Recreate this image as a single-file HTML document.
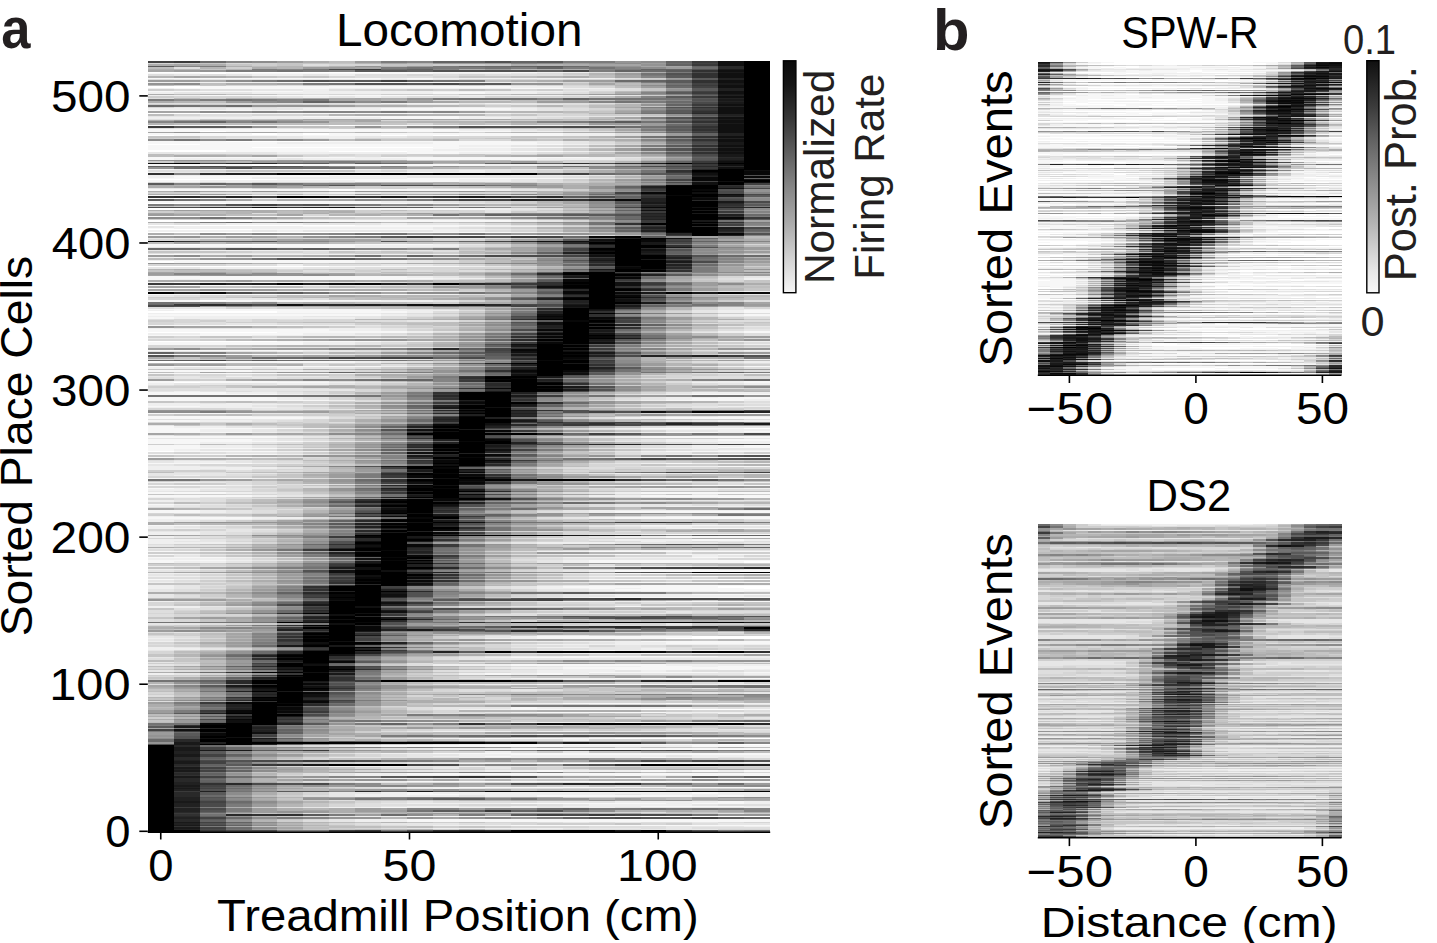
<!DOCTYPE html>
<html><head><meta charset="utf-8"><style>
html,body{margin:0;padding:0;background:#fff;width:1437px;height:943px;overflow:hidden;position:relative}
</style></head><body>
<svg width="1437" height="943" viewBox="0 0 1437 943" style="position:absolute;left:0;top:0">
<defs><linearGradient id="cb" x1="0" y1="0" x2="0" y2="1"><stop offset="0" stop-color="#0a0a0a"/><stop offset="0.1" stop-color="#151515"/><stop offset="0.25" stop-color="#373737"/><stop offset="0.4" stop-color="#5f5f5f"/><stop offset="0.55" stop-color="#878787"/><stop offset="0.7" stop-color="#aaaaaa"/><stop offset="0.85" stop-color="#d2d2d2"/><stop offset="1" stop-color="#f5f5f5"/></linearGradient><linearGradient id="cb2" x1="0" y1="0" x2="0" y2="1"><stop offset="0" stop-color="#101010"/><stop offset="0.2" stop-color="#3c3c3c"/><stop offset="0.35" stop-color="#646464"/><stop offset="0.5" stop-color="#878787"/><stop offset="0.7" stop-color="#b4b4b4"/><stop offset="0.9" stop-color="#e6e6e6"/><stop offset="1" stop-color="#f8f8f8"/></linearGradient></defs>
<g shape-rendering="crispEdges">
<rect x="148" y="61.3" width="622" height="770.7" fill="#fff"/>
<g stroke-width="1.72">
<path stroke="#f7f7f7" d="M381 72.3H537M148 73.8H200M226 73.8H433M148 78.2H381M407 78.2H433M277 82.6H459M200 87.0H511M174 88.5H329M511 88.5H563M148 91.5H303M433 92.9H485M200 95.9H433M381 109.1H511M148 110.6H252M277 110.6H303M329 110.6H355M226 113.5H433M303 116.5H459M381 117.9H459M148 125.3H329M355 125.3H511M148 129.7H459M148 131.2H200M226 131.2H511M148 134.1H252M277 134.1H303M329 134.1H563M174 135.6H381M407 135.6H433M459 135.6H563M148 141.5H226M329 141.5H511M148 142.9H277M433 142.9H537M200 144.4H563M148 145.9H459M148 147.3H252M433 147.3H563M148 148.8H459M226 150.3H433M226 151.8H329M407 151.8H563M407 153.2H459M148 157.6H355M381 157.6H589M148 159.1H174M407 159.1H537M148 165.0H252M303 165.0H485M148 169.4H174M303 169.4H329M407 172.3H433M226 175.3H381M174 176.8H329M148 178.2H252M407 178.2H563M277 179.7H459M148 181.2H200M355 181.2H459M148 190.0H329M355 190.0H485M148 195.9H200M226 195.9H277M148 198.8H174M200 198.8H459M148 201.8H381M226 203.2H407M329 209.1H485M148 216.5H303M329 216.5H433M252 220.9H511M355 225.3H485M303 226.8H459M148 228.2H174M252 229.7H433M381 232.6H511M148 235.6H537M148 244.4H174M200 244.4H226M277 244.4H433M148 245.9H355M303 247.4H355M148 254.7H200M174 257.7H226M252 257.7H407M174 260.6H355M174 262.1H355M329 266.5H459M148 276.8H407M148 278.2H433M148 279.7H174M200 279.7H407M174 282.7H200M252 282.7H277M174 285.6H303M148 288.5H303M303 291.5H407M148 294.4H407M148 300.3H200M226 300.3H381M148 301.8H252M277 301.8H329M148 309.1H381M174 310.6H381M744 310.6H770M277 312.1H407M744 312.1H770M148 315.0H381M744 315.0H770M148 318.0H174M148 325.3H303M148 329.7H329M148 331.2H407M744 331.2H770M277 332.7H407M744 332.7H770M200 334.1H303M148 335.6H252M277 341.5H381M148 343.0H303M148 344.4H303M148 350.3H303M148 354.7H303M226 362.1H355M148 366.5H381M744 366.5H770M148 370.9H252M148 373.8H329M148 381.2H277M744 381.2H770M148 382.7H174M200 382.7H329M744 382.7H770M148 393.0H226M148 394.4H277M692 394.4H770M148 397.4H277M718 397.4H770M148 398.8H277M692 398.8H770M148 400.3H329M666 400.3H744M148 406.2H200M148 413.6H226M744 413.6H770M148 416.5H252M148 418.0H303M666 418.0H770M148 420.9H200M148 426.8H174M148 428.3H303M641 428.3H744M148 429.7H200M148 431.2H200M744 431.2H770M148 432.7H252M666 432.7H718M148 437.1H277M641 437.1H770M148 440.0H252M718 440.0H770M148 441.5H303M148 443.0H200M148 445.9H200M744 445.9H770M148 447.4H200M718 447.4H770M148 448.9H277M148 450.3H174M174 451.8H277M666 451.8H770M148 454.7H277M692 454.7H770M148 457.7H252M666 457.7H770M148 463.6H252M666 463.6H692M718 466.5H770M148 478.3H252M692 478.3H770M148 485.6H226M641 485.6H770M148 488.6H174M148 493.0H226M641 493.0H770M148 495.9H252M641 495.9H770M718 497.4H770M148 504.7H174M148 510.6H200M148 512.1H200M615 512.1H770M148 518.0H252M615 518.0H770M148 525.3H200M641 525.3H770M692 528.3H770M666 534.2H770M666 537.1H770M692 540.0H744M148 551.8H200M589 551.8H770M148 554.8H174M615 554.8H641M666 554.8H692M718 554.8H770M148 557.7H226M692 557.7H744M148 560.6H226M589 560.6H770M148 562.1H174M589 562.1H744M615 570.9H770M615 573.9H770M615 576.8H666M692 576.8H718M148 579.8H174M589 579.8H718M615 582.7H770M641 585.6H770M563 587.1H718M589 588.6H615M641 588.6H744M615 590.1H770M718 591.5H744M692 594.5H770M589 597.4H770M666 601.8H770M615 606.2H641M537 637.1H692M537 638.6H666M641 641.5H770M666 643.0H770M589 650.4H615M641 653.3H666M692 653.3H770M563 656.2H718M511 657.7H589M511 665.1H666M641 666.5H692M718 666.5H770M563 668.0H770M615 669.5H692M718 669.5H744M589 672.4H718M744 672.4H770M485 673.9H511M537 673.9H563M615 678.3H770M537 684.2H666M563 703.3H641M666 703.3H692M718 703.3H744M511 707.7H537M511 709.2H641M744 709.2H770M537 712.1H666M615 722.4H666M718 722.4H744M459 738.6H615M511 744.5H718M381 746.0H563M692 746.0H770M511 748.9H770M433 753.3H770M511 754.8H770M485 756.3H511M641 757.7H666M537 763.6H666M537 771.0H563M641 771.0H666M692 771.0H718M744 771.0H770M407 773.9H770M615 775.4H641M692 775.4H718M744 775.4H770M615 778.3H770M407 781.3H770M459 787.1H770M407 793.0H433M692 793.0H718M407 794.5H459M537 796.0H692M718 796.0H744M718 801.8H744M511 803.3H666M692 803.3H744M641 806.3H744M381 807.7H407M407 816.6H641M407 819.5H770M407 821.0H770M511 825.4H770"/>
<path stroke="#efefef" d="M537 72.3H589M433 73.8H511M252 75.3H303M329 75.3H355M381 78.2H407M433 78.2H615M355 79.7H381M407 79.7H433M148 82.6H277M459 82.6H511M511 87.0H563M148 88.5H174M329 88.5H511M563 88.5H615M303 90.0H329M303 91.5H563M148 92.9H174M252 92.9H433M485 92.9H537M148 95.9H200M433 95.9H563M589 95.9H615M303 97.3H329M355 97.3H381M381 103.2H459M485 103.2H511M433 107.6H485M148 109.1H200M226 109.1H252M303 109.1H381M511 109.1H537M252 110.6H277M303 110.6H329M355 110.6H537M433 113.5H511M252 116.5H303M459 116.5H485M148 117.9H381M459 117.9H511M511 125.3H563M252 128.2H277M459 129.7H511M511 131.2H563M563 134.1H615M563 135.6H615M303 137.0H355M329 138.5H355M511 141.5H563M277 142.9H433M537 142.9H563M563 144.4H589M459 145.9H511M563 147.3H589M459 148.8H511M433 150.3H511M563 151.8H589M277 153.2H407M459 153.2H511M355 157.6H381M589 157.6H615M174 159.1H277M303 159.1H407M537 159.1H615M485 165.0H537M174 169.4H303M329 169.4H381M459 170.9H485M148 172.3H174M355 172.3H407M433 172.3H485M148 175.3H226M381 175.3H485M511 175.3H589M148 176.8H174M329 176.8H407M252 178.2H407M563 178.2H589M459 179.7H511M200 181.2H355M459 181.2H511M485 190.0H511M329 192.9H355M200 195.9H226M277 195.9H459M459 198.8H485M381 201.8H433M407 203.2H459M485 209.1H511M303 216.5H329M433 216.5H485M511 220.9H537M226 223.8H303M381 223.8H407M485 225.3H511M174 226.8H303M459 226.8H537M174 228.2H433M433 229.7H485M148 231.2H252M277 231.2H303M433 231.2H459M511 232.6H537M537 235.6H563M433 244.4H459M355 245.9H459M252 247.4H303M355 247.4H407M200 250.3H381M200 254.7H459M148 257.7H174M226 257.7H252M407 257.7H433M148 260.6H174M355 260.6H407M355 262.1H407M277 265.0H303M459 266.5H485M200 267.9H303M407 276.8H433M433 278.2H485M744 278.2H770M174 279.7H200M407 279.7H433M744 279.7H770M148 282.7H174M200 282.7H252M277 282.7H329M148 285.6H174M303 285.6H329M303 288.5H355M148 291.5H174M200 291.5H303M407 291.5H433M744 291.5H770M407 294.4H459M381 300.3H433M252 301.8H277M329 301.8H433M381 309.1H407M744 309.1H770M148 310.6H174M381 310.6H459M718 310.6H744M407 312.1H433M718 312.1H744M148 313.5H381M381 315.0H407M718 315.0H744M148 316.5H303M174 318.0H355M303 325.3H355M148 328.3H174M303 328.3H381M329 329.7H381M407 331.2H433M718 331.2H744M407 332.7H433M718 332.7H744M148 334.1H200M303 334.1H355M252 335.6H381M252 338.5H381M381 341.5H433M718 341.5H770M303 343.0H355M303 344.4H355M744 344.4H770M381 347.4H407M303 350.3H329M744 350.3H770M277 351.8H303M303 354.7H329M277 359.1H303M744 359.1H770M355 362.1H381M744 362.1H770M381 366.5H407M718 366.5H744M148 368.0H174M226 368.0H252M277 368.0H303M252 370.9H303M329 373.8H355M744 373.8H770M226 376.8H252M277 381.2H329M718 381.2H744M329 382.7H355M692 382.7H744M148 384.1H174M277 384.1H329M744 384.1H770M174 391.5H200M226 393.0H277M692 393.0H770M277 394.4H303M666 394.4H692M277 397.4H303M666 397.4H718M277 398.8H303M666 398.8H692M329 400.3H355M641 400.3H666M744 400.3H770M148 403.3H200M226 403.3H252M148 404.7H329M200 406.2H252M718 406.2H770M148 407.7H277M226 413.6H252M718 413.6H744M252 416.5H303M718 416.5H770M303 418.0H329M615 418.0H666M200 420.9H252M718 420.9H770M174 426.8H226M303 428.3H329M615 428.3H641M200 429.7H252M641 429.7H770M200 431.2H252M718 431.2H744M252 432.7H277M641 432.7H666M718 432.7H770M277 437.1H303M615 437.1H641M252 440.0H277M666 440.0H718M303 441.5H329M666 441.5H770M200 443.0H252M718 443.0H770M200 445.9H252M692 445.9H744M200 447.4H252M692 447.4H718M277 448.9H303M641 448.9H718M174 450.3H200M718 450.3H770M277 451.8H329M641 451.8H666M277 454.7H303M666 454.7H692M252 457.7H277M615 457.7H666M174 462.1H226M252 463.6H277M641 463.6H666M692 463.6H770M148 466.5H200M666 466.5H718M148 468.0H277M148 469.4H200M226 469.4H252M615 473.9H666M692 473.9H718M174 475.3H200M252 478.3H277M641 478.3H692M148 482.7H200M744 482.7H770M226 485.6H252M589 485.6H641M174 488.6H226M641 488.6H770M148 490.0H200M226 493.0H252M615 493.0H641M252 495.9H277M589 495.9H641M148 497.4H200M666 497.4H718M148 500.3H174M148 501.8H174M174 504.7H200M148 506.2H174M666 506.2H770M200 510.6H226M589 510.6H770M200 512.1H226M589 512.1H615M148 516.5H174M666 516.5H770M252 518.0H303M589 518.0H615M148 519.5H252M148 520.9H174M200 525.3H226M615 525.3H641M148 526.8H174M641 526.8H692M148 528.3H200M666 528.3H692M148 532.7H200M148 534.2H200M641 534.2H666M148 537.1H174M615 537.1H666M148 540.0H200M615 540.0H692M744 540.0H770M148 541.5H174M641 541.5H666M148 543.0H226M537 543.0H615M615 550.3H692M200 551.8H252M537 551.8H589M174 554.8H200M563 554.8H615M641 554.8H666M692 554.8H718M692 556.2H718M226 557.7H252M563 557.7H692M744 557.7H770M148 559.2H226M226 560.6H252M563 560.6H589M174 562.1H226M563 562.1H589M148 566.5H174M589 566.5H692M148 569.5H200M692 569.5H718M744 569.5H770M589 570.9H615M148 573.9H200M589 573.9H615M148 576.8H200M589 576.8H615M666 576.8H692M718 576.8H744M174 579.8H200M563 579.8H589M148 582.7H174M589 582.7H615M148 585.6H174M589 585.6H641M148 587.1H174M537 587.1H563M148 588.6H174M537 588.6H589M615 588.6H641M589 590.1H615M641 591.5H718M744 591.5H770M589 594.5H692M615 595.9H744M563 597.4H589M148 601.8H174M563 601.8H666M148 606.2H200M641 606.2H744M148 607.7H200M511 637.1H537M148 638.6H174M485 638.6H537M148 641.5H174M485 641.5H641M615 643.0H666M537 644.5H770M148 647.4H174M537 647.4H589M148 648.9H200M641 648.9H666M563 650.4H589M615 650.4H770M563 653.3H641M666 653.3H692M511 656.2H563M718 656.2H770M485 657.7H511M589 657.7H770M433 665.1H511M666 665.1H770M563 666.5H641M692 666.5H718M511 668.0H563M563 669.5H615M692 669.5H718M744 669.5H770M537 670.9H615M641 670.9H666M537 672.4H589M718 672.4H744M148 673.9H174M459 673.9H485M511 673.9H537M563 673.9H589M744 673.9H770M511 678.3H615M563 679.8H615M666 679.8H692M459 684.2H537M666 684.2H770M511 703.3H563M641 703.3H666M692 703.3H718M744 703.3H770M537 707.7H692M459 709.2H511M511 712.1H537M666 712.1H744M718 713.6H744M511 722.4H589M666 722.4H718M744 722.4H770M433 731.3H511M537 731.3H589M537 734.2H563M433 738.6H459M563 740.1H589M459 744.5H511M355 746.0H381M563 746.0H692M433 748.9H511M485 751.8H511M381 753.3H433M459 754.8H511M433 756.3H485M511 756.3H666M692 756.3H770M459 757.7H641M666 757.7H718M744 757.7H770M744 762.1H770M459 763.6H537M666 763.6H718M329 766.5H407M459 766.5H485M485 771.0H537M563 771.0H641M666 771.0H692M718 771.0H744M355 773.9H407M355 775.4H459M511 775.4H615M641 775.4H692M718 775.4H744M355 778.3H433M459 778.3H615M355 781.3H407M589 782.7H615M641 782.7H666M692 782.7H770M407 787.1H459M433 788.6H459M381 793.0H407M433 793.0H692M718 793.0H770M355 794.5H407M459 794.5H615M641 794.5H770M355 796.0H459M485 796.0H537M692 796.0H718M744 796.0H770M615 801.8H718M744 801.8H770M407 803.3H511M666 803.3H692M744 803.3H770M589 804.8H692M407 806.3H459M511 806.3H537M563 806.3H641M744 806.3H770M329 807.7H381M407 807.7H537M589 807.7H615M744 807.7H770M355 816.6H407M355 819.5H407M355 821.0H407M433 825.4H511M744 826.9H770M433 828.3H563"/>
<path stroke="#e6e6e6" d="M511 73.8H537M174 75.3H200M226 75.3H252M303 75.3H329M174 79.7H355M381 79.7H407M433 79.7H459M511 82.6H537M252 90.0H303M589 90.0H615M563 91.5H589M174 92.9H252M537 92.9H563M563 95.9H589M615 95.9H641M277 97.3H303M329 97.3H355M381 97.3H407M459 97.3H485M459 103.2H485M511 103.2H537M407 104.7H459M511 104.7H563M174 107.6H200M277 107.6H433M485 107.6H537M200 109.1H226M252 109.1H303M537 109.1H563M537 110.6H563M511 113.5H537M148 116.5H252M485 116.5H641M511 117.9H537M563 125.3H589M174 128.2H252M277 128.2H303M511 129.7H537M563 131.2H589M277 137.0H303M355 137.0H407M226 138.5H329M563 141.5H589M563 142.9H589M589 144.4H615M511 145.9H537M589 147.3H615M511 148.8H537M511 150.3H537M589 151.8H615M148 153.2H277M511 153.2H537M615 157.6H641M277 159.1H303M537 165.0H563M381 169.4H563M407 170.9H459M485 170.9H511M174 172.3H355M485 172.3H511M485 175.3H511M589 175.3H615M407 176.8H563M511 179.7H537M511 181.2H537M174 182.6H200M226 182.6H252M148 188.5H252M511 190.0H537M303 192.9H329M355 192.9H381M459 195.9H511M485 198.8H511M433 201.8H459M459 203.2H485M355 206.2H381M407 206.2H485M511 209.1H537M485 210.6H511M485 212.1H511M485 216.5H511M407 219.4H485M537 220.9H563M148 223.8H174M200 223.8H226M303 223.8H381M407 223.8H459M511 225.3H537M148 226.8H174M537 226.8H563M433 228.2H459M485 229.7H511M252 231.2H277M303 231.2H433M459 231.2H485M537 232.6H563M563 235.6H589M148 238.5H226M459 238.5H485M459 244.4H485M148 247.4H252M407 247.4H433M148 250.3H200M381 250.3H433M174 253.2H303M433 257.7H459M407 260.6H433M407 262.1H433M381 265.0H433M485 266.5H511M148 267.9H200M303 267.9H355M433 276.8H459M744 276.8H770M433 279.7H459M329 282.7H381M329 285.6H381M355 288.5H381M174 291.5H200M433 291.5H459M718 291.5H744M744 294.4H770M148 295.9H174M226 298.8H277M433 300.3H459M433 301.8H459M174 307.7H226M718 307.7H744M407 309.1H433M718 309.1H744M692 310.6H718M692 312.1H718M381 313.5H407M407 315.0H433M303 316.5H381M718 316.5H770M355 318.0H381M407 320.9H459M226 323.8H277M355 325.3H381M718 326.8H770M174 328.3H303M381 328.3H407M381 329.7H407M744 329.7H770M433 331.2H459M692 332.7H718M355 334.1H381M381 335.6H407M148 338.5H252M381 338.5H407M355 343.0H381M355 344.4H381M718 344.4H744M200 347.4H226M252 347.4H381M407 347.4H433M329 350.3H355M718 350.3H744M148 351.8H277M303 351.8H355M744 351.8H770M329 354.7H355M744 354.7H770M303 359.1H407M692 359.1H744M381 362.1H407M718 362.1H744M407 366.5H433M692 366.5H718M174 368.0H226M252 368.0H277M303 368.0H355M303 370.9H329M355 373.8H381M718 373.8H744M148 376.8H200M252 376.8H329M174 378.3H226M252 378.3H277M692 381.2H718M355 382.7H381M174 384.1H277M329 384.1H355M718 384.1H744M226 388.6H303M226 390.0H355M148 391.5H174M200 391.5H226M252 391.5H277M277 393.0H303M666 393.0H692M303 394.4H329M641 394.4H666M303 397.4H329M641 397.4H666M303 398.8H329M641 398.8H666M615 400.3H641M200 403.3H226M252 403.3H277M718 403.3H770M329 404.7H355M252 406.2H277M692 406.2H718M277 407.7H303M641 407.7H718M252 409.1H381M252 413.6H303M692 413.6H718M303 416.5H329M666 416.5H718M200 419.4H303M252 420.9H277M692 420.9H718M148 425.3H174M226 426.8H252M666 426.8H770M589 428.3H615M252 429.7H277M615 429.7H641M252 431.2H277M666 431.2H718M277 432.7H303M615 432.7H641M148 435.6H174M303 437.1H329M589 437.1H615M148 438.6H277M744 438.6H770M277 440.0H303M641 440.0H666M329 441.5H355M615 441.5H666M252 443.0H277M692 443.0H718M252 445.9H277M666 445.9H692M252 447.4H277M666 447.4H692M303 448.9H329M615 448.9H641M718 448.9H770M200 450.3H252M692 450.3H718M615 451.8H641M226 453.3H277M641 453.3H692M303 454.7H329M641 454.7H666M277 457.7H303M174 460.6H200M226 460.6H252M148 462.1H174M226 462.1H252M277 463.6H303M615 463.6H641M148 465.0H174M200 466.5H226M641 466.5H666M277 468.0H303M200 469.4H226M148 473.9H277M589 473.9H615M666 473.9H692M718 473.9H770M148 475.3H174M200 475.3H226M277 478.3H303M666 481.2H692M200 482.7H226M718 482.7H744M303 484.2H329M252 485.6H277M226 488.6H252M615 488.6H641M200 490.0H252M641 490.0H718M148 491.5H174M252 493.0H277M589 493.0H615M692 494.5H718M277 495.9H303M200 497.4H226M641 497.4H666M174 500.3H200M641 500.3H770M174 501.8H200M200 504.7H226M615 504.7H692M718 504.7H744M174 506.2H200M615 506.2H666M226 510.6H252M563 510.6H589M226 512.1H252M563 512.1H589M174 516.5H200M641 516.5H666M563 518.0H589M252 519.5H277M174 520.9H200M226 525.3H252M589 525.3H615M174 526.8H200M589 526.8H641M692 526.8H770M200 528.3H226M641 528.3H666M226 529.8H277M148 531.2H252M200 532.7H226M200 534.2H226M615 534.2H641M174 537.1H200M589 537.1H615M537 538.6H563M200 540.0H226M589 540.0H615M174 541.5H226M666 541.5H692M718 541.5H744M226 543.0H252M511 543.0H537M615 543.0H718M744 543.0H770M148 545.9H174M148 548.9H200M589 550.3H615M692 550.3H770M200 554.8H226M537 554.8H563M174 556.2H200M718 556.2H744M252 557.7H277M537 557.7H563M226 559.2H252M563 559.2H718M252 560.6H277M537 560.6H563M226 562.1H252M537 562.1H563M174 566.5H200M563 566.5H589M692 566.5H718M200 569.5H226M641 569.5H692M718 569.5H744M148 570.9H174M563 570.9H589M200 573.9H226M563 573.9H589M148 575.3H174M200 576.8H226M563 576.8H589M744 576.8H770M200 579.8H226M537 579.8H563M148 581.2H174M174 582.7H200M563 582.7H589M174 585.6H200M563 585.6H589M174 587.1H200M511 587.1H537M174 588.6H200M511 588.6H537M148 590.1H174M537 590.1H589M148 591.5H174M589 591.5H641M148 594.5H174M563 594.5H589M148 595.9H174M563 595.9H615M744 595.9H770M148 597.4H174M537 597.4H563M174 601.8H200M537 601.8H563M200 606.2H226M511 606.2H615M744 606.2H770M666 612.1H692M537 613.6H666M148 623.9H200M666 623.9H692M174 632.7H200M537 635.6H589M148 637.1H174M485 637.1H511M174 638.6H200M148 640.1H174M174 641.5H200M459 641.5H485M589 643.0H615M511 644.5H537M563 645.9H589M615 645.9H641M174 647.4H200M511 647.4H537M589 647.4H666M200 648.9H226M589 648.9H641M148 650.4H174M537 650.4H563M537 653.3H563M485 656.2H511M148 657.7H174M459 657.7H485M459 659.2H770M148 662.1H174M744 662.1H770M148 665.1H174M537 666.5H563M485 668.0H511M537 669.5H563M148 670.9H174M459 670.9H537M615 670.9H641M666 670.9H692M744 670.9H770M511 672.4H537M174 673.9H200M589 673.9H744M485 678.3H511M615 679.8H666M692 679.8H718M718 682.7H744M692 688.6H718M511 690.1H537M692 693.0H718M744 693.0H770M485 703.3H511M744 704.8H770M433 707.7H511M692 707.7H718M744 707.7H770M433 709.2H459M485 712.1H511M744 712.1H770M666 713.6H692M744 718.0H770M407 722.4H511M589 722.4H615M718 729.8H770M407 731.3H433M511 731.3H537M589 731.3H666M692 731.3H718M666 737.1H692M407 738.6H433M433 744.5H459M329 746.0H355M407 748.9H433M563 751.8H589M355 753.3H381M407 754.8H459M407 756.3H433M666 756.3H692M329 757.7H459M718 757.7H744M615 762.1H744M407 763.6H459M718 763.6H770M303 766.5H329M407 766.5H459M485 766.5H537M433 768.0H459M485 768.0H511M407 771.0H485M329 773.9H355M329 775.4H355M459 775.4H511M329 778.3H355M433 778.3H459M329 781.3H355M355 782.7H407M511 782.7H537M563 782.7H589M615 782.7H641M666 782.7H692M381 787.1H407M407 788.6H433M459 788.6H485M329 793.0H381M329 794.5H355M615 794.5H641M329 796.0H355M459 796.0H485M407 801.8H433M537 801.8H615M381 803.3H407M563 804.8H589M692 804.8H718M381 806.3H407M459 806.3H511M537 806.3H563M303 807.7H329M537 807.7H589M615 807.7H744M329 816.6H355M329 819.5H355M329 821.0H355M563 822.4H589M615 822.4H641M692 822.4H718M381 823.9H459M718 823.9H770M407 825.4H433M666 826.9H744M407 828.3H433M563 828.3H641M666 828.3H692M641 829.8H718"/>
<path stroke="#dedede" d="M303 65.0H329M174 67.9H200M589 72.3H615M537 73.8H563M148 75.3H174M200 75.3H226M355 75.3H407M433 75.3H459M485 75.3H563M355 76.7H433M615 78.2H641M148 79.7H174M537 79.7H563M537 82.6H563M277 85.6H303M329 85.6H459M485 85.6H537M563 87.0H589M615 88.5H641M200 90.0H252M329 90.0H355M563 90.0H589M615 90.0H641M563 92.9H589M303 94.4H329M355 94.4H381M252 97.3H277M407 97.3H459M148 98.8H174M148 103.2H200M277 103.2H381M537 103.2H615M355 104.7H381M485 104.7H511M563 104.7H589M200 107.6H277M537 107.6H563M563 109.1H589M563 110.6H589M537 113.5H563M200 115.0H252M537 117.9H563M148 119.4H200M148 128.2H174M303 128.2H329M537 129.7H563M589 131.2H615M615 134.1H641M615 135.6H641M226 137.0H277M407 137.0H433M200 138.5H226M615 138.5H641M589 142.9H615M537 145.9H563M615 147.3H641M537 148.8H563M537 150.3H563M537 153.2H563M277 154.7H329M355 154.7H381M329 156.2H381M615 159.1H641M537 160.6H563M563 165.0H589M563 169.4H589M148 170.9H200M355 170.9H381M511 170.9H537M511 172.3H537M563 176.8H589M589 178.2H615M537 179.7H563M537 181.2H563M537 182.6H563M303 188.5H329M407 188.5H511M537 190.0H563M200 192.9H303M381 192.9H459M511 195.9H537M511 198.8H537M459 201.8H485M485 203.2H511M381 206.2H407M485 206.2H537M537 209.1H563M511 210.6H537M252 213.5H277M511 216.5H537M303 219.4H407M485 219.4H511M174 223.8H200M459 223.8H485M537 225.3H563M459 228.2H485M511 229.7H537M485 231.2H511M589 235.6H615M226 238.5H252M433 238.5H459M485 238.5H511M459 245.9H485M433 247.4H459M433 250.3H459M303 251.8H329M433 251.8H459M148 253.2H174M303 253.2H329M459 254.7H485M459 257.7H485M433 260.6H459M433 262.1H459M226 265.0H277M303 265.0H381M433 265.0H459M355 267.9H407M303 270.9H329M407 270.9H433M459 270.9H485M329 272.4H355M485 278.2H511M718 278.2H744M718 279.7H744M381 282.7H407M381 285.6H407M381 288.5H407M459 294.4H485M718 294.4H744M174 295.9H200M200 298.8H226M303 298.8H329M744 300.3H770M744 301.8H770M148 307.7H174M252 307.7H277M433 309.1H459M459 310.6H485M433 312.1H459M407 313.5H433M744 313.5H770M433 315.0H459M692 315.0H718M381 316.5H433M381 318.0H407M744 318.0H770M148 319.4H174M200 319.4H252M277 319.4H303M226 320.9H252M355 320.9H407M718 320.9H770M200 322.4H226M174 323.8H226M277 323.8H355M692 323.8H718M381 325.3H407M355 326.8H381M407 328.3H433M744 328.3H770M718 329.7H744M692 331.2H718M433 332.7H459M381 334.1H407M744 334.1H770M407 335.6H433M744 335.6H770M433 341.5H459M692 341.5H718M381 343.0H407M744 343.0H770M692 344.4H718M174 347.4H200M226 347.4H252M666 347.4H692M744 347.4H770M355 350.3H381M692 350.3H718M355 351.8H381M718 351.8H744M355 354.7H381M718 354.7H744M407 359.1H433M407 362.1H433M692 362.1H718M744 363.6H770M381 365.0H407M355 368.0H381M744 368.0H770M329 370.9H355M744 370.9H770M381 373.8H407M692 373.8H718M226 375.3H252M200 376.8H226M692 376.8H770M148 378.3H174M226 378.3H252M277 378.3H381M641 378.3H770M329 381.2H355M666 381.2H692M381 382.7H407M666 382.7H692M355 384.1H381M692 384.1H718M148 385.6H174M148 388.6H226M303 388.6H329M718 388.6H744M148 390.0H226M226 391.5H252M277 391.5H303M303 393.0H329M329 394.4H355M615 394.4H641M615 398.8H641M355 400.3H381M355 401.8H381M744 401.8H770M277 403.3H303M692 403.3H718M641 404.7H718M744 404.7H770M277 406.2H303M666 406.2H692M303 407.7H329M615 407.7H641M718 407.7H744M226 409.1H252M744 409.1H770M666 413.6H692M641 416.5H666M329 418.0H355M589 418.0H615M148 419.4H200M744 419.4H770M277 420.9H303M666 420.9H692M329 422.4H355M252 426.8H277M641 426.8H666M329 428.3H355M589 429.7H615M277 431.2H303M303 432.7H329M589 432.7H615M200 435.6H226M277 438.6H303M303 440.0H329M615 440.0H641M355 441.5H381M589 441.5H615M277 443.0H303M666 443.0H692M174 444.4H200M277 445.9H303M641 445.9H666M641 447.4H666M589 448.9H615M252 450.3H277M666 450.3H692M329 451.8H355M589 451.8H615M148 453.3H174M200 453.3H226M277 453.3H303M615 453.3H641M718 453.3H744M615 454.7H641M303 457.7H329M589 457.7H615M148 460.6H174M200 460.6H226M252 460.6H277M252 462.1H303M589 463.6H615M174 465.0H200M226 466.5H252M615 466.5H641M563 468.0H615M252 469.4H277M226 470.9H252M277 470.9H303M174 472.4H226M563 473.9H589M226 475.3H252M303 478.3H329M615 478.3H641M200 481.2H252M641 481.2H666M226 482.7H252M666 482.7H718M226 484.2H252M277 484.2H303M329 484.2H355M718 484.2H744M563 485.6H589M200 487.1H252M303 487.1H329M252 488.6H277M589 488.6H615M615 490.0H641M718 490.0H770M174 491.5H200M277 493.0H303M563 493.0H589M277 494.5H303M615 494.5H641M303 495.9H329M563 495.9H589M226 497.4H252M615 497.4H641M174 498.9H303M200 500.3H226M615 500.3H641M200 501.8H226M226 504.7H252M589 504.7H615M692 504.7H718M744 504.7H770M200 506.2H226M589 506.2H615M148 507.7H252M277 509.2H303M252 510.6H277M252 512.1H277M537 512.1H563M174 513.6H252M200 516.5H226M615 516.5H641M303 518.0H329M537 518.0H563M744 519.5H770M200 520.9H226M252 525.3H277M563 525.3H589M200 526.8H226M226 528.3H252M615 528.3H641M252 531.2H277M537 531.2H563M615 531.2H641M226 532.7H252M226 534.2H252M589 534.2H615M200 537.1H226M563 537.1H589M563 538.6H589M226 540.0H252M563 540.0H589M563 541.5H589M615 541.5H641M692 541.5H718M744 541.5H770M718 543.0H744M148 544.5H174M174 545.9H226M200 548.9H226M148 550.3H174M563 550.3H589M252 551.8H277M511 551.8H537M666 553.3H692M226 554.8H252M511 554.8H537M277 557.7H303M511 559.2H563M277 560.6H303M511 560.6H537M589 565.0H615M200 566.5H226M718 566.5H770M226 569.5H252M537 569.5H641M174 570.9H200M537 570.9H563M537 573.9H563M174 575.3H200M589 575.3H615M226 576.8H252M537 576.8H563M148 578.3H200M589 578.3H615M226 579.8H252M511 579.8H537M174 581.2H200M200 582.7H226M537 582.7H563M200 585.6H226M537 585.6H563M485 587.1H511M200 588.6H226M485 588.6H511M174 590.1H200M174 591.5H200M563 591.5H589M537 594.5H563M174 595.9H200M537 595.9H563M174 597.4H200M511 597.4H537M511 601.8H537M589 603.3H615M641 603.3H666M615 604.8H641M226 606.2H252M459 606.2H511M200 607.7H226M174 609.2H226M148 610.6H174M537 610.6H666M148 612.1H174M692 612.1H770M511 613.6H537M666 613.6H692M148 615.1H174M485 615.1H537M148 616.5H174M148 619.5H174M148 620.9H174M200 623.9H226M615 625.4H641M666 625.4H692M148 632.7H174M718 632.7H744M485 635.6H511M641 635.6H692M174 637.1H200M459 637.1H485M459 638.6H485M433 641.5H459M563 643.0H589M148 644.5H174M511 645.9H563M641 645.9H666M718 645.9H744M666 647.4H770M537 648.9H589M666 648.9H692M511 650.4H537M511 653.3H537M459 656.2H485M433 657.7H459M148 659.2H174M433 659.2H459M459 662.1H485M718 662.1H744M407 663.6H433M174 665.1H200M407 665.1H433M511 666.5H537M511 669.5H537M174 670.9H200M433 670.9H459M692 670.9H744M485 672.4H511M433 673.9H459M744 675.4H770M459 678.3H485M537 679.8H563M718 679.8H744M692 682.7H718M148 684.2H174M433 684.2H459M459 690.1H511M537 690.1H563M459 691.5H485M511 691.5H537M666 693.0H692M718 693.0H744M148 696.0H174M148 701.8H174M459 703.3H485M692 704.8H718M407 707.7H433M718 707.7H744M407 709.2H433M744 710.7H770M459 712.1H485M433 713.6H485M692 713.6H718M744 713.6H770M615 718.0H641M692 718.0H718M407 719.5H459M381 722.4H407M718 725.4H770M744 726.8H770M692 728.3H718M433 729.8H485M666 729.8H718M381 731.3H407M666 731.3H692M718 731.3H770M511 734.2H537M589 734.2H615M589 737.1H666M381 738.6H407M485 740.1H563M407 744.5H433M303 746.0H329M381 748.9H407M511 751.8H537M329 753.3H355M381 754.8H407M381 756.3H407M407 762.1H459M485 762.1H511M537 762.1H615M381 763.6H407M537 766.5H615M692 766.5H718M381 768.0H433M485 769.5H511M563 769.5H589M381 771.0H407M303 773.9H329M303 775.4H329M303 778.3H329M303 781.3H329M329 782.7H355M407 782.7H511M537 782.7H563M355 787.1H381M381 788.6H407M485 788.6H563M666 788.6H692M744 788.6H770M303 796.0H329M329 800.4H355M381 801.8H407M433 801.8H537M355 803.3H381M355 804.8H459M537 804.8H563M718 804.8H770M355 806.3H381M277 807.7H303M641 812.1H666M303 813.6H329M718 813.6H744M303 816.6H329M303 821.0H329M537 822.4H563M589 822.4H615M641 822.4H692M718 822.4H744M355 823.9H381M459 823.9H511M692 823.9H718M381 825.4H407M589 826.9H666M381 828.3H407M641 828.3H666M692 828.3H770M537 829.8H563M589 829.8H641"/>
<path stroke="#d6d6d6" d="M148 63.5H174M226 63.5H252M329 65.0H381M407 75.3H433M459 75.3H485M563 75.3H589M329 76.7H355M433 76.7H459M459 79.7H537M563 79.7H615M563 82.6H589M226 85.6H277M537 85.6H589M589 87.0H615M174 90.0H200M355 90.0H381M511 90.0H537M589 91.5H615M277 94.4H303M329 94.4H355M433 94.4H459M174 97.3H252M485 97.3H589M433 100.3H459M200 103.2H277M226 104.7H277M303 104.7H355M381 104.7H407M459 104.7H485M148 107.6H174M563 107.6H589M589 109.1H615M174 115.0H200M252 115.0H303M537 115.0H589M641 116.5H666M563 117.9H589M381 120.9H407M459 120.9H511M407 123.8H433M589 125.3H615M355 128.2H381M407 128.2H433M563 129.7H589M407 132.6H433M459 132.6H485M200 137.0H226M433 137.0H511M174 138.5H200M355 138.5H433M537 138.5H589M459 140.0H511M589 141.5H615M615 144.4H641M563 145.9H589M615 151.8H641M563 153.2H589M252 154.7H277M329 154.7H355M381 154.7H407M511 154.7H537M303 156.2H329M407 156.2H433M641 157.6H666M511 160.6H537M563 160.6H641M563 162.1H589M200 170.9H226M381 170.9H407M537 170.9H563M537 172.3H563M563 181.2H589M148 182.6H174M200 182.6H226M252 182.6H329M511 182.6H537M563 182.6H589M252 188.5H277M355 188.5H381M511 188.5H537M459 192.9H511M485 201.8H511M303 206.2H355M459 210.6H485M381 212.1H485M537 212.1H563M303 215.0H329M277 219.4H303M563 220.9H589M485 223.8H511M563 226.8H589M485 228.2H511M511 231.2H537M563 232.6H589M303 238.5H329M355 238.5H381M407 238.5H433M148 240.0H174M433 240.0H485M485 244.4H511M744 244.4H770M485 245.9H511M252 251.8H303M407 251.8H433M329 253.2H355M485 254.7H511M744 254.7H770M148 265.0H226M459 265.0H485M511 266.5H537M407 267.9H511M277 269.4H303M355 269.4H381M407 269.4H459M329 270.9H355M381 270.9H407M433 270.9H459M485 270.9H511M277 272.4H329M355 272.4H381M459 276.8H485M718 276.8H744M459 279.7H485M718 281.2H744M303 287.1H329M407 288.5H433M459 291.5H485M692 291.5H718M200 295.9H226M148 298.8H200M277 298.8H303M459 300.3H485M459 301.8H485M226 307.7H252M277 307.7H303M692 307.7H718M744 307.7H770M692 309.1H718M666 312.1H692M692 316.5H718M174 319.4H200M252 319.4H277M303 319.4H355M174 320.9H200M252 320.9H355M459 320.9H485M148 322.4H200M148 323.8H174M718 323.8H744M381 326.8H407M433 326.8H459M407 329.7H433M459 331.2H485M174 337.1H200M252 337.1H277M407 338.5H433M744 338.5H770M148 340.0H200M381 344.4H407M148 345.9H226M148 347.4H174M433 347.4H459M692 347.4H744M381 350.3H407M381 354.7H407M148 359.1H174M252 359.1H277M666 359.1H692M303 363.6H355M718 363.6H744M303 365.0H329M433 366.5H459M666 366.5H692M355 370.9H381M718 370.9H744M174 372.4H200M174 375.3H226M252 375.3H277M641 375.3H692M718 375.3H744M329 376.8H355M666 376.8H692M355 381.2H381M174 385.6H200M200 387.1H226M744 388.6H770M355 390.0H381M303 391.5H329M355 391.5H381M641 393.0H666M329 397.4H355M615 397.4H641M329 398.8H355M589 400.3H615M303 401.8H355M303 403.3H329M355 404.7H381M615 404.7H641M718 404.7H744M744 407.7H770M148 409.1H226M303 413.6H329M641 413.6H666M355 415.0H381M329 416.5H355M303 419.4H329M303 420.9H329M148 422.4H277M303 422.4H329M200 425.3H226M277 426.8H303M563 428.3H589M277 429.7H303M641 431.2H666M174 435.6H200M226 435.6H303M329 437.1H355M563 437.1H589M718 438.6H744M615 445.9H641M277 447.4H303M615 447.4H641M329 448.9H355M641 450.3H666M174 453.3H200M692 453.3H718M329 454.7H355M303 459.2H329M277 460.6H303M718 460.6H744M615 462.1H666M303 463.6H329M200 465.0H277M589 465.0H641M589 466.5H615M303 468.0H329M537 468.0H563M615 468.0H718M744 468.0H770M277 469.4H329M589 469.4H615M252 470.9H277M303 470.9H329M563 470.9H589M277 473.9H303M252 475.3H277M615 475.3H641M148 476.8H252M589 478.3H615M174 481.2H200M252 481.2H277M615 481.2H641M252 482.7H277M615 482.7H666M148 484.2H174M252 484.2H277M277 485.6H303M148 487.1H200M277 487.1H303M563 488.6H589M252 490.0H277M589 490.0H615M200 491.5H277M226 494.5H277M303 494.5H329M641 494.5H666M148 498.9H174M563 501.8H666M718 501.8H744M148 503.3H174M252 504.7H277M563 504.7H589M226 506.2H252M252 507.7H277M303 507.7H329M252 509.2H277M537 510.6H563M148 513.6H174M252 513.6H277M226 516.5H252M589 516.5H615M277 519.5H303M744 520.9H770M692 523.9H718M226 526.8H252M563 526.8H589M589 528.3H615M148 529.8H174M200 529.8H226M277 529.8H303M511 531.2H537M563 531.2H589M252 532.7H277M563 532.7H770M563 534.2H589M148 538.6H174M200 538.6H277M511 538.6H537M589 538.6H615M226 541.5H252M537 541.5H563M589 541.5H615M252 543.0H277M485 543.0H511M744 545.9H770M174 550.3H200M537 550.3H563M148 556.2H174M200 556.2H226M615 556.2H692M744 556.2H770M511 557.7H537M252 559.2H277M718 559.2H770M252 562.1H277M511 562.1H537M200 565.0H226M537 566.5H563M200 570.9H226M511 570.9H537M226 573.9H252M511 573.9H537M200 575.3H226M563 575.3H589M615 575.3H641M200 578.3H226M563 578.3H589M615 578.3H666M692 578.3H718M666 581.2H692M226 584.2H252M200 587.1H226M511 590.1H537M200 591.5H226M537 591.5H563M174 594.5H200M511 595.9H537M200 597.4H226M226 598.9H252M200 601.8H226M485 601.8H511M148 603.3H174M537 603.3H589M666 603.3H692M148 604.8H174M589 604.8H615M459 607.7H485M174 610.6H200M666 610.6H770M563 612.1H589M641 612.1H666M148 613.6H174M692 613.6H744M174 615.1H252M174 616.5H200M174 619.5H200M174 620.9H200M511 620.9H537M226 623.9H252M589 623.9H666M148 625.4H174M563 625.4H615M641 625.4H666M200 632.7H226M615 632.7H718M718 634.2H770M148 635.6H174M589 635.6H615M200 638.6H226M174 640.1H200M148 643.0H174M537 643.0H563M174 644.5H200M485 644.5H511M148 645.9H174M459 645.9H511M589 645.9H615M692 645.9H718M744 645.9H770M200 647.4H226M485 647.4H511M226 648.9H252M511 648.9H537M718 648.9H744M174 650.4H200M148 651.8H174M148 653.3H174M485 653.3H511M589 654.8H641M174 657.7H200M174 662.1H200M485 662.1H563M589 662.1H615M692 662.1H718M485 666.5H511M148 668.0H174M459 668.0H485M459 672.4H485M200 673.9H226M718 675.4H744M148 676.8H200M459 676.8H511M485 679.8H537M744 679.8H770M615 682.7H692M744 682.7H770M511 687.1H537M666 688.6H692M718 688.6H770M433 690.1H459M407 691.5H459M485 691.5H511M148 693.0H174M407 696.0H433M459 696.0H485M433 697.4H459M485 697.4H511M485 698.9H511M666 700.4H692M563 701.8H641M433 703.3H459M433 704.8H459M589 704.8H692M718 704.8H744M381 706.2H407M433 710.7H459M692 710.7H744M433 712.1H459M407 713.6H433M641 715.1H666M641 718.0H692M718 718.0H744M381 719.5H407M459 719.5H485M718 719.5H770M537 725.4H563M381 726.8H407M666 728.3H692M407 729.8H433M485 729.8H537M563 729.8H589M641 729.8H666M744 732.7H770M485 734.2H511M563 734.2H589M666 734.2H692M692 737.1H744M459 740.1H485M589 740.1H641M666 740.1H692M355 748.9H381M433 751.8H485M303 753.3H329M355 754.8H381M355 756.3H381M303 757.7H329M303 759.2H329M744 759.2H770M355 762.1H407M459 762.1H485M511 762.1H537M355 763.6H381M277 766.5H303M615 766.5H692M718 766.5H770M355 768.0H381M459 768.0H485M537 768.0H563M537 769.5H563M355 771.0H381M744 772.4H770M277 775.4H303M303 782.7H329M563 785.7H589M329 787.1H355M355 788.6H381M563 788.6H615M692 788.6H744M615 790.1H666M303 793.0H329M303 794.5H329M355 801.8H381M329 804.8H355M459 804.8H537M329 806.3H355M615 812.1H641M303 819.5H329M485 822.4H537M744 822.4H770M329 823.9H355M511 823.9H537M641 823.9H666M355 825.4H381M511 826.9H589M355 828.3H381M511 829.8H537M563 829.8H589M718 829.8H770"/>
<path stroke="#cecece" d="M174 63.5H200M252 63.5H277M252 65.0H277M433 65.0H485M226 67.9H252M615 72.3H641M563 73.8H589M277 76.7H303M641 78.2H666M615 79.7H641M174 85.6H200M303 85.6H329M459 85.6H485M148 90.0H174M381 90.0H407M433 90.0H459M537 90.0H563M589 92.9H615M381 94.4H433M641 95.9H666M148 97.3H174M200 98.8H226M459 100.3H511M615 103.2H641M148 104.7H226M277 104.7H303M589 104.7H615M485 106.2H511M563 106.2H589M589 110.6H615M563 113.5H589M303 115.0H329M485 115.0H511M589 115.0H641M226 119.4H252M615 119.4H641M407 120.9H459M511 120.9H537M329 128.2H355M381 128.2H407M537 128.2H563M641 134.1H666M641 135.6H666M148 138.5H174M433 138.5H485M511 138.5H537M589 138.5H615M615 142.9H641M563 148.8H589M563 150.3H589M174 154.7H200M226 154.7H252M407 154.7H459M485 154.7H511M381 156.2H407M407 160.6H459M148 162.1H174M589 162.1H615M589 165.0H615M589 169.4H615M615 175.3H641M589 176.8H615M615 178.2H641M563 179.7H589M329 182.6H355M485 182.6H511M200 185.6H226M355 187.1H433M277 188.5H303M329 188.5H355M381 188.5H407M563 190.0H589M148 192.9H200M511 192.9H537M252 194.4H277M303 194.4H355M537 195.9H563M537 198.8H563M511 201.8H537M511 203.2H537M174 206.2H303M537 206.2H563M355 210.6H381M407 210.6H459M537 210.6H563M148 212.1H174M355 212.1H381M511 212.1H537M355 217.9H407M148 219.4H277M511 219.4H537M563 225.3H589M511 228.2H537M537 229.7H563M252 238.5H303M329 238.5H355M381 238.5H407M511 238.5H537M174 240.0H200M381 242.9H407M433 242.9H459M459 247.4H485M459 250.3H485M226 251.8H252M355 251.8H381M355 253.2H407M433 253.2H459M485 257.7H511M459 260.6H485M459 262.1H485M303 263.5H329M744 266.5H770M511 267.9H537M303 269.4H329M277 270.9H303M355 270.9H381M407 273.8H433M692 279.7H718M407 282.7H433M407 285.6H433M459 290.0H485M485 294.4H511M226 295.9H277M148 297.4H226M718 300.3H744M718 301.8H744M433 303.2H459M303 307.7H329M666 310.6H692M459 312.1H485M433 313.5H459M718 313.5H744M666 315.0H692M433 316.5H459M407 318.0H433M718 318.0H744M148 320.9H174M200 320.9H226M692 320.9H718M226 322.4H277M718 322.4H744M355 323.8H381M744 323.8H770M407 325.3H433M744 325.3H770M329 326.8H355M407 326.8H433M433 328.3H459M718 328.3H744M692 329.7H718M666 331.2H692M459 332.7H485M666 332.7H692M407 334.1H433M718 334.1H744M433 335.6H459M718 335.6H744M148 337.1H174M200 340.0H226M459 341.5H485M666 341.5H692M407 343.0H433M718 343.0H744M666 344.4H692M744 345.9H770M641 347.4H666M381 351.8H407M692 351.8H718M303 353.3H329M692 354.7H718M174 359.1H200M226 359.1H252M433 362.1H459M666 362.1H692M355 363.6H381M355 365.0H381M407 365.0H433M744 365.0H770M381 368.0H407M718 368.0H744M277 369.4H303M407 373.8H433M666 373.8H692M329 375.3H355M692 375.3H718M355 376.8H381M381 378.3H407M615 378.3H641M174 379.7H226M641 381.2H666M407 382.7H433M641 382.7H666M381 384.1H407M666 384.1H692M200 385.6H226M252 385.6H277M615 385.6H641M148 387.1H200M329 388.6H355M692 388.6H718M329 391.5H355M692 391.5H718M329 393.0H355M381 400.3H407M174 401.8H200M277 401.8H303M718 401.8H744M666 403.3H692M303 406.2H329M641 406.2H666M329 407.7H355M589 407.7H615M381 409.1H407M692 409.1H744M252 410.6H277M148 415.0H174M252 415.0H355M381 415.0H407M615 416.5H641M355 418.0H381M563 418.0H589M692 419.4H744M641 420.9H666M277 422.4H303M277 423.9H303M329 423.9H355M252 425.3H277M615 426.8H641M355 428.3H381M563 429.7H589M303 431.2H329M563 432.7H589M303 435.6H355M303 438.6H329M615 438.6H718M329 440.0H355M303 443.0H329M641 443.0H666M148 444.4H174M226 444.4H252M303 445.9H329M277 450.3H303M355 451.8H381M303 453.3H329M744 453.3H770M589 454.7H615M174 456.2H226M563 457.7H589M744 460.6H770M303 462.1H329M666 462.1H692M277 465.0H355M666 465.0H718M252 466.5H277M718 468.0H744M563 469.4H589M641 469.4H666M148 470.9H226M589 470.9H666M537 473.9H563M641 475.3H666M329 478.3H355M148 481.2H174M692 481.2H718M174 484.2H226M692 484.2H718M537 485.6H563M252 487.1H277M277 488.6H303M277 491.5H303M615 491.5H641M537 493.0H563M174 494.5H226M744 494.5H770M537 495.9H563M252 497.4H277M589 497.4H615M303 498.9H329M226 500.3H252M589 500.3H615M226 501.8H252M666 501.8H718M744 501.8H770M200 503.3H226M563 506.2H589M277 507.7H303M641 509.2H666M277 510.6H303M277 512.1H303M148 515.0H174M537 519.5H589M641 519.5H744M226 520.9H252M589 520.9H615M641 520.9H692M718 520.9H744M277 525.3H303M537 525.3H563M252 528.3H277M174 529.8H200M277 531.2H303M485 531.2H511M641 531.2H666M252 534.2H277M226 537.1H252M537 537.1H563M174 538.6H200M615 538.6H641M252 540.0H277M537 540.0H563M511 541.5H537M174 544.5H200M226 545.9H252M563 545.9H589M615 545.9H641M226 548.9H252M718 548.9H770M277 551.8H303M485 551.8H511M148 553.3H200M692 553.3H770M252 554.8H277M485 554.8H511M485 559.2H511M200 563.6H226M744 563.6H770M148 565.0H200M226 565.0H252M511 565.0H563M641 565.0H666M226 566.5H252M252 569.5H277M511 569.5H537M641 575.3H666M252 576.8H277M511 576.8H537M666 578.3H692M252 579.8H277M485 579.8H511M200 581.2H226M641 581.2H666M226 582.7H252M511 582.7H537M200 584.2H226M226 585.6H252M200 590.1H226M200 594.5H226M511 594.5H537M200 595.9H226M485 597.4H511M174 603.3H200M615 603.3H641M692 603.3H718M537 604.8H589M433 606.2H459M226 607.7H252M485 607.7H563M511 610.6H537M174 612.1H200M537 612.1H563M589 612.1H641M485 613.6H511M744 613.6H770M459 615.1H485M200 616.5H252M537 619.5H563M252 623.9H277M563 623.9H589M692 623.9H744M174 625.4H200M537 625.4H563M174 634.2H200M692 634.2H718M174 635.6H200M511 635.6H537M615 635.6H641M692 635.6H718M744 635.6H770M433 637.1H459M433 638.6H459M744 640.1H770M200 641.5H226M511 643.0H537M174 645.9H200M433 645.9H459M666 645.9H692M485 648.9H511M692 648.9H718M744 648.9H770M485 650.4H511M511 654.8H537M433 656.2H459M433 662.1H459M563 662.1H589M615 662.1H692M148 663.6H200M433 663.6H459M666 663.6H718M381 665.1H407M485 669.5H511M200 670.9H226M407 673.9H433M148 675.4H200M692 675.4H718M407 676.8H459M511 676.8H537M433 678.3H459M148 679.8H174M433 679.8H459M407 684.2H433M615 688.6H666M563 690.1H589M537 691.5H563M589 691.5H615M615 693.0H666M148 694.5H174M537 697.4H563M459 698.9H485M537 700.4H641M511 701.8H563M641 701.8H692M459 704.8H589M381 707.7H407M407 710.7H433M666 710.7H692M485 713.6H589M615 713.6H641M692 715.1H718M381 716.5H407M692 716.5H718M148 718.0H174M511 718.0H615M485 719.5H511M666 719.5H718M511 721.0H537M355 722.4H381M641 725.4H666M692 726.8H744M381 729.8H407M537 729.8H563M589 729.8H641M355 731.3H381M355 732.7H381M459 734.2H485M615 734.2H641M303 737.1H381M563 737.1H589M744 737.1H770M355 738.6H381M641 740.1H666M718 741.5H744M381 744.5H407M277 746.0H303M615 747.4H641M692 747.4H718M537 751.8H563M329 756.3H355M277 759.2H303M718 759.2H744M329 762.1H355M329 763.6H355M511 768.0H537M718 768.0H770M433 769.5H485M511 769.5H537M277 773.9H303M641 776.8H666M277 778.3H303M511 779.8H537M537 785.7H563M615 785.7H641M615 788.6H666M589 790.1H615M666 790.1H692M277 796.0H303M563 797.4H615M303 800.4H329M407 800.4H433M329 803.3H355M252 807.7H277M433 812.1H459M511 812.1H563M589 812.1H615M329 813.6H355M692 813.6H718M744 813.6H770M277 816.6H303M277 821.0H303M433 822.4H459M537 823.9H615M666 823.9H692M433 826.9H459M485 826.9H511M329 828.3H355M433 829.8H459M485 829.8H511"/>
<path stroke="#c5c5c5" d="M200 63.5H226M277 63.5H355M226 65.0H252M277 65.0H303M381 65.0H433M485 65.0H511M303 66.4H329M200 69.4H226M252 76.7H277M303 76.7H329M459 76.7H511M641 79.7H666M563 84.1H589M200 85.6H226M589 85.6H615M641 88.5H666M407 90.0H433M485 90.0H511M641 90.0H666M226 94.4H277M459 94.4H511M589 97.3H615M511 106.2H537M641 106.2H666M589 112.0H615M511 115.0H537M641 115.0H666M200 119.4H226M252 119.4H277M537 120.9H615M381 123.8H407M433 123.8H459M485 123.8H511M615 125.3H641M329 126.8H355M433 128.2H459M485 128.2H537M563 128.2H589M589 129.7H615M615 131.2H641M329 132.6H355M381 132.6H407M433 132.6H459M485 132.6H511M148 137.0H200M511 137.0H589M485 138.5H511M381 140.0H433M537 140.0H563M641 147.3H666M589 153.2H615M200 154.7H226M459 154.7H485M277 156.2H303M433 156.2H485M641 159.1H666M511 167.9H537M226 170.9H355M563 170.9H589M563 172.3H589M589 181.2H615M459 182.6H485M329 187.1H355M433 187.1H459M537 188.5H563M252 200.3H277M148 206.2H174M563 209.1H589M174 212.1H200M563 212.1H589M329 213.5H355M537 216.5H563M329 217.9H355M433 222.4H459M511 223.8H537M537 231.2H563M407 240.0H433M355 242.9H381M407 242.9H433M148 251.8H226M329 251.8H355M381 251.8H407M485 251.8H511M407 253.2H433M511 259.1H537M329 263.5H381M485 265.0H511M226 269.4H277M329 269.4H355M459 269.4H485M148 270.9H174M252 270.9H277M433 272.4H459M381 273.8H407M511 278.2H537M692 278.2H718M692 281.2H718M744 281.2H770M744 282.7H770M744 285.6H770M200 287.1H252M355 287.1H381M433 288.5H459M744 288.5H770M744 290.0H770M692 294.4H718M485 295.9H511M226 297.4H252M329 298.8H355M407 303.2H433M329 307.7H381M459 309.1H485M485 310.6H511M459 315.0H485M666 316.5H692M744 319.4H770M277 322.4H303M381 322.4H433M744 322.4H770M381 323.8H407M666 323.8H692M303 326.8H329M459 326.8H485M692 326.8H718M433 329.7H459M200 337.1H252M277 337.1H303M433 338.5H459M407 344.4H433M226 345.9H252M381 345.9H433M718 345.9H744M666 350.3H692M407 354.7H433M174 357.7H200M200 359.1H226M433 359.1H459M277 363.6H303M692 363.6H718M329 365.0H355M718 365.0H744M148 369.4H226M252 369.4H277M381 370.9H407M692 370.9H718M148 375.3H174M277 375.3H329M641 376.8H666M226 385.6H252M277 385.6H329M355 385.6H381M692 385.6H718M226 387.1H252M381 390.0H407M381 391.5H407M666 391.5H692M615 393.0H641M355 394.4H381M589 394.4H615M355 397.4H381M589 397.4H615M355 398.8H381M589 398.8H615M148 401.8H174M200 401.8H226M252 401.8H277M381 401.8H407M329 403.3H355M381 404.7H407M641 409.1H666M277 410.6H303M329 413.6H355M615 413.6H641M174 415.0H226M355 416.5H381M329 419.4H355M666 419.4H692M329 420.9H355M200 423.9H226M303 423.9H329M174 425.3H200M226 425.3H252M277 425.3H303M303 429.7H329M615 431.2H641M329 432.7H355M589 438.6H615M589 440.0H615M381 441.5H407M252 444.4H277M303 444.4H329M303 447.4H329M589 447.4H615M563 448.9H589M615 450.3H641M563 451.8H589M563 453.3H615M355 454.7H381M148 456.2H174M329 457.7H355M329 459.2H381M589 462.1H615M692 462.1H718M329 463.6H355M563 463.6H589M563 465.0H589M641 465.0H666M615 469.4H641M666 470.9H718M226 472.4H252M563 472.4H589M303 473.9H329M277 475.3H303M589 475.3H615M666 475.3H692M252 476.8H303M718 476.8H744M277 481.2H303M589 481.2H615M744 481.2H770M277 482.7H303M589 482.7H615M744 484.2H770M303 485.6H329M329 487.1H355M277 490.0H303M589 491.5H615M641 491.5H718M303 493.0H329M148 494.5H174M666 494.5H692M718 494.5H744M329 495.9H355M252 506.2H277M226 509.2H252M303 509.2H329M615 509.2H641M511 512.1H537M277 513.6H303M200 515.0H252M252 516.5H277M563 516.5H589M329 518.0H355M511 519.5H537M615 519.5H641M563 520.9H589M615 520.9H641M692 520.9H718M615 523.9H666M718 523.9H770M537 526.8H563M563 528.3H589M615 529.8H641M589 531.2H615M277 532.7H303M537 534.2H563M277 538.6H303M641 538.6H692M252 541.5H277M200 544.5H226M537 544.5H563M537 545.9H563M589 545.9H615M692 545.9H718M200 550.3H226M200 553.3H226M226 556.2H252M303 557.7H329M303 560.6H329M174 563.6H200M718 563.6H744M615 565.0H641M666 565.0H692M511 566.5H537M148 568.0H174M226 575.3H252M226 578.3H252M537 578.3H563M718 578.3H744M589 581.2H641M692 581.2H744M148 584.2H200M252 584.2H303M511 584.2H589M511 585.6H537M226 587.1H252M459 587.1H485M226 588.6H252M459 588.6H485M485 590.1H511M226 591.5H252M511 591.5H537M200 598.9H226M252 598.9H277M692 600.3H718M511 603.3H537M718 603.3H770M174 604.8H200M511 604.8H537M641 604.8H692M433 607.7H459M589 607.7H615M641 607.7H666M692 607.7H770M148 609.2H174M226 609.2H252M200 610.6H226M511 612.1H537M174 613.6H200M537 615.1H615M148 618.0H174M200 619.5H226M563 619.5H589M200 620.9H226M485 620.9H511M537 623.9H563M744 623.9H770M692 625.4H718M174 626.8H200M226 626.8H252M174 629.8H200M226 632.7H252M148 634.2H174M666 634.2H692M200 635.6H226M459 635.6H485M718 635.6H744M200 637.1H226M200 640.1H226M692 640.1H718M407 641.5H433M174 643.0H200M459 644.5H485M433 648.9H459M200 650.4H226M174 653.3H200M459 653.3H485M148 654.8H174M537 654.8H589M148 656.2H174M407 657.7H433M174 659.2H200M407 659.2H433M174 660.7H200M433 660.7H459M459 663.6H485M718 663.6H744M459 666.5H485M174 668.0H200M433 668.0H459M148 669.5H174M407 670.9H433M433 672.4H459M407 675.4H433M666 675.4H692M200 676.8H226M537 676.8H589M148 678.3H174M459 679.8H485M433 682.7H459M174 684.2H200M485 685.7H511M589 687.1H615M563 688.6H615M148 690.1H174M589 690.1H641M744 690.1H770M381 691.5H407M563 691.5H589M407 693.0H485M563 693.0H615M174 696.0H200M433 696.0H459M485 696.0H511M407 697.4H433M511 697.4H537M148 698.9H174M407 698.9H433M485 700.4H511M174 701.8H200M485 701.8H511M692 701.8H744M407 703.3H433M407 704.8H433M381 709.2H407M641 710.7H666M407 712.1H433M589 713.6H615M641 713.6H666M666 715.1H692M666 716.5H692M744 716.5H770M485 718.0H511M355 719.5H381M511 719.5H563M589 719.5H615M641 719.5H666M148 721.0H174M537 721.0H589M329 725.4H381M407 725.4H433M459 725.4H485M666 725.4H718M355 726.8H381M407 726.8H485M615 728.3H666M718 728.3H770M381 732.7H433M433 734.2H459M641 734.2H666M537 737.1H563M433 740.1H459M744 741.5H770M666 747.4H692M329 748.9H355M407 751.8H433M589 751.8H641M277 753.3H303M329 754.8H355M277 757.7H303M329 759.2H381M692 759.2H718M329 768.0H355M563 768.0H589M641 768.0H718M589 769.5H615M329 771.0H355M252 772.4H277M718 772.4H744M459 779.8H485M537 779.8H589M277 781.3H303M277 782.7H303M485 785.7H511M589 785.7H615M303 787.1H329M329 788.6H355M511 790.1H537M563 790.1H589M277 793.0H303M277 794.5H303M615 797.4H641M277 798.9H303M355 800.4H407M433 800.4H459M329 801.8H355M303 803.3H329M303 804.8H329M303 806.3H329M485 812.1H511M563 812.1H589M666 812.1H718M252 813.6H277M355 813.6H381M641 813.6H692M277 819.5H303M355 822.4H381M407 822.4H433M459 822.4H485M303 823.9H329M615 823.9H641M329 825.4H355M252 826.9H277M303 826.9H329M381 826.9H407M459 826.9H485M303 829.8H355"/>
<path stroke="#bdbdbd" d="M329 62.0H355M252 66.4H277M148 67.9H174M589 75.3H615M511 76.7H537M589 76.7H615M485 81.2H511M589 82.6H615M200 84.1H226M615 84.1H641M148 85.6H174M615 87.0H641M459 90.0H485M615 91.5H641M174 94.4H200M174 98.8H200M511 100.3H537M589 100.3H615M200 101.7H226M511 101.7H537M459 106.2H485M589 106.2H615M589 107.6H615M615 109.1H641M563 112.0H589M148 115.0H174M589 117.9H615M563 119.4H589M329 122.3H407M174 123.8H381M459 123.8H485M537 123.8H589M277 126.8H329M459 128.2H485M589 128.2H615M303 132.6H329M537 132.6H563M641 138.5H666M329 140.0H355M511 140.0H537M615 141.5H641M641 144.4H666M589 145.9H615M589 148.8H615M641 151.8H666M148 154.7H174M537 154.7H589M615 154.7H641M148 156.2H174M615 156.2H641M459 160.6H511M537 162.1H563M407 166.5H433M459 167.9H511M563 167.9H589M355 182.6H433M589 182.6H615M459 187.1H485M537 203.2H563M563 204.7H589M381 210.6H407M200 212.1H226M277 212.1H303M200 213.5H226M277 213.5H303M355 213.5H381M226 215.0H277M303 217.9H329M537 219.4H563M381 222.4H407M459 222.4H485M589 232.6H615M174 234.1H200M615 235.6H641M744 237.1H770M200 240.0H252M381 240.0H407M485 240.0H511M148 242.9H174M200 242.9H226M329 242.9H355M459 242.9H485M511 244.4H537M718 244.4H744M511 245.9H537M744 245.9H770M485 247.4H511M459 248.8H485M485 250.3H511M744 250.3H770M459 251.8H485M459 253.2H485M744 253.2H770M511 254.7H537M718 254.7H744M511 257.7H537M148 259.1H174M485 260.6H511M485 262.1H511M277 263.5H303M381 263.5H407M537 266.5H563M744 267.9H770M381 269.4H407M174 270.9H252M511 270.9H537M744 270.9H770M381 272.4H433M459 272.4H485M355 273.8H381M433 273.8H459M433 275.3H485M485 276.8H511M692 276.8H718M485 279.7H511M433 281.2H511M433 282.7H459M433 285.6H459M252 287.1H303M329 287.1H355M381 287.1H433M718 287.1H770M407 290.0H433M485 291.5H511M277 295.9H329M459 295.9H485M277 297.4H303M329 297.4H381M407 297.4H459M744 297.4H770M355 298.8H407M744 298.8H770M485 300.3H511M485 301.8H511M355 303.2H407M381 307.7H433M459 307.7H511M692 313.5H718M433 318.0H459M485 320.9H511M303 322.4H381M433 322.4H459M692 322.4H718M407 323.8H485M433 325.3H459M718 325.3H744M277 326.8H303M666 326.8H692M692 328.3H718M692 334.1H718M355 337.1H381M407 337.1H433M718 338.5H744M226 340.0H252M692 340.0H718M692 343.0H718M252 345.9H277M329 345.9H355M407 350.3H433M407 351.8H433M666 351.8H692M277 353.3H303M355 353.3H381M692 353.3H718M744 360.6H770M226 363.6H277M459 366.5H485M641 366.5H666M407 368.0H433M692 368.0H718M226 369.4H252M329 369.4H355M148 372.4H174M615 375.3H641M744 375.3H770M381 381.2H407M615 381.2H641M381 385.6H407M641 385.6H692M666 387.1H692M355 388.6H381M666 388.6H692M666 390.0H692M744 390.0H770M641 391.5H666M718 391.5H744M226 401.8H252M641 403.3H666M589 404.7H615M329 406.2H355M615 406.2H641M615 409.1H641M666 409.1H692M329 410.6H355M355 412.1H381M226 415.0H252M589 415.0H615M615 419.4H641M615 420.9H641M355 422.4H381M252 423.9H277M355 423.9H381M303 425.3H329M303 426.8H329M589 426.8H615M537 428.3H563M200 434.1H226M355 437.1H381M537 437.1H563M563 441.5H589M329 443.0H355M615 443.0H641M200 444.4H226M277 444.4H303M589 445.9H615M355 448.9H381M303 450.3H329M537 453.3H563M615 456.2H641M252 459.2H277M303 460.6H329M666 460.6H718M329 462.1H355M718 462.1H744M355 465.0H381M718 465.0H744M277 466.5H303M563 466.5H589M511 468.0H537M329 469.4H355M666 469.4H692M718 469.4H744M329 470.9H355M537 470.9H563M148 472.4H174M252 472.4H277M537 472.4H563M692 475.3H744M563 478.3H589M718 481.2H744M355 484.2H381M666 484.2H692M511 487.1H537M563 487.1H589M537 488.6H563M563 490.0H589M303 491.5H329M718 491.5H770M329 494.5H355M277 497.4H303M563 497.4H589M252 500.3H277M563 500.3H589M252 501.8H277M537 501.8H563M174 503.3H200M226 503.3H252M277 504.7H303M537 504.7H563M615 507.7H641M200 509.2H226M511 510.6H537M174 515.0H200M277 515.0H303M563 515.0H589M641 515.0H692M511 518.0H537M589 519.5H615M252 520.9H277M174 523.9H200M666 523.9H692M252 526.8H277M277 528.3H303M303 529.8H329M589 529.8H615M641 529.8H692M744 529.8H770M537 532.7H563M226 535.6H252M511 537.1H537M485 538.6H511M511 540.0H537M277 543.0H303M459 543.0H485M226 544.5H252M641 545.9H692M718 545.9H744M511 548.9H537M615 548.9H641M692 548.9H718M511 550.3H537M226 553.3H252M511 553.3H537M641 553.3H666M537 556.2H615M485 557.7H511M277 559.2H303M485 560.6H511M277 562.1H303M485 562.1H511M148 563.6H174M226 563.6H252M692 563.6H718M252 565.0H277M563 565.0H589M692 565.0H718M174 568.0H200M537 568.0H563M226 570.9H252M485 570.9H511M252 573.9H277M485 573.9H511M537 575.3H563M666 575.3H692M744 578.3H770M226 581.2H252M744 581.2H770M252 582.7H277M485 584.2H511M744 593.0H770M485 594.5H511M485 595.9H511M226 597.4H252M148 598.9H200M252 600.3H277M226 601.8H252M459 601.8H485M200 603.3H226M692 604.8H718M744 604.8H770M252 606.2H277M563 607.7H589M615 607.7H641M666 607.7H692M692 609.2H718M200 612.1H226M252 615.1H277M615 615.1H666M692 615.1H718M744 615.1H770M511 619.5H537M589 620.9H641M511 623.9H537M200 625.4H226M511 625.4H537M200 626.8H226M148 629.8H174M537 632.7H563M200 634.2H226M433 634.2H459M615 640.1H641M666 640.1H692M200 644.5H226M200 645.9H226M226 647.4H252M459 647.4H485M252 648.9H277M459 648.9H485M459 650.4H485M174 651.8H200M641 654.8H692M200 657.7H226M148 660.7H174M200 660.7H226M407 660.7H433M485 660.7H511M200 662.1H226M381 663.6H407M744 663.6H770M200 665.1H226M148 666.5H174M459 669.5H485M433 675.4H485M641 675.4H666M381 676.8H407M407 679.8H433M407 682.7H433M459 682.7H511M537 682.7H615M459 685.7H485M537 685.7H563M537 687.1H563M433 688.6H459M407 690.1H433M692 690.1H718M148 691.5H174M355 691.5H381M641 691.5H666M174 693.0H200M485 693.0H563M174 694.5H200M381 696.0H407M563 696.0H589M615 696.0H641M459 697.4H485M381 698.9H407M537 698.9H563M459 700.4H485M511 700.4H537M641 700.4H666M692 700.4H718M355 706.2H381M407 706.2H433M744 706.2H770M148 707.7H174M381 713.6H407M148 715.1H174M589 715.1H641M718 715.1H744M641 716.5H666M718 716.5H744M381 718.0H433M563 719.5H589M615 719.5H641M589 721.0H615M148 722.4H174M381 725.4H407M433 725.4H459M485 725.4H537M563 725.4H641M589 726.8H615M666 726.8H692M563 728.3H589M433 732.7H485M718 732.7H744M381 734.2H407M692 734.2H744M407 737.1H433M511 737.1H537M329 740.1H355M381 740.1H407M692 740.1H718M744 740.1H770M666 741.5H692M355 744.5H381M641 747.4H666M744 747.4H770M355 751.8H381M744 751.8H770M303 756.3H329M303 762.1H329M303 763.6H329M252 766.5H277M589 768.0H641M381 769.5H433M615 769.5H641M641 772.4H666M692 772.4H718M252 775.4H277M381 784.2H407M511 785.7H537M641 785.7H666M537 790.1H563M692 790.1H718M252 796.0H277M641 797.4H692M666 798.9H692M277 800.4H303M407 812.1H433M459 812.1H485M277 813.6H303M329 822.4H355M277 826.9H303M329 826.9H381M407 826.9H433M303 828.3H329M355 829.8H407"/>
<path stroke="#b5b5b5" d="M355 63.5H381M407 63.5H433M537 65.0H563M277 66.4H303M329 66.4H355M381 66.4H407M200 67.9H226M277 67.9H303M174 69.4H200M226 69.4H252M511 69.4H537M589 73.8H615M148 76.7H174M226 76.7H252M537 76.7H563M511 81.2H537M615 85.6H641M200 94.4H226M511 94.4H563M226 98.8H303M381 100.3H407M537 100.3H563M174 101.7H200M459 101.7H511M641 103.2H666M615 104.7H641M407 106.2H459M537 106.2H563M615 106.2H641M485 112.0H563M589 113.5H615M329 115.0H355M407 115.0H485M277 119.4H303M511 119.4H563M303 120.9H355M407 122.3H485M148 123.8H174M511 123.8H537M381 126.8H407M615 128.2H641M277 132.6H303M355 132.6H381M511 132.6H537M589 137.0H615M433 140.0H459M589 140.0H615M589 150.3H615M589 154.7H615M226 156.2H252M485 156.2H511M563 156.2H615M641 156.2H666M641 160.6H666M226 162.1H252M615 162.1H641M433 163.5H459M485 166.5H537M433 167.9H459M615 169.4H641M615 176.8H641M589 179.7H615M433 182.6H459M563 184.1H589M174 185.6H200M303 187.1H329M485 187.1H511M329 191.5H355M537 191.5H589M537 192.9H563M226 194.4H252M277 194.4H303M381 194.4H407M563 195.9H589M563 198.8H589M537 201.8H563M485 204.7H511M537 204.7H563M563 206.2H589M511 207.6H537M277 210.6H303M329 210.6H355M563 210.6H589M226 212.1H252M303 212.1H329M174 213.5H200M226 213.5H252M329 215.0H355M381 215.0H407M563 216.5H589M589 220.9H615M407 222.4H433M537 223.8H563M589 226.8H615M744 226.8H770M537 228.2H563M563 229.7H589M277 237.1H303M537 238.5H563M744 238.5H770M252 240.0H277M252 242.9H277M252 256.2H303M744 257.7H770M485 259.1H511M252 263.5H277M718 263.5H770M511 265.0H537M537 267.9H563M148 269.4H174M200 269.4H226M485 269.4H511M174 272.4H200M226 272.4H277M718 273.8H770M355 275.3H381M407 275.3H433M666 281.2H692M718 282.7H744M718 285.6H744M718 288.5H744M433 290.0H459M485 290.0H511M718 290.0H744M666 291.5H692M381 295.9H459M692 295.9H770M252 297.4H277M303 297.4H329M381 297.4H407M407 298.8H433M718 298.8H744M692 300.3H718M692 301.8H718M277 303.2H303M329 303.2H355M433 307.7H459M666 307.7H692M666 309.1H692M641 312.1H666M459 313.5H485M641 315.0H666M692 318.0H718M355 319.4H433M692 319.4H718M666 320.9H692M252 326.8H277M459 328.3H485M666 329.7H692M485 331.2H511M433 334.1H459M459 335.6H485M692 335.6H718M303 337.1H355M381 337.1H407M459 338.5H485M252 340.0H277M433 343.0H459M641 344.4H666M277 345.9H329M355 345.9H381M692 345.9H718M459 347.4H485M692 348.8H718M641 350.3H666M329 353.3H355M666 354.7H692M252 356.2H277M641 357.7H666M641 359.1H666M641 360.6H666M692 360.6H718M148 363.6H226M381 363.6H407M666 363.6H692M226 365.0H277M433 365.0H459M666 365.0H692M226 372.4H252M433 373.8H459M641 373.8H666M381 376.8H407M589 378.3H615M641 379.7H666M615 382.7H641M407 384.1H433M641 384.1H666M329 385.6H355M407 385.6H459M589 385.6H615M718 385.6H770M355 387.1H381M407 390.0H433M692 390.0H744M744 391.5H770M355 393.0H381M589 393.0H615M563 400.3H589M692 401.8H718M355 407.7H381M563 407.7H589M563 409.1H615M303 410.6H329M329 412.1H355M381 412.1H407M589 416.5H615M589 419.4H615M641 419.4H666M381 423.9H407M329 425.3H355M537 429.7H563M329 431.2H355M589 431.2H615M329 438.6H355M355 440.0H381M329 445.9H355M329 447.4H355M589 450.3H615M329 453.3H355M563 454.7H589M226 456.2H252M277 456.2H303M537 457.7H563M226 459.2H252M277 459.2H303M615 460.6H666M744 462.1H770M744 465.0H770M329 468.0H355M537 469.4H563M692 469.4H718M744 469.4H770M718 470.9H744M277 472.4H303M744 475.3H770M303 476.8H329M641 476.8H666M744 476.8H770M355 478.3H381M252 479.7H277M563 481.2H589M303 482.7H329M641 484.2H666M511 485.6H537M303 488.6H329M303 490.0H329M589 494.5H615M329 498.9H355M744 498.9H770M252 503.3H303M718 503.3H770M537 506.2H563M329 507.7H355M718 507.7H744M174 509.2H200M303 510.6H329M303 512.1H329M511 513.6H537M252 515.0H277M303 519.5H329M485 519.5H511M537 520.9H563M200 523.9H277M563 523.9H615M511 525.3H537M511 526.8H537M692 531.2H718M277 534.2H303M200 535.6H226M252 537.1H277M277 540.0H303M485 541.5H511M252 545.9H277M511 545.9H537M174 547.4H226M563 547.4H589M252 548.9H277M537 548.9H563M666 548.9H692M589 553.3H641M459 554.8H485M252 556.2H277M511 556.2H537M252 563.6H277M641 563.6H692M485 565.0H511M718 565.0H770M252 566.5H277M277 569.5H303M485 569.5H511M148 572.4H174M252 575.3H277M692 575.3H744M485 576.8H511M252 578.3H277M511 578.3H537M277 579.8H303M485 582.7H511M589 584.2H615M252 585.6H277M485 585.6H511M226 590.1H252M200 593.0H226M692 593.0H744M226 594.5H252M226 595.9H252M459 597.4H485M200 604.8H226M485 604.8H511M252 607.7H277M615 609.2H641M666 609.2H692M485 610.6H511M485 612.1H511M200 613.6H226M459 613.6H485M433 615.1H459M718 615.1H744M589 619.5H615M459 620.9H485M537 620.9H589M641 620.9H692M718 620.9H770M459 623.9H485M459 625.4H511M718 625.4H744M148 626.8H174M718 631.2H744M563 632.7H615M744 632.7H770M511 634.2H537M641 634.2H666M226 638.6H252M407 638.6H433M641 640.1H666M718 640.1H744M226 641.5H252M485 643.0H511M407 645.9H433M407 648.9H433M200 651.8H226M174 654.8H200M485 654.8H511M692 654.8H744M174 656.2H200M407 656.2H433M459 660.7H485M511 660.7H537M407 662.1H433M200 663.6H226M511 663.6H537M615 663.6H641M433 666.5H459M407 672.4H433M226 673.9H252M381 675.4H407M589 676.8H615M407 678.3H433M174 679.8H200M148 682.7H174M511 682.7H537M381 684.2H407M407 685.7H459M511 685.7H537M148 688.6H174M459 688.6H511M641 690.1H692M718 690.1H744M615 691.5H641M666 691.5H692M511 696.0H563M589 696.0H615M148 697.4H174M615 697.4H641M433 698.9H459M511 698.9H537M433 700.4H459M744 700.4H770M381 701.8H407M744 701.8H770M433 706.2H485M355 707.7H381M148 709.2H174M381 710.7H407M459 710.7H537M381 712.1H407M355 716.5H381M407 716.5H433M174 718.0H200M329 718.0H381M433 718.0H485M459 721.0H511M615 721.0H641M615 726.8H666M355 728.3H381M511 728.3H563M589 728.3H615M355 729.8H381M329 731.3H355M329 732.7H355M407 734.2H433M744 734.2H770M329 735.7H355M381 737.1H407M433 737.1H459M329 738.6H355M407 740.1H433M718 740.1H744M563 741.5H641M692 741.5H718M252 746.0H277M511 747.4H537M563 747.4H615M303 748.9H329M329 751.8H355M381 751.8H407M641 751.8H692M303 754.8H329M252 759.2H277M381 759.2H407M511 760.7H537M303 768.0H329M641 769.5H666M744 769.5H770M303 771.0H329M277 772.4H329M666 772.4H692M252 773.9H277M252 778.3H277M252 779.8H277M407 779.8H433M485 779.8H511M589 779.8H641M252 781.3H277M277 787.1H303M303 788.6H329M277 790.1H329M718 790.1H744M277 797.4H303M641 798.9H666M459 800.4H511M692 800.4H718M303 801.8H329M277 804.8H303M277 806.3H303M303 809.2H329M641 810.7H666M692 810.7H718M718 812.1H744M381 813.6H407M589 813.6H615M252 816.6H277M381 818.0H407M252 821.0H277M303 822.4H329M381 822.4H407M277 823.9H303M303 825.4H329M277 829.8H303M407 829.8H433M459 829.8H485"/>
<path stroke="#adadad" d="M303 62.0H329M148 65.0H174M200 65.0H226M511 65.0H537M563 65.0H589M226 66.4H252M252 67.9H277M148 69.4H174M459 69.4H485M537 69.4H589M641 72.3H666M200 76.7H226M563 76.7H589M200 81.2H226M537 81.2H563M226 84.1H277M615 92.9H641M148 94.4H174M563 94.4H589M615 97.3H641M303 98.8H355M381 98.8H407M148 101.7H174M355 106.2H407M615 110.6H641M355 115.0H407M666 116.5H692M589 119.4H615M148 120.9H174M615 120.9H641M485 122.3H511M200 132.6H252M563 132.6H615M355 140.0H381M563 140.0H589M615 140.0H641M641 142.9H666M174 156.2H226M511 156.2H537M252 160.6H277M329 160.6H407M174 162.1H226M485 162.1H511M615 165.0H641M589 170.9H615M589 172.3H615M641 175.3H666M615 181.2H641M433 184.1H459M537 184.1H563M589 184.1H641M148 185.6H174M563 185.6H615M148 187.1H174M563 187.1H589M563 188.5H589M589 190.0H615M148 191.5H174M226 191.5H252M589 191.5H615M148 194.4H200M407 194.4H433M277 200.3H329M459 204.7H485M511 204.7H537M589 209.1H615M148 210.6H174M252 210.6H277M303 210.6H329M252 212.1H277M329 212.1H355M589 212.1H615M303 213.5H329M381 213.5H407M433 213.5H459M200 215.0H226M355 215.0H381M407 215.0H433M277 217.9H303M433 217.9H459M148 222.4H174M355 222.4H381M485 222.4H511M589 225.3H615M563 231.2H589M148 234.1H174M200 237.1H226M744 240.0H770M226 242.9H252M277 242.9H329M485 242.9H511M744 242.9H770M511 251.8H537M485 253.2H511M200 256.2H226M303 256.2H329M174 259.1H200M744 260.6H770M511 262.1H537M407 263.5H459M744 265.0H770M718 266.5H744M174 269.4H200M511 269.4H537M485 272.4H511M303 273.8H329M459 273.8H485M381 275.3H407M666 279.7H692M148 281.2H200M252 281.2H277M303 281.2H329M355 281.2H381M407 281.2H433M459 282.7H485M744 284.1H770M692 287.1H718M459 288.5H485M277 290.0H303M329 290.0H407M511 294.4H537M355 295.9H381M459 297.4H485M433 298.8H459M303 303.2H329M459 303.2H511M303 306.2H329M355 306.2H407M718 306.2H744M511 307.7H537M641 310.6H666M485 312.1H511M459 316.5H485M433 319.4H459M718 319.4H744M641 323.8H666M692 325.3H718M641 326.8H666M459 329.7H485M641 331.2H666M485 332.7H511M641 332.7H666M433 337.1H459M692 338.5H718M277 340.0H303M485 341.5H511M641 341.5H666M433 344.4H459M433 345.9H459M666 345.9H692M226 348.8H252M252 353.3H277M433 354.7H459M277 356.2H303M329 356.2H355M148 357.7H174M200 357.7H226M692 357.7H718M666 360.6H692M459 362.1H485M641 362.1H666M277 365.0H303M692 365.0H718M303 369.4H329M355 369.4H407M407 370.9H433M666 370.9H692M252 372.4H277M355 375.3H433M615 376.8H641M407 378.3H433M226 379.7H252M615 379.7H641M666 379.7H692M433 382.7H459M252 387.1H303M329 387.1H355M381 388.6H407M641 388.6H666M407 391.5H433M381 394.4H407M563 394.4H589M381 397.4H407M563 398.8H589M407 400.3H433M641 401.8H692M355 403.3H381M355 406.2H381M407 409.1H433M355 413.6H381M589 413.6H615M407 415.0H433M563 415.0H589M381 418.0H407M537 418.0H563M355 419.4H381M355 420.9H381M381 422.4H407M148 423.9H200M226 423.9H252M329 426.8H355M381 428.3H407M329 429.7H355M355 432.7H381M537 432.7H563M174 434.1H200M252 434.1H277M303 434.1H329M355 435.6H381M744 435.6H770M563 438.6H589M563 440.0H589M329 444.4H355M563 447.4H589M381 451.8H407M252 456.2H277M174 459.2H226M329 460.6H355M563 462.1H589M537 463.6H563M537 466.5H563M744 470.9H770M355 472.4H381M511 473.9H537M303 475.3H329M563 475.3H589M692 476.8H718M303 479.7H329M303 481.2H329M563 482.7H589M511 484.2H537M589 484.2H641M537 487.1H563M589 487.1H615M537 490.0H563M563 491.5H589M329 493.0H355M511 493.0H537M511 495.9H537M277 500.3H303M537 500.3H563M511 501.8H537M277 506.2H303M563 507.7H615M744 507.7H770M589 509.2H615M666 509.2H718M485 512.1H511M615 515.0H641M277 516.5H303M537 516.5H563M148 522.4H174M303 522.4H329M148 523.9H174M303 525.3H329M277 526.8H303M537 528.3H563M563 529.8H589M692 529.8H718M303 531.2H329M459 531.2H485M666 531.2H692M744 531.2H770M303 532.7H329M511 534.2H537M692 538.6H770M277 541.5H303M252 544.5H277M511 544.5H537M148 547.4H174M226 547.4H252M511 547.4H537M589 548.9H615M641 548.9H666M226 550.3H252M485 550.3H511M303 551.8H329M459 551.8H485M252 553.3H277M485 553.3H511M277 554.8H303M459 559.2H485M511 563.6H537M485 566.5H511M511 575.3H537M744 575.3H770M277 576.8H303M459 579.8H485M252 581.2H277M537 581.2H589M666 584.2H718M744 584.2H770M433 587.1H459M252 588.6H277M433 588.6H459M459 590.1H485M252 591.5H277M485 591.5H511M148 593.0H200M226 600.3H252M277 600.3H303M666 600.3H692M485 603.3H511M718 604.8H744M252 609.2H277M226 610.6H252M226 612.1H252M252 616.5H277M226 619.5H252M226 620.9H252M692 620.9H718M277 623.9H303M485 623.9H511M433 625.4H459M744 625.4H770M252 626.8H277M148 628.3H174M200 629.8H252M615 629.8H641M459 634.2H511M563 634.2H641M226 635.6H252M433 635.6H459M407 637.1H433M407 640.1H433M511 640.1H537M563 640.1H615M200 643.0H226M433 644.5H459M226 650.4H252M200 653.3H226M433 653.3H459M459 654.8H485M381 657.7H407M381 659.2H407M485 663.6H511M641 663.6H666M200 668.0H226M407 668.0H433M174 669.5H200M433 669.5H459M226 670.9H252M148 672.4H174M381 673.9H407M200 675.4H226M615 675.4H641M174 678.3H200M381 682.7H407M200 684.2H226M148 687.1H174M459 687.1H511M563 687.1H589M615 687.1H641M407 688.6H433M537 688.6H563M174 690.1H200M718 691.5H770M381 693.0H407M407 694.5H433M641 696.0H744M381 697.4H407M563 697.4H615M174 698.9H200M563 698.9H615M407 700.4H433M718 700.4H744M200 701.8H226M407 701.8H485M381 703.3H407M148 704.8H174M381 704.8H407M148 706.2H174M718 706.2H744M355 709.2H381M537 710.7H641M355 713.6H381M174 715.1H200M355 715.1H381M744 715.1H770M148 716.5H174M433 716.5H459M148 719.5H174M329 722.4H355M329 726.8H355M485 726.8H537M563 726.8H589M329 728.3H355M381 728.3H407M433 728.3H459M692 732.7H718M303 734.2H329M355 734.2H381M485 737.1H511M355 740.1H381M537 741.5H563M641 741.5H666M718 747.4H744M407 750.4H459M277 751.8H303M718 751.8H744M252 757.7H277M407 759.2H459M666 759.2H692M277 762.1H303M303 769.5H381M666 769.5H718M563 772.4H589M615 772.4H641M589 776.8H615M666 779.8H692M407 784.2H433M459 785.7H485M485 790.1H511M252 793.0H277M252 794.5H277M485 797.4H511M537 797.4H563M692 797.4H718M252 798.9H277M589 798.9H615M718 798.9H744M511 800.4H589M744 800.4H770M277 803.3H303M226 807.7H252M277 809.2H303M329 809.2H355M277 810.7H303M329 810.7H355M615 810.7H641M666 810.7H692M329 812.1H407M744 812.1H770M226 813.6H252M433 815.1H459M252 819.5H277"/>
<path stroke="#a5a5a5" d="M381 63.5H407M174 65.0H200M589 65.0H641M641 66.4H692M355 67.9H381M148 70.9H174M615 75.3H641M174 76.7H200M615 76.7H641M615 82.6H641M277 84.1H303M589 84.1H615M641 84.1H666M666 95.9H692M355 98.8H381M329 100.3H381M407 100.3H433M563 100.3H589M433 101.7H459M615 107.6H641M148 112.0H200M615 112.0H641M615 117.9H641M303 119.4H381M433 119.4H511M641 119.4H666M355 120.9H381M641 120.9H666M511 122.3H537M615 129.7H641M641 131.2H666M148 132.6H174M252 132.6H277M615 145.9H641M615 153.2H641M641 154.7H666M252 156.2H277M537 156.2H563M666 157.6H692M303 160.6H329M433 162.1H485M355 166.5H381M459 166.5H485M407 167.9H433M537 167.9H563M641 178.2H666M615 182.6H641M459 184.1H485M226 185.6H252M174 187.1H200M277 187.1H303M200 191.5H226M277 191.5H329M485 191.5H537M433 194.4H459M226 200.3H252M329 200.3H355M563 201.8H589M563 203.2H589M563 207.6H589M200 210.6H252M148 213.5H174M174 215.0H200M277 215.0H303M407 217.9H433M459 217.9H485M563 219.4H589M744 220.9H770M511 222.4H537M563 228.2H589M252 237.1H277M692 237.1H718M277 240.0H303M329 240.0H381M511 240.0H537M718 240.0H744M355 241.5H381M174 242.9H200M537 245.9H563M718 245.9H744M511 247.4H537M485 248.8H537M511 250.3H537M718 250.3H744M718 253.2H744M537 257.7H563M459 259.1H485M511 260.6H537M226 263.5H252M459 263.5H485M718 267.9H744M718 269.4H744M537 270.9H563M718 270.9H744M148 272.4H174M200 272.4H226M226 273.8H252M329 273.8H355M692 273.8H718M148 275.3H200M485 275.3H511M718 275.3H744M666 276.8H692M666 278.2H692M200 281.2H226M277 281.2H303M329 281.2H355M381 281.2H407M459 285.6H485M148 287.1H200M148 290.0H200M303 290.0H329M381 293.0H407M666 294.4H692M329 295.9H355M511 295.9H537M718 297.4H744M459 298.8H485M744 303.2H770M277 306.2H303M329 306.2H355M744 306.2H770M485 309.1H511M485 315.0H511M641 316.5H666M459 318.0H485M459 322.4H485M666 322.4H692M459 325.3H485M174 326.8H252M485 326.8H511M666 334.1H692M718 337.1H744M303 340.0H329M407 340.0H459M666 340.0H692M718 340.0H744M666 343.0H692M615 347.4H641M200 348.8H226M252 348.8H277M666 348.8H692M433 350.3H459M433 351.8H459M641 351.8H666M226 353.3H252M666 353.3H692M303 356.2H329M718 357.7H744M459 359.1H485M407 363.6H433M174 365.0H200M433 368.0H459M666 368.0H692M433 369.4H459M200 372.4H226M459 375.3H485M407 381.2H433M303 387.1H329M381 387.1H433M641 387.1H666M692 387.1H744M641 390.0H666M615 391.5H641M563 397.4H589M381 398.8H407M407 401.8H433M615 401.8H641M615 403.3H641M407 404.7H433M589 406.2H615M226 410.6H252M355 410.6H381M615 410.6H666M615 415.0H641M666 415.0H692M381 416.5H407M589 420.9H615M563 426.8H589M148 434.1H174M277 434.1H303M692 435.6H744M355 443.0H381M589 443.0H615M563 445.9H589M537 448.9H563M329 450.3H355M537 451.8H563M381 454.7H407M563 456.2H589M355 457.7H381M381 459.2H407M589 460.6H615M355 463.6H381M537 465.0H563M303 466.5H329M511 470.9H537M303 472.4H355M589 472.4H615M329 473.9H355M615 476.8H641M666 476.8H692M277 479.7H303M329 485.6H355M615 487.1H641M511 488.6H537M329 491.5H355M537 494.5H589M355 495.9H381M303 497.4H329M537 497.4H563M277 501.8H303M692 503.3H718M303 504.7H329M511 504.7H537M511 506.2H537M641 507.7H718M148 509.2H174M329 509.2H355M537 509.2H589M303 513.6H329M563 513.6H589M329 515.0H355M692 515.0H718M355 518.0H381M277 520.9H303M329 522.4H355M537 523.9H563M303 528.3H329M329 529.8H355M718 529.8H744M718 531.2H744M511 532.7H537M174 535.6H200M485 537.1H511M303 538.6H329M563 544.5H589M277 545.9H303M252 547.4H303M537 547.4H563M485 548.9H511M615 563.6H641M277 565.0H303M200 568.0H226M252 570.9H277M459 570.9H485M174 572.4H200M277 573.9H303M303 584.2H329M615 584.2H666M718 584.2H744M252 587.1H277M226 593.0H252M666 593.0H692M459 594.5H485M459 595.9H485M252 597.4H277M641 600.3H666M252 601.8H277M433 601.8H459M226 603.3H252M459 604.8H485M407 606.2H433M641 609.2H666M744 609.2H770M459 610.6H485M433 613.6H459M666 615.1H692M174 618.0H200M226 618.0H252M485 619.5H511M174 628.3H200M511 628.3H537M563 629.8H615M252 631.2H277M692 631.2H718M252 632.7H277M407 632.7H433M511 632.7H537M226 634.2H252M407 634.2H433M537 634.2H563M226 637.1H252M226 640.1H252M433 640.1H459M485 640.1H511M537 640.1H563M381 641.5H407M459 643.0H485M226 644.5H252M252 647.4H277M433 647.4H459M433 650.4H459M407 654.8H433M744 654.8H770M200 659.2H226M537 660.7H563M589 663.6H615M355 665.1H381M174 666.5H200M381 670.9H407M485 675.4H511M226 676.8H252M641 676.8H666M692 676.8H770M148 685.7H174M433 687.1H459M511 688.6H537M381 690.1H407M174 691.5H200M692 691.5H718M381 694.5H407M433 694.5H459M200 696.0H226M641 697.4H666M148 700.4H174M174 706.2H200M329 706.2H355M485 706.2H511M692 706.2H718M174 707.7H200M355 710.7H381M381 715.1H407M563 715.1H589M459 716.5H485M563 716.5H641M329 719.5H355M666 721.0H692M303 725.4H329M537 726.8H563M148 728.3H174M303 728.3H329M485 728.3H511M329 729.8H355M485 732.7H511M666 732.7H692M329 734.2H355M303 735.7H329M355 735.7H381M277 737.1H303M459 737.1H485M329 744.5H355M537 747.4H563M277 748.9H303M381 750.4H407M252 751.8H277M303 751.8H329M692 751.8H718M252 753.3H277M277 756.3H303M615 759.2H666M459 760.7H485M563 760.7H589M277 763.6H303M277 768.0H303M252 769.5H277M718 769.5H744M277 771.0H303M226 772.4H252M329 772.4H355M277 776.8H303M563 776.8H589M615 776.8H641M666 776.8H692M277 779.8H303M329 779.8H355M433 779.8H459M641 779.8H666M252 782.7H277M459 784.2H485M277 785.7H303M666 785.7H692M277 788.6H303M329 790.1H355M407 790.1H433M459 790.1H485M329 797.4H355M511 797.4H537M692 798.9H718M744 798.9H770M252 800.4H277M615 800.4H641M718 800.4H744M277 801.8H303M381 809.2H407M303 810.7H329M718 810.7H744M615 813.6H641M485 815.1H511M433 818.0H459M277 822.4H303M277 825.4H303M226 826.9H252M277 828.3H303"/>
<path stroke="#9c9c9c" d="M277 62.0H303M355 62.0H381M433 63.5H511M563 63.5H589M641 63.5H666M407 66.4H433M303 67.9H355M666 67.9H692M485 69.4H511M174 70.9H200M615 73.8H641M666 78.2H692M148 81.2H200M563 81.2H615M641 87.0H666M666 88.5H692M641 91.5H666M589 94.4H615M226 101.7H252M407 101.7H433M537 101.7H589M329 106.2H355M459 112.0H485M381 119.4H433M174 120.9H200M252 120.9H303M589 123.8H666M641 125.3H666M615 132.6H641M666 134.1H692M666 135.6H692M615 137.0H641M252 140.0H277M303 140.0H329M641 141.5H666M615 148.8H641M615 150.3H641M226 160.6H252M277 160.6H303M252 162.1H277M511 162.1H537M459 163.5H485M641 169.4H666M641 176.8H666M615 179.7H641M641 181.2H666M485 184.1H511M641 184.1H666M537 185.6H563M226 187.1H252M511 187.1H563M407 191.5H459M563 192.9H589M200 194.4H226M355 194.4H381M485 194.4H511M537 194.4H563M589 195.9H615M433 204.7H459M537 207.6H563M174 210.6H200M744 210.6H770M407 213.5H433M744 213.5H770M148 215.0H174M252 217.9H277M485 217.9H511M174 222.4H200M329 222.4H355M563 223.8H589M589 229.7H615M226 234.1H252M511 234.1H537M589 234.1H641M148 237.1H174M226 237.1H252M563 238.5H589M303 240.0H329M718 242.9H744M537 244.4H563M692 244.4H718M744 247.4H770M744 248.8H770M744 251.8H770M537 254.7H563M692 254.7H718M148 256.2H174M226 256.2H252M329 256.2H355M381 256.2H407M744 262.1H770M174 263.5H226M563 266.5H589M511 272.4H537M148 273.8H174M329 275.3H355M744 275.3H770M511 276.8H537M537 278.2H563M511 279.7H537M226 281.2H252M511 281.2H537M692 282.7H718M692 284.1H718M692 285.6H718M459 287.1H485M692 288.5H718M226 290.0H277M511 290.0H537M692 290.0H718M511 291.5H537M692 298.8H718M511 300.3H537M511 301.8H537M666 301.8H692M744 304.7H770M200 306.2H226M252 306.2H277M407 306.2H433M511 310.6H537M666 313.5H692M666 318.0H692M666 319.4H692M485 323.8H511M485 328.3H511M666 328.3H692M459 334.1H485M666 335.6H692M744 337.1H770M485 338.5H511M329 340.0H355M459 343.0H485M641 345.9H666M148 348.8H174M277 348.8H329M381 353.3H407M744 353.3H770M641 354.7H666M226 356.2H252M355 356.2H381M666 357.7H692M433 360.6H459M485 360.6H511M718 360.6H744M641 363.6H666M200 365.0H226M641 365.0H666M718 369.4H770M459 373.8H485M433 375.3H459M589 375.3H615M407 376.8H433M148 379.7H174M252 379.7H303M589 381.2H615M615 384.1H641M433 390.0H459M381 393.0H407M615 395.9H666M563 404.7H589M200 410.6H226M666 410.6H692M252 412.1H329M692 415.0H770M355 425.3H381M355 431.2H381M563 431.2H589M226 434.1H252M641 435.6H692M355 438.6H381M381 440.0H407M407 441.5H433M537 441.5H563M355 445.9H381M381 448.9H407M563 450.3H589M355 453.3H381M511 453.3H537M148 459.2H174M355 462.1H381M381 465.0H407M485 468.0H511M355 469.4H381M355 470.9H381M511 472.4H537M329 475.3H355M329 476.8H355M563 476.8H589M537 478.3H563M226 479.7H252M537 481.2H563M329 482.7H355M381 484.2H407M355 487.1H381M641 487.1H666M692 487.1H718M744 487.1H770M355 494.5H381M355 498.9H381M563 498.9H589M615 498.9H641M692 498.9H744M303 503.3H329M666 503.3H692M485 507.7H511M485 510.6H511M485 513.6H511M666 513.6H692M303 515.0H329M589 515.0H615M485 518.0H511M511 520.9H537M174 522.4H200M277 523.9H303M511 523.9H537M485 525.3H511M303 534.2H329M148 535.6H174M277 537.1H303M459 538.6H485M303 540.0H329M485 540.0H511M433 543.0H459M485 545.9H511M485 547.4H511M589 547.4H641M277 548.9H303M459 548.9H485M563 548.9H589M537 553.3H589M277 556.2H303M485 556.2H511M329 557.7H355M303 559.2H329M329 560.6H355M459 560.6H485M303 562.1H329M459 562.1H485M277 563.6H303M537 563.6H615M277 566.5H303M226 568.0H252M511 568.0H537M459 569.5H485M200 572.4H226M589 572.4H615M459 573.9H485M277 575.3H303M277 578.3H303M485 578.3H511M277 582.7H303M459 582.7H485M459 584.2H485M277 585.6H303M252 590.1H277M252 594.5H277M252 595.9H277M433 597.4H459M277 598.9H303M174 600.3H226M718 600.3H744M226 604.8H252M407 607.7H433M718 609.2H744M459 612.1H485M277 615.1H303M200 618.0H226M485 618.0H511M407 623.9H459M226 625.4H252M407 625.4H433M252 629.8H277M148 631.2H174M226 631.2H252M226 643.0H252M226 645.9H252M200 654.8H226M433 654.8H459M381 656.2H407M226 660.7H252M381 660.7H407M226 662.1H252M355 663.6H381M537 663.6H589M226 665.1H252M407 666.5H433M200 669.5H226M381 672.4H407M511 675.4H537M589 675.4H615M615 676.8H641M381 678.3H407M200 679.8H226M381 679.8H407M563 685.7H589M407 687.1H433M641 687.1H666M174 688.6H200M329 691.5H355M200 693.0H226M200 694.5H226M355 696.0H381M174 697.4H200M355 698.9H381M615 698.9H641M744 698.9H770M148 703.3H174M174 709.2H200M148 710.7H174M148 712.1H174M355 712.1H381M485 716.5H537M174 721.0H200M641 721.0H666M174 722.4H200M407 728.3H433M459 728.3H485M148 732.7H174M511 732.7H589M615 732.7H666M148 734.2H174M148 737.1H174M303 740.1H329M277 754.8H303M485 760.7H511M537 760.7H563M537 765.1H563M226 766.5H252M277 769.5H303M355 772.4H381M433 772.4H459M589 772.4H615M226 775.4H252M718 779.8H770M744 784.2H770M329 785.7H355M433 785.7H459M252 787.1H277M252 790.1H277M355 790.1H381M744 790.1H770M226 796.0H252M252 797.4H277M303 797.4H329M615 798.9H641M641 800.4H666M252 804.8H277M252 806.3H277M252 809.2H277M355 809.2H381M459 809.2H485M252 810.7H277M355 810.7H407M252 812.1H277M303 812.1H329M407 813.6H511M563 813.6H589M355 815.1H381M252 823.9H277M252 829.8H277"/>
<path stroke="#949494" d="M615 62.0H641M589 63.5H615M641 65.0H666M355 66.4H381M615 66.4H641M200 70.9H226M666 79.7H692M148 84.1H174M511 84.1H563M666 90.0H692M615 94.4H666M407 98.8H433M615 100.3H666M641 104.7H666M252 106.2H329M666 106.2H692M641 109.1H666M226 112.0H252M615 113.5H641M666 115.0H692M200 120.9H252M303 122.3H329M252 126.8H277M355 126.8H381M174 132.6H200M666 147.3H692M666 159.1H692M148 160.6H226M277 162.1H303M381 162.1H433M433 166.5H459M148 167.9H174M355 167.9H407M615 170.9H641M615 172.3H641M381 184.1H433M511 184.1H537M252 185.6H303M615 185.6H641M200 187.1H226M252 187.1H277M589 187.1H615M589 188.5H615M744 190.0H770M174 191.5H200M252 191.5H277M355 191.5H407M459 191.5H485M615 191.5H641M744 191.5H770M563 194.4H589M744 197.3H770M589 198.8H615M381 200.3H407M589 204.7H615M589 206.2H615M589 210.6H615M459 213.5H485M589 216.5H615M537 222.4H563M589 231.2H615M615 232.6H641M407 234.1H433M537 234.1H589M641 235.6H666M174 237.1H200M303 237.1H329M718 237.1H744M718 238.5H744M329 241.5H355M511 242.9H537M407 248.8H433M692 248.8H744M692 251.8H744M718 257.7H744M200 259.1H252M744 259.1H770M718 260.6H744M537 262.1H563M148 263.5H174M537 265.0H563M718 265.0H744M563 267.9H589M537 269.4H563M744 269.4H770M277 273.8H303M485 273.8H511M200 275.3H226M252 275.3H303M641 281.2H666M485 282.7H511M433 287.1H459M666 287.1H692M485 288.5H511M200 290.0H226M641 291.5H666M329 293.0H355M666 295.9H692M485 297.4H511M692 297.4H718M666 300.3H692M226 303.2H252M511 303.2H537M692 306.2H718M641 309.1H666M485 313.5H511M459 319.4H485M511 320.9H537M148 326.8H174M641 329.7H666M485 335.6H511M459 337.1H485M666 337.1H692M355 340.0H407M744 340.0H770M615 344.4H641M459 345.9H485M718 348.8H770M615 350.3H641M718 353.3H744M226 357.7H252M615 357.7H641M615 359.1H641M148 365.0H174M459 365.0H485M485 366.5H511M615 366.5H641M407 369.4H433M666 369.4H718M433 370.9H459M641 370.9H666M277 372.4H329M433 372.4H459M615 372.4H641M615 373.8H641M563 378.3H589M589 379.7H615M589 382.7H615M433 384.1H459M433 387.1H459M407 388.6H433M615 388.6H641M433 391.5H459M563 393.0H589M381 395.9H407M666 395.9H692M744 395.9H770M537 401.8H615M381 403.3H407M589 403.3H615M381 407.7H407M537 407.7H563M537 409.1H563M148 410.6H200M381 410.6H407M226 412.1H252M407 412.1H433M381 413.6H407M563 413.6H589M641 415.0H666M563 416.5H589M381 419.4H407M563 419.4H589M381 420.9H407M718 425.3H770M511 428.3H537M511 429.7H537M666 434.1H692M537 435.6H563M615 435.6H641M381 437.1H407M511 437.1H537M537 438.6H563M355 444.4H381M355 447.4H381M537 447.4H563M537 454.7H563M303 456.2H355M589 456.2H615M511 457.7H537M355 460.6H381M563 460.6H589M537 462.1H563M511 466.5H537M355 468.0H381M511 469.4H537M537 475.3H563M589 476.8H615M381 478.3H407M200 479.7H226M329 479.7H355M329 481.2H355M537 482.7H563M537 484.2H589M485 485.6H511M485 487.1H511M666 487.1H692M718 487.1H744M329 488.6H355M329 490.0H355M537 491.5H563M589 498.9H615M641 498.9H666M303 500.3H329M511 500.3H537M485 501.8H511M615 503.3H641M303 506.2H329M459 507.7H485M511 507.7H563M329 510.6H355M329 512.1H355M459 513.6H485M537 513.6H563M744 513.6H770M537 515.0H563M303 516.5H329M511 516.5H537M329 519.5H355M200 522.4H303M329 525.3H355M485 526.8H511M511 528.3H537M511 529.8H563M485 534.2H511M459 541.5H485M303 543.0H329M277 544.5H303M485 544.5H511M589 544.5H615M459 547.4H485M252 550.3H277M459 550.3H485M459 553.3H485M459 557.7H485M485 563.6H511M459 565.0H485M459 566.5H485M303 569.5H329M226 572.4H252M537 572.4H563M485 575.3H511M303 576.8H329M459 576.8H485M277 581.2H303M485 581.2H537M459 585.6H485M433 590.1H459M459 591.5H485M485 593.0H511M148 600.3H174M407 600.3H433M459 603.3H485M277 606.2H303M589 609.2H615M252 610.6H277M252 612.1H277M226 613.6H252M407 616.5H433M459 618.0H485M511 618.0H537M744 618.0H770M252 619.5H277M615 619.5H692M252 620.9H277M433 620.9H459M200 631.2H226M666 631.2H692M744 631.2H770M381 632.7H407M433 632.7H511M407 635.6H433M252 638.6H277M459 640.1H485M381 645.9H407M277 648.9H303M252 650.4H277M226 651.8H252M226 653.3H252M407 653.3H433M200 656.2H226M226 657.7H252M589 660.7H615M641 660.7H666M692 660.7H770M381 662.1H407M226 663.6H252M407 669.5H433M174 672.4H200M252 673.9H277M563 675.4H589M355 676.8H381M200 678.3H226M174 682.7H200M355 684.2H381M381 685.7H407M589 685.7H641M174 687.1H200M381 687.1H407M381 688.6H407M355 694.5H381M485 694.5H511M589 694.5H615M692 694.5H718M355 697.4H381M718 697.4H770M692 698.9H744M381 700.4H407M355 701.8H381M355 703.3H381M355 704.8H381M329 707.7H355M329 713.6H355M537 715.1H563M174 716.5H200M329 716.5H355M537 716.5H563M303 718.0H329M433 721.0H459M329 723.9H355M407 723.9H433M303 726.8H329M303 731.3H329M303 732.7H329M589 732.7H615M277 734.2H303M148 735.7H174M303 738.6H329M485 741.5H537M148 743.0H174M226 746.0H252M303 747.4H329M485 747.4H511M329 750.4H381M459 750.4H485M252 756.3H277M226 759.2H252M459 759.2H485M511 759.2H537M589 759.2H615M252 762.1H277M459 765.1H485M381 772.4H433M511 772.4H537M226 773.9H252M303 776.8H329M537 776.8H563M226 778.3H252M226 779.8H252M303 779.8H329M355 779.8H407M226 781.3H252M433 784.2H459M692 784.2H718M303 785.7H329M407 785.7H433M692 785.7H744M381 790.1H407M433 790.1H459M355 797.4H381M718 797.4H744M303 798.9H329M537 798.9H589M589 800.4H615M666 800.4H692M252 803.3H277M226 812.1H252M277 812.1H303M511 813.6H563M718 815.1H770M226 816.6H252M329 818.0H381M407 818.0H433M459 818.0H485M511 818.0H537M226 821.0H252"/>
<path stroke="#8c8c8c" d="M252 62.0H277M641 62.0H666M537 63.5H563M615 63.5H641M589 66.4H615M641 67.9H666M226 81.2H252M174 84.1H200M641 85.6H666M174 100.3H200M252 101.7H277M355 101.7H381M200 112.0H226M277 112.0H303M355 112.0H381M407 112.0H433M277 122.3H303M666 123.8H692M641 128.2H666M666 138.5H692M148 140.0H174M200 140.0H226M277 140.0H303M666 144.4H692M666 151.8H692M303 162.1H329M641 162.1H666M329 163.5H355M641 165.0H666M329 166.5H355M589 167.9H615M615 190.0H641M459 194.4H485M744 198.8H770M355 200.3H381M744 200.3H770M589 201.8H615M589 203.2H615M174 204.7H200M381 204.7H407M433 207.6H459M485 207.6H511M744 209.1H770M485 213.5H511M589 213.5H615M459 215.0H485M148 217.9H200M511 217.9H537M589 219.4H615M615 220.9H641M252 222.4H277M303 222.4H329M563 222.4H589M615 225.3H641M744 225.3H770M615 226.8H641M718 226.8H744M200 234.1H226M277 234.1H329M433 234.1H459M485 234.1H511M666 237.1H692M537 240.0H563M537 247.4H563M692 250.3H718M537 251.8H563M511 253.2H537M692 253.2H718M174 256.2H200M407 259.1H459M537 259.1H563M485 263.5H511M537 263.5H589M692 263.5H718M692 266.5H718M666 272.4H692M718 272.4H744M252 273.8H277M226 275.3H252M303 275.3H329M511 275.3H537M692 275.3H718M641 279.7H666M718 284.1H744M485 285.6H511M355 293.0H381M407 293.0H459M485 298.8H511M252 303.2H277M692 303.2H718M666 304.7H692M226 306.2H252M641 307.7H666M615 312.1H641M615 315.0H641M485 316.5H511M641 320.9H666M485 322.4H511M485 325.3H511M666 325.3H692M485 329.7H511M511 331.2H537M692 337.1H718M666 338.5H692M459 340.0H485M459 344.4H485M485 347.4H511M174 348.8H200M355 348.8H381M174 353.3H200M459 354.7H485M381 356.2H433M615 360.6H641M485 362.1H511M615 362.1H641M433 363.6H459M459 368.0H485M641 368.0H666M459 369.4H485M459 372.4H485M589 376.8H615M329 379.7H355M459 382.7H485M615 387.1H641M744 387.1H770M615 390.0H641M537 394.4H563M537 398.8H563M537 400.3H563M381 406.2H407M563 406.2H589M148 412.1H200M407 416.5H433M563 420.9H589M407 422.4H433M407 423.9H433M355 426.8H381M537 426.8H563M355 429.7H381M511 432.7H537M329 434.1H355M381 435.6H407M511 435.6H537M563 435.6H615M537 440.0H563M381 443.0H407M563 443.0H589M537 445.9H563M355 450.3H381M641 456.2H666M692 456.2H718M537 459.2H563M485 473.9H511M537 476.8H563M744 479.7H770M511 490.0H537M355 491.5H381M485 493.0H511M329 497.4H355M511 497.4H537M666 498.9H692M303 501.8H329M641 503.3H666M485 504.7H511M589 513.6H666M692 513.6H744M459 519.5H485M303 520.9H329M303 526.8H329M329 532.7H355M252 535.6H329M666 535.6H692M459 537.1H485M303 541.5H329M277 553.3H303M433 554.8H459M252 568.0H277M485 568.0H511M563 568.0H615M277 570.9H303M252 572.4H277M511 572.4H537M303 579.8H329M277 588.6H303M277 591.5H303M252 593.0H277M433 595.9H459M615 600.3H641M252 603.3H277M277 607.7H303M277 609.2H303M407 615.1H433M459 616.5H485M252 618.0H277M459 619.5H485M744 619.5H770M200 628.3H226M252 628.3H277M485 628.3H511M537 628.3H563M589 628.3H615M174 631.2H200M252 635.6H277M381 637.1H407M381 638.6H407M252 641.5H277M433 643.0H459M407 644.5H433M355 659.2H381M563 660.7H589M200 666.5H226M226 668.0H252M381 668.0H407M226 675.4H252M355 675.4H381M537 675.4H563M666 676.8H692M355 682.7H381M666 685.7H718M200 690.1H226M355 693.0H381M563 694.5H589M744 696.0H770M692 697.4H718M200 698.9H226M641 698.9H692M174 700.4H200M174 704.8H200M329 709.2H355M148 713.6H174M329 715.1H355M485 715.1H537M174 719.5H200M303 721.0H329M407 721.0H433M303 729.8H329M277 735.7H303M744 735.7H770M148 738.6H174M381 741.5H407M666 743.0H692M303 744.5H329M252 747.4H303M381 747.4H407M252 748.9H277M226 753.3H252M252 754.8H277M226 757.7H252M485 759.2H511M537 759.2H589M252 763.6H277M252 768.0H277M226 769.5H252M252 771.0H277M252 776.8H277M692 779.8H718M226 782.7H252M355 784.2H381M485 784.2H511M252 785.7H277M355 785.7H381M744 785.7H770M252 788.6H277M226 793.0H252M226 794.5H252M381 797.4H407M459 797.4H485M744 797.4H770M226 798.9H252M329 798.9H355M252 801.8H277M589 810.7H615M407 815.1H433M252 818.0H277M226 819.5H252M252 822.4H277M252 825.4H277M252 828.3H277"/>
<path stroke="#848484" d="M226 62.0H252M407 62.0H433M511 63.5H537M174 66.4H200M615 67.9H641M277 69.4H303M433 69.4H459M589 69.4H615M329 70.9H355M641 76.7H666M641 92.9H666M666 94.4H692M641 97.3H666M537 98.8H563M277 100.3H303M666 100.3H692M277 101.7H303M589 101.7H615M641 110.6H666M252 112.0H277M303 112.0H355M433 112.0H459M148 122.3H174M226 122.3H252M537 122.3H563M407 126.8H433M641 132.6H666M641 140.0H666M641 153.2H666M666 156.2H692M666 160.6H692M355 162.1H381M407 163.5H433M381 166.5H407M537 166.5H563M589 166.5H615M615 167.9H666M174 173.8H200M641 182.6H666M174 184.1H200M303 184.1H381M511 185.6H537M744 185.6H770M589 192.9H615M744 192.9H770M511 194.4H537M200 200.3H226M407 204.7H433M589 207.6H615M615 209.1H641M615 212.1H641M744 212.1H770M511 213.5H563M226 217.9H252M589 217.9H615M744 223.8H770M589 228.2H615M744 232.6H770M252 234.1H277M329 234.1H355M744 235.6H770M329 237.1H355M692 240.0H718M277 241.5H329M407 241.5H433M744 241.5H770M692 242.9H718M718 247.4H744M355 248.8H407M537 248.8H563M537 250.3H563M433 256.2H459M563 257.7H589M718 259.1H744M537 260.6H563M718 262.1H744M511 263.5H537M641 272.4H666M692 272.4H718M744 272.4H770M174 273.8H226M666 273.8H692M666 285.6H692M485 287.1H511M485 293.0H537M537 295.9H563M666 298.8H692M200 303.2H226M718 303.2H744M718 304.7H744M459 306.2H485M485 318.0H511M641 319.4H666M641 322.4H666M615 323.8H641M615 326.8H641M615 332.7H641M641 334.1H666M641 340.0H666M511 341.5H537M641 343.0H666M329 348.8H355M381 348.8H407M615 348.8H666M459 350.3H485M459 351.8H485M615 351.8H641M407 353.3H433M641 353.3H666M200 356.2H226M433 356.2H459M407 360.6H433M459 360.6H485M615 363.6H641M641 369.4H666M355 372.4H381M666 372.4H692M433 378.3H459M303 379.7H329M433 379.7H459M692 379.7H718M433 381.2H459M459 385.6H485M563 385.6H589M589 391.5H615M407 394.4H433M563 395.9H589M407 397.4H433M537 397.4H563M407 398.8H433M589 410.6H615M692 410.6H718M433 415.0H459M537 415.0H563M407 418.0H433M744 422.4H770M381 425.3H407M381 431.2H407M381 432.7H407M355 434.1H381M641 434.1H666M718 434.1H744M407 451.8H433M355 456.2H407M537 456.2H563M381 457.7H407M511 459.2H537M381 462.1H407M381 463.6H407M511 463.6H537M329 466.5H355M355 473.9H381M511 476.8H537M485 488.6H511M355 493.0H381M511 494.5H537M485 495.9H511M537 498.9H563M329 503.3H355M537 503.3H563M329 504.7H355M485 506.2H511M355 507.7H381M718 509.2H744M459 512.1H485M511 515.0H537M485 520.9H511M355 522.4H381M303 523.9H329M485 523.9H511M329 528.3H355M329 531.2H355M485 532.7H511M329 535.6H355M303 545.9H329M303 547.4H329M666 547.4H692M329 551.8H355M303 554.8H329M433 559.2H459M303 565.0H329M433 570.9H459M563 572.4H589M303 573.9H329M303 575.3H329M433 579.8H459M277 587.1H303M407 587.1H433M407 588.6H433M433 593.0H485M433 594.5H459M277 595.9H303M277 597.4H303M407 598.9H433M744 600.3H770M277 601.8H303M252 604.8H277M433 604.8H459M563 609.2H589M433 610.6H459M407 613.6H433M277 616.5H303M381 616.5H407M433 616.5H459M433 618.0H459M537 618.0H563M692 619.5H718M277 626.8H303M433 626.8H459M226 628.3H252M459 628.3H485M485 629.8H537M666 629.8H692M407 631.2H459M641 631.2H666M252 634.2H277M252 637.1H277M252 640.1H277M381 640.1H407M252 644.5H277M277 647.4H303M407 647.4H433M381 648.9H407M381 654.8H407M355 657.7H381M226 659.2H252M615 660.7H641M666 660.7H692M252 670.9H277M226 684.2H252M174 685.7H200M355 685.7H381M666 687.1H692M200 688.6H226M355 690.1H381M459 694.5H485M537 694.5H563M641 694.5H692M744 694.5H770M666 697.4H692M226 701.8H252M666 706.2H692M329 710.7H355M200 715.1H226M433 715.1H459M200 718.0H226M381 721.0H407M692 721.0H718M303 722.4H329M277 725.4H303M692 743.0H718M744 743.0H770M329 747.4H355M433 747.4H485M226 751.8H252M433 760.7H459M485 765.1H511M329 776.8H381M381 785.7H407M252 791.6H277M329 791.6H355M407 797.4H459M485 798.9H511M226 800.4H252M407 809.2H459M485 809.2H537M744 809.2H770M744 810.7H770M200 813.6H226M303 818.0H329M485 818.0H511"/>
<path stroke="#7b7b7b" d="M381 62.0H407M563 62.0H615M200 66.4H226M433 66.4H459M381 67.9H407M433 67.9H485M511 67.9H537M563 67.9H589M252 69.4H277M615 69.4H641M226 70.9H277M303 70.9H329M589 70.9H615M666 72.3H692M641 75.3H666M252 81.2H277M459 81.2H485M641 82.6H666M303 84.1H329M433 98.8H459M148 100.3H174M200 100.3H226M252 100.3H277M303 100.3H329M381 101.7H407M641 101.7H666M666 103.2H692M200 106.2H226M641 107.6H666M381 112.0H407M641 112.0H666M641 117.9H666M563 122.3H589M433 126.8H459M641 129.7H666M226 140.0H252M641 145.9H666M329 162.1H355M666 175.3H692M641 179.7H666M666 181.2H692M615 195.9H641M407 200.3H433M148 204.7H174M355 204.7H381M615 204.7H641M744 206.2H770M563 213.5H589M744 216.5H770M200 222.4H226M277 222.4H303M615 222.4H641M744 222.4H770M355 237.1H381M433 241.5H459M563 245.9H589M692 245.9H718M200 248.8H226M433 248.8H459M692 267.9H718M692 269.4H718M563 270.9H589M692 270.9H718M666 282.7H692M666 288.5H692M666 290.0H692M537 294.4H563M641 294.4H666M174 303.2H200M641 304.7H666M666 306.2H692M537 307.7H563M511 309.1H537M615 310.6H641M511 312.1H537M641 313.5H666M615 316.5H641M641 318.0H666M511 326.8H537M641 328.3H666M615 331.2H641M511 332.7H537M485 334.1H511M615 341.5H641M485 343.0H511M615 345.9H641M589 347.4H615M200 353.3H226M615 354.7H641M485 359.1H511M329 360.6H381M615 365.0H641M381 372.4H433M744 372.4H770M433 376.8H459M718 379.7H744M407 393.0H433M433 400.3H459M433 409.1H459M718 410.6H744M200 412.1H226M537 412.1H563M511 418.0H537M537 431.2H563M381 445.9H407M511 448.9H537M537 450.3H563M511 451.8H537M407 454.7H433M407 459.2H433M511 465.0H537M615 472.4H641M355 475.3H381M355 476.8H381M511 481.2H537M355 482.7H381M485 484.2H511M355 485.6H381M381 498.9H407M589 503.3H615M485 509.2H511M329 513.6H355M744 515.0H770M744 522.4H770M355 529.8H381M433 531.2H459M329 534.2H355M303 537.1H329M329 538.6H355M459 540.0H485M744 544.5H770M433 551.8H459M303 556.2H329M459 556.2H485M303 563.6H329M303 566.5H329M277 568.0H303M277 572.4H303M459 572.4H485M433 573.9H459M459 578.3H485M303 582.7H329M329 584.2H355M303 585.6H329M277 590.1H303M615 593.0H666M277 594.5H303M433 598.9H459M485 598.9H511M407 601.8H433M433 612.1H459M277 619.5H303M407 622.4H433M303 623.9H329M252 625.4H277M407 626.8H433M563 628.3H589M537 629.8H563M692 629.8H718M277 631.2H303M381 631.2H407M615 631.2H641M381 634.2H407M252 643.0H277M407 650.4H433M355 656.2H381M381 666.5H407M226 669.5H252M355 672.4H381M355 673.9H381M355 679.8H381M641 685.7H666M355 687.1H381M692 687.1H744M511 694.5H537M615 694.5H641M718 694.5H744M226 696.0H252M200 697.4H226M355 700.4H381M174 703.3H200M511 706.2H563M200 707.7H226M174 710.7H200M174 712.1H200M329 712.1H355M407 715.1H433M459 715.1H485M303 719.5H329M329 721.0H355M355 723.9H381M433 723.9H459M148 725.4H174M174 728.3H200M277 728.3H303M148 731.3H174M381 735.7H407M433 735.7H459M718 735.7H744M277 740.1H303M303 741.5H329M459 741.5H485M355 747.4H381M407 747.4H433M485 750.4H537M718 750.4H744M407 760.7H433M511 765.1H537M459 772.4H511M537 772.4H563M718 776.8H744M329 784.2H355M226 787.1H252M226 790.1H252M226 797.4H252M381 798.9H407M226 804.8H252M226 806.3H252M200 807.7H226M226 809.2H252M589 809.2H641M666 809.2H692M718 809.2H744M226 810.7H252M563 810.7H589M329 815.1H355M459 815.1H485M277 818.0H303M537 818.0H563M226 823.9H252M200 826.9H226M277 831.3H329M381 831.3H407M718 831.3H744"/>
<path stroke="#737373" d="M407 67.9H433M485 67.9H511M589 67.9H615M303 69.4H329M277 70.9H303M641 73.8H666M433 81.2H459M329 84.1H355M666 84.1H692M459 98.8H537M589 98.8H692M226 100.3H252M329 101.7H355M615 101.7H641M174 106.2H200M641 113.5H666M666 119.4H692M174 122.3H200M252 122.3H277M641 122.3H666M641 126.8H666M666 131.2H692M641 137.0H666M174 140.0H200M666 142.9H692M641 148.8H666M641 150.3H666M666 154.7H692M303 166.5H329M666 169.4H692M641 170.9H666M641 172.3H666M615 173.8H641M226 184.1H252M277 184.1H303M355 185.6H381M485 185.6H511M744 187.1H770M615 188.5H641M174 200.3H200M200 204.7H226M329 204.7H355M615 213.5H641M433 215.0H459M200 217.9H226M537 217.9H589M718 220.9H744M589 222.4H615M589 223.8H615M615 229.7H641M355 234.1H407M459 234.1H485M641 234.1H666M563 244.4H589M329 248.8H355M666 248.8H692M355 256.2H381M252 259.1H277M381 259.1H407M563 259.1H589M692 259.1H718M641 276.8H666M511 288.5H537M537 290.0H563M303 293.0H329M459 293.0H485M511 297.4H537M537 300.3H563M537 301.8H563M148 303.2H174M692 304.7H718M433 306.2H459M485 319.4H511M511 328.3H537M641 335.6H666M485 337.1H511M641 337.1H666M511 338.5H537M174 356.2H200M744 357.7H770M226 360.6H252M303 360.6H329M381 360.6H407M615 369.4H641M459 370.9H485M615 370.9H641M641 372.4H666M692 372.4H718M485 375.3H511M355 379.7H381M563 381.2H589M589 384.1H615M459 387.1H485M589 388.6H615M459 390.0H485M148 395.9H381M407 395.9H433M589 395.9H615M692 395.9H744M433 401.8H459M407 403.3H433M433 404.7H459M407 410.6H433M666 425.3H692M407 428.3H433M692 434.1H718M381 438.6H407M485 453.3H511M666 456.2H692M563 459.2H615M381 460.6H407M537 460.6H563M381 469.4H407M381 470.9H407M485 470.9H511M511 475.3H537M511 478.3H537M148 479.7H200M718 479.7H744M355 481.2H381M511 482.7H537M355 490.0H381M381 494.5H407M381 495.9H407M329 500.3H355M459 510.6H485M718 515.0H744M329 516.5H355M485 516.5H511M511 522.4H563M459 526.8H485M485 528.3H511M485 529.8H511M329 540.0H355M459 544.5H485M615 544.5H641M459 545.9H485M641 547.4H666M718 547.4H744M303 548.9H329M433 548.9H459M277 550.3H303M433 550.3H459M433 562.1H459M303 568.0H329M485 572.4H511M303 578.3H329M303 581.2H329M433 582.7H459M433 591.5H459M511 593.0H563M589 593.0H615M407 597.4H433M303 600.3H329M563 600.3H615M433 603.3H459M381 606.2H407M407 609.2H433M252 613.6H277M485 616.5H563M718 618.0H744M407 620.9H433M148 622.4H277M433 622.4H459M381 625.4H407M641 629.8H666M226 654.8H252M355 660.7H381M252 662.1H277M355 670.9H381M355 678.3H381M226 679.8H252M148 681.2H200M615 681.2H641M200 682.7H226M718 685.7H770M200 687.1H226M355 688.6H381M200 691.5H226M226 693.0H252M329 698.9H355M329 703.3H355M303 706.2H329M563 706.2H615M641 706.2H666M200 709.2H226M355 721.0H381M718 721.0H744M148 723.9H200M277 726.8H303M407 735.7H433M692 735.7H718M252 737.1H277M407 741.5H433M744 750.4H770M381 760.7H407M589 760.7H615M200 772.4H226M226 791.6H252M355 798.9H381M511 798.9H537M226 803.3H252M641 809.2H666M692 809.2H718M407 810.7H433M200 815.1H226M692 815.1H718M226 829.8H252M744 831.3H770"/>
<path stroke="#6b6b6b" d="M200 62.0H226M666 63.5H692M459 66.4H511M563 66.4H589M692 67.9H718M381 69.4H407M641 70.9H666M277 81.2H303M615 81.2H641M666 87.0H692M666 91.5H692M666 101.7H692M148 106.2H174M226 106.2H252M666 109.1H692M692 116.5H718M666 120.9H692M589 122.3H615M666 125.3H692M226 126.8H252M615 126.8H641M666 141.5H692M381 163.5H407M563 166.5H589M615 166.5H641M174 167.9H226M252 167.9H355M589 173.8H615M666 176.8H692M666 178.2H692M666 184.1H692M303 185.6H329M589 194.4H615M615 198.8H641M744 203.2H770M615 206.2H641M459 207.6H485M718 210.6H744M718 213.5H744M511 215.0H563M744 215.0H770M615 216.5H641M615 217.9H641M226 222.4H252M744 231.2H770M563 237.1H589M589 238.5H615M718 241.5H744M537 242.9H563M666 244.4H692M148 248.8H200M277 248.8H303M563 254.7H589M666 254.7H692M459 256.2H485M718 256.2H770M692 257.7H718M355 259.1H381M692 260.6H718M563 262.1H589M563 265.0H589M692 265.0H718M511 273.8H537M537 276.8H563M641 278.2H666M511 282.7H537M666 284.1H692M641 287.1H666M666 297.4H692M537 303.2H563M148 304.7H174M511 313.5H537M511 315.0H537M615 329.7H641M511 335.6H537M407 348.8H433M433 353.3H459M459 356.2H485M252 357.7H303M148 360.6H174M277 360.6H303M485 365.0H511M485 373.8H511M563 379.7H589M744 379.7H770M459 384.1H485M433 388.6H459M537 393.0H563M563 403.3H589M537 404.7H563M407 407.7H433M407 413.6H433M537 413.6H563M537 416.5H563M407 419.4H433M537 419.4H563M407 420.9H433M511 423.9H537M692 425.3H718M381 434.1H407M563 434.1H589M511 438.6H537M407 440.0H433M381 444.4H407M381 447.4H407M511 447.4H537M407 448.9H433M407 465.0H433M485 466.5H511M641 472.4H666M355 479.7H381M355 488.6H381M511 491.5H537M485 500.3H511M459 501.8H485M511 503.3H537M563 503.3H589M329 506.2H355M355 509.2H381M511 509.2H537M744 509.2H770M459 515.0H485M381 518.0H407M589 522.4H615M459 525.3H485M641 535.6H666M303 544.5H329M641 544.5H666M433 547.4H459M692 547.4H718M433 553.3H459M329 559.2H355M329 562.1H355M459 563.6H485M433 565.0H459M459 568.0H485M433 569.5H459M459 575.3H485M459 581.2H485M433 585.6H459M277 603.3H303M381 607.7H407M537 609.2H563M277 610.6H303M277 612.1H303M615 616.5H641M563 618.0H589M433 619.5H459M718 619.5H744M459 626.8H485M459 631.2H485M277 632.7H303M355 641.5H381M252 645.9H277M252 651.8H277M252 653.3H277M226 656.2H252M252 660.7H277M329 665.1H355M381 669.5H407M200 672.4H226M252 676.8H277M744 687.1H770M303 691.5H329M226 694.5H252M329 697.4H355M329 704.8H355M615 706.2H641M303 713.6H329M200 721.0H226M744 721.0H770M277 731.3H303M174 732.7H200M459 735.7H485M148 740.1H174M148 741.5H174M433 741.5H459M200 746.0H226M226 747.4H252M226 748.9H252M226 756.3H252M200 759.2H226M615 760.7H641M226 762.1H252M226 763.6H252M200 766.5H226M226 768.0H252M200 775.4H226M226 776.8H252M200 779.8H226M666 784.2H692M718 784.2H744M226 785.7H252M226 788.6H252M200 796.0H226M407 798.9H433M226 801.8H252M537 809.2H563M381 815.1H407M226 818.0H252M226 828.3H252"/>
<path stroke="#636363" d="M433 62.0H485M511 62.0H537M666 62.0H692M666 65.0H692M511 66.4H537M692 66.4H718M537 67.9H563M407 69.4H433M641 69.4H692M407 70.9H433M537 70.9H563M615 70.9H641M407 81.2H433M641 81.2H666M666 85.6H692M692 95.9H718M563 98.8H589M303 101.7H329M666 104.7H692M200 122.3H226M666 128.2H692M666 132.6H692M692 134.1H718M692 135.6H718M692 157.6H718M666 162.1H692M485 163.5H511M666 165.0H692M148 166.5H200M226 166.5H252M744 178.2H770M200 184.1H226M615 187.1H641M615 194.4H641M615 197.3H641M615 210.6H641M485 215.0H511M615 219.4H641M744 229.7H770M615 231.2H641M692 238.5H718M459 241.5H485M692 241.5H718M563 247.4H589M666 251.8H692M537 253.2H563M666 253.2H692M407 256.2H433M589 266.5H615M563 269.4H589M537 272.4H563M563 278.2H589M537 279.7H563M511 285.6H537M537 291.5H563M252 293.0H277M641 301.8H666M485 306.2H511M641 306.2H666M615 309.1H641M511 323.8H537M511 325.3H537M641 325.3H666M485 340.0H511M589 344.4H615M485 345.9H511M459 348.8H485M589 350.3H615M148 353.3H174M485 356.2H511M303 357.7H329M433 357.7H459M485 357.7H511M589 359.1H615M511 360.6H537M329 372.4H355M589 372.4H615M718 372.4H744M381 379.7H433M459 391.5H485M407 406.2H433M537 406.2H563M511 407.7H537M433 412.1H459M718 422.4H744M641 425.3H666M381 426.8H407M511 426.8H537M485 429.7H511M433 441.5H459M692 444.4H718M381 450.3H407M381 453.3H407M511 456.2H537M511 462.1H537M459 468.0H485M485 472.4H511M718 472.4H744M666 479.7H692M459 485.6H485M381 487.1H407M485 490.0H511M355 497.4H381M485 497.4H511M485 503.3H511M459 509.2H485M433 513.6H459M485 515.0H511M329 520.9H355M718 522.4H744M329 526.8H355M459 534.2H485M718 535.6H770M433 538.6H459M433 541.5H459M744 547.4H770M303 553.3H329M355 557.7H381M355 560.6H381M433 566.5H459M615 568.0H641M303 572.4H329M433 576.8H459M433 584.2H459M407 590.1H433M303 591.5H329M277 593.0H303M303 598.9H329M511 609.2H537M303 615.1H329M692 616.5H718M277 618.0H303M692 618.0H718M277 620.9H303M407 628.3H433M641 628.3H666M407 643.0H433M355 645.9H381M277 650.4H303M407 651.8H433M381 653.3H407M252 657.7H277M329 663.6H355M226 666.5H252M226 678.3H252M200 681.2H226M329 682.7H355M329 696.0H355M200 700.4H226M200 704.8H226M200 706.2H226M303 716.5H329M200 722.4H226M381 723.9H407M485 723.9H511M277 729.8H303M277 732.7H303M485 735.7H511M666 735.7H692M277 738.6H303M355 741.5H381M277 744.5H303M692 750.4H718M226 754.8H252M200 757.7H226M666 760.7H692M200 765.1H226M563 765.1H589M226 771.0H252M200 773.9H226M692 776.8H718M744 776.8H770M200 778.3H226M200 781.3H226M641 784.2H666M381 791.6H407M563 809.2H589M459 810.7H485M511 810.7H537M200 812.1H226M200 816.6H226M563 818.0H589M744 818.0H770M200 821.0H226M226 822.4H252M226 825.4H252"/>
<path stroke="#5a5a5a" d="M537 62.0H563M148 66.4H174M537 66.4H563M355 70.9H407M666 70.9H692M666 75.3H692M666 76.7H692M692 78.2H718M692 79.7H718M329 81.2H381M666 81.2H692M666 82.6H692M407 84.1H433M459 84.1H511M692 88.5H718M692 90.0H718M666 92.9H692M666 97.3H692M692 98.8H718M692 101.7H718M692 106.2H718M666 110.6H692M666 112.0H692M692 115.0H718M615 122.3H641M174 126.8H226M666 126.8H692M666 129.7H692M692 138.5H718M666 140.0H692M666 145.9H692M692 147.3H718M666 153.2H692M692 159.1H718M277 163.5H329M355 163.5H381M537 163.5H563M277 166.5H303M666 167.9H692M641 173.8H666M148 184.1H174M252 184.1H277M641 185.6H666M744 195.9H770M563 197.3H589M718 197.3H744M148 200.3H174M433 200.3H459M615 201.8H641M615 203.2H641M277 204.7H303M744 204.7H770M407 207.6H433M563 215.0H615M744 219.4H770M615 228.2H641M641 232.6H666M381 237.1H407M485 237.1H511M641 237.1H666M563 240.0H589M200 241.5H252M303 248.8H329M563 251.8H589M589 267.9H615M537 275.3H563M666 275.3H692M537 281.2H563M277 293.0H303M537 293.0H563M511 298.8H537M641 300.3H666M666 303.2H692M537 320.9H563M641 338.5H666M615 340.0H641M459 353.3H511M485 354.7H511M174 360.6H200M252 360.6H277M459 363.6H485M485 368.0H511M615 368.0H641M485 369.4H511M485 372.4H511M589 373.8H615M563 376.8H589M537 378.3H563M537 420.9H563M641 422.4H666M692 422.4H718M615 434.1H641M407 443.0H433M537 443.0H563M511 445.9H537M511 454.7H537M718 456.2H744M485 457.7H511M615 459.2H641M666 459.2H718M485 469.4H511M407 478.3H433M381 491.5H407M329 501.8H355M355 510.6H381M459 518.0H485M563 522.4H589M692 522.4H718M329 523.9H355M355 525.3H381M355 532.7H381M692 535.6H718M407 543.0H433M692 544.5H744M433 560.6H459M329 569.5H355M615 572.4H641M329 576.8H355M563 593.0H589M459 598.9H485M511 598.9H537M744 598.9H770M381 600.3H407M433 600.3H459M407 604.8H433M589 616.5H615M718 616.5H744M407 618.0H433M666 618.0H692M381 626.8H407M485 626.8H511M744 626.8H770M433 628.3H459M589 631.2H615M381 635.6H407M277 638.6H303M381 644.5H407M459 651.8H485M355 662.1H381M252 668.0H277M563 681.2H615M200 685.7H226M329 685.7H355M226 690.1H252M329 694.5H355M174 713.6H200M200 716.5H226M303 723.9H329M148 726.8H174M174 734.2H200M174 735.7H200M277 741.5H303M329 741.5H355M641 743.0H666M718 743.0H744M252 750.4H277M200 751.8H226M200 753.3H226M226 765.1H252M200 769.5H226M381 776.8H407M200 782.7H226M277 791.6H329M200 793.0H226M200 794.5H226M200 798.9H226M433 798.9H485M433 810.7H459M303 815.1H329M511 815.1H537M718 818.0H744M200 819.5H226"/>
<path stroke="#525252" d="M485 62.0H511M692 69.4H718M433 70.9H537M666 73.8H692M303 81.2H329M355 84.1H407M692 94.4H718M692 100.3H718M666 107.6H692M666 113.5H692M666 117.9H692M666 122.3H692M692 123.8H718M459 126.8H563M589 126.8H615M666 137.0H692M692 144.4H718M666 148.8H692M666 150.3H692M692 151.8H718M692 156.2H718M692 160.6H718M252 166.5H277M537 173.8H563M666 173.8H692M744 175.3H770M329 185.6H355M433 185.6H485M718 190.0H744M718 198.8H744M226 204.7H252M303 204.7H329M381 207.6H407M615 215.0H641M718 223.8H744M744 234.1H770M252 241.5H277M381 241.5H407M692 247.4H718M226 248.8H277M666 250.3H692M692 256.2H718M277 259.1H355M563 260.6H589M666 269.4H692M641 273.8H666M641 295.9H666M641 298.8H666M174 306.2H200M537 306.2H563M511 318.0H537M511 322.4H537M485 344.4H511M615 353.3H641M148 356.2H174M744 356.2H770M589 357.7H615M511 366.5H537M589 366.5H615M563 375.3H589M563 382.7H589M589 387.1H615M589 390.0H615M563 410.6H589M744 410.6H770M563 412.1H589M615 412.1H641M615 423.9H641M381 429.7H407M407 437.1H433M485 437.1H511M511 440.0H537M511 441.5H537M641 444.4H666M744 444.4H770M744 456.2H770M718 459.2H770M355 466.5H381M381 472.4H407M692 472.4H718M692 479.7H718M459 487.1H485M511 498.9H537M355 503.3H381M459 504.7H485M459 506.2H485M355 512.1H381M355 515.0H381M355 519.5H381M459 520.9H485M381 522.4H407M485 522.4H511M459 523.9H485M355 528.3H381M433 537.1H459M329 541.5H355M329 543.0H355M666 544.5H692M433 557.7H459M303 570.9H329M666 572.4H692M407 593.0H433M407 594.5H433M407 595.9H433M381 598.9H407M718 598.9H744M485 609.2H511M407 610.6H433M563 616.5H589M744 616.5H770M589 618.0H615M381 622.4H407M485 622.4H511M381 623.9H407M485 631.2H511M277 635.6H303M252 665.1H277M355 668.0H381M329 684.2H355M329 693.0H355M329 701.8H355M303 707.7H329M537 735.7H563M589 735.7H666M174 737.1H200M174 738.6H200M148 744.5H174M277 750.4H303M537 750.4H589M226 760.7H252M355 760.7H381M744 760.7H770M589 765.1H615M511 776.8H537M277 784.2H303M511 784.2H537M200 790.1H226M433 791.6H459M200 797.4H226M200 800.4H226M200 810.7H226M537 810.7H563M666 815.1H692M589 818.0H615M641 818.0H692M200 823.9H226M407 831.3H433M692 831.3H718"/>
<path stroke="#4a4a4a" d="M329 69.4H355M563 70.9H589M692 72.3H718M433 84.1H459M692 103.2H718M692 119.4H718M563 126.8H589M692 142.9H718M692 154.7H718M511 163.5H537M589 163.5H615M200 166.5H226M641 166.5H692M226 167.9H252M666 182.6H692M381 185.6H433M744 188.5H770M641 191.5H666M718 191.5H744M718 192.9H744M744 194.4H770M589 197.3H615M718 200.3H744M744 201.8H770M148 207.6H200M355 207.6H381M718 209.1H744M744 228.2H770M433 237.1H459M666 242.9H692M485 256.2H563M666 259.1H692M692 262.1H718M666 263.5H692M615 281.2H641M641 285.6H666M511 287.1H537M226 293.0H252M252 304.7H277M511 304.7H563M148 306.2H174M537 310.6H563M511 316.5H537M615 319.4H641M511 329.7H537M615 334.1H641M615 343.0H641M485 351.8H511M615 356.2H641M355 357.7H381M459 357.7H485M589 363.6H615M563 391.5H589M511 401.8H537M511 409.1H537M433 416.5H459M433 422.4H459M666 422.4H692M537 423.9H563M537 425.3H563M589 425.3H641M485 432.7H511M744 434.1H770M485 435.6H511M666 444.4H692M459 473.9H485M485 476.8H511M641 479.7H666M407 484.2H433M485 494.5H511M355 504.7H381M459 529.8H485M329 545.9H355M329 547.4H355M407 554.8H433M641 568.0H666M407 570.9H433M641 572.4H666M329 575.3H355M329 579.8H355M537 598.9H615M641 598.9H718M459 600.3H537M277 604.8H303M303 606.2H329M433 609.2H485M381 613.6H407M641 616.5H692M615 618.0H666M718 626.8H744M615 628.3H641M692 628.3H718M459 629.8H485M718 629.8H744M355 632.7H381M355 637.1H381M277 643.0H303M277 644.5H303M381 651.8H407M355 654.8H381M355 666.5H381M329 675.4H355M329 681.2H355M692 681.2H718M226 688.6H252M329 690.1H355M226 698.9H252M303 709.2H329M303 710.7H329M303 715.1H329M200 719.5H226M252 734.2H277M511 735.7H537M563 735.7H589M537 743.0H563M641 750.4H666M200 760.7H226M252 760.7H303M329 760.7H355M641 760.7H666M692 760.7H718M433 765.1H459M407 776.8H433M252 784.2H277M303 784.2H329M537 784.2H563M200 787.1H226M200 803.3H226M200 804.8H226M200 806.3H226M200 809.2H226M563 815.1H589M615 815.1H666M615 818.0H641M200 829.8H226M226 831.3H277"/>
<path stroke="#424242" d="M148 62.0H174M692 63.5H718M381 81.2H407M692 84.1H718M692 87.0H718M692 91.5H718M692 109.1H718M692 120.9H718M692 125.3H718M692 131.2H718M692 141.5H718M200 163.5H226M563 173.8H589M666 179.7H692M692 181.2H718M744 184.1H770M615 192.9H641M200 197.3H226M252 197.3H277M407 197.3H433M511 197.3H537M459 200.3H511M252 204.7H277M615 207.6H641M641 225.3H666M718 225.3H744M459 237.1H485M537 237.1H563M666 240.0H692M485 241.5H511M563 248.8H589M563 250.3H589M563 256.2H589M589 263.5H615M615 272.4H641M641 282.7H666M641 288.5H666M615 291.5H641M511 306.2H537M615 320.9H641M615 322.4H641M511 334.1H537M485 348.8H511M485 350.3H511M589 351.8H615M329 357.7H355M381 357.7H433M511 357.7H537M200 360.6H226M511 362.1H537M589 362.1H615M459 379.7H485M511 394.4H537M511 398.8H537M589 412.1H615M563 422.4H641M563 423.9H589M641 423.9H666M407 425.3H433M485 428.3H511M407 431.2H433M589 434.1H615M537 444.4H589M718 444.4H744M511 450.3H537M641 459.2H666M485 463.6H511M381 468.0H407M407 472.4H433M666 472.4H692M744 472.4H770M485 481.2H511M381 482.7H407M459 488.6H485M459 493.0H485M433 519.5H459M615 522.4H641M459 532.7H485M329 556.2H355M329 563.6H355M666 568.0H692M718 568.0H744M381 587.1H407M303 588.6H329M303 595.9H329M537 600.3H563M303 609.2H329M381 609.2H407M407 612.1H433M303 619.5H329M666 626.8H692M718 628.3H744M303 631.2H329M355 638.6H381M355 640.1H381M329 659.2H355M252 663.6H277M252 669.5H277M329 672.4H355M252 675.4H277M329 676.8H355M329 687.1H355M329 700.4H355M200 712.1H226M277 721.0H303M511 723.9H537M148 729.8H174M252 735.7H277M200 747.4H226M200 748.9H226M666 750.4H692M200 754.8H226M200 756.3H226M718 760.7H744M200 762.1H226M200 763.6H226M407 765.1H433M200 768.0H226M200 771.0H226M200 776.8H226M433 776.8H459M485 776.8H511M200 785.7H226M200 788.6H226M200 801.8H226M537 815.1H563M200 818.0H226M692 818.0H718M200 822.4H226M200 825.4H226M200 828.3H226M329 831.3H355"/>
<path stroke="#3a3a3a" d="M174 62.0H200M692 62.0H718M692 65.0H718M355 69.4H381M692 85.6H718M692 92.9H718M692 97.3H718M692 104.7H718M692 110.6H718M148 126.8H174M692 128.2H718M692 132.6H718M692 162.1H718M692 165.0H718M692 167.9H718M666 172.3H692M641 190.0H666M641 195.9H666M718 206.2H744M226 207.6H252M641 212.1H666M718 212.1H744M744 217.9H770M641 220.9H666M641 222.4H666M718 232.6H744M666 235.6H692M407 237.1H433M511 237.1H537M666 241.5H692M589 257.7H615M666 266.5H692M615 279.7H641M148 284.1H200M407 284.1H433M511 284.1H537M641 284.1H666M537 297.4H563M174 304.7H200M226 304.7H252M615 313.5H641M615 318.0H641M537 331.2H563M615 337.1H641M511 343.0H537M589 345.9H615M511 347.4H537M589 348.8H615M589 354.7H615M511 356.2H537M718 356.2H744M589 360.6H615M589 370.9H615M459 376.8H485M459 381.2H485M485 382.7H511M563 388.6H589M433 394.4H459M537 395.9H563M433 397.4H459M433 403.3H459M666 412.1H692M511 422.4H537M433 423.9H459M563 425.3H589M511 431.2H537M407 435.6H433M511 444.4H537M511 460.6H537M407 462.1H433M407 463.6H433M381 475.3H407M381 476.8H407M381 493.0H407M407 498.9H433M433 509.2H459M459 516.5H485M666 522.4H692M329 537.1H355M433 544.5H459M433 545.9H459M303 550.3H329M329 554.8H355M433 556.2H459M329 565.0H355M692 568.0H718M329 573.9H355M329 578.3H355M433 578.3H459M407 579.8H433M329 581.2H355M381 588.6H407M303 594.5H329M303 597.4H329M303 601.8H329M407 603.3H433M303 607.7H329M381 615.1H407M563 626.8H589M641 626.8H666M277 628.3H303M381 628.3H407M666 628.3H692M433 629.8H459M537 631.2H563M277 634.2H303M277 641.5H303M303 648.9H329M381 650.4H407M252 654.8H277M277 673.9H303M355 681.2H381M200 703.3H226M200 710.7H226M303 712.1H329M226 715.1H252M277 718.0H303M252 725.4H277M174 731.3H200M303 750.4H329M303 760.7H329M252 765.1H277M174 791.6H200M459 791.6H485M174 807.7H200M485 810.7H511M174 813.6H200M589 815.1H615M200 831.3H226M355 831.3H381M666 831.3H692"/>
<path stroke="#313131" d="M692 70.9H718M692 73.8H718M692 75.3H718M692 76.7H718M692 81.2H718M692 82.6H718M692 107.6H718M692 112.0H718M692 117.9H718M692 122.3H718M692 126.8H718M692 129.7H718M692 137.0H718M692 140.0H718M692 145.9H718M692 148.8H718M692 150.3H718M692 153.2H718M563 163.5H589M615 163.5H641M666 170.9H692M148 173.8H174M200 173.8H226M718 185.6H744M641 188.5H666M148 197.3H174M355 197.3H381M433 197.3H459M641 197.3H666M563 200.3H589M641 204.7H666M718 204.7H744M200 207.6H226M277 207.6H303M641 209.1H666M718 216.5H744M718 222.4H744M615 223.8H641M641 226.8H666M641 229.7H666M174 241.5H200M589 245.9H615M666 245.9H692M666 256.2H692M589 270.9H615M666 270.9H692M537 282.7H563M485 284.1H511M537 284.1H563M615 287.1H641M537 288.5H563M641 290.0H666M563 295.9H589M641 297.4H666M615 304.7H641M615 307.7H641M589 312.1H615M589 315.0H615M589 316.5H615M511 319.4H537M615 328.3H641M511 337.1H537M537 338.5H563M511 348.8H537M511 353.3H537M666 356.2H692M589 365.0H615M589 369.4H615M485 370.9H511M459 378.3H485M563 384.1H589M485 387.1H511M459 388.6H485M485 390.0H511M433 393.0H459M511 397.4H537M433 398.8H459M511 400.3H537M537 403.3H563M537 410.6H563M537 422.4H563M589 423.9H615M692 423.9H744M407 432.7H433M407 438.6H433M407 445.9H433M407 457.7H433M407 460.6H433M381 473.9H407M485 475.3H511M381 479.7H407M615 479.7H641M381 481.2H407M485 482.7H511M381 490.0H407M355 500.3H381M459 500.3H485M433 507.7H459M433 512.1H459M381 515.0H407M355 516.5H381M641 522.4H666M459 528.3H485M355 534.2H381M433 540.0H459M329 544.5H355M407 550.3H433M407 559.2H433M433 563.6H459M329 566.5H355M433 575.3H459M433 581.2H459M329 582.7H355M329 585.6H355M303 587.1H329M303 590.1H329M381 601.8H407M303 612.1H329M277 613.6H303M459 622.4H485M277 625.4H303M303 626.8H329M511 626.8H537M589 626.8H615M692 626.8H718M563 631.2H589M355 634.2H381M277 637.1H303M277 640.1H303M303 647.4H329M381 647.4H407M511 651.8H537M666 651.8H692M744 651.8H770M329 656.2H355M329 657.7H355M252 659.2H277M355 669.5H381M226 672.4H252M329 678.3H355M329 679.8H355M252 684.2H277M226 687.1H252M329 688.6H355M226 697.4H252M252 701.8H277M303 703.3H329M277 719.5H303M277 722.4H303M459 723.9H485M174 725.4H200M252 740.1H277M589 750.4H641M277 765.1H303M615 765.1H641M174 766.5H200M174 772.4H200M174 775.4H200M459 776.8H485M200 784.2H226M589 784.2H615M174 815.1H200M252 815.1H303M174 826.9H200M433 831.3H459M485 831.3H511"/>
<path stroke="#292929" d="M718 66.4H744M718 67.9H744M692 113.5H718M718 116.5H744M718 157.6H744M226 163.5H277M692 166.5H744M692 169.4H718M718 187.1H744M641 194.4H666M174 197.3H200M485 197.3H511M537 197.3H563M537 200.3H563M692 200.3H718M718 203.2H744M744 207.6H770M641 215.0H666M641 217.9H666M692 226.8H718M718 231.2H744M666 234.1H692M511 241.5H537M563 242.9H589M589 247.4H615M641 248.8H666M666 260.6H692M589 262.1H615M589 265.0H615M666 267.9H692M537 273.8H563M226 284.1H252M459 284.1H485M537 285.6H563M563 290.0H589M174 293.0H200M563 303.2H589M200 304.7H226M303 304.7H355M381 304.7H407M485 304.7H511M537 309.1H563M589 323.8H615M589 326.8H615M537 328.3H563M589 332.7H615M537 335.6H563M615 335.6H641M511 340.0H537M433 348.8H459M511 359.1H537M537 381.2H563M485 384.1H511M485 385.6H511M537 385.6H563M433 395.9H459M433 410.6H459M511 412.1H537M433 413.6H459M511 415.0H537M433 418.0H459M511 419.4H537M433 420.9H459M511 425.3H537M407 444.4H433M589 444.4H615M407 447.4H433M485 448.9H511M407 450.3H433M433 451.8H459M433 454.7H459M485 459.2H511M485 465.0H511M459 466.5H485M381 485.6H407M485 491.5H511M459 495.9H485M433 501.8H459M355 506.2H381M433 510.6H459M355 513.6H381M355 520.9H381M433 526.8H459M381 529.8H407M355 531.2H381M615 535.6H641M355 538.6H381M355 540.0H381M329 548.9H355M407 548.9H433M355 551.8H381M407 553.3H433M433 568.0H459M744 568.0H770M407 573.9H433M407 582.7H433M355 584.2H381M407 591.5H433M303 593.0H329M381 597.4H407M615 598.9H641M303 603.3H329M303 610.6H329M303 616.5H329M355 616.5H381M407 619.5H433M381 620.9H407M355 625.4H381M615 626.8H641M303 629.8H329M744 629.8H770M511 631.2H537M277 651.8H303M355 651.8H381M277 653.3H303M277 662.1H303M252 666.5H277M277 670.9H303M252 679.8H277M226 681.2H252M641 681.2H666M226 682.7H252M252 693.0H277M252 696.0H277M303 698.9H329M226 700.4H252M303 704.8H329M226 707.7H252M277 713.6H303M744 723.9H770M252 726.8H277M252 729.8H277M174 740.1H200M174 741.5H200M252 741.5H277M589 743.0H641M174 746.0H200M174 757.7H200M174 759.2H200M174 765.1H200M174 773.9H200M174 778.3H200M174 779.8H200M174 781.3H200M226 784.2H252M563 784.2H589M615 784.2H641M355 791.6H381M174 793.0H200M174 794.5H200M174 796.0H200M174 812.1H200M226 815.1H252M174 816.6H200M174 819.5H200M174 821.0H200M459 831.3H485"/>
<path stroke="#212121" d="M718 78.2H744M718 79.7H744M718 88.5H744M718 90.0H744M718 95.9H744M718 98.8H744M718 101.7H744M718 106.2H744M718 115.0H744M718 134.1H744M718 135.6H744M718 138.5H744M718 147.3H744M718 159.1H744M692 163.5H718M226 173.8H277M692 176.8H718M641 187.1H666M226 197.3H252M329 197.3H355M641 198.8H666M511 200.3H537M589 200.3H615M641 200.3H666M641 201.8H666M641 206.2H666M303 207.6H329M718 207.6H744M641 213.5H666M718 215.0H744M641 216.5H666M641 219.4H666M718 219.4H744M641 228.2H666M718 229.7H744M641 231.2H666M718 235.6H744M563 253.2H589M641 253.2H666M666 257.7H692M589 259.1H615M666 265.0H692M563 275.3H589M641 275.3H666M615 276.8H641M252 284.1H277M303 284.1H329M381 284.1H407M563 294.4H589M615 294.4H641M537 298.8H563M563 300.3H589M563 301.8H589M355 304.7H381M537 312.1H563M537 313.5H563M537 325.3H563M615 325.3H641M537 326.8H563M589 329.7H615M537 332.7H563M537 341.5H563M589 341.5H615M589 356.2H615M641 356.2H666M692 356.2H718M485 363.6H511M511 365.0H537M511 368.0H537M589 368.0H615M511 373.8H537M537 379.7H563M511 393.0H537M459 400.3H485M459 404.7H485M433 406.2H459M511 406.2H537M744 412.1H770M511 413.6H537M459 415.0H485M511 416.5H537M485 418.0H511M433 419.4H459M666 423.9H692M407 426.8H433M485 426.8H511M537 434.1H563M485 438.6H511M433 440.0H459M433 443.0H459M511 443.0H537M485 444.4H511M615 444.4H641M485 447.4H511M485 451.8H511M459 453.3H485M433 456.2H459M485 456.2H511M407 469.4H433M459 470.9H485M485 478.3H511M381 488.6H407M407 494.5H433M381 497.4H407M459 497.4H485M355 501.8H381M459 503.3H485M381 507.7H407M355 523.9H381M433 525.3H459M355 526.8H381M407 531.2H433M433 534.2H459M589 535.6H615M407 547.4H433M407 551.8H433M329 553.3H355M407 565.0H433M407 566.5H433M407 569.5H433M407 572.4H459M407 585.6H433M381 590.1H407M329 591.5H355M381 604.8H407M303 618.0H329M303 620.9H329M537 626.8H563M277 629.8H303M381 629.8H407M381 643.0H407M355 648.9H381M303 650.4H329M433 651.8H459M355 653.3H381M252 656.2H277M329 660.7H355M252 678.3H277M537 681.2H563M666 681.2H692M303 682.7H329M303 685.7H329M226 691.5H252M252 694.5H277M303 697.4H329M226 704.8H252M226 706.2H252M226 709.2H252M200 713.6H226M226 718.0H252M277 723.9H303M200 728.3H226M252 728.3H277M252 731.3H277M200 732.7H226M200 743.0H226M252 744.5H277M174 751.8H200M174 753.3H200M174 760.7H200M744 765.1H770M174 769.5H200M174 782.7H200M174 784.2H200M174 787.1H200M174 790.1H200M200 791.6H226M174 797.4H200M174 798.9H200M174 800.4H200M174 803.3H200M174 804.8H200M174 806.3H200M174 809.2H200M174 810.7H200M174 818.0H200M174 823.9H200M174 829.8H200"/>
<path stroke="#191919" d="M718 69.4H744M718 72.3H744M718 84.1H744M718 94.4H744M718 100.3H744M718 103.2H744M718 119.4H744M718 123.8H744M718 142.9H744M718 144.4H744M718 151.8H744M718 154.7H744M718 156.2H744M718 160.6H744M641 163.5H666M692 175.3H718M718 195.9H744M381 197.3H407M459 197.3H485M718 201.8H744M641 203.2H666M692 210.6H718M692 213.5H718M692 220.9H718M692 223.8H718M718 228.2H744M615 238.5H641M589 241.5H615M641 242.9H666M589 244.4H615M641 244.4H666M666 247.4H692M641 251.8H666M589 254.7H615M641 254.7H666M641 259.1H666M589 260.6H615M666 262.1H692M589 269.4H615M615 273.8H641M563 276.8H589M200 284.1H226M641 293.0H666M692 293.0H718M615 298.8H641M641 303.2H666M433 304.7H485M563 304.7H589M615 306.2H641M563 307.7H589M589 310.6H615M589 331.2H615M615 338.5H641M589 340.0H615M563 344.4H589M511 345.9H537M563 347.4H589M563 350.3H589M589 353.3H615M511 354.7H537M563 363.6H589M511 369.4H537M563 372.4H589M537 376.8H563M563 387.1H589M563 390.0H589M485 391.5H511M511 395.9H537M511 404.7H537M433 407.7H459M459 409.1H485M511 410.6H537M511 420.9H537M744 423.9H770M485 425.3H511M433 428.3H459M459 429.7H485M485 445.9H511M407 456.2H433M433 459.2H459M485 462.1H511M381 466.5H407M407 470.9H433M511 479.7H537M459 484.2H485M459 490.0H485M407 491.5H433M407 495.9H433M381 503.3H407M433 506.2H459M433 515.0H459M433 520.9H459M433 523.9H459M381 528.3H407M381 532.7H407M563 535.6H589M407 537.1H433M407 541.5H433M355 562.1H381M407 562.1H433M329 568.0H355M407 576.8H433M381 593.0H407M303 604.8H329M381 610.6H407M381 618.0H407M744 622.4H770M407 629.8H433M355 631.2H381M355 635.6H381M277 645.9H303M329 645.9H355M277 660.7H303M277 668.0H303M329 670.9H355M329 673.9H355M303 681.2H329M226 685.7H252M252 690.1H277M277 691.5H303M277 706.2H303M277 716.5H303M174 726.8H200M252 738.6H277M174 743.0H200M563 743.0H589M174 744.5H200M174 747.4H200M174 748.9H200M174 750.4H252M174 754.8H200M174 756.3H200M174 762.1H200M174 763.6H200M303 765.1H329M174 768.0H200M174 771.0H200M174 776.8H200M174 785.7H200M174 788.6H200M407 791.6H433M174 801.8H200M174 822.4H200M174 825.4H200M174 828.3H200M615 831.3H641"/>
<path stroke="#101010" d="M718 62.0H744M718 63.5H744M718 65.0H744M718 70.9H744M718 73.8H744M718 75.3H744M718 76.7H744M718 81.2H744M718 82.6H744M718 85.6H744M718 87.0H744M718 91.5H744M718 92.9H744M718 97.3H744M718 104.7H744M718 107.6H744M718 109.1H744M718 110.6H744M718 112.0H744M718 113.5H744M718 117.9H744M718 120.9H744M718 122.3H744M718 125.3H744M718 126.8H744M718 128.2H744M718 129.7H744M718 131.2H744M718 132.6H744M718 137.0H744M718 140.0H744M718 141.5H744M718 145.9H744M718 148.8H744M718 150.3H744M718 153.2H744M718 162.1H744M148 163.5H174M718 165.0H744M718 167.9H744M744 170.9H770M407 173.8H433M692 173.8H718M744 179.7H770M718 181.2H744M692 182.6H718M744 182.6H770M692 184.1H718M718 188.5H744M692 192.9H718M718 194.4H744M692 197.3H718M252 207.6H277M329 207.6H355M692 207.6H718M641 210.6H666M666 238.5H692M589 240.0H615M537 241.5H589M641 250.3H666M589 251.8H615M589 256.2H615M615 266.5H641M641 269.4H666M615 282.7H641M329 284.1H355M615 284.1H641M615 285.6H641M537 287.1H563M615 300.3H641M615 301.8H641M277 304.7H303M407 304.7H433M563 306.2H589M589 309.1H615M537 315.0H563M537 318.0H563M589 319.4H615M537 322.4H563M537 323.8H563M589 334.1H615M589 343.0H615M511 344.4H537M511 351.8H537M563 351.8H589M563 359.1H589M511 372.4H537M563 373.8H589M511 375.3H537M459 401.8H485M485 407.7H511M459 412.1H485M641 412.1H666M485 423.9H511M407 429.7H433M433 431.2H459M433 448.9H459M485 450.3H511M407 453.3H433M433 465.0H459M459 469.4H485M459 476.8H485M433 478.3H459M459 481.2H485M407 482.7H433M433 485.6H459M485 498.9H511M381 504.7H407M433 504.7H459M381 509.2H407M407 513.6H433M407 522.4H433M459 522.4H485M381 525.3H407M407 538.6H433M355 541.5H381M355 545.9H381M355 559.2H381M355 563.6H381M355 568.0H381M355 569.5H381M329 570.9H355M381 570.9H407M329 572.4H355M355 575.3H381M355 576.8H381M407 584.2H433M381 594.5H407M381 595.9H407M329 600.3H355M381 603.3H407M355 606.2H381M355 607.7H381M381 612.1H407M355 613.6H381M329 615.1H355M329 619.5H355M303 622.4H329M329 623.9H355M303 632.7H329M303 635.6H329M329 641.5H355M303 643.0H329M355 644.5H381M329 654.8H355M277 657.7H303M303 665.1H329M329 666.5H355M329 668.0H355M277 669.5H303M303 672.4H329M277 676.8H303M511 681.2H537M303 687.1H329M252 688.6H277M303 694.5H329M303 696.0H329M303 700.4H329M277 710.7H303M226 716.5H252M226 721.0H252M226 722.4H252M537 723.9H563M174 729.8H200M252 732.7H277M226 737.1H252M200 738.6H226M485 743.0H511M718 765.1H744"/>
<path stroke="#080808" d="M692 172.3H718M744 172.3H770M744 173.8H770M744 176.8H770M692 178.2H718M692 179.7H718M666 185.6H692M692 190.0H718M641 192.9H666M666 195.9H692M303 197.3H329M692 198.8H718M615 200.3H641M641 207.6H666M718 217.9H744M666 232.6H692M718 234.1H744M589 237.1H615M641 240.0H666M641 241.5H666M589 250.3H615M615 267.9H641M563 272.4H589M615 278.2H641M563 279.7H589M563 281.2H589M355 284.1H381M563 284.1H589M563 288.5H589M615 288.5H641M563 291.5H589M200 293.0H226M563 293.0H589M615 293.0H641M744 293.0H770M615 295.9H641M563 297.4H589M537 316.5H563M589 318.0H615M563 320.9H589M589 322.4H615M537 329.7H563M537 334.1H563M537 337.1H563M589 337.1H615M537 343.0H563M511 350.3H537M563 354.7H589M563 357.7H589M537 360.6H563M511 370.9H537M563 370.9H589M485 376.8H511M511 378.3H537M485 379.7H511M537 382.7H563M485 388.6H511M537 388.6H563M537 391.5H563M459 403.3H485M718 412.1H744M459 416.5H485M433 425.3H459M485 431.2H511M485 440.0H511M459 441.5H485M485 454.7H511M459 457.7H485M433 460.6H459M485 460.6H511M433 462.1H459M433 468.0H459M459 472.4H485M433 473.9H459M407 475.3H433M459 475.3H485M407 476.8H433M459 479.7H485M407 481.2H433M459 482.7H485M407 487.1H433M433 488.6H459M459 494.5H485M433 498.9H459M381 500.3H407M433 500.3H459M381 510.6H407M381 512.1H407M381 516.5H407M433 516.5H459M407 518.0H433M381 519.5H407M433 529.8H459M433 532.7H459M355 537.1H381M355 544.5H381M407 544.5H433M407 545.9H433M355 547.4H381M329 550.3H355M381 550.3H407M355 556.2H381M407 556.2H433M381 557.7H407M381 560.6H407M355 578.3H381M407 578.3H433M355 581.2H381M407 581.2H433M329 594.5H355M329 595.9H355M329 598.9H355M355 622.4H381M511 622.4H563M355 626.8H381M355 628.3H381M355 629.8H381M303 638.6H329M303 644.5H329M589 651.8H615M641 651.8H666M692 651.8H718M277 654.8H303M329 662.1H355M303 663.6H329M303 684.2H329M252 687.1H277M303 690.1H329M303 693.0H329M252 698.9H277M303 701.8H329M226 703.3H252M277 703.3H303M277 707.7H303M277 709.2H303M226 710.7H252M226 712.1H252M277 712.1H303M226 719.5H252M200 723.9H226M563 723.9H589M200 734.2H226M200 735.7H226M511 791.6H537"/>
<path stroke="#000000" d="M744 62.0H770M744 63.5H770M744 65.0H770M744 66.4H770M744 67.9H770M744 69.4H770M744 70.9H770M744 72.3H770M744 73.8H770M744 75.3H770M744 76.7H770M744 78.2H770M744 79.7H770M744 81.2H770M744 82.6H770M744 84.1H770M744 85.6H770M744 87.0H770M744 88.5H770M744 90.0H770M744 91.5H770M744 92.9H770M744 94.4H770M744 95.9H770M744 97.3H770M744 98.8H770M744 100.3H770M744 101.7H770M744 103.2H770M744 104.7H770M744 106.2H770M744 107.6H770M744 109.1H770M744 110.6H770M744 112.0H770M744 113.5H770M744 115.0H770M744 116.5H770M744 117.9H770M744 119.4H770M744 120.9H770M744 122.3H770M744 123.8H770M744 125.3H770M744 126.8H770M744 128.2H770M744 129.7H770M744 131.2H770M744 132.6H770M744 134.1H770M744 135.6H770M744 137.0H770M744 138.5H770M744 140.0H770M744 141.5H770M744 142.9H770M744 144.4H770M744 145.9H770M744 147.3H770M744 148.8H770M744 150.3H770M744 151.8H770M744 153.2H770M744 154.7H770M744 156.2H770M744 157.6H770M744 159.1H770M744 160.6H770M744 162.1H770M174 163.5H200M666 163.5H692M718 163.5H770M744 165.0H770M744 166.5H770M744 167.9H770M718 169.4H770M692 170.9H744M718 172.3H744M277 173.8H407M433 173.8H537M718 173.8H744M718 175.3H744M718 176.8H744M718 178.2H744M718 179.7H744M744 181.2H770M718 182.6H744M718 184.1H744M692 185.6H718M666 187.1H718M666 188.5H718M666 190.0H692M666 191.5H718M666 192.9H692M666 194.4H718M692 195.9H718M277 197.3H303M666 197.3H692M666 198.8H692M666 200.3H692M666 201.8H718M666 203.2H718M666 204.7H718M666 206.2H718M666 207.6H692M666 209.1H718M666 210.6H692M666 212.1H718M666 213.5H692M666 215.0H718M666 216.5H718M666 217.9H718M666 219.4H718M666 220.9H692M666 222.4H718M641 223.8H692M666 225.3H718M666 226.8H692M666 228.2H718M666 229.7H718M666 231.2H718M692 232.6H718M692 234.1H718M692 235.6H718M615 237.1H641M641 238.5H666M615 240.0H641M148 241.5H174M615 241.5H641M589 242.9H641M615 244.4H641M615 245.9H666M615 247.4H666M589 248.8H641M615 250.3H641M615 251.8H641M589 253.2H641M615 254.7H641M615 256.2H666M615 257.7H666M615 259.1H641M615 260.6H666M615 262.1H666M615 263.5H666M615 265.0H666M641 266.5H666M641 267.9H666M615 269.4H641M615 270.9H666M589 272.4H615M563 273.8H615M589 275.3H641M589 276.8H615M589 278.2H615M589 279.7H615M589 281.2H615M563 282.7H615M277 284.1H303M433 284.1H459M589 284.1H615M563 285.6H615M563 287.1H615M589 288.5H615M589 290.0H641M589 291.5H615M148 293.0H174M589 293.0H615M666 293.0H692M718 293.0H744M589 294.4H615M589 295.9H615M589 297.4H641M563 298.8H615M589 300.3H615M589 301.8H615M589 303.2H641M589 304.7H615M589 306.2H615M589 307.7H615M563 309.1H589M563 310.6H589M563 312.1H589M563 313.5H615M563 315.0H589M563 316.5H589M563 318.0H589M537 319.4H589M589 320.9H615M563 322.4H589M563 323.8H589M563 325.3H615M563 326.8H589M563 328.3H615M563 329.7H589M563 331.2H589M563 332.7H589M563 334.1H589M563 335.6H615M563 337.1H589M563 338.5H615M537 340.0H589M563 341.5H589M563 343.0H589M537 344.4H563M537 345.9H589M537 347.4H563M537 348.8H589M537 350.3H563M537 351.8H563M537 353.3H589M537 354.7H563M537 356.2H589M537 357.7H563M537 359.1H563M563 360.6H589M537 362.1H589M511 363.6H563M537 365.0H589M537 366.5H589M537 368.0H589M537 369.4H589M537 370.9H563M537 372.4H563M537 373.8H563M537 375.3H563M511 376.8H537M485 378.3H511M511 379.7H537M485 381.2H537M511 382.7H537M511 384.1H563M511 385.6H537M511 387.1H563M511 388.6H537M511 390.0H563M511 391.5H537M459 393.0H511M459 394.4H511M459 395.9H511M459 397.4H511M459 398.8H511M485 400.3H511M485 401.8H511M485 403.3H537M485 404.7H511M459 406.2H511M459 407.7H485M485 409.1H511M459 410.6H511M485 412.1H511M692 412.1H718M459 413.6H511M485 415.0H511M485 416.5H511M459 418.0H485M459 419.4H511M459 420.9H511M459 422.4H511M459 423.9H485M459 425.3H485M433 426.8H485M459 428.3H485M433 429.7H459M459 431.2H485M433 432.7H485M407 434.1H537M433 435.6H485M433 437.1H485M433 438.6H485M459 440.0H485M485 441.5H511M459 443.0H511M433 444.4H485M433 445.9H485M433 447.4H485M459 448.9H485M433 450.3H485M459 451.8H485M433 453.3H459M459 454.7H485M459 456.2H485M433 457.7H459M459 459.2H485M459 460.6H485M459 462.1H485M433 463.6H485M459 465.0H485M407 466.5H459M407 468.0H433M433 469.4H459M433 470.9H459M433 472.4H459M407 473.9H433M433 475.3H459M433 476.8H459M459 478.3H485M407 479.7H459M485 479.7H511M537 479.7H615M433 481.2H459M433 482.7H459M433 484.2H459M407 485.6H433M433 487.1H459M407 488.6H433M407 490.0H459M433 491.5H485M407 493.0H459M433 494.5H459M433 495.9H459M407 497.4H459M459 498.9H485M407 500.3H433M381 501.8H433M407 503.3H459M407 504.7H433M381 506.2H433M407 507.7H433M407 509.2H433M407 510.6H433M407 512.1H433M381 513.6H407M407 515.0H433M407 516.5H433M433 518.0H459M407 519.5H433M381 520.9H433M433 522.4H459M381 523.9H433M407 525.3H433M381 526.8H433M407 528.3H459M407 529.8H433M381 531.2H407M407 532.7H433M381 534.2H433M355 535.6H563M381 537.1H407M381 538.6H407M381 540.0H433M381 541.5H407M355 543.0H407M381 544.5H407M381 545.9H407M381 547.4H407M355 548.9H407M355 550.3H381M381 551.8H407M355 553.3H407M355 554.8H407M381 556.2H407M407 557.7H433M381 559.2H407M407 560.6H433M381 562.1H407M381 563.6H433M355 565.0H407M355 566.5H407M381 568.0H433M381 569.5H407M355 570.9H381M355 572.4H407M692 572.4H770M355 573.9H407M381 575.3H433M381 576.8H407M381 578.3H407M355 579.8H407M381 581.2H407M355 582.7H407M381 584.2H407M355 585.6H407M329 587.1H381M329 588.6H381M329 590.1H381M355 591.5H407M329 593.0H381M355 594.5H381M355 595.9H381M329 597.4H381M355 598.9H381M355 600.3H381M329 601.8H381M329 603.3H381M329 604.8H381M329 606.2H355M329 607.7H355M329 609.2H381M329 610.6H381M329 612.1H381M303 613.6H355M355 615.1H381M329 616.5H355M329 618.0H381M355 619.5H407M329 620.9H381M277 622.4H303M329 622.4H355M563 622.4H744M355 623.9H381M303 625.4H355M329 626.8H355M303 628.3H355M744 628.3H770M329 629.8H355M329 631.2H355M329 632.7H355M303 634.2H355M329 635.6H355M303 637.1H355M329 638.6H355M303 640.1H355M303 641.5H329M329 643.0H381M329 644.5H355M303 645.9H329M329 647.4H381M329 648.9H355M329 650.4H381M303 651.8H355M485 651.8H511M537 651.8H589M615 651.8H641M718 651.8H744M303 653.3H355M303 654.8H329M277 656.2H329M303 657.7H329M277 659.2H329M303 660.7H329M303 662.1H329M277 663.6H303M277 665.1H303M277 666.5H329M303 668.0H329M303 669.5H355M303 670.9H329M252 672.4H303M303 673.9H329M277 675.4H329M303 676.8H329M277 678.3H329M277 679.8H329M252 681.2H303M381 681.2H511M718 681.2H770M252 682.7H303M277 684.2H303M252 685.7H303M277 687.1H303M277 688.6H329M277 690.1H303M252 691.5H277M277 693.0H303M277 694.5H303M277 696.0H303M252 697.4H303M277 698.9H303M252 700.4H303M277 701.8H303M252 703.3H277M252 704.8H303M252 706.2H277M252 707.7H277M252 709.2H277M252 710.7H277M252 712.1H277M226 713.6H277M252 715.1H303M252 716.5H277M252 718.0H277M252 719.5H277M252 721.0H277M252 722.4H277M226 723.9H277M589 723.9H744M200 725.4H252M200 726.8H252M226 728.3H252M200 729.8H252M200 731.3H252M226 732.7H252M226 734.2H252M226 735.7H252M200 737.1H226M226 738.6H252M200 740.1H252M200 741.5H252M226 743.0H485M511 743.0H537M200 744.5H252M148 746.0H174M148 747.4H174M148 748.9H174M148 750.4H174M148 751.8H174M148 753.3H174M148 754.8H174M148 756.3H174M148 757.7H174M148 759.2H174M148 760.7H174M148 762.1H174M148 763.6H174M148 765.1H174M329 765.1H407M641 765.1H718M148 766.5H174M148 768.0H174M148 769.5H174M148 771.0H174M148 772.4H174M148 773.9H174M148 775.4H174M148 776.8H174M148 778.3H174M148 779.8H174M148 781.3H174M148 782.7H174M148 784.2H174M148 785.7H174M148 787.1H174M148 788.6H174M148 790.1H174M148 791.6H174M485 791.6H511M537 791.6H770M148 793.0H174M148 794.5H174M148 796.0H174M148 797.4H174M148 798.9H174M148 800.4H174M148 801.8H174M148 803.3H174M148 804.8H174M148 806.3H174M148 807.7H174M148 809.2H174M148 810.7H174M148 812.1H174M148 813.6H174M148 815.1H174M148 816.6H174M148 818.0H174M148 819.5H174M148 821.0H174M148 822.4H174M148 823.9H174M148 825.4H174M148 826.9H174M148 828.3H174M148 829.8H174M148 831.3H200M511 831.3H615M641 831.3H666"/>
</g>
<rect x="1038" y="62.3" width="304" height="312.9" fill="#fff"/>
<g stroke-width="1.25">
<path stroke="#f7f7f7" d="M1101 62.8H1114M1253 62.8H1278M1076 63.8H1101M1266 63.8H1278M1076 64.8H1088M1266 64.8H1278M1088 66.8H1114M1139 66.8H1228M1240 66.8H1253M1076 67.8H1101M1114 67.8H1126M1139 67.8H1190M1240 67.8H1266M1088 68.8H1101M1114 68.8H1126M1190 68.8H1253M1190 69.8H1202M1126 70.8H1139M1152 70.8H1190M1202 70.8H1291M1126 71.8H1190M1202 71.8H1228M1063 72.8H1076M1114 72.8H1177M1190 72.8H1202M1253 72.8H1266M1076 73.8H1126M1139 73.8H1152M1101 74.8H1126M1164 74.8H1215M1228 74.8H1253M1088 76.8H1139M1152 76.8H1164M1202 76.8H1215M1088 77.8H1101M1240 77.8H1253M1063 79.8H1139M1152 79.8H1202M1228 79.8H1240M1063 80.8H1215M1228 80.8H1266M1063 81.8H1076M1240 81.8H1253M1063 83.8H1076M1202 83.8H1215M1088 84.8H1139M1240 84.8H1266M1050 86.8H1063M1088 86.8H1240M1063 87.8H1088M1215 87.8H1228M1088 88.8H1126M1076 89.8H1088M1152 89.8H1177M1190 89.8H1202M1253 89.8H1266M1050 91.8H1063M1114 91.8H1253M1076 93.8H1088M1076 94.8H1126M1139 94.8H1152M1164 94.8H1240M1088 95.8H1101M1114 95.8H1202M1050 96.8H1063M1076 96.8H1253M1050 97.8H1139M1152 97.8H1228M1076 98.8H1101M1126 98.8H1190M1202 98.8H1215M1063 99.8H1088M1190 99.8H1215M1063 100.8H1139M1177 100.8H1190M1202 100.8H1215M1038 101.8H1063M1076 101.8H1114M1164 101.8H1228M1063 102.8H1088M1202 102.8H1228M1038 103.8H1063M1088 103.8H1240M1063 104.8H1076M1126 104.8H1152M1240 104.8H1253M1063 105.8H1114M1126 105.8H1202M1050 106.8H1063M1088 106.8H1139M1177 106.8H1228M1038 107.8H1215M1063 109.8H1076M1038 110.8H1152M1202 110.8H1215M1050 111.8H1063M1190 111.8H1215M1126 112.8H1177M1329 112.8H1342M1038 113.8H1063M1076 113.8H1088M1126 113.8H1139M1152 113.8H1177M1190 113.8H1215M1063 114.8H1228M1101 115.8H1152M1101 117.8H1114M1202 117.8H1215M1316 117.8H1329M1126 118.8H1164M1177 118.8H1202M1038 119.8H1152M1177 119.8H1202M1063 120.8H1088M1139 120.8H1215M1215 121.8H1228M1329 121.8H1342M1038 122.8H1177M1190 122.8H1215M1063 124.8H1139M1164 124.8H1215M1063 125.8H1101M1114 125.8H1126M1139 125.8H1202M1038 126.8H1114M1139 128.8H1164M1177 128.8H1215M1038 129.8H1126M1139 129.8H1190M1329 129.8H1342M1038 130.8H1050M1190 130.8H1215M1152 134.8H1177M1316 134.8H1342M1038 135.8H1101M1177 135.8H1228M1050 136.8H1152M1164 137.8H1202M1316 137.8H1329M1038 138.8H1063M1164 138.8H1177M1316 138.8H1342M1038 139.8H1177M1329 139.8H1342M1190 140.8H1202M1329 140.8H1342M1050 141.8H1076M1088 141.8H1190M1038 142.8H1050M1202 142.8H1215M1050 144.8H1063M1088 144.8H1101M1038 145.8H1114M1139 145.8H1152M1291 145.8H1329M1038 146.8H1139M1177 146.8H1202M1304 146.8H1342M1038 147.8H1063M1139 147.8H1202M1038 152.8H1190M1316 152.8H1342M1038 153.8H1190M1304 153.8H1342M1050 154.8H1063M1190 154.8H1202M1316 154.8H1329M1050 155.8H1139M1152 155.8H1190M1316 155.8H1329M1038 160.8H1076M1291 160.8H1304M1038 161.8H1063M1101 161.8H1177M1291 161.8H1316M1038 162.8H1050M1126 162.8H1190M1329 162.8H1342M1114 163.8H1177M1038 165.8H1063M1088 165.8H1164M1050 166.8H1101M1114 166.8H1177M1316 166.8H1342M1038 167.8H1050M1114 167.8H1164M1316 167.8H1342M1038 169.8H1050M1063 169.8H1088M1101 169.8H1164M1291 169.8H1304M1316 169.8H1342M1038 171.8H1114M1126 171.8H1152M1291 171.8H1342M1063 172.8H1076M1291 172.8H1304M1038 173.8H1050M1152 173.8H1164M1304 173.8H1329M1329 174.8H1342M1038 175.8H1050M1063 175.8H1164M1316 175.8H1329M1114 176.8H1126M1088 177.8H1126M1139 177.8H1152M1278 177.8H1304M1329 177.8H1342M1076 178.8H1126M1304 178.8H1342M1114 179.8H1139M1291 179.8H1316M1266 180.8H1304M1101 181.8H1114M1139 181.8H1152M1291 181.8H1342M1050 182.8H1164M1266 182.8H1278M1329 182.8H1342M1038 184.8H1152M1291 184.8H1304M1316 184.8H1342M1063 186.8H1101M1114 186.8H1126M1266 186.8H1316M1329 186.8H1342M1101 187.8H1126M1038 189.8H1139M1304 189.8H1329M1050 191.8H1139M1266 191.8H1342M1038 192.8H1101M1266 192.8H1329M1038 194.8H1152M1266 194.8H1304M1329 194.8H1342M1038 195.8H1152M1304 195.8H1342M1038 198.8H1139M1266 198.8H1291M1329 198.8H1342M1038 199.8H1076M1101 199.8H1126M1266 199.8H1329M1038 200.8H1076M1088 200.8H1139M1266 200.8H1291M1304 200.8H1342M1050 202.8H1063M1088 203.8H1126M1266 203.8H1316M1329 203.8H1342M1050 204.8H1063M1076 204.8H1114M1266 204.8H1329M1038 205.8H1076M1126 209.8H1139M1253 209.8H1266M1304 210.8H1316M1126 211.8H1139M1038 212.8H1050M1114 212.8H1126M1253 212.8H1304M1139 214.8H1152M1266 214.8H1278M1038 215.8H1050M1139 215.8H1152M1278 215.8H1304M1316 215.8H1329M1038 216.8H1139M1266 216.8H1278M1304 216.8H1342M1038 217.8H1076M1114 217.8H1126M1253 217.8H1278M1063 218.8H1076M1253 218.8H1342M1038 219.7H1114M1228 219.7H1240M1266 219.7H1342M1038 222.7H1076M1266 222.7H1304M1101 223.7H1114M1278 223.7H1291M1038 225.7H1114M1050 226.7H1076M1253 226.7H1278M1038 227.7H1114M1266 227.7H1316M1050 228.7H1088M1240 228.7H1304M1278 230.7H1342M1114 231.7H1139M1266 231.7H1278M1038 232.7H1139M1266 232.7H1304M1063 233.7H1088M1240 233.7H1253M1038 234.7H1050M1063 235.7H1088M1215 235.7H1240M1253 235.7H1291M1076 238.7H1101M1253 238.7H1266M1076 239.7H1114M1291 239.7H1342M1038 240.7H1101M1240 240.7H1316M1088 241.7H1114M1266 241.7H1278M1038 242.7H1050M1114 242.7H1139M1253 242.7H1291M1088 243.7H1101M1240 243.7H1253M1076 244.7H1088M1253 244.7H1278M1076 246.7H1088M1215 246.7H1228M1038 247.7H1114M1240 247.7H1342M1101 250.7H1114M1228 250.7H1240M1038 254.7H1076M1215 254.7H1228M1316 254.7H1329M1038 255.7H1050M1063 255.7H1114M1266 255.7H1278M1304 255.7H1342M1076 256.7H1101M1215 256.7H1228M1063 258.7H1088M1240 258.7H1253M1050 259.7H1063M1202 259.7H1228M1076 261.7H1088M1215 261.7H1240M1038 263.7H1088M1240 263.7H1342M1088 264.7H1101M1202 264.7H1278M1088 266.7H1101M1253 266.7H1266M1038 267.7H1088M1215 267.7H1278M1291 267.7H1329M1063 268.7H1101M1215 268.7H1342M1076 270.7H1088M1228 270.7H1240M1050 271.7H1063M1215 271.7H1228M1038 273.7H1050M1240 273.7H1253M1266 273.7H1316M1329 273.7H1342M1076 274.7H1101M1228 274.7H1240M1253 274.7H1266M1050 275.7H1063M1215 275.7H1228M1050 276.7H1063M1076 276.7H1101M1202 276.7H1215M1228 276.7H1253M1266 276.7H1342M1266 277.7H1291M1190 278.7H1228M1240 278.7H1253M1038 279.7H1076M1215 279.7H1278M1050 280.7H1088M1190 280.7H1202M1278 280.7H1291M1304 280.7H1342M1038 281.7H1076M1038 282.7H1076M1228 282.7H1240M1291 282.7H1342M1038 283.7H1076M1190 283.7H1253M1266 283.7H1342M1038 284.7H1088M1190 284.7H1202M1038 285.7H1076M1190 285.7H1228M1240 285.7H1304M1050 286.7H1063M1215 286.7H1253M1050 287.7H1063M1202 287.7H1215M1063 288.7H1076M1190 288.7H1202M1050 290.7H1063M1202 290.7H1215M1253 290.7H1342M1228 291.7H1240M1050 292.7H1076M1228 292.7H1304M1063 293.7H1076M1190 293.7H1202M1038 295.7H1076M1202 295.7H1240M1038 296.7H1088M1190 296.7H1316M1038 297.7H1076M1228 297.7H1291M1304 297.7H1316M1329 297.7H1342M1038 298.7H1050M1076 299.7H1088M1190 299.7H1202M1291 301.7H1304M1316 301.7H1329M1038 302.7H1063M1329 302.7H1342M1038 303.7H1050M1202 303.7H1228M1240 303.7H1266M1291 303.7H1304M1190 305.7H1228M1240 305.7H1253M1038 306.7H1063M1202 306.7H1291M1038 308.7H1050M1164 308.7H1228M1304 308.7H1342M1038 309.7H1063M1164 309.7H1190M1215 309.7H1228M1240 309.7H1253M1304 309.7H1342M1050 311.7H1063M1177 311.7H1190M1177 313.7H1202M1304 313.7H1329M1164 314.7H1190M1253 314.7H1342M1164 318.7H1190M1202 318.7H1215M1316 318.7H1329M1164 319.7H1228M1240 319.7H1253M1278 319.7H1291M1190 321.7H1316M1329 321.7H1342M1177 324.7H1190M1202 324.7H1215M1228 324.7H1278M1291 324.7H1304M1329 324.7H1342M1038 325.7H1076M1177 325.7H1342M1139 326.7H1164M1240 326.7H1316M1253 327.7H1266M1038 328.7H1050M1139 328.7H1152M1329 328.7H1342M1164 329.7H1240M1291 329.7H1316M1190 330.7H1240M1152 331.7H1202M1228 331.7H1329M1278 332.7H1291M1316 332.7H1329M1038 333.7H1063M1164 333.7H1202M1228 333.7H1304M1316 333.7H1342M1202 334.7H1240M1139 335.7H1202M1278 335.7H1316M1139 336.7H1152M1240 336.7H1253M1266 336.7H1316M1152 339.7H1202M1215 339.7H1228M1278 339.7H1316M1164 341.7H1202M1228 341.7H1278M1316 341.7H1329M1126 343.7H1152M1177 343.7H1202M1215 343.7H1291M1139 344.7H1152M1177 344.7H1266M1329 344.7H1342M1126 345.7H1152M1304 345.7H1316M1164 346.7H1253M1304 346.7H1329M1126 347.7H1190M1291 347.7H1304M1152 348.7H1202M1240 348.7H1278M1291 348.7H1316M1164 349.7H1177M1126 351.7H1164M1291 351.7H1316M1139 352.7H1316M1177 353.7H1190M1139 354.7H1278M1291 354.7H1304M1139 355.7H1228M1266 355.7H1278M1126 357.7H1215M1101 360.7H1114M1278 360.7H1291M1266 361.7H1278M1139 363.7H1152M1291 363.7H1304M1139 364.7H1316M1139 366.7H1278M1101 367.7H1215M1228 367.7H1291M1101 368.7H1152M1215 368.7H1278M1126 369.7H1152M1278 369.7H1304M1101 370.7H1139M1114 373.7H1126M1304 373.7H1316M1114 374.7H1266M1291 374.7H1316"/>
<path stroke="#efefef" d="M1088 62.8H1101M1278 63.8H1291M1164 65.8H1177M1253 66.8H1266M1190 67.8H1240M1076 68.8H1088M1101 68.8H1114M1126 68.8H1190M1253 68.8H1266M1177 69.8H1190M1202 69.8H1215M1228 69.8H1240M1101 70.8H1126M1139 70.8H1152M1291 70.8H1304M1088 71.8H1126M1228 71.8H1266M1050 72.8H1063M1152 73.8H1253M1126 74.8H1164M1253 74.8H1266M1177 75.8H1190M1139 76.8H1152M1164 76.8H1202M1215 76.8H1240M1076 77.8H1088M1253 77.8H1266M1050 79.8H1063M1202 79.8H1228M1266 80.8H1278M1050 81.8H1063M1050 83.8H1063M1215 83.8H1228M1076 84.8H1088M1139 84.8H1240M1152 85.8H1164M1228 87.8H1240M1076 88.8H1088M1126 88.8H1177M1240 88.8H1266M1088 93.8H1139M1038 95.8H1088M1101 95.8H1114M1139 97.8H1152M1228 97.8H1240M1063 98.8H1076M1101 98.8H1126M1215 98.8H1228M1215 99.8H1228M1050 100.8H1063M1215 100.8H1228M1114 101.8H1164M1329 103.8H1342M1050 104.8H1063M1050 105.8H1063M1202 105.8H1240M1038 106.8H1050M1063 106.8H1088M1215 107.8H1228M1329 107.8H1342M1215 108.8H1228M1050 109.8H1063M1076 109.8H1101M1126 109.8H1139M1038 111.8H1050M1088 112.8H1126M1177 112.8H1190M1215 113.8H1228M1050 114.8H1063M1076 115.8H1088M1038 118.8H1126M1202 118.8H1215M1215 120.8H1228M1228 121.8H1240M1050 124.8H1063M1050 125.8H1063M1202 125.8H1215M1114 126.8H1152M1164 126.8H1177M1202 126.8H1240M1101 128.8H1139M1164 128.8H1177M1215 128.8H1228M1190 129.8H1202M1114 132.8H1139M1038 133.8H1050M1329 133.8H1342M1101 135.8H1177M1228 135.8H1240M1038 136.8H1050M1152 136.8H1215M1177 138.8H1190M1177 139.8H1190M1316 139.8H1329M1202 140.8H1215M1038 141.8H1050M1076 141.8H1088M1329 141.8H1342M1329 142.8H1342M1126 143.8H1152M1164 143.8H1202M1038 144.8H1050M1063 144.8H1088M1152 145.8H1164M1266 148.8H1291M1190 153.8H1202M1291 153.8H1304M1304 154.8H1316M1038 155.8H1050M1190 155.8H1202M1304 155.8H1316M1329 155.8H1342M1278 156.8H1304M1101 157.8H1114M1139 157.8H1152M1038 158.8H1050M1063 159.8H1076M1304 159.8H1342M1076 160.8H1164M1304 160.8H1342M1316 162.8H1329M1038 163.8H1114M1291 163.8H1342M1304 165.8H1342M1038 166.8H1050M1177 166.8H1202M1050 168.8H1063M1050 169.8H1063M1088 169.8H1101M1164 169.8H1177M1304 169.8H1316M1152 171.8H1164M1076 172.8H1101M1278 172.8H1291M1304 172.8H1316M1101 174.8H1114M1304 174.8H1329M1164 175.8H1177M1291 175.8H1316M1329 175.8H1342M1088 176.8H1114M1126 176.8H1139M1266 176.8H1316M1152 177.8H1164M1038 178.8H1050M1063 178.8H1076M1126 178.8H1139M1278 178.8H1304M1038 180.8H1164M1304 180.8H1342M1278 181.8H1291M1152 184.8H1164M1278 184.8H1291M1177 185.8H1190M1038 186.8H1063M1126 186.8H1139M1050 187.8H1101M1329 187.8H1342M1139 189.8H1152M1266 189.8H1304M1329 189.8H1342M1139 191.8H1152M1253 191.8H1266M1101 192.8H1126M1253 192.8H1266M1329 192.8H1342M1139 193.8H1152M1316 193.8H1329M1152 194.8H1164M1253 194.8H1266M1304 194.8H1329M1152 195.8H1164M1291 195.8H1304M1291 198.8H1329M1076 200.8H1088M1253 200.8H1266M1038 203.8H1088M1114 204.8H1152M1329 204.8H1342M1076 205.8H1114M1240 209.8H1253M1278 210.8H1291M1114 211.8H1126M1152 211.8H1164M1253 214.8H1266M1152 215.8H1164M1266 215.8H1278M1139 216.8H1152M1253 216.8H1266M1126 217.8H1139M1240 217.8H1253M1038 218.8H1063M1076 218.8H1139M1240 218.8H1253M1114 219.7H1126M1215 219.7H1228M1240 219.7H1266M1076 222.7H1126M1304 222.7H1342M1050 223.7H1101M1266 223.7H1278M1291 223.7H1316M1253 225.7H1316M1329 225.7H1342M1038 226.7H1050M1076 226.7H1088M1228 226.7H1253M1278 226.7H1316M1253 227.7H1266M1088 228.7H1101M1316 229.7H1329M1038 230.7H1114M1266 230.7H1278M1253 232.7H1266M1228 233.7H1240M1240 234.7H1253M1240 238.7H1253M1038 239.7H1076M1266 239.7H1291M1101 240.7H1114M1253 241.7H1266M1228 243.7H1240M1088 244.7H1101M1202 246.7H1215M1228 247.7H1240M1316 248.7H1342M1114 250.7H1126M1253 252.7H1291M1063 253.7H1088M1240 253.7H1253M1266 253.7H1278M1076 254.7H1088M1202 254.7H1215M1228 255.7H1266M1278 255.7H1304M1228 258.7H1240M1063 259.7H1076M1088 261.7H1101M1202 261.7H1215M1038 262.7H1050M1063 262.7H1076M1228 265.7H1253M1101 266.7H1114M1240 266.7H1253M1202 267.7H1215M1038 268.7H1063M1202 268.7H1215M1278 269.7H1291M1088 270.7H1101M1215 270.7H1228M1063 271.7H1076M1202 271.7H1215M1215 272.7H1228M1240 272.7H1253M1050 273.7H1101M1228 273.7H1240M1253 273.7H1266M1101 274.7H1114M1215 274.7H1228M1038 275.7H1050M1063 275.7H1076M1202 275.7H1215M1228 275.7H1266M1316 275.7H1342M1190 276.7H1202M1240 277.7H1266M1291 277.7H1316M1038 278.7H1076M1228 278.7H1240M1253 278.7H1291M1304 278.7H1342M1190 281.7H1215M1228 281.7H1240M1253 281.7H1266M1278 281.7H1291M1329 281.7H1342M1076 282.7H1088M1240 282.7H1291M1253 283.7H1266M1228 285.7H1240M1038 286.7H1050M1063 286.7H1076M1253 286.7H1266M1190 287.7H1202M1240 291.7H1266M1215 292.7H1228M1177 293.7H1190M1278 294.7H1291M1076 295.7H1088M1190 295.7H1202M1240 295.7H1278M1177 297.7H1228M1329 298.7H1342M1076 301.7H1088M1266 301.7H1291M1304 301.7H1316M1329 301.7H1342M1063 302.7H1076M1215 302.7H1329M1050 303.7H1101M1228 303.7H1240M1266 303.7H1291M1304 303.7H1342M1038 305.7H1050M1228 305.7H1240M1253 305.7H1342M1050 308.7H1063M1228 308.7H1253M1266 308.7H1304M1190 309.7H1215M1228 309.7H1240M1253 309.7H1304M1266 310.7H1278M1063 311.7H1076M1164 313.7H1177M1038 314.7H1050M1152 314.7H1164M1164 315.7H1177M1202 316.7H1215M1152 318.7H1164M1329 318.7H1342M1152 319.7H1164M1228 319.7H1240M1253 319.7H1278M1291 319.7H1342M1038 321.7H1063M1215 323.7H1228M1164 324.7H1177M1278 324.7H1291M1304 324.7H1329M1164 325.7H1177M1164 326.7H1240M1316 326.7H1342M1177 327.7H1190M1202 327.7H1215M1228 327.7H1240M1152 329.7H1164M1240 330.7H1342M1266 332.7H1278M1291 332.7H1316M1304 333.7H1316M1190 334.7H1202M1126 335.7H1139M1316 335.7H1329M1126 336.7H1139M1240 337.7H1253M1278 338.7H1291M1316 339.7H1329M1164 340.7H1177M1139 341.7H1164M1278 341.7H1316M1329 341.7H1342M1152 346.7H1164M1253 346.7H1304M1304 347.7H1316M1126 349.7H1164M1177 349.7H1278M1291 349.7H1329M1164 351.7H1291M1316 351.7H1329M1316 352.7H1329M1278 354.7H1291M1304 354.7H1316M1126 355.7H1139M1278 355.7H1291M1114 357.7H1126M1215 357.7H1253M1278 357.7H1291M1126 358.7H1152M1278 358.7H1291M1215 359.7H1228M1291 360.7H1304M1215 361.7H1266M1278 361.7H1304M1126 363.7H1139M1304 363.7H1316M1126 364.7H1139M1126 366.7H1139M1278 366.7H1291M1139 370.7H1215M1228 370.7H1240M1266 370.7H1291"/>
<path stroke="#e6e6e6" d="M1152 65.8H1164M1063 67.8H1076M1266 67.8H1278M1101 69.8H1126M1152 69.8H1177M1215 69.8H1228M1240 69.8H1253M1266 69.8H1291M1088 70.8H1101M1076 71.8H1088M1266 71.8H1278M1253 73.8H1266M1088 74.8H1101M1139 75.8H1152M1164 75.8H1177M1190 75.8H1215M1076 76.8H1088M1240 76.8H1253M1240 79.8H1253M1050 80.8H1063M1253 81.8H1266M1101 85.8H1114M1126 85.8H1152M1164 85.8H1177M1038 86.8H1050M1177 88.8H1190M1202 88.8H1240M1063 89.8H1076M1266 89.8H1278M1038 91.8H1050M1253 91.8H1266M1152 93.8H1164M1215 93.8H1228M1240 93.8H1253M1063 94.8H1076M1240 94.8H1253M1329 95.8H1342M1253 96.8H1266M1038 97.8H1050M1050 99.8H1063M1228 101.8H1240M1050 102.8H1063M1253 104.8H1266M1038 105.8H1050M1228 106.8H1240M1329 106.8H1342M1101 109.8H1126M1215 110.8H1228M1329 110.8H1342M1215 111.8H1228M1038 112.8H1088M1190 112.8H1228M1329 113.8H1342M1050 115.8H1076M1088 115.8H1101M1152 115.8H1202M1228 115.8H1253M1228 116.8H1240M1304 117.8H1316M1215 118.8H1228M1329 118.8H1342M1202 119.8H1215M1329 119.8H1342M1050 120.8H1063M1215 122.8H1228M1329 122.8H1342M1215 124.8H1228M1038 125.8H1050M1152 126.8H1164M1177 126.8H1202M1139 127.8H1164M1316 127.8H1342M1038 128.8H1101M1329 128.8H1342M1316 129.8H1329M1329 130.8H1342M1101 132.8H1114M1139 132.8H1152M1164 132.8H1177M1063 133.8H1076M1164 133.8H1177M1190 133.8H1215M1177 134.8H1190M1304 137.8H1316M1304 138.8H1316M1316 140.8H1329M1190 141.8H1202M1316 141.8H1329M1215 142.8H1228M1076 143.8H1126M1152 143.8H1164M1101 144.8H1152M1278 145.8H1291M1291 146.8H1304M1329 147.8H1342M1038 148.8H1063M1253 148.8H1266M1304 148.8H1316M1164 150.8H1177M1139 151.8H1164M1329 151.8H1342M1190 152.8H1202M1291 155.8H1304M1266 156.8H1278M1304 156.8H1342M1050 157.8H1063M1076 157.8H1088M1114 157.8H1139M1152 157.8H1164M1050 158.8H1076M1139 158.8H1152M1278 158.8H1304M1038 159.8H1063M1076 159.8H1114M1126 159.8H1139M1190 159.8H1202M1278 160.8H1291M1278 161.8H1291M1190 162.8H1202M1164 165.8H1177M1304 166.8H1316M1164 167.8H1177M1304 167.8H1316M1038 168.8H1050M1266 168.8H1278M1076 170.8H1114M1304 170.8H1316M1278 171.8H1291M1038 172.8H1063M1101 172.8H1114M1266 172.8H1278M1316 172.8H1329M1164 173.8H1177M1291 173.8H1304M1088 174.8H1101M1126 174.8H1152M1291 174.8H1304M1139 176.8H1164M1253 176.8H1266M1316 176.8H1342M1266 177.8H1278M1050 178.8H1063M1253 178.8H1278M1139 179.8H1152M1278 179.8H1291M1152 181.8H1164M1253 182.8H1266M1038 183.8H1050M1038 185.8H1050M1253 186.8H1266M1038 187.8H1050M1126 187.8H1139M1240 187.8H1329M1316 188.8H1329M1152 189.8H1164M1266 190.8H1278M1126 192.8H1152M1101 193.8H1114M1126 193.8H1139M1291 193.8H1316M1164 195.8H1177M1253 198.8H1266M1126 199.8H1139M1253 199.8H1266M1038 202.8H1050M1063 202.8H1076M1304 202.8H1316M1329 202.8H1342M1114 205.8H1126M1228 205.8H1240M1329 205.8H1342M1038 206.8H1050M1139 209.8H1152M1266 210.8H1278M1291 210.8H1304M1316 210.8H1342M1101 211.8H1114M1316 211.8H1342M1126 212.8H1139M1240 212.8H1253M1152 214.8H1164M1139 218.8H1152M1126 222.7H1139M1253 222.7H1266M1038 223.7H1050M1114 223.7H1126M1253 223.7H1266M1316 223.7H1329M1253 224.7H1266M1240 225.7H1253M1316 225.7H1329M1088 226.7H1114M1215 226.7H1228M1316 226.7H1329M1114 227.7H1126M1088 229.7H1101M1139 229.7H1152M1266 229.7H1278M1304 229.7H1316M1114 230.7H1126M1253 231.7H1266M1139 232.7H1152M1088 233.7H1101M1050 234.7H1076M1202 235.7H1215M1076 236.7H1101M1101 238.7H1114M1114 239.7H1126M1253 239.7H1266M1228 240.7H1240M1114 241.7H1126M1240 242.7H1253M1101 243.7H1114M1240 244.7H1253M1114 245.7H1126M1329 245.7H1342M1088 246.7H1101M1114 247.7H1126M1038 248.7H1050M1291 248.7H1316M1215 250.7H1228M1240 252.7H1253M1291 252.7H1304M1088 253.7H1101M1228 253.7H1240M1253 253.7H1266M1278 253.7H1304M1215 255.7H1228M1202 256.7H1215M1088 258.7H1101M1076 262.7H1088M1088 263.7H1101M1101 264.7H1114M1038 265.7H1050M1253 265.7H1266M1101 268.7H1114M1215 269.7H1228M1240 269.7H1253M1266 269.7H1278M1291 269.7H1304M1316 269.7H1329M1038 272.7H1050M1076 275.7H1101M1266 275.7H1316M1228 277.7H1240M1177 278.7H1190M1291 278.7H1304M1076 279.7H1088M1202 279.7H1215M1088 280.7H1101M1076 281.7H1088M1215 281.7H1228M1240 281.7H1253M1266 281.7H1278M1291 281.7H1329M1076 283.7H1088M1177 283.7H1190M1088 284.7H1101M1177 284.7H1190M1076 286.7H1088M1266 286.7H1291M1304 286.7H1316M1063 287.7H1076M1177 288.7H1190M1177 289.7H1190M1278 289.7H1291M1316 289.7H1342M1063 290.7H1076M1190 290.7H1202M1202 291.7H1228M1266 291.7H1304M1076 292.7H1088M1076 293.7H1088M1291 294.7H1304M1278 295.7H1342M1177 296.7H1190M1164 298.7H1177M1215 298.7H1240M1266 298.7H1329M1088 299.7H1101M1050 300.7H1076M1063 301.7H1076M1088 301.7H1114M1190 303.7H1202M1278 304.7H1291M1304 304.7H1316M1050 305.7H1063M1177 305.7H1190M1190 306.7H1202M1050 307.7H1063M1164 307.7H1177M1152 308.7H1164M1253 308.7H1266M1063 309.7H1076M1240 310.7H1266M1291 310.7H1304M1164 311.7H1177M1329 313.7H1342M1038 315.7H1063M1177 315.7H1202M1316 315.7H1342M1190 316.7H1202M1228 316.7H1266M1038 317.7H1050M1038 319.7H1050M1038 320.7H1050M1177 320.7H1190M1177 321.7H1190M1038 324.7H1050M1038 326.7H1050M1190 327.7H1202M1215 327.7H1228M1240 327.7H1253M1316 329.7H1329M1038 330.7H1050M1177 330.7H1190M1139 331.7H1152M1329 331.7H1342M1253 332.7H1266M1329 332.7H1342M1152 333.7H1164M1038 334.7H1050M1177 334.7H1190M1240 334.7H1278M1316 336.7H1329M1253 337.7H1291M1240 338.7H1278M1139 339.7H1152M1177 340.7H1190M1202 340.7H1215M1253 340.7H1266M1114 343.7H1126M1291 343.7H1304M1126 344.7H1139M1316 345.7H1329M1329 346.7H1342M1114 347.7H1126M1139 348.7H1152M1316 348.7H1329M1114 349.7H1126M1278 349.7H1291M1126 354.7H1139M1253 357.7H1278M1291 357.7H1329M1101 358.7H1126M1152 358.7H1164M1291 358.7H1316M1228 359.7H1266M1152 361.7H1164M1190 361.7H1215M1316 364.7H1329M1088 367.7H1101M1291 367.7H1304M1278 368.7H1291M1114 369.7H1126M1088 370.7H1101M1215 370.7H1228M1240 370.7H1266M1291 370.7H1304M1101 371.7H1139"/>
<path stroke="#dedede" d="M1278 62.8H1291M1063 64.8H1076M1278 64.8H1291M1126 65.8H1139M1177 65.8H1202M1076 66.8H1088M1266 66.8H1278M1126 69.8H1152M1253 69.8H1266M1063 73.8H1076M1126 75.8H1139M1152 75.8H1164M1038 83.8H1050M1228 83.8H1240M1063 84.8H1076M1266 84.8H1278M1114 85.8H1126M1177 85.8H1202M1240 86.8H1253M1050 87.8H1063M1240 87.8H1253M1190 88.8H1202M1063 93.8H1076M1139 93.8H1152M1164 93.8H1215M1228 93.8H1240M1202 95.8H1215M1038 96.8H1050M1228 98.8H1240M1038 100.8H1050M1329 101.8H1342M1228 102.8H1240M1240 105.8H1253M1139 109.8H1164M1190 109.8H1202M1228 112.8H1240M1228 114.8H1240M1038 115.8H1050M1215 115.8H1228M1038 116.8H1050M1202 116.8H1228M1215 117.8H1228M1316 121.8H1329M1050 123.8H1063M1329 123.8H1342M1329 126.8H1342M1114 127.8H1139M1164 127.8H1190M1215 130.8H1228M1088 132.8H1101M1152 132.8H1164M1329 132.8H1342M1050 133.8H1063M1076 133.8H1164M1177 133.8H1190M1304 134.8H1316M1215 136.8H1228M1202 137.8H1215M1038 143.8H1076M1152 144.8H1164M1177 144.8H1190M1304 144.8H1342M1202 147.8H1215M1063 148.8H1076M1101 148.8H1177M1291 148.8H1304M1329 148.8H1342M1114 150.8H1126M1152 150.8H1164M1177 150.8H1202M1164 151.8H1190M1304 151.8H1316M1304 152.8H1316M1202 154.8H1215M1038 156.8H1063M1063 157.8H1076M1088 157.8H1101M1164 157.8H1177M1076 158.8H1139M1152 158.8H1164M1266 158.8H1278M1304 158.8H1329M1114 159.8H1126M1139 159.8H1190M1291 159.8H1304M1164 160.8H1177M1177 161.8H1190M1177 163.8H1190M1278 163.8H1291M1063 168.8H1076M1278 169.8H1291M1114 170.8H1139M1316 170.8H1342M1164 171.8H1177M1139 172.8H1152M1038 174.8H1063M1076 174.8H1088M1152 174.8H1164M1038 176.8H1050M1076 176.8H1088M1240 178.8H1253M1164 180.8H1177M1253 180.8H1266M1266 181.8H1278M1050 183.8H1063M1050 185.8H1076M1164 185.8H1177M1329 185.8H1342M1329 188.8H1342M1038 190.8H1063M1152 192.8H1164M1114 193.8H1126M1152 193.8H1164M1278 193.8H1291M1329 193.8H1342M1278 195.8H1291M1139 198.8H1152M1139 200.8H1152M1114 201.8H1126M1076 202.8H1088M1316 202.8H1329M1126 203.8H1139M1253 203.8H1266M1152 204.8H1164M1253 204.8H1266M1215 205.8H1228M1240 205.8H1329M1063 211.8H1101M1139 211.8H1152M1304 211.8H1316M1329 223.7H1342M1038 224.7H1063M1266 224.7H1291M1114 225.7H1126M1114 226.7H1126M1329 226.7H1342M1101 228.7H1114M1228 228.7H1240M1101 229.7H1139M1152 229.7H1164M1278 229.7H1304M1329 229.7H1342M1253 230.7H1266M1139 231.7H1152M1228 234.7H1240M1253 234.7H1278M1088 235.7H1101M1063 236.7H1076M1101 236.7H1126M1329 236.7H1342M1038 237.7H1050M1139 242.7H1152M1101 244.7H1114M1063 245.7H1076M1101 245.7H1114M1050 248.7H1063M1126 248.7H1139M1240 249.7H1266M1076 251.7H1088M1114 251.7H1126M1050 252.7H1063M1304 252.7H1316M1329 252.7H1342M1038 253.7H1063M1304 253.7H1316M1114 255.7H1126M1101 256.7H1114M1076 259.7H1088M1190 259.7H1202M1050 262.7H1063M1291 262.7H1316M1329 262.7H1342M1228 263.7H1240M1190 264.7H1202M1050 265.7H1063M1215 265.7H1228M1266 265.7H1291M1088 267.7H1101M1202 269.7H1215M1228 269.7H1240M1253 269.7H1266M1304 269.7H1316M1329 269.7H1342M1202 272.7H1215M1228 272.7H1240M1253 272.7H1278M1101 273.7H1114M1215 273.7H1228M1101 276.7H1114M1038 277.7H1050M1202 277.7H1228M1316 277.7H1342M1177 280.7H1190M1088 282.7H1101M1215 282.7H1228M1076 285.7H1088M1177 285.7H1190M1088 286.7H1101M1190 286.7H1215M1291 286.7H1304M1316 286.7H1342M1177 287.7H1190M1076 288.7H1088M1164 289.7H1177M1291 289.7H1316M1304 291.7H1316M1202 292.7H1215M1316 294.7H1329M1088 296.7H1101M1050 298.7H1063M1152 298.7H1164M1177 298.7H1190M1202 298.7H1215M1240 298.7H1266M1038 300.7H1050M1177 300.7H1190M1038 301.7H1050M1240 301.7H1266M1076 302.7H1088M1202 302.7H1215M1240 304.7H1266M1291 304.7H1304M1316 304.7H1342M1063 306.7H1076M1038 307.7H1050M1177 307.7H1190M1152 309.7H1164M1278 310.7H1291M1304 310.7H1316M1304 312.7H1316M1202 315.7H1215M1240 315.7H1266M1304 315.7H1316M1177 316.7H1190M1215 316.7H1228M1266 316.7H1278M1316 317.7H1329M1164 320.7H1177M1190 320.7H1240M1126 326.7H1139M1164 327.7H1177M1266 327.7H1291M1126 334.7H1139M1152 334.7H1177M1291 334.7H1304M1316 334.7H1329M1228 337.7H1240M1202 338.7H1215M1228 338.7H1240M1291 338.7H1316M1126 340.7H1164M1190 340.7H1202M1215 340.7H1253M1266 340.7H1278M1038 341.7H1050M1038 344.7H1050M1114 345.7H1126M1114 351.7H1126M1126 352.7H1139M1152 353.7H1164M1190 353.7H1215M1316 354.7H1329M1291 355.7H1304M1114 356.7H1139M1152 356.7H1177M1253 358.7H1278M1202 359.7H1215M1266 359.7H1291M1088 360.7H1101M1088 361.7H1139M1164 361.7H1190M1304 362.7H1316M1114 366.7H1126M1088 368.7H1101M1304 369.7H1316M1101 373.7H1114M1316 373.7H1329M1101 374.7H1114"/>
<path stroke="#d6d6d6" d="M1063 63.8H1076M1114 65.8H1126M1139 65.8H1152M1215 65.8H1228M1063 68.8H1076M1088 69.8H1101M1291 69.8H1304M1278 71.8H1291M1266 72.8H1278M1266 73.8H1278M1114 75.8H1126M1215 75.8H1240M1063 77.8H1076M1266 77.8H1278M1240 82.8H1266M1088 85.8H1101M1063 88.8H1076M1266 88.8H1278M1126 92.8H1139M1050 98.8H1063M1228 99.8H1240M1228 100.8H1240M1240 103.8H1253M1228 107.8H1240M1316 107.8H1329M1038 109.8H1050M1164 109.8H1190M1215 109.8H1228M1316 112.8H1329M1228 113.8H1240M1038 114.8H1050M1202 115.8H1215M1050 116.8H1076M1177 116.8H1190M1228 120.8H1240M1038 123.8H1050M1038 124.8H1050M1215 125.8H1228M1202 129.8H1215M1063 132.8H1088M1202 132.8H1215M1316 133.8H1329M1329 135.8H1342M1329 136.8H1342M1190 138.8H1202M1190 139.8H1202M1304 139.8H1316M1202 143.8H1215M1164 144.8H1177M1190 144.8H1202M1164 145.8H1177M1202 146.8H1215M1076 148.8H1101M1316 148.8H1329M1139 150.8H1152M1114 151.8H1139M1190 151.8H1202M1291 151.8H1304M1316 151.8H1329M1063 156.8H1076M1088 156.8H1114M1152 156.8H1177M1038 157.8H1050M1177 157.8H1190M1329 158.8H1342M1304 162.8H1316M1291 165.8H1304M1202 166.8H1215M1076 168.8H1101M1253 168.8H1266M1050 170.8H1076M1114 172.8H1139M1152 172.8H1164M1329 172.8H1342M1063 174.8H1076M1177 175.8H1190M1050 176.8H1076M1164 176.8H1177M1164 177.8H1177M1164 182.8H1177M1063 183.8H1076M1164 184.8H1177M1152 185.8H1164M1316 185.8H1329M1139 186.8H1152M1164 188.8H1177M1304 188.8H1316M1253 189.8H1266M1063 190.8H1076M1152 191.8H1164M1240 192.8H1253M1329 197.8H1342M1240 200.8H1253M1088 202.8H1126M1253 202.8H1304M1253 207.8H1266M1126 208.8H1139M1228 209.8H1240M1038 210.8H1050M1063 210.8H1088M1101 210.8H1114M1253 210.8H1266M1050 211.8H1063M1152 216.8H1164M1228 217.8H1240M1076 224.7H1088M1291 224.7H1329M1202 226.7H1215M1240 227.7H1253M1253 229.7H1266M1240 232.7H1253M1215 233.7H1228M1076 234.7H1088M1278 234.7H1291M1038 236.7H1063M1228 238.7H1240M1114 240.7H1126M1240 241.7H1253M1088 245.7H1101M1304 245.7H1329M1215 247.7H1228M1063 248.7H1076M1228 248.7H1240M1266 248.7H1291M1266 249.7H1278M1038 252.7H1050M1316 252.7H1329M1329 253.7H1342M1038 257.7H1050M1215 258.7H1228M1101 261.7H1114M1190 261.7H1202M1088 262.7H1101M1278 262.7H1291M1316 262.7H1329M1063 265.7H1088M1228 266.7H1240M1190 267.7H1202M1101 270.7H1114M1202 270.7H1215M1076 271.7H1088M1050 272.7H1088M1291 272.7H1304M1050 277.7H1063M1177 277.7H1202M1190 289.7H1228M1316 291.7H1342M1063 294.7H1076M1266 294.7H1278M1304 294.7H1316M1088 295.7H1101M1076 297.7H1088M1164 297.7H1177M1190 298.7H1202M1177 299.7H1190M1190 300.7H1202M1050 301.7H1063M1215 301.7H1240M1215 304.7H1240M1266 304.7H1278M1152 307.7H1164M1190 307.7H1202M1215 307.7H1240M1316 307.7H1329M1063 308.7H1076M1228 310.7H1240M1278 312.7H1291M1316 312.7H1329M1152 313.7H1164M1215 315.7H1228M1266 315.7H1304M1278 316.7H1291M1050 317.7H1063M1329 317.7H1342M1038 318.7H1050M1139 318.7H1152M1240 320.7H1253M1304 320.7H1342M1063 321.7H1076M1050 323.7H1063M1202 323.7H1215M1152 324.7H1164M1076 325.7H1088M1126 327.7H1139M1152 327.7H1164M1126 328.7H1139M1139 329.7H1152M1202 332.7H1253M1139 334.7H1152M1278 334.7H1291M1304 334.7H1316M1329 334.7H1342M1329 335.7H1342M1114 336.7H1126M1190 338.7H1202M1215 338.7H1228M1329 339.7H1342M1139 346.7H1152M1291 350.7H1316M1329 352.7H1342M1164 353.7H1177M1114 355.7H1126M1139 356.7H1152M1190 356.7H1202M1164 358.7H1177M1190 359.7H1202M1304 359.7H1329M1139 361.7H1152M1304 361.7H1316M1316 362.7H1329M1114 363.7H1126M1190 365.7H1202M1291 366.7H1304M1139 371.7H1164M1291 371.7H1304M1316 374.7H1329"/>
<path stroke="#cecece" d="M1076 62.8H1088M1202 65.8H1215M1228 65.8H1253M1266 68.8H1278M1076 74.8H1088M1266 74.8H1278M1240 75.8H1253M1063 76.8H1076M1038 79.8H1050M1215 82.8H1240M1050 85.8H1063M1202 85.8H1253M1050 94.8H1063M1240 97.8H1253M1038 102.8H1050M1202 109.8H1215M1228 109.8H1240M1329 111.8H1342M1253 115.8H1266M1329 115.8H1342M1076 116.8H1088M1164 116.8H1177M1190 116.8H1202M1038 120.8H1050M1063 123.8H1076M1101 123.8H1114M1215 123.8H1240M1228 124.8H1240M1240 126.8H1253M1190 127.8H1202M1038 132.8H1063M1177 132.8H1190M1316 132.8H1329M1240 135.8H1253M1304 141.8H1316M1316 142.8H1329M1291 143.8H1304M1088 150.8H1101M1101 151.8H1114M1278 151.8H1291M1278 153.8H1291M1202 155.8H1215M1076 156.8H1088M1202 159.8H1215M1101 168.8H1114M1177 169.8H1190M1139 170.8H1152M1177 170.8H1190M1164 172.8H1177M1164 174.8H1177M1278 175.8H1291M1139 178.8H1152M1152 179.8H1164M1266 179.8H1278M1076 183.8H1088M1152 183.8H1164M1266 183.8H1278M1316 183.8H1342M1266 184.8H1278M1076 185.8H1088M1139 185.8H1152M1228 187.8H1240M1278 190.8H1304M1240 191.8H1253M1076 193.8H1101M1266 193.8H1278M1164 194.8H1177M1240 194.8H1253M1139 201.8H1152M1266 201.8H1278M1240 202.8H1253M1101 208.8H1114M1139 208.8H1152M1329 208.8H1342M1050 210.8H1063M1088 210.8H1101M1114 210.8H1152M1240 210.8H1253M1038 211.8H1050M1266 211.8H1304M1101 213.8H1114M1240 214.8H1253M1253 215.8H1266M1139 217.8H1152M1240 221.7H1253M1126 223.7H1139M1063 224.7H1076M1228 225.7H1240M1126 227.7H1139M1038 229.7H1050M1076 229.7H1088M1126 230.7H1139M1101 233.7H1114M1088 234.7H1114M1291 234.7H1316M1329 234.7H1342M1202 236.7H1215M1240 236.7H1253M1304 236.7H1329M1050 237.7H1063M1240 239.7H1253M1126 241.7H1139M1114 243.7H1126M1215 243.7H1228M1228 244.7H1240M1050 245.7H1063M1076 245.7H1088M1228 245.7H1266M1278 245.7H1304M1190 246.7H1202M1076 248.7H1126M1228 249.7H1240M1278 249.7H1291M1304 249.7H1316M1126 250.7H1139M1050 251.7H1063M1088 251.7H1101M1063 252.7H1114M1101 253.7H1114M1215 253.7H1228M1316 253.7H1329M1088 254.7H1101M1190 254.7H1202M1228 262.7H1240M1253 262.7H1266M1101 263.7H1114M1088 265.7H1114M1291 265.7H1304M1316 265.7H1329M1114 266.7H1126M1190 271.7H1202M1088 272.7H1101M1190 272.7H1202M1278 272.7H1291M1114 274.7H1126M1202 274.7H1215M1101 275.7H1114M1190 275.7H1202M1177 281.7H1190M1038 289.7H1050M1076 289.7H1088M1253 289.7H1278M1177 290.7H1190M1038 291.7H1050M1076 291.7H1088M1253 294.7H1266M1329 294.7H1342M1076 300.7H1088M1228 300.7H1240M1266 300.7H1278M1316 300.7H1342M1101 303.7H1114M1038 304.7H1063M1202 304.7H1215M1063 305.7H1076M1063 307.7H1076M1202 307.7H1215M1253 307.7H1266M1291 307.7H1304M1050 310.7H1063M1202 310.7H1228M1316 310.7H1329M1076 311.7H1088M1228 315.7H1240M1038 316.7H1063M1291 316.7H1342M1304 317.7H1316M1139 319.7H1152M1253 320.7H1304M1228 323.7H1253M1139 327.7H1152M1291 327.7H1342M1050 328.7H1063M1050 330.7H1063M1038 332.7H1050M1152 332.7H1177M1190 332.7H1202M1063 333.7H1076M1126 337.7H1139M1215 337.7H1228M1291 337.7H1304M1177 338.7H1190M1316 338.7H1329M1114 340.7H1126M1291 340.7H1304M1316 347.7H1329M1278 350.7H1291M1316 350.7H1329M1126 353.7H1139M1202 356.7H1228M1266 356.7H1291M1088 358.7H1101M1240 358.7H1253M1177 359.7H1190M1291 359.7H1304M1304 360.7H1316M1291 362.7H1304M1316 363.7H1329M1114 364.7H1126M1202 365.7H1215M1253 371.7H1291"/>
<path stroke="#c5c5c5" d="M1101 65.8H1114M1304 70.8H1316M1038 72.8H1050M1101 75.8H1114M1038 81.8H1050M1076 82.8H1088M1266 82.8H1278M1063 85.8H1088M1253 85.8H1278M1076 90.8H1114M1088 92.8H1101M1114 92.8H1126M1253 93.8H1266M1253 94.8H1266M1316 95.8H1329M1038 99.8H1050M1316 103.8H1329M1038 104.8H1050M1329 105.8H1342M1088 116.8H1164M1240 116.8H1253M1228 118.8H1240M1316 118.8H1329M1240 121.8H1253M1228 122.8H1240M1316 122.8H1329M1076 123.8H1088M1088 127.8H1114M1202 127.8H1215M1228 128.8H1240M1316 128.8H1329M1190 131.8H1202M1215 132.8H1228M1190 134.8H1202M1215 140.8H1228M1304 140.8H1316M1316 143.8H1342M1202 144.8H1215M1316 149.8H1329M1101 150.8H1114M1126 150.8H1139M1304 150.8H1316M1050 151.8H1063M1088 151.8H1101M1202 153.8H1215M1291 154.8H1304M1114 156.8H1152M1316 157.8H1342M1266 160.8H1278M1202 162.8H1215M1278 164.8H1291M1177 165.8H1190M1291 167.8H1304M1278 168.8H1304M1038 170.8H1050M1152 170.8H1177M1190 170.8H1202M1177 172.8H1190M1177 173.8H1190M1278 174.8H1291M1164 181.8H1177M1088 183.8H1101M1139 183.8H1152M1164 183.8H1177M1278 183.8H1291M1304 183.8H1316M1088 185.8H1114M1126 185.8H1139M1190 185.8H1202M1266 185.8H1316M1240 186.8H1253M1304 190.8H1316M1050 193.8H1076M1253 193.8H1266M1139 199.8H1152M1240 199.8H1253M1278 201.8H1291M1126 202.8H1139M1126 207.8H1139M1266 207.8H1278M1114 208.8H1126M1316 208.8H1329M1164 211.8H1177M1253 211.8H1266M1139 212.8H1152M1164 215.8H1177M1240 216.8H1253M1228 218.8H1240M1126 219.7H1139M1202 219.7H1215M1152 220.7H1164M1253 221.7H1266M1240 222.7H1253M1240 223.7H1253M1088 224.7H1114M1126 224.7H1139M1329 224.7H1342M1063 229.7H1076M1240 229.7H1253M1240 231.7H1253M1114 234.7H1126M1316 234.7H1329M1215 236.7H1240M1253 236.7H1304M1114 238.7H1126M1126 239.7H1139M1215 240.7H1228M1038 245.7H1050M1240 248.7H1266M1038 249.7H1063M1202 249.7H1228M1291 249.7H1304M1316 249.7H1329M1038 251.7H1050M1101 251.7H1114M1114 252.7H1139M1228 252.7H1240M1050 257.7H1063M1101 258.7H1114M1202 262.7H1215M1240 262.7H1253M1266 262.7H1278M1304 265.7H1316M1190 268.7H1202M1316 272.7H1329M1177 276.7H1190M1076 278.7H1088M1076 287.7H1088M1050 289.7H1063M1228 289.7H1253M1076 290.7H1088M1190 291.7H1202M1088 292.7H1101M1164 293.7H1177M1050 294.7H1063M1215 294.7H1253M1177 295.7H1190M1215 300.7H1228M1240 300.7H1266M1291 300.7H1316M1063 304.7H1076M1190 304.7H1202M1240 307.7H1253M1266 307.7H1278M1304 307.7H1316M1329 307.7H1342M1038 310.7H1050M1329 310.7H1342M1291 312.7H1304M1329 312.7H1342M1050 314.7H1063M1139 314.7H1152M1063 315.7H1076M1152 315.7H1164M1063 317.7H1076M1164 317.7H1177M1190 317.7H1202M1228 317.7H1253M1266 317.7H1291M1164 321.7H1177M1164 322.7H1177M1038 323.7H1050M1063 323.7H1076M1190 323.7H1202M1152 325.7H1164M1329 329.7H1342M1164 330.7H1177M1177 332.7H1190M1114 335.7H1126M1114 337.7H1126M1202 337.7H1215M1152 338.7H1164M1038 340.7H1050M1278 340.7H1291M1304 340.7H1316M1126 341.7H1139M1278 342.7H1291M1101 343.7H1114M1038 346.7H1050M1126 348.7H1139M1329 348.7H1342M1329 349.7H1342M1266 350.7H1278M1329 351.7H1342M1139 353.7H1152M1114 354.7H1126M1177 356.7H1190M1228 356.7H1266M1291 356.7H1304M1101 357.7H1114M1177 358.7H1190M1202 358.7H1215M1228 358.7H1240M1164 359.7H1177M1164 365.7H1190M1291 368.7H1304M1164 371.7H1177M1126 372.7H1139"/>
<path stroke="#bdbdbd" d="M1291 63.8H1304M1088 65.8H1101M1050 67.8H1063M1278 67.8H1291M1076 70.8H1088M1050 75.8H1063M1253 75.8H1278M1253 76.8H1266M1278 80.8H1291M1266 81.8H1278M1329 86.8H1342M1050 89.8H1063M1114 90.8H1126M1050 93.8H1063M1329 97.8H1342M1050 108.8H1076M1228 108.8H1240M1240 109.8H1253M1228 110.8H1240M1316 110.8H1329M1228 111.8H1240M1215 119.8H1228M1316 119.8H1329M1126 123.8H1139M1152 123.8H1164M1190 123.8H1215M1316 123.8H1329M1329 125.8H1342M1076 127.8H1088M1304 127.8H1316M1304 129.8H1316M1316 130.8H1329M1190 132.8H1202M1215 133.8H1228M1291 137.8H1304M1291 138.8H1304M1202 141.8H1215M1228 142.8H1240M1215 143.8H1228M1304 143.8H1316M1291 144.8H1304M1266 145.8H1278M1316 147.8H1329M1063 150.8H1088M1291 150.8H1304M1316 150.8H1329M1063 151.8H1088M1266 157.8H1304M1266 161.8H1278M1291 166.8H1304M1177 167.8H1190M1139 168.8H1152M1291 170.8H1304M1266 171.8H1278M1278 173.8H1291M1253 177.8H1266M1101 183.8H1114M1114 185.8H1126M1139 188.8H1164M1076 190.8H1114M1253 190.8H1266M1038 193.8H1050M1177 195.8H1190M1240 198.8H1253M1126 201.8H1139M1152 201.8H1164M1291 201.8H1316M1139 203.8H1152M1240 203.8H1253M1126 205.8H1139M1139 207.8H1152M1278 207.8H1304M1038 208.8H1063M1088 208.8H1101M1304 208.8H1316M1152 210.8H1164M1240 211.8H1253M1076 213.8H1088M1152 218.8H1164M1228 220.7H1240M1139 221.7H1152M1266 221.7H1291M1139 222.7H1152M1114 224.7H1126M1139 224.7H1164M1240 224.7H1253M1126 226.7H1139M1215 228.7H1228M1050 229.7H1063M1240 230.7H1253M1152 232.7H1164M1126 245.7H1139M1266 245.7H1278M1101 246.7H1114M1215 248.7H1228M1063 249.7H1088M1063 251.7H1076M1139 252.7H1152M1202 255.7H1215M1063 257.7H1076M1215 257.7H1228M1329 257.7H1342M1190 262.7H1202M1215 263.7H1228M1329 265.7H1342M1063 269.7H1076M1088 269.7H1114M1101 272.7H1114M1304 272.7H1316M1164 277.7H1177M1164 278.7H1177M1088 279.7H1101M1190 279.7H1202M1202 282.7H1215M1101 286.7H1114M1164 288.7H1177M1063 289.7H1076M1050 291.7H1076M1088 293.7H1101M1038 294.7H1050M1076 294.7H1088M1164 296.7H1177M1101 299.7H1114M1202 300.7H1215M1278 300.7H1291M1202 301.7H1215M1177 303.7H1190M1164 305.7H1177M1076 306.7H1088M1177 306.7H1190M1278 307.7H1291M1076 309.7H1088M1164 310.7H1177M1190 310.7H1202M1152 311.7H1164M1063 312.7H1076M1253 312.7H1266M1038 313.7H1050M1063 316.7H1088M1177 317.7H1190M1202 317.7H1228M1253 317.7H1266M1291 317.7H1304M1050 319.7H1063M1050 320.7H1063M1152 320.7H1164M1152 322.7H1164M1304 322.7H1316M1253 323.7H1266M1050 324.7H1063M1038 327.7H1050M1114 327.7H1126M1038 331.7H1050M1139 332.7H1152M1329 336.7H1342M1139 337.7H1152M1177 337.7H1202M1304 337.7H1316M1329 337.7H1342M1126 338.7H1152M1164 338.7H1177M1126 339.7H1139M1316 340.7H1342M1291 342.7H1304M1304 343.7H1316M1329 345.7H1342M1164 350.7H1177M1215 350.7H1228M1240 350.7H1253M1304 355.7H1316M1101 356.7H1114M1304 356.7H1316M1329 357.7H1342M1190 358.7H1202M1215 358.7H1228M1316 358.7H1329M1114 359.7H1126M1139 359.7H1164M1329 359.7H1342M1240 362.7H1253M1278 362.7H1291M1329 364.7H1342M1139 365.7H1152M1076 367.7H1088M1101 369.7H1114M1076 370.7H1088M1304 370.7H1316M1088 371.7H1101M1177 371.7H1202M1215 371.7H1253"/>
<path stroke="#b5b5b5" d="M1063 65.8H1088M1253 65.8H1266M1063 66.8H1076M1278 66.8H1291M1304 69.8H1316M1063 71.8H1076M1076 75.8H1101M1164 78.8H1190M1253 79.8H1266M1202 82.8H1215M1038 85.8H1050M1038 87.8H1050M1253 87.8H1266M1278 89.8H1291M1126 90.8H1139M1266 90.8H1278M1266 91.8H1278M1139 92.8H1164M1215 95.8H1228M1240 98.8H1253M1329 100.8H1342M1240 101.8H1253M1240 102.8H1253M1266 104.8H1278M1240 106.8H1253M1316 106.8H1329M1038 108.8H1050M1202 108.8H1215M1240 108.8H1253M1316 108.8H1329M1316 113.8H1329M1240 114.8H1253M1291 117.8H1304M1088 123.8H1101M1139 123.8H1152M1164 123.8H1190M1329 124.8H1342M1050 127.8H1063M1215 131.8H1228M1291 134.8H1304M1228 136.8H1240M1215 147.8H1228M1240 148.8H1253M1038 149.8H1063M1050 150.8H1063M1202 150.8H1215M1038 151.8H1050M1202 152.8H1215M1291 152.8H1304M1278 155.8H1291M1253 156.8H1266M1253 157.8H1266M1304 157.8H1316M1164 158.8H1177M1253 158.8H1266M1177 160.8H1190M1126 168.8H1139M1164 168.8H1177M1240 168.8H1253M1304 168.8H1342M1266 169.8H1278M1228 178.8H1240M1114 183.8H1139M1291 183.8H1304M1139 187.8H1152M1164 189.8H1177M1240 193.8H1253M1266 195.8H1278M1101 196.8H1126M1304 197.8H1316M1152 198.8H1164M1088 201.8H1114M1240 204.8H1253M1050 206.8H1063M1050 207.8H1076M1101 207.8H1126M1240 207.8H1253M1076 208.8H1088M1240 208.8H1253M1266 208.8H1291M1228 212.8H1240M1063 213.8H1076M1126 213.8H1139M1164 214.8H1177M1114 220.7H1126M1126 225.7H1139M1114 228.7H1126M1228 229.7H1240M1152 231.7H1164M1215 234.7H1228M1101 235.7H1114M1190 235.7H1202M1329 237.7H1342M1228 242.7H1240M1114 244.7H1126M1126 247.7H1139M1329 249.7H1342M1126 251.7H1139M1190 256.7H1202M1076 257.7H1088M1228 257.7H1240M1088 259.7H1101M1177 259.7H1190M1190 260.7H1202M1316 260.7H1342M1215 262.7H1228M1114 264.7H1126M1202 265.7H1215M1038 269.7H1063M1076 269.7H1088M1101 280.7H1114M1088 281.7H1101M1101 282.7H1114M1088 283.7H1101M1164 283.7H1177M1101 284.7H1114M1190 292.7H1202M1177 294.7H1190M1202 294.7H1215M1063 298.7H1076M1114 301.7H1126M1088 302.7H1101M1190 302.7H1202M1076 304.7H1088M1177 304.7H1190M1139 308.7H1152M1177 310.7H1190M1038 312.7H1050M1152 317.7H1164M1177 323.7H1190M1050 326.7H1063M1126 331.7H1139M1139 333.7H1152M1164 337.7H1177M1316 337.7H1329M1329 338.7H1342M1139 342.7H1152M1266 342.7H1278M1114 344.7H1126M1101 347.7H1114M1101 349.7H1114M1126 350.7H1164M1202 350.7H1215M1228 350.7H1240M1253 350.7H1266M1329 350.7H1342M1228 353.7H1240M1126 359.7H1139M1266 362.7H1278M1126 365.7H1139M1152 365.7H1164M1215 365.7H1228M1101 366.7H1114M1304 367.7H1316M1316 369.7H1329"/>
<path stroke="#adadad" d="M1291 62.8H1304M1050 73.8H1063M1063 75.8H1076M1063 82.8H1076M1190 82.8H1202M1278 82.8H1291M1240 83.8H1253M1329 83.8H1342M1278 84.8H1291M1253 86.8H1266M1101 92.8H1114M1316 92.8H1342M1266 96.8H1278M1038 98.8H1050M1240 99.8H1253M1316 101.8H1329M1253 105.8H1266M1177 108.8H1190M1329 114.8H1342M1329 116.8H1342M1114 123.8H1126M1240 123.8H1253M1228 125.8H1240M1038 127.8H1050M1063 127.8H1076M1215 129.8H1228M1228 130.8H1240M1202 131.8H1215M1316 136.8H1329M1215 137.8H1228M1202 139.8H1215M1291 139.8H1304M1177 145.8H1190M1278 146.8H1291M1063 149.8H1076M1304 149.8H1316M1329 149.8H1342M1038 150.8H1050M1329 150.8H1342M1215 154.8H1228M1177 156.8H1190M1190 161.8H1202M1190 163.8H1202M1266 163.8H1278M1278 165.8H1291M1114 168.8H1126M1152 168.8H1164M1177 171.8H1190M1253 172.8H1266M1240 176.8H1253M1253 181.8H1266M1240 182.8H1253M1038 188.8H1050M1177 188.8H1190M1278 188.8H1304M1177 190.8H1190M1316 190.8H1329M1088 196.8H1101M1126 196.8H1139M1278 197.8H1291M1152 200.8H1164M1253 201.8H1266M1139 202.8H1152M1228 202.8H1240M1202 205.8H1215M1063 206.8H1076M1038 207.8H1050M1304 207.8H1342M1063 208.8H1076M1253 208.8H1266M1291 208.8H1304M1152 209.8H1164M1126 221.7H1139M1228 221.7H1240M1291 221.7H1304M1228 227.7H1240M1202 233.7H1215M1126 236.7H1139M1316 237.7H1329M1215 238.7H1228M1228 241.7H1240M1152 242.7H1164M1215 244.7H1228M1215 245.7H1228M1139 248.7H1152M1202 250.7H1215M1126 255.7H1139M1114 256.7H1126M1088 257.7H1101M1316 257.7H1329M1202 258.7H1215M1038 260.7H1050M1202 260.7H1228M1304 260.7H1316M1215 266.7H1228M1101 267.7H1114M1114 268.7H1126M1114 269.7H1126M1190 269.7H1202M1329 272.7H1342M1114 273.7H1126M1202 273.7H1215M1063 277.7H1076M1164 284.7H1177M1088 285.7H1101M1164 285.7H1177M1177 286.7H1190M1164 287.7H1177M1088 288.7H1101M1164 294.7H1177M1190 294.7H1202M1139 298.7H1152M1164 300.7H1177M1050 312.7H1063M1266 312.7H1278M1139 313.7H1152M1164 316.7H1177M1076 321.7H1088M1076 323.7H1088M1126 329.7H1139M1050 334.7H1063M1152 337.7H1164M1050 341.7H1063M1114 342.7H1126M1240 342.7H1253M1126 346.7H1139M1177 350.7H1202M1101 351.7H1114M1114 352.7H1126M1215 353.7H1228M1329 353.7H1342M1329 354.7H1342M1101 355.7H1114M1076 360.7H1088M1329 362.7H1342M1240 365.7H1253M1304 366.7H1316M1076 368.7H1088M1202 371.7H1215"/>
<path stroke="#a5a5a5" d="M1291 64.8H1304M1266 65.8H1291M1050 68.8H1063M1076 69.8H1088M1278 74.8H1291M1050 76.8H1063M1050 77.8H1063M1278 77.8H1291M1190 78.8H1215M1038 80.8H1050M1088 82.8H1101M1050 84.8H1063M1329 91.8H1342M1164 92.8H1177M1329 96.8H1342M1240 100.8H1253M1329 109.8H1342M1240 120.8H1253M1316 126.8H1329M1228 131.8H1240M1228 132.8H1240M1304 133.8H1316M1202 138.8H1215M1278 143.8H1291M1215 149.8H1228M1278 159.8H1291M1266 164.8H1278M1177 174.8H1190M1190 175.8H1202M1177 180.8H1190M1240 180.8H1253M1253 183.8H1266M1177 184.8H1190M1152 186.8H1164M1050 188.8H1063M1114 188.8H1139M1240 189.8H1253M1329 190.8H1342M1164 192.8H1177M1164 193.8H1177M1291 197.8H1304M1316 197.8H1329M1164 204.8H1177M1076 207.8H1101M1088 213.8H1101M1114 213.8H1126M1126 220.7H1139M1139 223.7H1152M1164 229.7H1177M1304 237.7H1316M1126 240.7H1139M1139 241.7H1152M1114 249.7H1126M1190 249.7H1202M1114 253.7H1126M1101 257.7H1139M1240 257.7H1266M1291 257.7H1316M1063 260.7H1076M1101 262.7H1114M1126 266.7H1139M1190 270.7H1202M1088 271.7H1101M1177 271.7H1190M1088 289.7H1101M1152 289.7H1164M1063 310.7H1076M1139 317.7H1152M1050 318.7H1063M1139 322.7H1152M1266 323.7H1278M1139 324.7H1152M1101 336.7H1114M1038 339.7H1050M1101 342.7H1114M1253 342.7H1266M1304 342.7H1316M1101 345.7H1114M1114 350.7H1126M1038 352.7H1050M1266 353.7H1278M1316 353.7H1329M1076 361.7H1088M1253 362.7H1266M1101 363.7H1114M1304 371.7H1316M1139 372.7H1152M1088 374.7H1101"/>
<path stroke="#9c9c9c" d="M1050 64.8H1063M1278 68.8H1291M1291 71.8H1304M1278 73.8H1291M1063 74.8H1076M1050 88.8H1063M1278 88.8H1291M1050 90.8H1063M1139 90.8H1152M1076 92.8H1088M1152 108.8H1164M1190 108.8H1202M1316 111.8H1329M1240 112.8H1253M1304 112.8H1316M1240 113.8H1253M1228 117.8H1240M1329 120.8H1342M1304 121.8H1316M1240 124.8H1253M1316 135.8H1329M1291 141.8H1304M1177 148.8H1190M1076 149.8H1088M1190 149.8H1215M1202 151.8H1215M1266 151.8H1278M1291 162.8H1304M1304 164.8H1316M1215 166.8H1228M1202 170.8H1215M1190 172.8H1202M1266 175.8H1278M1177 177.8H1190M1152 178.8H1164M1164 179.8H1177M1253 179.8H1266M1253 184.8H1266M1101 188.8H1114M1152 190.8H1177M1164 191.8H1177M1228 192.8H1240M1253 197.8H1278M1228 200.8H1240M1164 201.8H1177M1316 201.8H1342M1076 206.8H1088M1152 208.8H1164M1228 210.8H1240M1038 213.8H1050M1164 216.8H1177M1215 217.8H1228M1304 221.7H1316M1228 223.7H1240M1215 225.7H1228M1139 227.7H1152M1139 230.7H1152M1228 232.7H1240M1114 233.7H1126M1076 237.7H1101M1126 237.7H1139M1266 237.7H1304M1139 239.7H1152M1228 239.7H1240M1202 243.7H1215M1177 246.7H1190M1202 247.7H1215M1088 249.7H1114M1202 251.7H1215M1202 253.7H1215M1266 257.7H1291M1050 260.7H1063M1114 260.7H1126M1114 263.7H1126M1177 264.7H1190M1114 265.7H1126M1177 267.7H1190M1114 270.7H1126M1177 272.7H1190M1088 291.7H1101M1101 295.7H1114M1101 296.7H1114M1088 297.7H1101M1152 297.7H1164M1076 305.7H1088M1139 307.7H1152M1139 309.7H1152M1126 318.7H1139M1126 322.7H1139M1316 322.7H1329M1164 323.7H1177M1114 326.7H1126M1063 330.7H1076M1050 332.7H1063M1114 334.7H1126M1126 342.7H1139M1050 344.7H1063M1114 353.7H1126M1240 353.7H1266M1304 353.7H1316M1228 362.7H1240M1329 363.7H1342M1253 365.7H1266M1101 372.7H1114M1088 373.7H1101M1329 373.7H1342M1329 374.7H1342"/>
<path stroke="#949494" d="M1063 62.8H1076M1278 72.8H1291M1228 78.8H1240M1329 79.8H1342M1101 82.8H1114M1177 82.8H1190M1164 90.8H1177M1240 90.8H1266M1177 92.8H1190M1202 92.8H1215M1266 93.8H1278M1038 94.8H1050M1266 94.8H1278M1253 97.8H1266M1329 99.8H1342M1329 102.8H1342M1240 107.8H1253M1076 108.8H1088M1164 108.8H1177M1253 126.8H1266M1215 127.8H1228M1038 131.8H1063M1177 131.8H1190M1304 132.8H1316M1304 142.8H1316M1215 146.8H1228M1190 157.8H1202M1190 165.8H1202M1278 167.8H1291M1190 169.8H1202M1190 173.8H1202M1266 174.8H1278M1177 182.8H1190M1063 188.8H1076M1114 190.8H1126M1139 190.8H1152M1139 196.8H1152M1152 199.8H1164M1228 199.8H1240M1076 201.8H1088M1253 206.8H1266M1215 209.8H1228M1050 213.8H1063M1240 215.8H1253M1139 220.7H1152M1038 221.7H1063M1114 221.7H1126M1152 221.7H1164M1228 222.7H1240M1126 234.7H1139M1190 236.7H1202M1063 237.7H1076M1101 237.7H1126M1152 237.7H1164M1126 243.7H1139M1215 251.7H1228M1101 254.7H1114M1177 254.7H1190M1114 258.7H1126M1114 261.7H1126M1177 261.7H1190M1177 275.7H1190M1114 276.7H1126M1164 280.7H1177M1164 281.7H1177M1164 290.7H1177M1177 291.7H1190M1164 299.7H1177M1088 300.7H1101M1076 308.7H1088M1076 312.7H1088M1126 319.7H1139M1291 322.7H1304M1316 323.7H1329M1152 330.7H1164M1038 335.7H1050M1088 343.7H1101M1329 347.7H1342M1038 348.7H1050M1114 348.7H1126M1316 361.7H1329M1101 364.7H1114M1101 365.7H1114M1088 372.7H1101"/>
<path stroke="#8c8c8c" d="M1050 63.8H1063M1038 75.8H1050M1266 76.8H1278M1139 78.8H1152M1126 82.8H1139M1063 90.8H1076M1228 90.8H1240M1278 90.8H1291M1329 90.8H1342M1050 92.8H1076M1304 95.8H1316M1253 103.8H1266M1304 107.8H1316M1088 108.8H1101M1329 108.8H1342M1253 116.8H1266M1304 119.8H1316M1316 125.8H1329M1240 128.8H1253M1076 131.8H1088M1202 134.8H1215M1253 135.8H1266M1215 141.8H1228M1215 144.8H1228M1304 147.8H1316M1101 149.8H1114M1266 153.8H1278M1215 155.8H1228M1253 160.8H1266M1215 162.8H1228M1038 164.8H1050M1291 164.8H1304M1190 167.8H1202M1177 176.8H1190M1177 181.8H1190M1177 183.8H1190M1228 186.8H1240M1215 187.8H1228M1076 188.8H1088M1126 190.8H1139M1228 191.8H1240M1063 196.8H1088M1063 201.8H1076M1152 206.8H1164M1240 206.8H1253M1228 214.8H1240M1152 217.8H1164M1088 220.7H1114M1240 220.7H1253M1063 221.7H1101M1190 226.7H1202M1139 237.7H1152M1253 237.7H1266M1126 238.7H1139M1202 240.7H1215M1215 252.7H1228M1101 260.7H1114M1291 260.7H1304M1202 263.7H1215M1126 274.7H1139M1190 274.7H1202M1114 275.7H1126M1152 277.7H1164M1088 287.7H1101M1088 290.7H1101M1101 292.7H1114M1164 306.7H1177M1152 310.7H1164M1088 311.7H1101M1152 312.7H1164M1228 312.7H1240M1050 313.7H1063M1126 314.7H1139M1139 315.7H1152M1152 321.7H1164M1329 322.7H1342M1278 323.7H1291M1304 323.7H1316M1088 325.7H1101M1038 329.7H1050M1076 333.7H1088M1101 337.7H1114M1050 346.7H1063M1038 353.7H1050M1278 353.7H1304M1101 354.7H1114M1316 356.7H1329M1316 360.7H1329M1215 362.7H1228M1114 365.7H1126M1228 365.7H1240M1304 368.7H1316M1114 372.7H1126"/>
<path stroke="#848484" d="M1152 78.8H1164M1329 81.8H1342M1152 82.8H1177M1278 85.8H1291M1152 90.8H1164M1215 90.8H1228M1190 92.8H1202M1329 104.8H1342M1253 109.8H1266M1240 111.8H1253M1316 115.8H1329M1240 118.8H1253M1304 118.8H1316M1228 119.8H1240M1240 122.8H1253M1304 122.8H1316M1291 127.8H1304M1304 128.8H1316M1304 130.8H1316M1139 131.8H1152M1164 131.8H1177M1304 131.8H1316M1228 133.8H1240M1278 138.8H1291M1228 140.8H1240M1291 140.8H1304M1126 149.8H1139M1177 149.8H1190M1215 159.8H1228M1278 170.8H1291M1266 173.8H1278M1266 188.8H1278M1240 201.8H1253M1152 203.8H1164M1228 203.8H1240M1266 206.8H1291M1304 206.8H1316M1152 207.8H1164M1152 212.8H1164M1228 216.8H1240M1076 220.7H1088M1164 220.7H1177M1101 221.7H1114M1316 221.7H1342M1202 228.7H1215M1228 230.7H1240M1228 231.7H1240M1126 244.7H1139M1126 249.7H1139M1139 250.7H1152M1266 251.7H1278M1329 251.7H1342M1139 257.7H1152M1278 260.7H1291M1177 262.7H1190M1088 278.7H1101M1101 279.7H1114M1177 279.7H1190M1190 282.7H1202M1088 294.7H1101M1190 301.7H1202M1114 303.7H1126M1088 306.7H1101M1076 307.7H1088M1240 312.7H1253M1063 314.7H1076M1076 315.7H1088M1076 317.7H1088M1063 320.7H1076M1177 322.7H1190M1152 323.7H1164M1114 328.7H1126M1126 332.7H1139M1101 335.7H1114M1038 337.7H1050M1114 338.7H1126M1114 339.7H1126M1101 340.7H1114M1114 341.7H1126M1228 342.7H1240M1316 343.7H1329M1316 355.7H1329M1088 356.7H1101M1076 358.7H1088M1101 359.7H1114M1190 362.7H1202M1088 365.7H1101M1291 365.7H1304M1316 365.7H1329M1152 372.7H1177"/>
<path stroke="#7b7b7b" d="M1050 65.8H1063M1316 70.8H1329M1215 78.8H1228M1139 82.8H1152M1038 90.8H1050M1190 90.8H1202M1215 92.8H1228M1038 93.8H1050M1228 95.8H1240M1253 98.8H1266M1253 102.8H1266M1316 105.8H1329M1126 108.8H1139M1240 110.8H1253M1253 114.8H1266M1266 115.8H1278M1291 129.8H1304M1063 131.8H1076M1316 131.8H1329M1278 134.8H1291M1253 145.8H1266M1228 147.8H1240M1088 149.8H1101M1114 149.8H1126M1152 149.8H1177M1278 150.8H1291M1278 154.8H1291M1278 166.8H1291M1253 171.8H1266M1240 177.8H1253M1088 188.8H1101M1177 194.8H1190M1228 194.8H1240M1190 195.8H1202M1152 196.8H1164M1228 198.8H1240M1050 201.8H1063M1316 206.8H1342M1228 207.8H1240M1228 208.8H1240M1164 210.8H1177M1177 211.8H1190M1139 213.8H1152M1177 215.8H1190M1215 218.8H1228M1139 219.7H1152M1253 220.7H1266M1152 222.7H1164M1164 224.7H1177M1228 224.7H1240M1240 237.7H1253M1139 245.7H1152M1114 246.7H1126M1240 251.7H1253M1202 257.7H1215M1114 282.7H1126M1152 293.7H1164M1164 295.7H1177M1101 302.7H1114M1088 304.7H1101M1152 305.7H1164M1164 312.7H1177M1215 312.7H1228M1088 316.7H1101M1063 319.7H1076M1139 320.7H1152M1190 322.7H1202M1139 323.7H1152M1291 323.7H1304M1329 323.7H1342M1063 324.7H1076M1139 325.7H1152M1063 328.7H1076M1050 331.7H1063M1038 338.7H1050M1050 340.7H1063M1152 342.7H1164M1038 349.7H1050M1038 350.7H1050M1038 351.7H1050M1088 357.7H1101M1038 359.7H1050M1114 362.7H1126M1088 366.7H1101M1088 369.7H1101M1076 371.7H1088M1304 372.7H1316"/>
<path stroke="#737373" d="M1050 66.8H1063M1278 75.8H1291M1050 82.8H1063M1114 82.8H1126M1316 86.8H1329M1329 87.8H1342M1304 92.8H1316M1316 97.8H1329M1114 108.8H1126M1139 108.8H1152M1304 110.8H1316M1253 121.8H1266M1316 124.8H1329M1240 125.8H1253M1240 142.8H1253M1278 144.8H1291M1215 152.8H1228M1215 153.8H1228M1240 158.8H1253M1329 164.8H1342M1202 185.8H1215M1152 187.8H1164M1240 190.8H1253M1038 196.8H1050M1164 198.8H1177M1139 205.8H1152M1101 206.8H1114M1139 206.8H1152M1164 206.8H1177M1228 206.8H1240M1291 206.8H1304M1215 212.8H1228M1190 219.7H1202M1050 220.7H1063M1139 225.7H1152M1126 228.7H1139M1164 232.7H1177M1202 234.7H1215M1114 235.7H1126M1177 235.7H1190M1164 237.7H1177M1202 248.7H1215M1190 251.7H1202M1228 251.7H1240M1278 251.7H1304M1316 251.7H1329M1152 252.7H1164M1190 255.7H1202M1164 259.7H1177M1076 260.7H1101M1126 260.7H1139M1228 260.7H1240M1190 265.7H1202M1177 268.7H1190M1114 272.7H1126M1076 277.7H1088M1152 278.7H1164M1114 286.7H1126M1152 288.7H1164M1177 292.7H1190M1126 301.7H1139M1177 302.7H1190M1164 304.7H1177M1278 322.7H1291M1114 331.7H1126M1038 336.7H1050M1316 342.7H1329M1101 353.7H1114M1038 357.7H1050M1101 362.7H1114M1139 362.7H1152M1164 362.7H1177M1202 362.7H1215M1038 364.7H1050M1076 365.7H1088M1266 365.7H1291M1063 367.7H1076M1329 369.7H1342M1063 370.7H1076"/>
<path stroke="#6b6b6b" d="M1291 66.8H1304M1316 69.8H1329M1063 70.8H1076M1050 71.8H1063M1329 72.8H1342M1266 79.8H1278M1316 83.8H1329M1266 87.8H1278M1038 89.8H1050M1177 90.8H1190M1240 92.8H1253M1329 98.8H1342M1253 99.8H1266M1316 100.8H1329M1304 103.8H1316M1101 108.8H1114M1304 108.8H1316M1304 113.8H1316M1316 114.8H1329M1304 123.8H1316M1240 136.8H1253M1278 137.8H1291M1215 139.8H1228M1278 139.8H1291M1139 149.8H1152M1291 149.8H1304M1215 150.8H1228M1278 152.8H1291M1240 156.8H1253M1177 158.8H1190M1253 161.8H1266M1316 164.8H1329M1266 165.8H1278M1177 168.8H1190M1253 169.8H1266M1253 185.8H1266M1190 188.8H1202M1177 189.8H1190M1228 193.8H1240M1253 195.8H1266M1228 196.8H1240M1177 201.8H1190M1088 206.8H1101M1126 206.8H1139M1215 227.7H1228M1164 231.7H1177M1202 238.7H1215M1202 244.7H1215M1139 247.7H1152M1304 251.7H1316M1190 258.7H1202M1101 259.7H1114M1190 273.7H1202M1164 276.7H1177M1101 281.7H1114M1101 293.7H1114M1164 303.7H1177M1139 311.7H1152M1177 312.7H1190M1202 312.7H1215M1126 313.7H1139M1114 329.7H1126M1088 342.7H1101M1177 342.7H1190M1038 345.7H1050M1038 362.7H1050M1126 362.7H1139M1304 365.7H1316M1316 366.7H1329M1316 370.7H1329M1063 372.7H1088M1190 372.7H1202"/>
<path stroke="#636363" d="M1304 63.8H1316M1038 67.8H1050M1291 67.8H1304M1291 74.8H1304M1126 78.8H1139M1291 80.8H1304M1278 81.8H1291M1291 82.8H1304M1253 83.8H1266M1202 90.8H1215M1038 92.8H1050M1253 108.8H1266M1240 130.8H1253M1101 131.8H1114M1304 136.8H1316M1228 143.8H1240M1190 145.8H1202M1228 149.8H1240M1266 155.8H1278M1190 160.8H1202M1253 163.8H1266M1164 164.8H1190M1228 168.8H1240M1190 171.8H1202M1190 174.8H1202M1215 178.8H1228M1164 186.8H1177M1050 196.8H1063M1152 202.8H1164M1215 202.8H1228M1228 204.8H1240M1228 211.8H1240M1164 218.8H1177M1063 220.7H1076M1215 220.7H1228M1266 220.7H1278M1152 223.7H1164M1139 226.7H1152M1190 233.7H1202M1215 241.7H1228M1215 242.7H1228M1202 245.7H1215M1177 256.7H1190M1177 260.7H1190M1240 260.7H1278M1139 266.7H1152M1202 266.7H1215M1101 271.7H1114M1126 273.7H1139M1101 283.7H1114M1152 287.7H1164M1152 294.7H1164M1076 298.7H1088M1114 299.7H1126M1139 312.7H1152M1190 312.7H1202M1152 316.7H1164M1126 323.7H1139M1050 327.7H1063M1101 327.7H1114M1164 342.7H1177M1215 342.7H1228M1114 346.7H1126M1088 347.7H1101M1088 349.7H1101M1050 353.7H1063M1088 355.7H1101M1329 358.7H1342M1177 362.7H1190M1316 367.7H1329M1063 368.7H1076M1291 372.7H1304"/>
<path stroke="#5a5a5a" d="M1304 62.8H1316M1291 65.8H1304M1038 68.8H1050M1038 73.8H1050M1050 74.8H1063M1038 76.8H1050M1291 77.8H1304M1253 78.8H1266M1291 84.8H1304M1329 85.8H1342M1291 89.8H1304M1228 92.8H1240M1253 101.8H1266M1278 104.8H1291M1253 106.8H1266M1304 106.8H1316M1316 116.8H1329M1253 120.8H1266M1253 124.8H1266M1228 129.8H1240M1088 131.8H1101M1114 131.8H1139M1240 157.8H1253M1202 163.8H1215M1063 164.8H1076M1190 164.8H1202M1253 164.8H1266M1240 179.8H1253M1240 181.8H1253M1240 183.8H1253M1190 184.8H1202M1177 197.8H1190M1164 200.8H1177M1038 201.8H1050M1329 213.8H1342M1278 220.7H1291M1304 220.7H1316M1215 221.7H1228M1215 223.7H1228M1152 227.7H1164M1152 241.7H1164M1139 251.7H1152M1253 251.7H1266M1126 253.7H1139M1126 263.7H1139M1114 267.7H1126M1177 269.7H1190M1164 271.7H1177M1114 280.7H1126M1152 283.7H1164M1101 285.7H1114M1152 296.7H1164M1126 298.7H1139M1152 300.7H1164M1126 308.7H1139M1088 309.7H1101M1076 310.7H1088M1088 321.7H1101M1266 322.7H1278M1126 324.7H1139M1063 326.7H1076M1126 333.7H1139M1329 342.7H1342M1101 344.7H1114M1101 350.7H1114M1101 352.7H1114M1038 354.7H1050M1152 362.7H1164"/>
<path stroke="#525252" d="M1063 69.8H1076M1038 77.8H1050M1101 78.8H1114M1038 84.8H1050M1266 86.8H1278M1278 91.8H1291M1278 96.8H1291M1316 99.8H1329M1253 100.8H1266M1304 101.8H1316M1266 105.8H1278M1316 109.8H1329M1304 111.8H1316M1278 117.8H1291M1304 126.8H1316M1240 131.8H1253M1240 132.8H1253M1291 133.8H1304M1228 137.8H1240M1215 138.8H1228M1278 141.8H1291M1190 156.8H1202M1202 175.8H1215M1228 176.8H1240M1177 179.8H1190M1190 190.8H1202M1253 196.8H1266M1139 197.8H1152M1240 197.8H1253M1190 205.8H1202M1114 206.8H1126M1164 209.8H1177M1177 214.8H1190M1329 220.7H1342M1215 229.7H1228M1152 230.7H1164M1126 233.7H1139M1152 239.7H1164M1215 239.7H1228M1139 240.7H1152M1164 242.7H1177M1190 250.7H1202M1190 253.7H1202M1139 255.7H1152M1126 256.7H1139M1114 262.7H1126M1126 265.7H1139M1126 268.7H1139M1126 269.7H1139M1177 270.7H1190M1114 284.7H1126M1152 285.7H1164M1164 286.7H1177M1101 288.7H1114M1101 291.7H1114M1063 318.7H1076M1114 318.7H1126M1114 322.7H1126M1076 330.7H1088M1063 332.7H1076M1088 336.7H1101M1050 339.7H1063M1063 341.7H1076M1050 352.7H1063M1088 363.7H1101M1316 371.7H1329M1177 372.7H1190"/>
<path stroke="#4a4a4a" d="M1291 68.8H1304M1291 73.8H1304M1114 78.8H1126M1038 88.8H1050M1291 88.8H1304M1253 92.8H1266M1278 93.8H1291M1316 102.8H1329M1253 113.8H1266M1316 120.8H1329M1253 123.8H1266M1304 125.8H1316M1228 127.8H1240M1152 131.8H1164M1291 131.8H1304M1291 132.8H1304M1266 146.8H1278M1228 148.8H1240M1228 154.8H1240M1202 161.8H1215M1278 162.8H1291M1076 164.8H1088M1114 164.8H1126M1202 165.8H1215M1228 166.8H1240M1266 167.8H1278M1215 170.8H1228M1240 172.8H1253M1253 174.8H1266M1253 175.8H1266M1164 178.8H1177M1228 182.8H1240M1240 184.8H1253M1228 189.8H1240M1038 197.8H1050M1164 199.8H1177M1215 199.8H1228M1177 204.8H1190M1164 208.8H1177M1215 210.8H1228M1038 220.7H1050M1215 222.7H1228M1202 225.7H1215M1139 234.7H1152M1139 243.7H1152M1190 243.7H1202M1190 247.7H1202M1152 248.7H1164M1177 249.7H1190M1126 258.7H1139M1126 264.7H1139M1126 270.7H1139M1139 277.7H1152M1152 284.7H1164M1101 289.7H1114M1164 291.7H1177M1088 305.7H1101M1063 313.7H1076M1126 317.7H1139M1038 322.7H1050M1139 330.7H1152M1063 334.7H1076M1202 342.7H1215M1050 348.7H1063M1101 348.7H1114M1088 351.7H1101M1329 356.7H1342M1063 360.7H1076M1063 361.7H1076M1038 363.7H1050M1050 372.7H1063M1278 372.7H1291"/>
<path stroke="#424242" d="M1050 62.8H1063M1304 64.8H1316M1304 71.8H1316M1278 76.8H1291M1278 78.8H1291M1329 80.8H1342M1316 91.8H1329M1316 96.8H1329M1253 112.8H1266M1291 119.8H1304M1329 131.8H1342M1228 141.8H1240M1266 143.8H1278M1215 151.8H1228M1253 151.8H1266M1266 159.8H1278M1202 167.8H1215M1202 169.8H1215M1190 177.8H1202M1215 186.8H1228M1253 188.8H1266M1177 191.8H1190M1177 192.8H1190M1177 193.8H1190M1240 196.8H1253M1152 197.8H1164M1190 197.8H1202M1215 200.8H1228M1202 213.8H1215M1253 213.8H1266M1304 213.8H1316M1177 216.8H1190M1202 217.8H1215M1291 220.7H1304M1316 220.7H1329M1215 232.7H1228M1139 236.7H1152M1139 238.7H1152M1164 246.7H1177M1202 252.7H1215M1114 254.7H1126M1164 254.7H1177M1190 263.7H1202M1164 267.7H1177M1152 281.7H1164M1177 282.7H1190M1101 287.7H1114M1139 289.7H1152M1152 290.7H1164M1114 292.7H1126M1101 297.7H1114M1139 297.7H1152M1152 306.7H1164M1139 310.7H1152M1114 319.7H1126M1088 323.7H1101M1050 329.7H1063M1076 343.7H1088M1088 345.7H1101M1202 372.7H1215M1228 372.7H1240M1038 374.7H1050M1076 374.7H1088"/>
<path stroke="#3a3a3a" d="M1038 64.8H1050M1038 78.8H1050M1240 78.8H1253M1316 79.8H1329M1278 94.8H1291M1329 94.8H1342M1291 95.8H1304M1266 97.8H1278M1291 112.8H1304M1266 116.8H1278M1240 119.8H1253M1253 125.8H1266M1266 126.8H1278M1215 134.8H1228M1291 142.8H1304M1291 147.8H1304M1228 162.8H1240M1266 170.8H1278M1202 173.8H1215M1190 180.8H1202M1228 180.8H1240M1190 181.8H1202M1190 183.8H1202M1202 187.8H1215M1215 192.8H1228M1050 197.8H1063M1215 198.8H1228M1164 203.8H1177M1215 203.8H1228M1164 207.8H1177M1228 213.8H1253M1316 213.8H1329M1164 221.7H1177M1177 229.7H1190M1215 230.7H1228M1177 237.7H1190M1139 244.7H1152M1164 272.7H1177M1164 275.7H1177M1101 290.7H1114M1114 295.7H1126M1101 300.7H1114M1101 304.7H1114M1101 306.7H1114M1126 307.7H1139M1088 312.7H1101M1139 321.7H1152M1101 326.7H1114M1050 338.7H1063M1101 338.7H1114M1038 342.7H1050M1190 342.7H1202M1329 343.7H1342M1063 344.7H1076M1063 346.7H1076M1038 347.7H1050M1050 350.7H1063M1329 355.7H1342M1076 356.7H1088M1316 368.7H1329"/>
<path stroke="#313131" d="M1291 72.8H1304M1329 75.8H1342M1050 78.8H1063M1266 78.8H1278M1278 87.8H1291M1316 87.8H1329M1329 93.8H1342M1266 98.8H1278M1266 99.8H1278M1316 104.8H1329M1266 109.8H1278M1253 111.8H1266M1266 114.8H1278M1291 121.8H1304M1253 122.8H1266M1291 122.8H1304M1304 124.8H1316M1278 127.8H1291M1253 128.8H1266M1240 133.8H1253M1304 135.8H1316M1228 139.8H1240M1266 139.8H1278M1228 144.8H1240M1240 145.8H1253M1240 147.8H1253M1266 150.8H1278M1253 153.8H1266M1190 158.8H1202M1228 158.8H1240M1240 160.8H1253M1139 164.8H1164M1266 166.8H1278M1253 173.8H1266M1202 188.8H1215M1215 191.8H1228M1202 195.8H1215M1164 196.8H1177M1215 196.8H1228M1076 197.8H1101M1177 198.8H1190M1215 206.8H1228M1215 207.8H1228M1202 209.8H1215M1177 210.8H1190M1164 212.8H1177M1152 213.8H1164M1228 215.8H1240M1215 216.8H1228M1164 217.8H1177M1164 222.7H1177M1164 223.7H1177M1177 224.7H1190M1215 224.7H1228M1202 227.7H1215M1190 228.7H1202M1228 237.7H1240M1190 240.7H1202M1152 245.7H1164M1139 249.7H1152M1164 252.7H1177M1164 264.7H1177M1177 274.7H1190M1126 275.7H1139M1126 276.7H1139M1088 277.7H1101M1114 279.7H1126M1164 279.7H1177M1126 282.7H1139M1139 293.7H1152M1101 294.7H1114M1114 296.7H1126M1177 301.7H1190M1114 302.7H1126M1164 302.7H1177M1152 304.7H1164M1088 308.7H1101M1126 309.7H1139M1101 311.7H1114M1114 313.7H1126M1126 315.7H1139M1088 317.7H1101M1076 319.7H1088M1076 320.7H1088M1126 320.7H1139M1050 322.7H1076M1253 322.7H1266M1101 325.7H1114M1114 332.7H1126M1101 334.7H1114M1050 335.7H1063M1050 336.7H1063M1050 337.7H1063M1088 337.7H1101M1101 339.7H1114M1088 354.7H1101M1329 361.7H1342M1088 362.7H1101M1088 364.7H1101M1063 365.7H1076M1076 366.7H1088M1038 369.7H1050M1076 369.7H1088M1038 373.7H1050M1076 373.7H1088"/>
<path stroke="#292929" d="M1038 65.8H1050M1038 66.8H1050M1304 66.8H1316M1329 68.8H1342M1329 69.8H1342M1304 74.8H1316M1063 78.8H1076M1088 78.8H1101M1304 80.8H1316M1316 81.8H1329M1304 83.8H1316M1291 90.8H1304M1316 90.8H1329M1291 92.8H1304M1240 95.8H1253M1304 97.8H1316M1266 102.8H1278M1304 105.8H1316M1253 107.8H1266M1291 107.8H1304M1304 114.8H1316M1278 115.8H1291M1304 115.8H1316M1240 117.8H1253M1253 118.8H1266M1291 118.8H1304M1266 124.8H1278M1291 125.8H1304M1291 128.8H1304M1278 129.8H1291M1291 130.8H1304M1253 132.8H1266M1266 134.8H1278M1266 135.8H1278M1253 136.8H1266M1266 137.8H1278M1266 138.8H1278M1240 140.8H1253M1266 141.8H1278M1266 144.8H1278M1202 145.8H1215M1228 146.8H1240M1190 148.8H1202M1228 150.8H1240M1228 155.8H1240M1202 157.8H1215M1253 165.8H1266M1190 168.8H1202M1215 168.8H1228M1240 169.8H1253M1240 171.8H1253M1202 172.8H1215M1202 174.8H1215M1228 177.8H1240M1202 178.8H1215M1190 182.8H1202M1202 184.8H1215M1177 186.8H1190M1190 189.8H1202M1240 195.8H1253M1101 197.8H1126M1164 197.8H1177M1177 199.8H1190M1202 199.8H1215M1228 201.8H1240M1164 202.8H1177M1202 202.8H1215M1152 205.8H1164M1177 206.8H1190M1215 208.8H1228M1190 211.8H1202M1215 213.8H1228M1215 214.8H1228M1152 219.7H1164M1177 220.7H1190M1202 223.7H1215M1177 226.7H1190M1164 227.7H1177M1139 228.7H1152M1215 231.7H1228M1177 233.7H1190M1190 234.7H1202M1126 235.7H1139M1164 235.7H1177M1177 236.7H1190M1164 241.7H1177M1202 241.7H1215M1190 244.7H1202M1190 245.7H1202M1126 246.7H1139M1152 247.7H1164M1152 250.7H1164M1177 255.7H1190M1177 258.7H1190M1114 259.7H1126M1152 259.7H1164M1139 260.7H1152M1164 260.7H1177M1126 261.7H1139M1164 261.7H1177M1164 262.7H1177M1152 266.7H1164M1190 266.7H1202M1114 271.7H1126M1139 274.7H1152M1101 278.7H1114M1152 280.7H1164M1139 287.7H1152M1164 292.7H1177M1114 293.7H1126M1139 294.7H1152M1152 299.7H1164M1139 301.7H1152M1126 303.7H1139M1139 305.7H1152M1126 311.7H1139M1076 314.7H1088M1114 314.7H1126M1088 315.7H1101M1101 316.7H1114M1202 322.7H1253M1076 324.7H1088M1126 325.7H1139M1063 331.7H1076M1101 331.7H1114M1076 336.7H1088M1088 340.7H1101M1101 341.7H1114M1101 346.7H1114M1050 349.7H1063M1088 350.7H1101M1088 359.7H1101M1329 360.7H1342M1050 362.7H1063M1329 365.7H1342M1329 366.7H1342M1050 367.7H1063M1329 367.7H1342M1050 370.7H1063M1329 370.7H1342M1063 371.7H1076M1038 372.7H1050"/>
<path stroke="#212121" d="M1038 63.8H1050M1304 68.8H1329M1050 69.8H1063M1329 70.8H1342M1038 71.8H1050M1304 72.8H1329M1038 74.8H1050M1291 75.8H1304M1329 76.8H1342M1304 77.8H1316M1329 77.8H1342M1278 79.8H1291M1316 80.8H1329M1291 81.8H1304M1038 82.8H1050M1266 83.8H1278M1304 84.8H1316M1291 85.8H1304M1304 86.8H1316M1291 87.8H1316M1304 89.8H1316M1329 89.8H1342M1266 92.8H1278M1291 93.8H1304M1291 96.8H1316M1316 98.8H1329M1304 99.8H1316M1304 100.8H1316M1266 103.8H1278M1291 104.8H1304M1266 108.8H1278M1291 108.8H1304M1253 110.8H1266M1291 110.8H1304M1291 113.8H1304M1278 114.8H1291M1266 121.8H1278M1278 124.8H1304M1266 125.8H1291M1278 126.8H1304M1240 129.8H1253M1253 131.8H1266M1278 131.8H1291M1266 132.8H1291M1291 136.8H1304M1240 137.8H1253M1240 139.8H1266M1278 140.8H1291M1240 141.8H1266M1253 142.8H1266M1240 143.8H1266M1215 145.8H1240M1278 149.8H1291M1228 151.8H1253M1228 152.8H1240M1228 153.8H1240M1266 154.8H1278M1253 155.8H1266M1202 156.8H1215M1228 156.8H1240M1202 158.8H1228M1228 159.8H1240M1215 163.8H1228M1240 163.8H1253M1050 164.8H1063M1101 164.8H1114M1240 166.8H1266M1202 168.8H1215M1215 169.8H1228M1202 171.8H1215M1240 174.8H1253M1215 175.8H1228M1240 175.8H1253M1190 176.8H1202M1177 178.8H1190M1190 179.8H1202M1228 179.8H1240M1202 183.8H1215M1228 183.8H1240M1215 184.8H1240M1190 186.8H1215M1164 187.8H1177M1215 189.8H1228M1228 190.8H1240M1190 191.8H1215M1190 194.8H1202M1215 194.8H1228M1190 198.8H1215M1190 199.8H1202M1190 201.8H1202M1164 205.8H1190M1202 206.8H1215M1177 209.8H1190M1190 210.8H1215M1215 211.8H1228M1202 212.8H1215M1190 213.8H1202M1190 215.8H1202M1190 216.8H1202M1202 218.8H1215M1177 219.7H1190M1177 223.7H1202M1190 224.7H1215M1152 225.7H1164M1177 227.7H1202M1177 232.7H1190M1139 233.7H1152M1190 238.7H1202M1190 241.7H1202M1177 243.7H1190M1152 246.7H1164M1177 247.7H1190M1190 248.7H1202M1164 249.7H1177M1177 252.7H1202M1139 253.7H1152M1177 253.7H1190M1152 255.7H1164M1152 257.7H1164M1190 257.7H1202M1139 258.7H1152M1152 260.7H1164M1139 263.7H1152M1177 265.7H1190M1164 266.7H1190M1164 268.7H1177M1139 269.7H1152M1164 269.7H1177M1152 271.7H1164M1139 273.7H1152M1177 273.7H1190M1139 276.7H1164M1101 277.7H1114M1126 277.7H1139M1114 281.7H1126M1126 284.7H1152M1126 286.7H1139M1114 287.7H1126M1139 288.7H1152M1126 293.7H1139M1114 294.7H1139M1152 295.7H1164M1114 297.7H1139M1088 298.7H1101M1152 303.7H1164M1114 304.7H1126M1088 307.7H1101M1114 308.7H1126M1088 310.7H1101M1114 311.7H1126M1076 313.7H1088M1101 313.7H1114M1139 316.7H1152M1114 317.7H1126M1076 318.7H1088M1101 318.7H1114M1101 319.7H1114M1101 322.7H1114M1101 323.7H1126M1114 325.7H1126M1076 326.7H1101M1101 329.7H1114M1076 332.7H1088M1101 332.7H1114M1088 333.7H1101M1088 335.7H1101M1063 336.7H1076M1063 339.7H1076M1063 340.7H1076M1076 346.7H1101M1063 348.7H1076M1088 348.7H1101M1063 350.7H1088M1050 351.7H1063M1063 352.7H1076M1088 352.7H1101M1088 353.7H1101M1076 355.7H1088M1038 356.7H1050M1063 356.7H1076M1050 357.7H1063M1076 357.7H1088M1063 358.7H1076M1050 359.7H1063M1076 362.7H1088M1076 363.7H1088M1038 367.7H1050M1050 368.7H1063M1050 369.7H1076M1038 370.7H1050M1215 372.7H1228M1266 372.7H1278M1316 372.7H1329M1050 374.7H1076"/>
<path stroke="#191919" d="M1316 62.8H1329M1304 65.8H1316M1316 66.8H1342M1304 67.8H1316M1329 67.8H1342M1038 69.8H1050M1050 70.8H1063M1316 71.8H1329M1304 73.8H1316M1329 73.8H1342M1316 74.8H1342M1316 75.8H1329M1316 77.8H1329M1076 78.8H1088M1329 78.8H1342M1304 79.8H1316M1304 81.8H1316M1304 82.8H1316M1329 84.8H1342M1316 85.8H1329M1278 86.8H1291M1316 89.8H1329M1304 90.8H1316M1291 91.8H1316M1278 92.8H1291M1304 93.8H1329M1278 97.8H1291M1278 99.8H1304M1266 100.8H1278M1304 102.8H1316M1304 104.8H1316M1278 105.8H1291M1278 108.8H1291M1304 109.8H1316M1291 111.8H1304M1266 112.8H1291M1266 113.8H1278M1291 114.8H1304M1291 115.8H1304M1304 116.8H1316M1253 119.8H1266M1278 119.8H1291M1266 120.8H1278M1278 121.8H1291M1266 122.8H1291M1240 127.8H1253M1266 127.8H1278M1266 128.8H1291M1253 130.8H1266M1266 131.8H1278M1253 133.8H1266M1278 133.8H1291M1266 136.8H1291M1253 137.8H1266M1240 144.8H1266M1278 147.8H1291M1240 149.8H1253M1240 150.8H1266M1266 152.8H1278M1240 153.8H1253M1240 155.8H1253M1215 156.8H1228M1228 157.8H1240M1202 160.8H1215M1240 161.8H1253M1266 162.8H1278M1228 163.8H1240M1088 164.8H1101M1126 164.8H1139M1202 164.8H1215M1240 164.8H1253M1215 165.8H1253M1253 167.8H1266M1228 169.8H1240M1228 170.8H1240M1253 170.8H1266M1215 174.8H1240M1228 175.8H1240M1202 177.8H1228M1190 178.8H1202M1228 181.8H1240M1215 183.8H1228M1215 188.8H1253M1202 189.8H1215M1202 190.8H1215M1190 192.8H1202M1215 195.8H1240M1266 196.8H1278M1063 197.8H1076M1177 200.8H1190M1177 202.8H1202M1177 203.8H1190M1202 203.8H1215M1190 204.8H1202M1215 204.8H1228M1190 206.8H1202M1190 209.8H1202M1202 211.8H1215M1177 212.8H1190M1164 213.8H1190M1266 213.8H1278M1190 214.8H1202M1202 216.8H1215M1177 217.8H1202M1177 218.8H1190M1164 219.7H1177M1190 220.7H1215M1202 221.7H1215M1177 222.7H1190M1202 222.7H1215M1152 226.7H1164M1164 230.7H1177M1177 231.7H1190M1164 233.7H1177M1152 234.7H1164M1177 234.7H1190M1139 235.7H1164M1164 239.7H1177M1202 239.7H1215M1152 240.7H1164M1177 241.7H1190M1177 242.7H1190M1202 242.7H1215M1152 243.7H1164M1152 244.7H1164M1164 245.7H1190M1139 246.7H1152M1164 247.7H1177M1152 249.7H1164M1177 250.7H1190M1177 251.7H1190M1152 253.7H1177M1164 255.7H1177M1164 256.7H1177M1152 258.7H1177M1126 259.7H1152M1177 263.7H1190M1126 267.7H1139M1152 269.7H1164M1139 270.7H1152M1164 270.7H1177M1126 271.7H1152M1126 272.7H1139M1139 275.7H1164M1114 277.7H1126M1139 278.7H1152M1126 281.7H1152M1139 282.7H1152M1164 282.7H1177M1114 283.7H1126M1139 283.7H1152M1114 285.7H1126M1152 286.7H1164M1126 287.7H1139M1114 288.7H1126M1114 289.7H1139M1114 291.7H1126M1152 291.7H1164M1126 292.7H1139M1152 292.7H1164M1139 296.7H1152M1114 298.7H1126M1126 299.7H1152M1152 301.7H1177M1126 302.7H1139M1152 302.7H1164M1139 303.7H1152M1126 304.7H1152M1114 306.7H1152M1101 308.7H1114M1101 309.7H1114M1126 312.7H1139M1088 313.7H1101M1101 317.7H1114M1088 318.7H1101M1088 319.7H1101M1101 321.7H1114M1076 322.7H1101M1114 324.7H1126M1101 328.7H1114M1088 330.7H1101M1126 330.7H1139M1088 332.7H1101M1063 337.7H1088M1063 338.7H1076M1088 338.7H1101M1088 339.7H1101M1076 341.7H1101M1076 342.7H1088M1038 343.7H1050M1063 343.7H1076M1088 344.7H1101M1050 345.7H1063M1076 348.7H1088M1063 349.7H1088M1076 351.7H1088M1076 352.7H1088M1063 353.7H1076M1050 354.7H1063M1050 356.7H1063M1050 360.7H1063M1050 361.7H1063M1063 362.7H1076M1050 363.7H1076M1050 364.7H1063M1329 371.7H1342M1329 372.7H1342"/>
<path stroke="#101010" d="M1038 62.8H1050M1329 62.8H1342M1316 63.8H1329M1316 64.8H1342M1329 65.8H1342M1038 70.8H1050M1329 71.8H1342M1316 73.8H1329M1304 75.8H1316M1291 76.8H1304M1291 79.8H1304M1278 83.8H1304M1316 84.8H1329M1304 85.8H1316M1291 86.8H1304M1304 88.8H1316M1329 88.8H1342M1291 97.8H1304M1278 98.8H1291M1266 101.8H1278M1291 101.8H1304M1278 102.8H1291M1291 103.8H1304M1291 105.8H1304M1266 106.8H1278M1291 106.8H1304M1278 109.8H1291M1266 111.8H1291M1278 113.8H1291M1278 116.8H1304M1266 117.8H1278M1266 118.8H1291M1266 119.8H1278M1304 120.8H1316M1291 123.8H1304M1253 127.8H1266M1253 129.8H1278M1266 133.8H1278M1228 134.8H1240M1253 134.8H1266M1228 138.8H1240M1278 142.8H1291M1253 146.8H1266M1253 147.8H1278M1240 154.8H1253M1215 157.8H1228M1240 162.8H1253M1215 164.8H1240M1215 167.8H1228M1240 170.8H1253M1215 171.8H1240M1215 176.8H1228M1202 179.8H1228M1202 181.8H1228M1202 182.8H1228M1215 185.8H1228M1240 185.8H1253M1177 187.8H1202M1215 190.8H1228M1202 192.8H1215M1215 193.8H1228M1202 194.8H1215M1177 196.8H1190M1202 196.8H1215M1304 196.8H1316M1202 197.8H1215M1228 197.8H1240M1190 200.8H1215M1202 201.8H1228M1190 203.8H1202M1202 204.8H1215M1177 207.8H1190M1202 207.8H1215M1177 208.8H1190M1190 212.8H1202M1278 213.8H1304M1202 214.8H1215M1190 218.8H1202M1177 221.7H1190M1190 222.7H1202M1190 225.7H1202M1164 226.7H1177M1177 228.7H1190M1190 229.7H1215M1202 230.7H1215M1190 232.7H1215M1152 233.7H1164M1164 234.7H1177M1152 236.7H1164M1190 237.7H1202M1215 237.7H1228M1152 238.7H1164M1177 240.7H1190M1190 242.7H1202M1164 243.7H1177M1164 244.7H1190M1164 248.7H1190M1164 250.7H1177M1152 251.7H1164M1126 254.7H1139M1152 254.7H1164M1139 256.7H1152M1126 262.7H1139M1152 263.7H1177M1139 264.7H1164M1139 265.7H1152M1139 267.7H1164M1139 268.7H1152M1152 273.7H1177M1152 274.7H1177M1126 280.7H1139M1152 282.7H1164M1126 283.7H1139M1139 285.7H1152M1139 286.7H1152M1126 288.7H1139M1114 290.7H1126M1139 290.7H1152M1139 292.7H1152M1126 295.7H1139M1126 296.7H1139M1101 298.7H1114M1139 300.7H1152M1139 302.7H1152M1101 305.7H1114M1114 309.7H1126M1101 310.7H1114M1126 310.7H1139M1101 312.7H1126M1088 314.7H1114M1101 315.7H1126M1114 316.7H1139M1114 321.7H1139M1088 324.7H1114M1063 327.7H1076M1088 327.7H1101M1076 328.7H1088M1063 329.7H1076M1088 329.7H1101M1076 331.7H1101M1114 333.7H1126M1076 334.7H1101M1063 335.7H1076M1076 338.7H1088M1076 339.7H1088M1076 340.7H1088M1050 342.7H1063M1050 343.7H1063M1076 344.7H1088M1076 347.7H1088M1063 351.7H1076M1076 353.7H1088M1038 355.7H1050M1063 355.7H1076M1063 357.7H1076M1038 358.7H1050M1063 359.7H1088M1038 360.7H1050M1038 361.7H1050M1038 365.7H1063M1038 366.7H1050M1063 366.7H1076M1038 368.7H1050M1329 368.7H1342M1050 371.7H1063"/>
<path stroke="#080808" d="M1329 63.8H1342M1316 65.8H1329M1316 67.8H1329M1304 76.8H1329M1291 78.8H1304M1316 78.8H1329M1316 82.8H1342M1316 88.8H1329M1291 94.8H1304M1316 94.8H1329M1253 95.8H1266M1278 95.8H1291M1291 98.8H1316M1278 100.8H1304M1278 101.8H1291M1291 102.8H1304M1278 103.8H1291M1266 107.8H1291M1291 109.8H1304M1266 110.8H1291M1253 117.8H1266M1278 120.8H1291M1266 123.8H1278M1266 130.8H1291M1240 134.8H1253M1278 135.8H1304M1253 138.8H1266M1253 140.8H1278M1266 142.8H1278M1240 146.8H1253M1202 148.8H1228M1253 149.8H1278M1240 152.8H1266M1253 154.8H1266M1240 159.8H1266M1215 160.8H1240M1215 161.8H1228M1253 162.8H1266M1228 167.8H1253M1215 172.8H1240M1215 173.8H1228M1240 173.8H1253M1202 176.8H1215M1202 180.8H1228M1190 193.8H1202M1190 196.8H1202M1215 197.8H1228M1190 207.8H1202M1190 208.8H1215M1202 215.8H1228M1190 221.7H1202M1164 225.7H1190M1152 228.7H1177M1177 230.7H1202M1190 231.7H1215M1164 236.7H1177M1202 237.7H1215M1177 238.7H1190M1177 239.7H1202M1164 240.7H1177M1164 251.7H1177M1139 254.7H1152M1152 256.7H1164M1164 257.7H1190M1139 261.7H1164M1139 262.7H1164M1152 265.7H1177M1152 268.7H1164M1152 270.7H1164M1139 272.7H1164M1114 278.7H1139M1126 279.7H1139M1152 279.7H1164M1139 280.7H1152M1126 285.7H1139M1126 290.7H1139M1126 291.7H1152M1139 295.7H1152M1114 300.7H1126M1126 305.7H1139M1101 307.7H1126M1114 310.7H1126M1088 320.7H1101M1114 320.7H1126M1076 329.7H1088M1101 330.7H1126M1101 333.7H1114M1076 335.7H1088M1063 342.7H1076M1076 345.7H1088M1050 347.7H1063M1063 354.7H1088M1050 355.7H1063M1050 358.7H1063M1063 364.7H1088M1050 366.7H1063M1038 371.7H1050M1050 373.7H1076"/>
<path stroke="#000000" d="M1304 78.8H1316M1304 94.8H1316M1266 95.8H1278M1278 106.8H1291M1291 120.8H1304M1278 123.8H1291M1240 138.8H1253M1228 161.8H1240M1228 173.8H1240M1228 185.8H1240M1202 193.8H1215M1278 196.8H1304M1316 196.8H1342M1126 197.8H1139M1164 238.7H1177M1139 279.7H1152M1126 300.7H1139M1114 305.7H1126M1101 320.7H1114M1076 327.7H1088M1088 328.7H1101M1063 345.7H1076M1063 347.7H1076M1240 372.7H1266"/>
</g>
<rect x="1038" y="524.5" width="304" height="313.3" fill="#fff"/>
<g stroke-width="1.25">
<path stroke="#efefef" d="M1101 525.0H1253M1152 526.0H1177M1088 530.0H1266M1088 531.0H1164M1076 541.0H1228M1114 547.0H1126M1177 552.0H1228M1088 557.0H1190M1202 557.0H1215M1190 562.0H1202M1038 565.0H1228M1329 565.0H1342M1038 569.0H1215M1329 569.0H1342M1063 571.0H1139M1152 571.0H1164M1038 580.1H1177M1329 580.1H1342M1038 597.1H1190M1316 597.1H1342M1152 600.1H1177M1152 603.1H1164M1038 605.1H1139M1038 610.1H1152M1304 610.1H1342M1038 612.1H1177M1266 620.1H1342M1038 633.1H1126M1266 633.1H1342M1063 635.1H1088M1038 637.1H1152M1291 637.1H1342M1038 639.1H1101M1114 639.1H1139M1291 639.1H1342M1101 641.1H1114M1316 641.1H1329M1038 648.1H1063M1329 648.1H1342M1038 662.1H1050M1088 662.1H1139M1253 662.1H1342M1139 670.1H1152M1316 670.1H1342M1038 674.1H1063M1038 676.1H1050M1240 676.1H1342M1038 697.2H1050M1038 703.2H1126M1228 703.2H1342M1304 712.2H1329M1076 720.2H1101M1240 727.2H1266M1278 727.2H1342M1304 730.2H1316M1329 730.2H1342M1038 737.2H1088M1291 737.2H1342M1038 746.2H1101M1240 746.2H1342M1215 758.2H1228M1038 767.2H1050M1177 767.2H1342M1038 769.2H1050M1152 769.2H1342M1228 770.2H1291M1038 772.2H1050M1177 772.2H1342M1164 777.2H1342M1190 785.2H1202M1164 792.3H1177M1152 796.3H1316M1215 797.3H1228M1114 798.3H1329M1215 804.3H1228M1114 808.3H1316M1215 825.3H1240M1215 827.3H1304M1114 828.3H1304M1139 834.3H1253M1291 834.3H1304"/>
<path stroke="#e6e6e6" d="M1253 525.0H1266M1101 526.0H1152M1177 526.0H1215M1228 526.0H1240M1076 530.0H1088M1063 531.0H1088M1164 531.0H1278M1088 538.0H1240M1139 539.0H1253M1063 541.0H1076M1228 541.0H1240M1038 547.0H1114M1126 547.0H1177M1190 547.0H1215M1228 547.0H1240M1076 548.0H1101M1190 549.0H1202M1063 552.0H1177M1050 557.0H1088M1190 557.0H1202M1215 557.0H1240M1050 561.0H1215M1050 562.0H1076M1114 562.0H1126M1139 562.0H1190M1202 562.0H1215M1329 562.0H1342M1316 565.0H1329M1139 568.0H1228M1316 569.0H1329M1038 570.0H1126M1139 570.0H1152M1164 570.0H1215M1329 570.0H1342M1038 571.0H1063M1139 571.0H1152M1164 571.0H1215M1329 571.0H1342M1076 572.0H1139M1177 572.0H1190M1329 572.0H1342M1038 574.0H1063M1139 574.0H1190M1329 574.0H1342M1038 577.1H1126M1177 580.1H1190M1304 580.1H1329M1038 590.1H1050M1076 590.1H1088M1038 591.1H1114M1152 591.1H1190M1329 591.1H1342M1038 592.1H1177M1304 592.1H1342M1038 595.1H1177M1329 595.1H1342M1190 597.1H1202M1304 597.1H1316M1101 600.1H1152M1177 600.1H1190M1316 600.1H1342M1038 602.1H1152M1291 602.1H1342M1038 603.1H1063M1126 603.1H1152M1164 603.1H1177M1304 603.1H1342M1038 604.1H1164M1329 604.1H1342M1139 605.1H1190M1291 605.1H1342M1291 610.1H1304M1291 612.1H1342M1038 613.1H1152M1291 613.1H1342M1076 615.1H1088M1114 615.1H1139M1329 615.1H1342M1038 619.1H1164M1266 619.1H1342M1038 620.1H1164M1038 621.1H1152M1278 621.1H1342M1038 622.1H1126M1291 622.1H1342M1038 623.1H1152M1266 623.1H1342M1126 624.1H1177M1038 629.1H1063M1076 629.1H1088M1101 629.1H1114M1038 630.1H1152M1266 630.1H1342M1126 633.1H1152M1240 633.1H1266M1038 635.1H1063M1088 635.1H1126M1139 635.1H1152M1253 635.1H1329M1038 636.1H1126M1278 636.1H1342M1152 637.1H1164M1278 637.1H1291M1038 638.1H1126M1278 638.1H1329M1101 639.1H1114M1278 639.1H1291M1076 641.1H1101M1114 641.1H1152M1278 641.1H1316M1329 641.1H1342M1038 644.1H1063M1076 644.1H1139M1266 644.1H1342M1139 646.1H1152M1329 646.1H1342M1063 648.1H1152M1253 648.1H1329M1316 650.1H1342M1038 655.1H1126M1291 655.1H1342M1038 657.1H1126M1253 657.1H1342M1038 661.1H1126M1240 661.1H1253M1050 662.1H1088M1139 662.1H1152M1240 662.1H1253M1038 663.1H1114M1228 663.1H1253M1278 663.1H1291M1038 664.1H1126M1278 664.1H1342M1038 665.1H1126M1253 665.1H1342M1038 666.1H1063M1240 666.1H1278M1126 667.1H1139M1038 668.1H1152M1253 668.1H1342M1038 670.1H1063M1088 670.1H1139M1152 670.1H1164M1266 670.1H1316M1253 671.1H1329M1050 672.1H1126M1304 672.1H1342M1063 674.1H1126M1266 674.1H1342M1050 676.1H1139M1063 677.1H1076M1088 677.1H1126M1278 677.1H1342M1038 682.2H1126M1253 682.2H1304M1316 682.2H1342M1038 688.2H1139M1253 688.2H1342M1038 691.2H1126M1038 692.2H1114M1228 692.2H1342M1063 696.2H1076M1088 696.2H1114M1253 696.2H1342M1050 697.2H1126M1253 697.2H1342M1050 700.2H1063M1240 700.2H1278M1304 700.2H1316M1076 701.2H1088M1038 702.2H1050M1316 702.2H1342M1038 710.2H1114M1240 710.2H1342M1063 711.2H1114M1329 711.2H1342M1038 712.2H1101M1228 712.2H1304M1329 712.2H1342M1038 716.2H1114M1253 716.2H1342M1038 717.2H1101M1240 717.2H1342M1038 720.2H1076M1101 720.2H1114M1291 720.2H1342M1038 722.2H1114M1240 722.2H1342M1063 727.2H1076M1215 727.2H1240M1266 727.2H1278M1038 729.2H1114M1228 729.2H1342M1038 730.2H1076M1101 730.2H1114M1253 730.2H1304M1316 730.2H1329M1038 732.2H1114M1240 732.2H1342M1050 733.2H1076M1266 733.2H1278M1304 733.2H1316M1038 736.2H1101M1253 736.2H1342M1088 737.2H1126M1253 737.2H1291M1038 740.2H1101M1228 740.2H1316M1038 745.2H1076M1215 745.2H1342M1101 746.2H1126M1215 746.2H1240M1038 749.2H1088M1215 749.2H1342M1038 750.2H1114M1215 750.2H1342M1038 752.2H1088M1215 752.2H1329M1038 758.2H1088M1202 758.2H1215M1228 758.2H1304M1329 758.2H1342M1038 760.2H1050M1177 760.2H1329M1038 764.2H1050M1050 767.2H1063M1164 767.2H1177M1038 770.2H1050M1164 770.2H1228M1291 770.2H1342M1164 772.2H1177M1152 775.2H1202M1329 775.2H1342M1152 777.2H1164M1139 779.2H1342M1139 781.2H1164M1177 781.2H1190M1152 782.2H1240M1139 783.2H1342M1152 784.2H1215M1253 784.2H1266M1291 784.2H1342M1038 785.2H1050M1152 785.2H1190M1202 785.2H1266M1329 785.2H1342M1202 786.3H1291M1164 790.3H1202M1266 790.3H1329M1202 791.3H1291M1114 792.3H1164M1177 792.3H1228M1266 792.3H1329M1152 794.3H1177M1190 794.3H1215M1228 794.3H1240M1316 796.3H1329M1126 797.3H1215M1228 797.3H1316M1126 800.3H1215M1304 800.3H1342M1139 801.3H1316M1139 804.3H1215M1228 804.3H1304M1152 807.3H1316M1126 811.3H1202M1215 811.3H1316M1114 812.3H1316M1139 824.3H1164M1177 824.3H1202M1126 825.3H1215M1240 825.3H1329M1114 827.3H1215M1114 829.3H1190M1291 829.3H1316M1126 832.3H1278M1126 834.3H1139M1253 834.3H1291"/>
<path stroke="#dedede" d="M1088 525.0H1101M1266 525.0H1278M1076 526.0H1101M1215 526.0H1228M1240 526.0H1266M1152 527.0H1215M1063 530.0H1076M1266 530.0H1278M1228 533.0H1240M1076 538.0H1088M1240 538.0H1253M1050 539.0H1139M1240 541.0H1253M1177 547.0H1190M1215 547.0H1228M1050 548.0H1076M1101 548.0H1177M1152 549.0H1190M1202 549.0H1240M1050 552.0H1063M1228 552.0H1240M1038 557.0H1050M1050 559.0H1063M1177 559.0H1228M1038 562.0H1050M1076 562.0H1114M1126 562.0H1139M1215 562.0H1228M1228 565.0H1240M1050 568.0H1139M1215 569.0H1228M1126 570.0H1139M1152 570.0H1164M1316 570.0H1329M1038 572.0H1076M1139 572.0H1177M1190 572.0H1202M1063 574.0H1139M1316 574.0H1329M1088 576.0H1101M1126 577.1H1215M1316 577.1H1342M1190 580.1H1202M1177 583.1H1202M1038 587.1H1050M1152 587.1H1215M1038 588.1H1050M1063 588.1H1076M1177 588.1H1215M1050 590.1H1076M1088 590.1H1139M1152 590.1H1164M1304 590.1H1342M1114 591.1H1152M1190 591.1H1202M1316 591.1H1329M1316 595.1H1329M1291 598.1H1342M1038 600.1H1101M1190 600.1H1202M1304 600.1H1316M1063 603.1H1126M1291 603.1H1304M1164 604.1H1177M1316 604.1H1329M1190 605.1H1202M1278 605.1H1291M1063 609.1H1088M1152 610.1H1164M1278 610.1H1291M1088 611.1H1101M1177 612.1H1190M1278 612.1H1291M1152 613.1H1164M1038 615.1H1076M1088 615.1H1114M1291 615.1H1329M1253 620.1H1266M1126 622.1H1164M1253 622.1H1291M1253 623.1H1266M1050 624.1H1063M1076 624.1H1126M1304 624.1H1329M1063 629.1H1076M1088 629.1H1101M1114 629.1H1139M1266 629.1H1342M1152 630.1H1164M1126 635.1H1139M1152 635.1H1164M1329 635.1H1342M1126 636.1H1139M1240 636.1H1278M1164 637.1H1177M1266 637.1H1278M1126 638.1H1177M1266 638.1H1278M1329 638.1H1342M1139 639.1H1152M1266 639.1H1278M1038 641.1H1076M1253 641.1H1278M1076 642.1H1101M1139 642.1H1164M1038 643.1H1050M1266 643.1H1278M1291 643.1H1342M1063 644.1H1076M1139 644.1H1152M1088 646.1H1101M1114 646.1H1139M1291 646.1H1329M1038 647.1H1050M1152 647.1H1164M1329 647.1H1342M1240 648.1H1253M1038 650.1H1088M1101 650.1H1126M1139 650.1H1152M1253 650.1H1316M1126 655.1H1139M1278 655.1H1291M1101 659.1H1139M1266 659.1H1342M1076 660.1H1088M1253 661.1H1342M1114 663.1H1126M1215 663.1H1228M1253 663.1H1278M1291 663.1H1342M1266 664.1H1278M1126 665.1H1139M1240 665.1H1253M1063 666.1H1126M1278 666.1H1342M1038 667.1H1063M1076 667.1H1126M1253 667.1H1266M1240 668.1H1253M1063 670.1H1088M1253 670.1H1266M1038 671.1H1076M1088 671.1H1126M1329 671.1H1342M1038 672.1H1050M1253 672.1H1304M1038 673.1H1063M1126 674.1H1139M1076 675.1H1139M1329 675.1H1342M1139 676.1H1152M1228 676.1H1240M1038 677.1H1063M1076 677.1H1088M1228 677.1H1278M1038 679.1H1139M1101 681.1H1126M1228 681.1H1240M1126 682.2H1139M1240 682.2H1253M1304 682.2H1316M1063 684.2H1076M1088 684.2H1101M1240 684.2H1266M1278 684.2H1291M1126 691.2H1139M1240 691.2H1342M1114 692.2H1126M1038 696.2H1063M1076 696.2H1088M1114 696.2H1126M1240 696.2H1253M1038 700.2H1050M1063 700.2H1139M1278 700.2H1304M1316 700.2H1342M1038 701.2H1076M1088 701.2H1114M1329 701.2H1342M1050 702.2H1126M1253 702.2H1316M1126 703.2H1139M1215 703.2H1228M1101 707.2H1139M1228 707.2H1240M1038 711.2H1063M1114 711.2H1126M1266 711.2H1278M1291 711.2H1329M1101 712.2H1114M1063 715.2H1126M1278 715.2H1342M1240 716.2H1253M1101 717.2H1114M1228 720.2H1291M1329 726.2H1342M1038 727.2H1063M1076 727.2H1114M1202 727.2H1215M1114 729.2H1126M1215 729.2H1228M1076 730.2H1101M1240 730.2H1253M1114 732.2H1126M1228 732.2H1240M1038 733.2H1050M1076 733.2H1101M1240 733.2H1266M1278 733.2H1304M1316 733.2H1342M1101 736.2H1114M1240 736.2H1253M1126 737.2H1139M1240 737.2H1253M1101 740.2H1114M1215 740.2H1228M1316 740.2H1342M1076 741.2H1088M1114 741.2H1126M1228 741.2H1316M1291 742.2H1342M1076 745.2H1088M1228 747.2H1253M1088 749.2H1101M1114 750.2H1126M1038 751.2H1076M1228 751.2H1278M1088 752.2H1101M1202 752.2H1215M1329 752.2H1342M1088 753.2H1114M1316 754.2H1342M1088 758.2H1101M1304 758.2H1329M1050 760.2H1088M1164 760.2H1177M1329 760.2H1342M1050 762.2H1063M1152 764.2H1164M1177 764.2H1190M1202 764.2H1215M1278 764.2H1291M1304 764.2H1342M1038 768.2H1063M1316 768.2H1342M1050 769.2H1063M1139 769.2H1152M1050 770.2H1063M1152 770.2H1164M1228 771.2H1240M1050 772.2H1063M1266 773.2H1278M1215 774.2H1253M1139 775.2H1152M1202 775.2H1228M1278 775.2H1291M1304 775.2H1329M1038 777.2H1050M1038 779.2H1050M1126 781.2H1139M1164 781.2H1177M1190 781.2H1253M1266 781.2H1278M1291 781.2H1304M1316 781.2H1342M1038 782.2H1050M1240 782.2H1304M1316 782.2H1342M1126 783.2H1139M1038 784.2H1050M1215 784.2H1253M1266 784.2H1291M1139 785.2H1152M1266 785.2H1329M1114 786.3H1202M1291 786.3H1329M1152 790.3H1164M1202 790.3H1266M1126 791.3H1202M1291 791.3H1329M1101 792.3H1114M1228 792.3H1266M1126 794.3H1152M1177 794.3H1190M1215 794.3H1228M1240 794.3H1278M1139 796.3H1152M1316 797.3H1329M1101 798.3H1114M1215 800.3H1253M1266 800.3H1304M1126 801.3H1139M1316 801.3H1329M1126 804.3H1139M1304 804.3H1316M1126 805.3H1164M1316 807.3H1329M1101 808.3H1114M1316 808.3H1329M1240 810.3H1253M1291 810.3H1304M1114 811.3H1126M1202 811.3H1215M1266 817.3H1291M1139 820.3H1164M1177 820.3H1190M1253 821.3H1278M1126 824.3H1139M1164 824.3H1177M1202 824.3H1228M1114 825.3H1126M1304 827.3H1316M1101 828.3H1114M1304 828.3H1316M1190 829.3H1291M1316 829.3H1329M1114 834.3H1126M1304 834.3H1316M1177 835.3H1202M1215 835.3H1240"/>
<path stroke="#d6d6d6" d="M1266 526.0H1278M1139 527.0H1152M1215 527.0H1266M1278 528.0H1291M1050 531.0H1063M1278 531.0H1291M1177 533.0H1228M1240 533.0H1253M1050 534.0H1063M1164 534.0H1228M1038 539.0H1050M1063 540.0H1088M1050 541.0H1063M1228 545.0H1240M1240 547.0H1253M1177 548.0H1253M1050 549.0H1088M1101 549.0H1152M1240 549.0H1253M1202 550.0H1240M1152 553.0H1164M1190 553.0H1202M1228 553.0H1240M1038 554.0H1114M1240 557.0H1253M1139 559.0H1177M1228 559.0H1240M1038 561.0H1050M1215 561.0H1228M1152 567.0H1240M1038 568.0H1050M1228 568.0H1240M1304 569.0H1316M1215 570.0H1228M1304 570.0H1316M1316 571.0H1329M1202 572.0H1215M1316 572.0H1329M1190 574.0H1202M1063 576.0H1076M1101 576.0H1126M1329 576.0H1342M1304 577.1H1316M1291 580.1H1304M1038 583.1H1177M1316 583.1H1342M1038 585.1H1050M1177 585.1H1190M1050 587.1H1063M1101 587.1H1152M1291 587.1H1304M1050 588.1H1063M1076 588.1H1101M1215 588.1H1228M1152 589.1H1177M1139 590.1H1152M1164 590.1H1202M1291 590.1H1304M1304 591.1H1316M1177 592.1H1190M1291 592.1H1304M1126 593.1H1139M1152 593.1H1177M1316 593.1H1329M1177 595.1H1190M1038 596.1H1050M1076 596.1H1088M1101 596.1H1215M1038 598.1H1088M1101 598.1H1126M1152 598.1H1164M1177 598.1H1190M1038 599.1H1050M1063 599.1H1076M1190 599.1H1202M1152 601.1H1190M1152 602.1H1164M1278 602.1H1291M1177 603.1H1190M1278 603.1H1291M1101 606.1H1164M1304 606.1H1342M1038 607.1H1063M1278 607.1H1304M1050 609.1H1063M1088 609.1H1114M1253 609.1H1278M1278 613.1H1291M1139 615.1H1152M1278 615.1H1291M1088 616.1H1101M1278 617.1H1291M1164 619.1H1177M1152 621.1H1164M1266 621.1H1278M1164 622.1H1177M1038 624.1H1050M1063 624.1H1076M1177 624.1H1190M1329 624.1H1342M1266 625.1H1278M1291 625.1H1304M1329 625.1H1342M1139 629.1H1152M1253 629.1H1266M1266 631.1H1304M1050 632.1H1063M1038 634.1H1050M1063 634.1H1088M1291 634.1H1304M1316 634.1H1329M1228 636.1H1240M1038 642.1H1076M1101 642.1H1139M1050 643.1H1152M1278 643.1H1291M1253 644.1H1266M1038 646.1H1088M1101 646.1H1114M1152 646.1H1164M1240 646.1H1291M1050 647.1H1076M1088 647.1H1101M1126 647.1H1152M1291 647.1H1329M1088 650.1H1101M1126 650.1H1139M1152 650.1H1164M1304 652.1H1342M1126 657.1H1139M1240 657.1H1253M1076 659.1H1101M1139 659.1H1152M1253 659.1H1266M1063 660.1H1076M1088 660.1H1139M1126 661.1H1139M1228 661.1H1240M1152 662.1H1164M1126 664.1H1139M1063 667.1H1076M1228 667.1H1253M1266 667.1H1304M1316 667.1H1329M1076 671.1H1088M1240 671.1H1253M1126 672.1H1139M1240 672.1H1253M1063 673.1H1076M1101 673.1H1114M1253 673.1H1266M1253 674.1H1266M1038 675.1H1076M1291 675.1H1329M1126 677.1H1139M1228 679.1H1240M1291 679.1H1342M1050 681.1H1101M1126 681.1H1139M1240 681.1H1342M1038 684.2H1063M1076 684.2H1088M1101 684.2H1126M1228 684.2H1240M1266 684.2H1278M1291 684.2H1342M1240 688.2H1253M1304 690.2H1316M1215 692.2H1228M1228 693.2H1240M1126 697.2H1139M1240 697.2H1253M1038 698.2H1076M1253 698.2H1266M1076 699.2H1101M1253 699.2H1316M1329 699.2H1342M1240 701.2H1304M1316 701.2H1329M1101 706.2H1114M1126 706.2H1139M1038 707.2H1101M1240 707.2H1342M1228 710.2H1240M1228 711.2H1266M1278 711.2H1291M1215 712.2H1228M1291 714.2H1304M1038 715.2H1063M1240 715.2H1278M1114 716.2H1126M1228 717.2H1240M1316 719.2H1329M1114 720.2H1126M1114 722.2H1126M1228 722.2H1240M1126 723.2H1139M1114 726.2H1139M1304 726.2H1329M1088 728.2H1101M1114 730.2H1126M1228 730.2H1240M1101 733.2H1114M1228 733.2H1240M1114 740.2H1126M1050 741.2H1076M1088 741.2H1114M1316 741.2H1342M1038 742.2H1050M1101 742.2H1114M1202 742.2H1215M1228 742.2H1240M1278 742.2H1291M1202 745.2H1215M1126 746.2H1139M1202 747.2H1228M1253 747.2H1316M1050 748.2H1063M1228 748.2H1240M1202 749.2H1215M1076 751.2H1101M1278 751.2H1304M1329 751.2H1342M1101 752.2H1114M1038 753.2H1088M1114 753.2H1126M1101 754.2H1114M1253 754.2H1316M1253 755.2H1316M1329 755.2H1342M1215 756.2H1278M1291 756.2H1316M1329 756.2H1342M1190 758.2H1202M1063 759.2H1076M1266 759.2H1278M1038 762.2H1050M1164 762.2H1177M1329 762.2H1342M1050 764.2H1063M1139 764.2H1152M1164 764.2H1177M1190 764.2H1202M1215 764.2H1278M1291 764.2H1304M1063 766.2H1076M1063 767.2H1076M1152 767.2H1164M1152 768.2H1164M1202 768.2H1215M1228 768.2H1240M1266 768.2H1316M1202 771.2H1228M1240 771.2H1304M1152 772.2H1164M1152 773.2H1164M1253 773.2H1266M1278 773.2H1316M1190 774.2H1215M1253 774.2H1316M1038 775.2H1063M1228 775.2H1278M1291 775.2H1304M1139 777.2H1152M1038 781.2H1050M1253 781.2H1266M1278 781.2H1291M1304 781.2H1316M1304 782.2H1316M1038 783.2H1050M1126 785.2H1139M1240 788.3H1304M1038 789.3H1050M1316 789.3H1342M1329 790.3H1342M1114 791.3H1126M1329 791.3H1342M1114 794.3H1126M1278 794.3H1342M1139 795.3H1152M1164 795.3H1177M1291 795.3H1316M1114 797.3H1126M1329 798.3H1342M1253 800.3H1266M1228 803.3H1240M1114 805.3H1126M1164 805.3H1215M1291 805.3H1304M1316 805.3H1342M1139 807.3H1152M1101 810.3H1152M1164 810.3H1177M1215 810.3H1240M1253 810.3H1291M1316 811.3H1329M1316 812.3H1329M1240 813.3H1253M1304 813.3H1329M1114 816.3H1126M1190 817.3H1215M1240 817.3H1266M1291 817.3H1316M1114 820.3H1139M1164 820.3H1177M1190 820.3H1228M1190 821.3H1253M1202 822.3H1215M1228 823.3H1240M1266 823.3H1304M1228 824.3H1329M1101 827.3H1114M1101 829.3H1114M1114 832.3H1126M1278 832.3H1291M1152 835.3H1177M1202 835.3H1215M1240 835.3H1253"/>
<path stroke="#cecece" d="M1076 525.0H1088M1063 526.0H1076M1076 527.0H1139M1266 527.0H1278M1076 528.0H1126M1266 528.0H1278M1088 533.0H1101M1114 533.0H1126M1164 533.0H1177M1253 533.0H1266M1139 534.0H1164M1228 534.0H1253M1038 536.0H1088M1114 536.0H1126M1253 538.0H1266M1253 539.0H1266M1050 540.0H1063M1088 540.0H1114M1126 540.0H1164M1050 545.0H1076M1114 545.0H1126M1190 545.0H1228M1240 545.0H1266M1050 546.0H1063M1329 547.0H1342M1038 548.0H1050M1088 549.0H1101M1038 550.0H1088M1101 550.0H1114M1177 550.0H1202M1329 550.0H1342M1038 552.0H1050M1240 552.0H1253M1139 553.0H1152M1164 553.0H1190M1202 553.0H1228M1240 553.0H1253M1114 554.0H1139M1152 554.0H1164M1177 554.0H1190M1329 554.0H1342M1114 556.0H1126M1329 557.0H1342M1038 559.0H1050M1063 559.0H1139M1316 562.0H1329M1304 565.0H1316M1050 566.0H1063M1202 566.0H1215M1050 567.0H1063M1101 567.0H1152M1215 571.0H1228M1038 575.0H1063M1291 575.0H1316M1038 576.0H1063M1076 576.0H1088M1126 576.0H1177M1291 576.0H1316M1215 577.1H1228M1202 580.1H1215M1050 585.1H1063M1152 585.1H1177M1076 586.1H1088M1063 587.1H1101M1304 587.1H1342M1101 588.1H1177M1304 588.1H1342M1114 589.1H1152M1177 589.1H1202M1316 589.1H1342M1101 593.1H1126M1139 593.1H1152M1291 593.1H1316M1329 593.1H1342M1304 595.1H1316M1050 596.1H1076M1088 596.1H1101M1202 597.1H1215M1291 597.1H1304M1088 598.1H1101M1126 598.1H1152M1164 598.1H1177M1190 598.1H1215M1050 599.1H1063M1164 599.1H1190M1329 599.1H1342M1202 600.1H1215M1114 601.1H1152M1316 601.1H1342M1177 604.1H1190M1304 604.1H1316M1076 606.1H1101M1266 606.1H1304M1063 607.1H1088M1177 607.1H1190M1304 607.1H1316M1329 607.1H1342M1038 609.1H1050M1114 609.1H1126M1139 609.1H1152M1278 609.1H1304M1316 609.1H1329M1164 610.1H1177M1266 610.1H1278M1050 611.1H1088M1101 611.1H1126M1278 611.1H1316M1190 612.1H1202M1164 613.1H1177M1038 616.1H1088M1101 616.1H1114M1126 616.1H1139M1316 616.1H1342M1038 617.1H1076M1266 617.1H1278M1291 617.1H1342M1253 619.1H1266M1164 620.1H1177M1152 623.1H1164M1291 624.1H1304M1253 625.1H1266M1278 625.1H1291M1304 625.1H1329M1152 626.1H1177M1152 627.1H1164M1329 627.1H1342M1038 628.1H1114M1266 628.1H1316M1253 630.1H1266M1152 631.1H1164M1304 631.1H1342M1038 632.1H1050M1063 632.1H1088M1266 632.1H1278M1291 632.1H1304M1152 633.1H1164M1228 633.1H1240M1050 634.1H1063M1088 634.1H1139M1278 634.1H1291M1304 634.1H1316M1329 634.1H1342M1240 635.1H1253M1152 639.1H1164M1152 641.1H1164M1240 641.1H1253M1240 642.1H1278M1304 642.1H1316M1152 643.1H1164M1076 647.1H1088M1101 647.1H1126M1266 647.1H1291M1152 648.1H1164M1050 649.1H1088M1101 649.1H1114M1278 649.1H1329M1240 650.1H1253M1038 652.1H1076M1088 652.1H1101M1114 652.1H1126M1240 652.1H1253M1266 652.1H1291M1329 654.1H1342M1139 655.1H1152M1215 656.1H1228M1038 659.1H1076M1240 659.1H1253M1038 660.1H1063M1266 660.1H1342M1228 662.1H1240M1228 665.1H1240M1126 666.1H1139M1228 666.1H1240M1139 667.1H1152M1304 667.1H1316M1329 667.1H1342M1152 668.1H1164M1164 670.1H1177M1126 671.1H1139M1076 673.1H1101M1114 673.1H1126M1266 673.1H1342M1139 675.1H1152M1228 675.1H1291M1126 678.1H1152M1215 679.1H1228M1240 679.1H1291M1038 680.1H1088M1278 680.1H1342M1038 681.1H1050M1038 685.2H1063M1316 685.2H1342M1126 686.2H1139M1253 687.2H1342M1139 688.2H1152M1101 690.2H1139M1278 690.2H1304M1139 691.2H1152M1240 693.2H1253M1240 694.2H1278M1126 696.2H1139M1228 696.2H1240M1076 698.2H1114M1240 698.2H1253M1038 699.2H1050M1101 699.2H1126M1240 699.2H1253M1316 699.2H1329M1228 700.2H1240M1114 701.2H1126M1228 701.2H1240M1304 701.2H1316M1126 702.2H1139M1240 702.2H1253M1050 705.2H1076M1228 705.2H1291M1063 706.2H1076M1088 706.2H1101M1114 706.2H1126M1215 707.2H1228M1278 708.2H1342M1114 710.2H1126M1126 711.2H1139M1240 713.2H1278M1076 714.2H1126M1240 714.2H1291M1304 714.2H1316M1215 715.2H1240M1278 718.2H1291M1038 719.2H1114M1215 719.2H1253M1291 719.2H1316M1329 719.2H1342M1050 721.2H1063M1076 721.2H1088M1240 721.2H1253M1114 723.2H1126M1291 723.2H1342M1076 726.2H1114M1278 726.2H1304M1063 728.2H1088M1101 728.2H1126M1215 728.2H1240M1329 728.2H1342M1126 732.2H1139M1215 734.2H1253M1266 734.2H1278M1329 739.2H1342M1038 741.2H1050M1050 742.2H1101M1215 742.2H1228M1240 742.2H1278M1202 746.2H1215M1050 747.2H1063M1088 747.2H1101M1316 747.2H1342M1038 748.2H1050M1063 748.2H1088M1190 748.2H1228M1240 748.2H1266M1202 750.2H1215M1101 751.2H1114M1304 751.2H1329M1215 753.2H1266M1278 753.2H1291M1304 753.2H1316M1329 753.2H1342M1038 754.2H1101M1215 754.2H1228M1240 754.2H1253M1228 755.2H1253M1316 755.2H1329M1088 756.2H1101M1202 756.2H1215M1278 756.2H1291M1038 759.2H1063M1215 759.2H1266M1291 759.2H1304M1088 760.2H1101M1063 762.2H1076M1177 762.2H1215M1228 762.2H1329M1038 766.2H1063M1076 766.2H1088M1304 766.2H1342M1063 768.2H1076M1139 768.2H1152M1164 768.2H1202M1215 768.2H1228M1240 768.2H1266M1038 771.2H1050M1177 771.2H1202M1304 771.2H1329M1063 772.2H1076M1164 773.2H1177M1190 773.2H1253M1316 773.2H1329M1038 774.2H1050M1177 774.2H1190M1316 774.2H1342M1126 779.2H1139M1050 782.2H1063M1139 782.2H1152M1050 784.2H1063M1139 784.2H1152M1101 786.3H1114M1038 788.3H1050M1190 788.3H1202M1215 788.3H1240M1304 788.3H1342M1278 789.3H1316M1139 790.3H1152M1329 792.3H1342M1038 794.3H1050M1126 795.3H1139M1152 795.3H1164M1177 795.3H1202M1240 795.3H1291M1126 796.3H1139M1329 796.3H1342M1038 800.3H1050M1114 800.3H1126M1329 801.3H1342M1190 803.3H1228M1240 803.3H1278M1215 805.3H1253M1304 805.3H1316M1215 806.3H1253M1329 807.3H1342M1088 810.3H1101M1152 810.3H1164M1177 810.3H1215M1304 810.3H1316M1101 812.3H1114M1266 813.3H1304M1278 814.3H1291M1126 816.3H1190M1304 816.3H1316M1088 817.3H1101M1177 817.3H1190M1215 817.3H1240M1139 818.3H1152M1164 818.3H1177M1101 820.3H1114M1228 820.3H1316M1177 821.3H1190M1278 821.3H1316M1215 822.3H1291M1101 823.3H1114M1190 823.3H1228M1253 823.3H1266M1304 823.3H1316M1114 824.3H1126M1329 825.3H1342M1316 827.3H1329M1164 830.3H1177M1215 830.3H1228M1316 834.3H1329M1126 835.3H1152M1253 835.3H1304M1215 836.3H1304M1215 837.3H1253M1266 837.3H1278"/>
<path stroke="#c5c5c5" d="M1278 525.0H1291M1278 527.0H1291M1050 528.0H1076M1126 528.0H1152M1215 528.0H1228M1240 528.0H1266M1291 528.0H1304M1215 529.0H1228M1050 530.0H1063M1278 530.0H1291M1076 533.0H1088M1101 533.0H1114M1126 533.0H1164M1266 533.0H1278M1063 534.0H1139M1253 534.0H1266M1088 536.0H1114M1139 536.0H1152M1202 536.0H1215M1253 537.0H1266M1063 538.0H1076M1114 540.0H1126M1164 540.0H1190M1215 540.0H1240M1038 541.0H1050M1253 541.0H1266M1329 544.0H1342M1038 545.0H1050M1076 545.0H1114M1126 545.0H1190M1038 546.0H1050M1063 546.0H1101M1329 546.0H1342M1088 550.0H1101M1114 550.0H1177M1316 550.0H1329M1038 551.0H1050M1202 551.0H1228M1240 551.0H1253M1101 553.0H1139M1139 554.0H1152M1164 554.0H1177M1190 554.0H1215M1316 554.0H1329M1101 556.0H1114M1126 556.0H1139M1050 558.0H1063M1228 562.0H1240M1038 566.0H1050M1063 566.0H1076M1164 566.0H1202M1038 567.0H1050M1063 567.0H1101M1329 568.0H1342M1228 569.0H1240M1215 572.0H1228M1101 573.0H1152M1304 574.0H1316M1076 575.0H1088M1278 575.0H1291M1316 575.0H1329M1177 576.0H1190M1316 576.0H1329M1316 578.1H1342M1164 581.1H1228M1291 581.1H1342M1202 583.1H1215M1063 585.1H1088M1126 585.1H1139M1190 585.1H1202M1304 585.1H1342M1038 586.1H1076M1088 586.1H1101M1038 589.1H1050M1063 589.1H1114M1304 589.1H1316M1202 590.1H1215M1278 590.1H1291M1202 591.1H1215M1076 593.1H1101M1177 593.1H1202M1215 593.1H1228M1190 595.1H1202M1304 596.1H1342M1076 599.1H1101M1114 599.1H1126M1291 599.1H1329M1291 600.1H1304M1038 601.1H1063M1101 601.1H1114M1266 601.1H1278M1291 601.1H1316M1266 605.1H1278M1038 606.1H1050M1063 606.1H1076M1164 606.1H1177M1088 607.1H1177M1316 607.1H1329M1126 609.1H1139M1152 609.1H1177M1240 609.1H1253M1304 609.1H1316M1329 609.1H1342M1038 611.1H1050M1126 611.1H1152M1177 611.1H1190M1316 611.1H1329M1266 612.1H1278M1152 615.1H1164M1266 615.1H1278M1114 616.1H1126M1139 616.1H1152M1266 616.1H1316M1076 617.1H1152M1240 620.1H1253M1240 623.1H1253M1114 625.1H1126M1139 625.1H1177M1126 626.1H1152M1126 627.1H1152M1164 627.1H1177M1316 627.1H1329M1316 628.1H1342M1240 629.1H1253M1164 630.1H1177M1088 631.1H1114M1126 631.1H1152M1164 631.1H1177M1088 632.1H1126M1152 632.1H1164M1253 632.1H1266M1278 632.1H1291M1139 634.1H1164M1253 634.1H1278M1164 635.1H1177M1139 636.1H1152M1177 637.1H1190M1177 638.1H1190M1253 639.1H1266M1278 642.1H1304M1316 642.1H1342M1253 643.1H1266M1152 644.1H1164M1164 647.1H1177M1228 648.1H1240M1038 649.1H1050M1088 649.1H1101M1114 649.1H1139M1253 649.1H1278M1329 649.1H1342M1164 650.1H1177M1076 652.1H1088M1126 652.1H1139M1253 652.1H1266M1291 652.1H1304M1076 653.1H1088M1114 653.1H1126M1304 653.1H1329M1038 654.1H1050M1076 654.1H1088M1316 654.1H1329M1266 655.1H1278M1126 656.1H1139M1228 656.1H1240M1329 656.1H1342M1139 660.1H1152M1253 660.1H1266M1126 663.1H1139M1202 663.1H1215M1139 664.1H1152M1253 664.1H1266M1139 665.1H1152M1304 669.1H1342M1240 670.1H1253M1228 671.1H1240M1228 672.1H1240M1139 674.1H1152M1152 676.1H1164M1215 676.1H1228M1215 677.1H1228M1114 678.1H1126M1152 678.1H1164M1329 678.1H1342M1088 680.1H1101M1215 681.1H1228M1228 682.2H1240M1063 685.2H1076M1253 685.2H1316M1101 686.2H1126M1139 686.2H1152M1316 686.2H1342M1215 687.2H1253M1088 690.2H1101M1253 690.2H1278M1316 690.2H1342M1228 691.2H1240M1063 693.2H1076M1126 693.2H1139M1253 693.2H1291M1114 698.2H1139M1228 698.2H1240M1266 698.2H1291M1304 698.2H1316M1050 699.2H1076M1139 700.2H1152M1202 703.2H1215M1038 705.2H1050M1076 705.2H1101M1215 705.2H1228M1291 705.2H1316M1038 706.2H1063M1076 706.2H1088M1304 706.2H1316M1139 707.2H1152M1038 708.2H1050M1114 708.2H1126M1253 708.2H1278M1114 712.2H1126M1038 713.2H1050M1076 713.2H1088M1228 713.2H1240M1278 713.2H1316M1329 713.2H1342M1063 714.2H1076M1228 714.2H1240M1316 714.2H1329M1126 715.2H1139M1228 716.2H1240M1114 717.2H1126M1101 718.2H1114M1253 718.2H1266M1202 719.2H1215M1253 719.2H1291M1215 720.2H1228M1038 721.2H1050M1063 721.2H1076M1088 721.2H1114M1215 721.2H1240M1253 721.2H1266M1076 723.2H1114M1278 723.2H1291M1038 726.2H1050M1063 726.2H1076M1139 726.2H1152M1266 726.2H1278M1114 727.2H1126M1190 727.2H1202M1038 728.2H1063M1202 728.2H1215M1240 728.2H1304M1316 728.2H1329M1202 729.2H1215M1126 730.2H1139M1253 734.2H1266M1291 734.2H1304M1228 735.2H1240M1114 736.2H1126M1228 736.2H1240M1139 737.2H1152M1228 737.2H1240M1088 739.2H1101M1278 739.2H1329M1202 740.2H1215M1126 741.2H1139M1215 741.2H1228M1076 744.2H1114M1088 745.2H1101M1038 747.2H1050M1063 747.2H1088M1101 747.2H1126M1088 748.2H1101M1266 748.2H1278M1101 749.2H1114M1215 751.2H1228M1190 752.2H1202M1266 753.2H1278M1291 753.2H1304M1316 753.2H1329M1114 754.2H1126M1202 754.2H1215M1228 754.2H1240M1038 755.2H1126M1050 756.2H1076M1101 756.2H1126M1316 756.2H1329M1101 758.2H1114M1076 759.2H1114M1190 759.2H1202M1278 759.2H1291M1304 759.2H1316M1152 762.2H1164M1215 762.2H1228M1038 765.2H1050M1202 765.2H1215M1278 766.2H1291M1063 769.2H1076M1063 770.2H1076M1139 770.2H1152M1139 771.2H1177M1329 771.2H1342M1038 773.2H1050M1177 773.2H1190M1329 773.2H1342M1152 774.2H1177M1050 777.2H1063M1050 779.2H1063M1114 781.2H1126M1050 785.2H1063M1329 786.3H1342M1139 788.3H1190M1202 788.3H1215M1240 789.3H1278M1202 795.3H1240M1329 797.3H1342M1152 803.3H1190M1291 803.3H1304M1316 803.3H1329M1114 804.3H1126M1316 804.3H1329M1253 805.3H1291M1114 806.3H1126M1190 806.3H1215M1253 806.3H1278M1088 808.3H1101M1329 808.3H1342M1240 809.3H1266M1101 811.3H1114M1088 813.3H1101M1114 813.3H1126M1139 813.3H1177M1190 813.3H1240M1253 813.3H1266M1304 814.3H1329M1240 815.3H1253M1101 816.3H1114M1266 816.3H1304M1101 817.3H1177M1114 818.3H1126M1152 818.3H1164M1177 818.3H1202M1291 818.3H1304M1088 821.3H1177M1114 822.3H1164M1177 822.3H1202M1291 822.3H1329M1088 823.3H1101M1114 823.3H1190M1240 823.3H1253M1088 826.3H1101M1114 826.3H1126M1088 828.3H1101M1316 828.3H1329M1152 830.3H1164M1177 830.3H1215M1228 830.3H1253M1101 834.3H1114M1076 835.3H1126M1304 835.3H1316M1190 836.3H1215M1304 836.3H1316M1177 837.3H1215M1253 837.3H1266M1278 837.3H1304"/>
<path stroke="#bdbdbd" d="M1152 528.0H1164M1228 528.0H1240M1190 529.0H1202M1228 529.0H1240M1266 529.0H1278M1240 532.0H1253M1266 534.0H1278M1126 536.0H1139M1152 536.0H1190M1240 536.0H1266M1202 537.0H1215M1266 537.0H1278M1190 540.0H1215M1240 540.0H1253M1101 546.0H1126M1240 546.0H1253M1253 547.0H1266M1253 548.0H1266M1038 549.0H1050M1253 549.0H1266M1063 551.0H1076M1190 551.0H1202M1228 551.0H1240M1038 553.0H1101M1253 553.0H1266M1215 554.0H1240M1139 556.0H1164M1316 556.0H1342M1038 558.0H1050M1063 558.0H1152M1266 558.0H1278M1240 559.0H1253M1038 560.0H1050M1228 561.0H1240M1329 561.0H1342M1190 563.0H1202M1240 565.0H1253M1076 566.0H1101M1114 566.0H1126M1152 566.0H1164M1215 566.0H1228M1329 566.0H1342M1240 567.0H1253M1240 568.0H1253M1088 573.0H1101M1291 573.0H1329M1202 574.0H1215M1063 575.0H1076M1088 575.0H1126M1190 575.0H1215M1266 575.0H1278M1329 575.0H1342M1190 576.0H1240M1038 578.1H1050M1291 578.1H1316M1038 581.1H1050M1139 581.1H1164M1278 581.1H1291M1304 583.1H1316M1050 584.1H1063M1190 584.1H1202M1088 585.1H1114M1139 585.1H1152M1291 585.1H1304M1114 586.1H1126M1291 586.1H1329M1215 587.1H1228M1050 589.1H1063M1291 591.1H1304M1190 592.1H1202M1278 592.1H1291M1038 593.1H1076M1202 593.1H1215M1038 594.1H1050M1278 594.1H1291M1291 596.1H1304M1101 599.1H1114M1126 599.1H1164M1063 601.1H1101M1278 601.1H1291M1164 602.1H1177M1266 602.1H1278M1190 603.1H1202M1266 603.1H1278M1202 605.1H1215M1050 606.1H1063M1266 607.1H1278M1152 608.1H1164M1152 611.1H1177M1329 611.1H1342M1266 613.1H1278M1101 614.1H1152M1278 614.1H1316M1329 614.1H1342M1152 616.1H1177M1152 617.1H1164M1316 618.1H1329M1164 621.1H1177M1177 622.1H1190M1038 625.1H1076M1088 625.1H1114M1126 625.1H1139M1038 626.1H1050M1101 626.1H1126M1240 626.1H1253M1278 626.1H1291M1304 626.1H1316M1101 627.1H1126M1291 627.1H1316M1114 628.1H1164M1253 628.1H1266M1038 631.1H1088M1114 631.1H1126M1177 631.1H1190M1126 632.1H1152M1304 632.1H1342M1164 634.1H1177M1215 636.1H1228M1253 637.1H1266M1253 638.1H1266M1164 642.1H1177M1164 643.1H1177M1240 644.1H1253M1228 646.1H1240M1253 647.1H1266M1228 649.1H1253M1253 651.1H1266M1291 651.1H1304M1101 652.1H1114M1139 652.1H1152M1228 652.1H1240M1088 653.1H1114M1126 653.1H1139M1278 653.1H1291M1329 653.1H1342M1050 654.1H1076M1126 654.1H1164M1228 654.1H1253M1304 654.1H1316M1038 656.1H1063M1076 656.1H1101M1114 656.1H1126M1139 656.1H1152M1240 656.1H1253M1266 656.1H1278M1291 656.1H1329M1228 657.1H1240M1152 659.1H1164M1139 661.1H1152M1215 661.1H1228M1228 668.1H1240M1038 669.1H1088M1101 669.1H1114M1126 669.1H1139M1152 669.1H1177M1240 669.1H1291M1139 672.1H1152M1126 673.1H1139M1240 673.1H1253M1240 674.1H1253M1038 678.1H1050M1076 678.1H1114M1240 678.1H1253M1304 678.1H1329M1101 680.1H1126M1228 680.1H1278M1139 681.1H1152M1139 682.2H1152M1215 684.2H1228M1076 685.2H1126M1228 685.2H1253M1076 686.2H1101M1038 687.2H1050M1076 687.2H1088M1114 687.2H1126M1038 690.2H1063M1076 690.2H1088M1240 690.2H1253M1126 692.2H1139M1202 692.2H1215M1038 693.2H1050M1088 693.2H1126M1215 693.2H1228M1291 693.2H1304M1316 693.2H1342M1038 694.2H1063M1088 694.2H1101M1278 694.2H1342M1139 695.2H1164M1291 695.2H1342M1139 698.2H1152M1291 698.2H1304M1316 698.2H1342M1228 699.2H1240M1101 705.2H1126M1316 705.2H1342M1139 706.2H1152M1240 706.2H1304M1316 706.2H1342M1050 708.2H1114M1228 708.2H1253M1076 709.2H1088M1304 709.2H1316M1215 710.2H1228M1050 713.2H1063M1088 713.2H1101M1316 713.2H1329M1038 714.2H1063M1215 714.2H1228M1329 714.2H1342M1215 717.2H1228M1088 718.2H1101M1114 718.2H1126M1228 718.2H1253M1266 718.2H1278M1291 718.2H1304M1126 720.2H1139M1266 721.2H1291M1316 721.2H1329M1126 722.2H1139M1215 722.2H1228M1050 723.2H1076M1215 723.2H1278M1076 724.2H1101M1114 724.2H1126M1215 725.2H1240M1050 726.2H1063M1215 726.2H1266M1304 728.2H1316M1126 729.2H1139M1215 730.2H1228M1215 732.2H1228M1215 733.2H1228M1278 734.2H1291M1316 734.2H1329M1038 735.2H1063M1215 735.2H1228M1240 735.2H1266M1228 738.2H1240M1038 739.2H1088M1101 739.2H1114M1114 742.2H1126M1114 744.2H1126M1101 748.2H1114M1278 748.2H1329M1126 750.2H1139M1126 753.2H1139M1202 753.2H1215M1038 756.2H1050M1076 756.2H1088M1177 758.2H1190M1202 759.2H1215M1316 759.2H1342M1152 760.2H1164M1253 761.2H1266M1190 765.2H1202M1215 765.2H1228M1329 765.2H1342M1152 766.2H1177M1202 766.2H1215M1240 766.2H1266M1291 766.2H1304M1126 769.2H1139M1050 773.2H1063M1139 773.2H1152M1050 774.2H1063M1329 776.2H1342M1304 778.2H1316M1329 778.2H1342M1139 780.2H1177M1114 783.2H1126M1164 787.3H1177M1050 789.3H1063M1164 789.3H1240M1088 792.3H1101M1215 793.3H1266M1316 795.3H1329M1088 798.3H1101M1114 801.3H1126M1114 803.3H1152M1278 803.3H1291M1304 803.3H1316M1329 803.3H1342M1126 806.3H1152M1278 806.3H1304M1316 806.3H1329M1126 807.3H1139M1101 813.3H1114M1126 813.3H1139M1177 813.3H1190M1101 814.3H1126M1139 814.3H1152M1228 814.3H1240M1253 814.3H1278M1291 814.3H1304M1177 815.3H1190M1215 815.3H1240M1190 816.3H1266M1126 818.3H1139M1228 818.3H1240M1266 818.3H1291M1304 818.3H1329M1316 820.3H1329M1101 822.3H1114M1164 822.3H1177M1329 822.3H1342M1101 825.3H1114M1101 826.3H1114M1126 826.3H1139M1329 829.3H1342M1126 830.3H1152M1253 830.3H1304M1177 831.3H1190M1101 832.3H1114M1291 832.3H1304M1088 836.3H1126M1152 836.3H1190M1139 837.3H1177M1304 837.3H1316"/>
<path stroke="#b5b5b5" d="M1063 525.0H1076M1278 526.0H1291M1164 528.0H1177M1190 528.0H1215M1152 529.0H1190M1202 529.0H1215M1240 529.0H1266M1050 532.0H1088M1253 532.0H1266M1050 535.0H1101M1190 536.0H1202M1228 536.0H1240M1266 536.0H1278M1190 537.0H1202M1215 537.0H1253M1329 539.0H1342M1266 542.0H1291M1038 544.0H1050M1215 544.0H1228M1240 544.0H1253M1139 546.0H1152M1177 546.0H1215M1240 550.0H1253M1050 551.0H1063M1076 551.0H1088M1177 551.0H1190M1253 551.0H1266M1253 552.0H1266M1304 554.0H1316M1139 555.0H1152M1063 556.0H1101M1164 556.0H1202M1253 557.0H1266M1152 558.0H1164M1202 558.0H1228M1240 558.0H1266M1329 559.0H1342M1215 560.0H1240M1038 563.0H1050M1177 563.0H1190M1202 563.0H1215M1101 566.0H1114M1126 566.0H1152M1304 566.0H1329M1228 570.0H1240M1291 570.0H1304M1304 571.0H1316M1304 572.0H1316M1076 573.0H1088M1152 573.0H1164M1329 573.0H1342M1126 575.0H1139M1164 575.0H1190M1291 577.1H1304M1050 578.1H1088M1278 580.1H1291M1050 581.1H1139M1038 584.1H1050M1177 584.1H1190M1202 584.1H1215M1114 585.1H1126M1101 586.1H1114M1190 586.1H1215M1228 588.1H1240M1291 588.1H1304M1050 594.1H1063M1076 594.1H1088M1190 594.1H1202M1291 594.1H1304M1291 595.1H1304M1215 596.1H1228M1278 598.1H1291M1202 599.1H1215M1190 601.1H1202M1190 604.1H1202M1291 604.1H1304M1253 606.1H1266M1126 608.1H1152M1164 608.1H1190M1177 610.1H1190M1076 614.1H1101M1152 614.1H1177M1316 614.1H1329M1177 616.1H1190M1278 618.1H1304M1329 618.1H1342M1253 621.1H1266M1240 622.1H1253M1190 624.1H1202M1278 624.1H1291M1076 625.1H1088M1050 626.1H1101M1253 626.1H1278M1291 626.1H1304M1316 626.1H1342M1076 627.1H1101M1177 627.1H1190M1253 627.1H1291M1164 628.1H1177M1152 629.1H1164M1253 631.1H1266M1164 632.1H1177M1164 639.1H1177M1240 645.1H1266M1164 646.1H1177M1139 649.1H1152M1240 651.1H1253M1266 651.1H1291M1038 653.1H1076M1139 653.1H1152M1253 653.1H1278M1291 653.1H1304M1088 654.1H1126M1253 654.1H1266M1291 654.1H1304M1152 655.1H1164M1063 656.1H1076M1101 656.1H1114M1253 656.1H1266M1278 656.1H1291M1139 657.1H1152M1215 666.1H1228M1215 667.1H1228M1088 669.1H1101M1114 669.1H1126M1139 669.1H1152M1228 669.1H1240M1291 669.1H1304M1139 671.1H1152M1139 677.1H1152M1050 678.1H1076M1253 678.1H1304M1139 679.1H1152M1126 680.1H1139M1215 680.1H1228M1126 684.2H1139M1038 686.2H1076M1202 686.2H1215M1266 686.2H1316M1050 687.2H1076M1088 687.2H1114M1228 688.2H1240M1063 690.2H1076M1215 690.2H1240M1050 693.2H1063M1076 693.2H1088M1139 693.2H1152M1304 693.2H1316M1063 694.2H1088M1101 694.2H1114M1126 694.2H1139M1228 694.2H1240M1114 695.2H1139M1278 695.2H1291M1139 697.2H1152M1228 697.2H1240M1126 701.2H1139M1139 703.2H1152M1126 704.2H1152M1126 705.2H1152M1215 706.2H1240M1215 708.2H1228M1050 709.2H1063M1088 709.2H1114M1291 709.2H1304M1316 709.2H1329M1202 712.2H1215M1063 713.2H1076M1101 713.2H1152M1126 714.2H1139M1126 716.2H1139M1076 718.2H1088M1126 718.2H1139M1304 718.2H1316M1114 719.2H1126M1114 721.2H1126M1291 721.2H1316M1329 721.2H1342M1038 723.2H1050M1139 723.2H1152M1202 723.2H1215M1126 724.2H1139M1202 731.2H1215M1114 733.2H1126M1076 734.2H1139M1304 734.2H1316M1329 734.2H1342M1063 735.2H1088M1190 735.2H1215M1266 735.2H1291M1190 738.2H1228M1240 738.2H1253M1114 739.2H1126M1240 739.2H1278M1190 742.2H1202M1038 744.2H1076M1240 744.2H1266M1278 744.2H1304M1190 745.2H1202M1190 747.2H1202M1329 748.2H1342M1190 749.2H1202M1126 755.2H1139M1114 757.2H1126M1215 761.2H1253M1063 764.2H1076M1063 765.2H1076M1164 765.2H1190M1316 765.2H1329M1177 766.2H1202M1228 766.2H1240M1266 766.2H1278M1139 767.2H1152M1050 771.2H1063M1139 772.2H1152M1063 775.2H1076M1126 775.2H1139M1139 776.2H1164M1177 776.2H1190M1316 776.2H1329M1126 777.2H1139M1278 778.2H1304M1126 780.2H1139M1177 780.2H1202M1316 780.2H1342M1050 781.2H1063M1114 787.3H1139M1152 787.3H1164M1190 787.3H1215M1240 787.3H1253M1152 789.3H1164M1038 790.3H1050M1101 793.3H1114M1190 793.3H1215M1266 793.3H1278M1114 795.3H1126M1038 796.3H1050M1101 797.3H1114M1304 802.3H1316M1101 805.3H1114M1152 806.3H1190M1304 806.3H1316M1038 809.3H1050M1101 809.3H1126M1202 809.3H1240M1266 809.3H1291M1329 811.3H1342M1126 814.3H1139M1164 814.3H1228M1240 814.3H1253M1164 815.3H1177M1190 815.3H1215M1266 815.3H1304M1316 817.3H1329M1202 818.3H1228M1240 818.3H1253M1088 822.3H1101M1101 824.3H1114M1329 824.3H1342M1139 826.3H1177M1190 826.3H1202M1215 826.3H1240M1253 826.3H1316M1088 827.3H1101M1101 830.3H1126M1215 833.3H1228M1240 833.3H1253M1126 836.3H1152M1101 837.3H1139"/>
<path stroke="#adadad" d="M1050 526.0H1063M1063 527.0H1076M1177 528.0H1190M1101 529.0H1114M1126 529.0H1152M1278 529.0H1304M1038 531.0H1050M1291 531.0H1304M1266 532.0H1291M1038 534.0H1050M1101 535.0H1126M1164 535.0H1177M1266 535.0H1278M1215 536.0H1228M1329 536.0H1342M1050 537.0H1088M1164 537.0H1190M1266 538.0H1278M1038 540.0H1050M1152 542.0H1164M1228 542.0H1266M1050 544.0H1101M1177 544.0H1190M1202 544.0H1215M1228 544.0H1240M1126 546.0H1139M1152 546.0H1177M1215 546.0H1240M1329 548.0H1342M1088 551.0H1101M1152 551.0H1177M1316 551.0H1342M1329 552.0H1342M1114 555.0H1139M1152 555.0H1164M1038 556.0H1063M1202 556.0H1240M1164 558.0H1202M1228 558.0H1240M1050 560.0H1063M1190 560.0H1215M1304 562.0H1316M1215 563.0H1228M1215 564.0H1228M1291 569.0H1304M1228 571.0H1240M1050 573.0H1076M1164 573.0H1202M1139 575.0H1164M1278 576.0H1291M1088 578.1H1101M1114 578.1H1126M1038 582.1H1063M1202 582.1H1215M1063 584.1H1076M1152 584.1H1177M1126 586.1H1139M1152 586.1H1177M1329 586.1H1342M1291 589.1H1304M1228 593.1H1240M1063 594.1H1076M1101 594.1H1114M1152 594.1H1164M1177 594.1H1190M1266 594.1H1278M1304 594.1H1316M1278 597.1H1291M1177 609.1H1190M1190 611.1H1202M1177 613.1H1190M1253 614.1H1278M1253 617.1H1266M1038 618.1H1050M1076 618.1H1088M1253 618.1H1278M1304 618.1H1316M1177 619.1H1190M1240 625.1H1253M1177 626.1H1190M1038 627.1H1076M1177 628.1H1190M1177 634.1H1190M1240 634.1H1253M1101 640.1H1114M1126 640.1H1139M1164 641.1H1177M1304 651.1H1342M1152 652.1H1164M1228 653.1H1240M1266 654.1H1291M1253 655.1H1266M1228 659.1H1240M1240 660.1H1253M1164 662.1H1177M1240 664.1H1253M1152 675.1H1164M1215 675.1H1228M1202 679.1H1215M1215 685.2H1228M1152 686.2H1164M1215 686.2H1253M1126 687.2H1139M1139 690.2H1152M1114 694.2H1126M1038 695.2H1050M1101 695.2H1114M1266 695.2H1278M1215 696.2H1228M1126 699.2H1139M1215 701.2H1228M1139 702.2H1152M1228 702.2H1240M1038 704.2H1050M1088 704.2H1126M1228 704.2H1266M1278 704.2H1291M1329 704.2H1342M1063 709.2H1076M1114 709.2H1126M1266 709.2H1291M1329 709.2H1342M1126 710.2H1139M1215 711.2H1228M1215 716.2H1228M1038 718.2H1076M1215 718.2H1228M1316 718.2H1342M1050 724.2H1076M1101 724.2H1114M1202 724.2H1240M1114 725.2H1139M1240 725.2H1266M1316 725.2H1342M1126 728.2H1139M1190 731.2H1202M1215 731.2H1240M1050 734.2H1063M1202 734.2H1215M1088 735.2H1101M1215 736.2H1228M1126 739.2H1139M1215 739.2H1228M1126 740.2H1139M1202 743.2H1215M1316 743.2H1342M1215 744.2H1240M1266 744.2H1278M1329 744.2H1342M1114 751.2H1126M1114 752.2H1126M1215 755.2H1228M1190 756.2H1202M1101 757.2H1114M1202 757.2H1228M1266 757.2H1278M1114 759.2H1126M1266 761.2H1291M1329 763.2H1342M1050 765.2H1063M1076 765.2H1088M1240 765.2H1253M1088 766.2H1101M1215 766.2H1228M1076 767.2H1088M1139 774.2H1152M1164 776.2H1177M1304 776.2H1316M1038 778.2H1050M1253 778.2H1278M1316 778.2H1329M1202 780.2H1215M1304 780.2H1316M1063 782.2H1076M1050 783.2H1063M1050 787.3H1063M1139 787.3H1152M1177 787.3H1190M1215 787.3H1228M1253 787.3H1266M1126 790.3H1139M1038 791.3H1050M1101 791.3H1114M1177 793.3H1190M1278 793.3H1291M1114 796.3H1126M1038 798.3H1050M1316 802.3H1329M1329 806.3H1342M1291 809.3H1304M1076 810.3H1088M1329 812.3H1342M1076 813.3H1088M1329 813.3H1342M1152 814.3H1164M1329 814.3H1342M1139 815.3H1164M1253 815.3H1266M1101 818.3H1114M1253 818.3H1266M1177 826.3H1190M1202 826.3H1215M1240 826.3H1253M1076 830.3H1101M1304 830.3H1329M1164 831.3H1177M1202 831.3H1266M1291 831.3H1304M1177 833.3H1190M1228 833.3H1240M1253 833.3H1291M1304 833.3H1316M1329 834.3H1342M1316 835.3H1329M1316 836.3H1329"/>
<path stroke="#a5a5a5" d="M1291 525.0H1304M1050 529.0H1063M1076 529.0H1101M1114 529.0H1126M1101 532.0H1114M1215 532.0H1240M1063 533.0H1076M1278 533.0H1291M1126 535.0H1164M1190 535.0H1202M1228 535.0H1266M1038 537.0H1050M1088 537.0H1126M1139 537.0H1164M1266 539.0H1278M1266 541.0H1278M1038 542.0H1050M1101 542.0H1114M1215 542.0H1228M1101 544.0H1177M1190 544.0H1202M1316 544.0H1329M1266 545.0H1278M1316 546.0H1329M1316 547.0H1329M1304 550.0H1316M1101 551.0H1152M1266 551.0H1278M1240 554.0H1253M1164 555.0H1190M1266 555.0H1278M1240 556.0H1253M1063 560.0H1088M1164 560.0H1190M1329 560.0H1342M1063 563.0H1076M1152 563.0H1177M1316 563.0H1342M1202 564.0H1215M1329 567.0H1342M1038 573.0H1050M1202 573.0H1240M1228 577.1H1240M1101 578.1H1114M1126 578.1H1139M1152 578.1H1164M1177 578.1H1228M1101 579.1H1114M1126 579.1H1139M1063 582.1H1101M1291 582.1H1304M1215 583.1H1228M1076 584.1H1101M1139 584.1H1152M1316 584.1H1342M1202 585.1H1215M1139 586.1H1152M1177 586.1H1190M1278 586.1H1291M1278 587.1H1291M1202 589.1H1215M1088 594.1H1101M1139 594.1H1152M1316 594.1H1342M1202 595.1H1215M1215 597.1H1228M1215 598.1H1228M1278 599.1H1291M1215 600.1H1228M1190 607.1H1202M1088 608.1H1126M1266 608.1H1278M1253 610.1H1266M1266 611.1H1278M1038 614.1H1076M1177 614.1H1202M1164 615.1H1177M1253 615.1H1266M1050 618.1H1076M1088 618.1H1101M1114 618.1H1126M1139 618.1H1164M1240 618.1H1253M1240 619.1H1253M1177 620.1H1190M1164 623.1H1177M1177 625.1H1190M1228 629.1H1240M1240 630.1H1253M1240 639.1H1253M1114 640.1H1126M1228 641.1H1240M1240 643.1H1253M1038 645.1H1050M1228 645.1H1240M1266 645.1H1291M1164 648.1H1177M1038 651.1H1050M1076 651.1H1088M1152 651.1H1164M1240 653.1H1253M1215 662.1H1228M1152 664.1H1164M1139 666.1H1152M1215 671.1H1228M1152 674.1H1164M1164 678.1H1177M1139 680.1H1152M1202 680.1H1215M1114 683.2H1164M1329 683.2H1342M1253 686.2H1266M1202 687.2H1215M1152 688.2H1164M1076 695.2H1101M1240 695.2H1266M1139 696.2H1152M1215 700.2H1228M1050 704.2H1088M1266 704.2H1278M1304 704.2H1329M1038 709.2H1050M1126 709.2H1152M1253 709.2H1266M1139 711.2H1152M1126 712.2H1139M1215 713.2H1228M1202 715.2H1215M1126 717.2H1139M1190 719.2H1202M1038 724.2H1050M1253 724.2H1266M1291 724.2H1304M1038 725.2H1114M1278 725.2H1291M1304 725.2H1316M1240 731.2H1253M1266 731.2H1278M1139 732.2H1152M1038 734.2H1050M1063 734.2H1076M1101 735.2H1126M1291 735.2H1316M1126 736.2H1139M1215 737.2H1228M1114 738.2H1126M1253 738.2H1291M1228 739.2H1240M1215 743.2H1228M1304 743.2H1316M1126 744.2H1139M1304 744.2H1329M1101 745.2H1114M1139 746.2H1152M1177 748.2H1190M1202 751.2H1215M1126 756.2H1139M1088 757.2H1101M1126 757.2H1139M1190 757.2H1202M1228 757.2H1266M1164 761.2H1202M1076 762.2H1088M1164 763.2H1190M1202 763.2H1215M1304 763.2H1329M1126 764.2H1139M1228 765.2H1240M1253 765.2H1266M1291 765.2H1304M1126 768.2H1139M1126 771.2H1139M1076 772.2H1088M1063 776.2H1076M1190 776.2H1202M1291 776.2H1304M1202 778.2H1215M1228 778.2H1253M1038 780.2H1050M1215 780.2H1228M1240 780.2H1266M1291 780.2H1304M1126 782.2H1139M1063 784.2H1076M1126 784.2H1139M1114 785.2H1126M1088 786.3H1101M1228 787.3H1240M1266 787.3H1278M1050 788.3H1063M1126 788.3H1139M1038 792.3H1050M1088 793.3H1101M1126 793.3H1152M1164 793.3H1177M1291 793.3H1329M1101 794.3H1114M1038 801.3H1050M1114 802.3H1126M1278 802.3H1304M1101 803.3H1114M1101 804.3H1114M1038 805.3H1050M1101 806.3H1114M1038 807.3H1050M1126 809.3H1152M1177 809.3H1202M1316 809.3H1342M1316 810.3H1329M1114 815.3H1139M1304 815.3H1342M1316 816.3H1329M1076 817.3H1088M1088 820.3H1101M1316 821.3H1329M1316 823.3H1329M1088 829.3H1101M1152 831.3H1164M1190 831.3H1202M1266 831.3H1291M1126 833.3H1152M1164 833.3H1177M1190 833.3H1215M1291 833.3H1304M1316 837.3H1329"/>
<path stroke="#9c9c9c" d="M1291 527.0H1304M1038 529.0H1050M1291 530.0H1304M1088 532.0H1101M1114 532.0H1126M1202 532.0H1215M1177 535.0H1190M1202 535.0H1228M1278 536.0H1291M1126 537.0H1139M1050 538.0H1063M1329 541.0H1342M1050 542.0H1101M1126 542.0H1152M1164 542.0H1215M1329 542.0H1342M1329 545.0H1342M1101 555.0H1114M1190 555.0H1202M1329 555.0H1342M1253 556.0H1266M1316 557.0H1329M1088 560.0H1101M1114 560.0H1164M1050 563.0H1063M1076 563.0H1088M1139 563.0H1152M1050 564.0H1063M1190 564.0H1202M1228 564.0H1253M1228 572.0H1240M1291 574.0H1304M1215 575.0H1228M1139 578.1H1152M1291 579.1H1304M1316 579.1H1342M1215 580.1H1228M1228 581.1H1240M1101 582.1H1114M1101 584.1H1126M1278 584.1H1291M1304 584.1H1316M1215 586.1H1228M1215 591.1H1228M1278 593.1H1291M1114 594.1H1139M1164 594.1H1177M1278 600.1H1291M1177 606.1H1190M1038 608.1H1088M1278 608.1H1304M1202 612.1H1215M1253 616.1H1266M1101 618.1H1114M1126 618.1H1139M1164 618.1H1177M1240 627.1H1253M1240 632.1H1253M1215 633.1H1228M1228 635.1H1240M1152 636.1H1164M1152 640.1H1164M1228 642.1H1240M1164 644.1H1177M1050 645.1H1076M1291 645.1H1316M1228 650.1H1240M1050 651.1H1076M1101 651.1H1152M1050 658.1H1063M1152 660.1H1164M1215 665.1H1228M1152 667.1H1164M1164 668.1H1177M1177 670.1H1190M1215 672.1H1228M1139 673.1H1152M1304 683.2H1329M1126 685.2H1139M1139 687.2H1152M1202 690.2H1215M1152 691.2H1164M1063 695.2H1076M1164 695.2H1177M1228 695.2H1240M1215 698.2H1228M1215 699.2H1228M1152 704.2H1164M1291 704.2H1304M1202 707.2H1215M1126 708.2H1139M1228 709.2H1253M1139 715.2H1152M1202 720.2H1215M1126 721.2H1139M1202 721.2H1215M1139 724.2H1152M1240 724.2H1253M1266 724.2H1291M1266 725.2H1278M1291 725.2H1304M1202 726.2H1215M1177 727.2H1190M1139 730.2H1152M1050 731.2H1063M1278 731.2H1291M1139 734.2H1152M1126 735.2H1139M1329 735.2H1342M1063 738.2H1088M1101 738.2H1114M1316 738.2H1329M1038 743.2H1050M1114 743.2H1152M1228 743.2H1240M1291 743.2H1304M1190 746.2H1202M1114 749.2H1126M1190 750.2H1202M1177 752.2H1190M1126 754.2H1139M1038 757.2H1063M1076 757.2H1088M1114 758.2H1126M1038 761.2H1063M1152 761.2H1164M1202 761.2H1215M1291 761.2H1304M1190 763.2H1202M1152 765.2H1164M1266 765.2H1278M1304 765.2H1316M1076 768.2H1088M1202 776.2H1215M1228 776.2H1253M1278 776.2H1291M1063 777.2H1076M1190 778.2H1202M1215 778.2H1228M1114 779.2H1126M1228 780.2H1240M1266 780.2H1291M1038 787.3H1050M1278 787.3H1304M1114 793.3H1126M1152 793.3H1164M1329 793.3H1342M1050 794.3H1063M1316 799.3H1329M1050 800.3H1063M1101 800.3H1114M1101 802.3H1114M1126 802.3H1164M1253 802.3H1278M1329 804.3H1342M1152 809.3H1177M1304 809.3H1316M1088 812.3H1101M1088 816.3H1101M1088 819.3H1101M1114 819.3H1139M1316 819.3H1329M1076 821.3H1088M1076 822.3H1088M1076 823.3H1088M1038 825.3H1050M1076 826.3H1088M1329 827.3H1342M1088 831.3H1101M1126 831.3H1152M1304 832.3H1316M1152 833.3H1164M1316 833.3H1342M1088 834.3H1101"/>
<path stroke="#949494" d="M1038 528.0H1050M1063 529.0H1076M1038 530.0H1050M1139 532.0H1152M1190 532.0H1202M1253 540.0H1266M1114 542.0H1126M1266 549.0H1278M1329 549.0H1342M1266 553.0H1278M1088 555.0H1101M1253 555.0H1266M1278 555.0H1291M1253 559.0H1266M1316 560.0H1329M1240 561.0H1253M1316 561.0H1329M1240 562.0H1253M1088 563.0H1139M1038 564.0H1050M1063 564.0H1076M1291 565.0H1304M1228 566.0H1240M1316 568.0H1329M1278 573.0H1291M1215 574.0H1228M1164 578.1H1177M1278 578.1H1291M1088 579.1H1101M1114 579.1H1126M1139 579.1H1152M1164 579.1H1177M1304 579.1H1316M1114 582.1H1126M1177 582.1H1202M1316 582.1H1329M1291 583.1H1304M1126 584.1H1139M1291 584.1H1304M1278 585.1H1291M1253 601.1H1266M1177 602.1H1190M1253 602.1H1266M1202 603.1H1215M1190 608.1H1202M1253 608.1H1266M1304 608.1H1316M1253 612.1H1266M1190 616.1H1202M1164 617.1H1177M1228 623.1H1240M1177 630.1H1190M1164 633.1H1177M1190 637.1H1202M1190 638.1H1202M1050 640.1H1101M1139 640.1H1152M1164 640.1H1177M1177 643.1H1190M1177 647.1H1190M1177 650.1H1190M1088 651.1H1101M1164 651.1H1177M1215 652.1H1228M1164 654.1H1177M1215 654.1H1228M1202 656.1H1215M1038 658.1H1050M1215 658.1H1228M1164 659.1H1177M1152 661.1H1164M1152 665.1H1164M1152 672.1H1164M1228 673.1H1240M1228 674.1H1240M1164 676.1H1177M1202 676.1H1215M1202 677.1H1215M1202 681.1H1215M1215 682.2H1228M1278 683.2H1304M1202 684.2H1215M1215 691.2H1228M1139 694.2H1152M1050 695.2H1063M1215 695.2H1228M1152 706.2H1164M1152 707.2H1164M1215 709.2H1228M1304 724.2H1316M1329 724.2H1342M1126 727.2H1139M1190 728.2H1202M1202 730.2H1215M1038 731.2H1050M1253 731.2H1266M1316 735.2H1329M1152 737.2H1164M1038 738.2H1063M1177 738.2H1190M1291 738.2H1316M1329 738.2H1342M1139 739.2H1152M1190 740.2H1202M1139 741.2H1152M1202 741.2H1215M1050 743.2H1076M1101 743.2H1114M1253 743.2H1291M1190 754.2H1202M1063 757.2H1076M1278 757.2H1316M1164 758.2H1177M1177 759.2H1190M1101 760.2H1114M1088 761.2H1101M1304 761.2H1316M1329 761.2H1342M1139 762.2H1152M1038 763.2H1050M1076 763.2H1088M1215 763.2H1253M1266 763.2H1304M1278 765.2H1291M1063 773.2H1076M1038 776.2H1063M1215 776.2H1228M1266 776.2H1278M1126 778.2H1152M1164 778.2H1190M1038 786.3H1050M1304 787.3H1342M1063 789.3H1076M1038 793.3H1050M1329 795.3H1342M1038 797.3H1050M1164 802.3H1177M1202 802.3H1215M1240 802.3H1253M1114 807.3H1126M1088 811.3H1101M1088 814.3H1101M1101 815.3H1114M1101 819.3H1114M1139 819.3H1152M1177 819.3H1202M1278 819.3H1291M1329 819.3H1342M1329 820.3H1342M1329 828.3H1342M1329 830.3H1342M1114 831.3H1126M1304 831.3H1316M1088 832.3H1101M1063 835.3H1076"/>
<path stroke="#8c8c8c" d="M1050 525.0H1063M1291 526.0H1304M1304 528.0H1316M1304 529.0H1316M1177 532.0H1190M1278 535.0H1291M1278 537.0H1291M1253 544.0H1266M1266 548.0H1278M1253 550.0H1266M1266 552.0H1278M1329 553.0H1342M1038 555.0H1050M1063 555.0H1076M1202 555.0H1240M1278 558.0H1291M1316 559.0H1329M1101 560.0H1114M1076 564.0H1101M1177 564.0H1190M1291 566.0H1304M1253 567.0H1266M1253 568.0H1266M1240 569.0H1253M1253 575.0H1266M1240 576.0H1253M1228 578.1H1240M1152 579.1H1164M1152 582.1H1177M1304 582.1H1316M1329 582.1H1342M1278 588.1H1291M1278 591.1H1291M1202 592.1H1215M1278 595.1H1291M1253 603.1H1266M1253 605.1H1266M1240 606.1H1253M1316 608.1H1342M1253 613.1H1266M1240 614.1H1253M1228 620.1H1240M1240 628.1H1253M1177 635.1H1190M1240 637.1H1253M1177 640.1H1215M1076 645.1H1101M1139 645.1H1152M1316 645.1H1342M1240 647.1H1253M1215 657.1H1228M1063 658.1H1076M1304 658.1H1316M1202 661.1H1215M1139 663.1H1152M1202 666.1H1215M1177 669.1H1190M1228 670.1H1240M1152 671.1H1164M1228 678.1H1240M1152 682.2H1164M1088 683.2H1114M1215 689.2H1228M1152 698.2H1164M1152 700.2H1164M1190 703.2H1202M1202 705.2H1215M1202 706.2H1215M1202 708.2H1215M1190 709.2H1215M1202 710.2H1215M1202 714.2H1215M1202 717.2H1215M1139 720.2H1152M1139 722.2H1152M1202 722.2H1215M1316 724.2H1329M1139 725.2H1152M1202 725.2H1215M1190 729.2H1202M1063 731.2H1101M1114 731.2H1126M1291 731.2H1329M1126 733.2H1139M1202 733.2H1215M1139 735.2H1152M1088 738.2H1101M1202 739.2H1215M1126 742.2H1139M1076 743.2H1101M1240 743.2H1253M1177 745.2H1190M1126 747.2H1139M1316 757.2H1342M1063 761.2H1088M1316 761.2H1329M1050 763.2H1076M1088 763.2H1101M1152 763.2H1164M1253 763.2H1266M1139 766.2H1152M1076 770.2H1088M1126 770.2H1139M1126 773.2H1139M1063 774.2H1076M1253 776.2H1266M1114 777.2H1126M1152 778.2H1164M1050 780.2H1063M1101 781.2H1114M1063 785.2H1076M1278 799.3H1291M1329 799.3H1342M1177 802.3H1190M1215 802.3H1240M1038 803.3H1050M1076 808.3H1088M1329 818.3H1342M1228 819.3H1253M1266 819.3H1278M1291 819.3H1304M1076 828.3H1088M1101 831.3H1114M1316 831.3H1342M1101 833.3H1126M1076 836.3H1088"/>
<path stroke="#848484" d="M1304 531.0H1316M1329 531.0H1342M1126 532.0H1139M1152 532.0H1177M1278 534.0H1291M1038 535.0H1050M1316 539.0H1329M1278 541.0H1291M1316 541.0H1329M1266 547.0H1278M1304 551.0H1316M1316 552.0H1329M1050 555.0H1063M1076 555.0H1088M1240 555.0H1253M1304 556.0H1316M1240 560.0H1253M1304 563.0H1316M1139 564.0H1152M1291 571.0H1304M1278 577.1H1291M1177 579.1H1190M1126 582.1H1152M1215 584.1H1228M1240 588.1H1253M1215 590.1H1228M1266 590.1H1278M1266 592.1H1278M1278 596.1H1291M1202 604.1H1215M1278 604.1H1291M1215 605.1H1228M1253 607.1H1266M1228 609.1H1240M1190 610.1H1202M1228 618.1H1240M1177 621.1H1190M1240 621.1H1253M1202 636.1H1215M1240 638.1H1253M1177 639.1H1190M1038 640.1H1050M1177 642.1H1190M1126 645.1H1139M1152 645.1H1164M1215 648.1H1228M1215 649.1H1228M1228 651.1H1240M1164 652.1H1177M1215 653.1H1228M1164 655.1H1177M1152 657.1H1164M1076 658.1H1088M1228 658.1H1240M1316 658.1H1342M1215 659.1H1228M1177 662.1H1190M1190 663.1H1202M1152 666.1H1164M1038 683.2H1050M1076 683.2H1088M1228 683.2H1240M1253 683.2H1278M1152 687.2H1164M1190 687.2H1202M1126 689.2H1152M1228 689.2H1240M1139 692.2H1152M1202 693.2H1215M1215 694.2H1228M1152 697.2H1164M1215 697.2H1228M1152 709.2H1164M1152 713.2H1164M1139 716.2H1152M1139 718.2H1152M1126 719.2H1139M1190 724.2H1202M1101 731.2H1114M1329 731.2H1342M1202 732.2H1215M1126 738.2H1139M1114 748.2H1126M1139 753.2H1152M1190 753.2H1202M1139 757.2H1152M1177 757.2H1190M1126 758.2H1139M1139 760.2H1152M1101 761.2H1114M1101 766.2H1114M1076 769.2H1088M1126 776.2H1139M1050 778.2H1063M1063 779.2H1076M1063 787.3H1076M1101 787.3H1114M1139 789.3H1152M1076 792.3H1088M1050 796.3H1063M1101 796.3H1114M1076 798.3H1088M1215 799.3H1228M1253 799.3H1266M1291 799.3H1316M1101 801.3H1114M1190 802.3H1202M1038 808.3H1050M1038 814.3H1050M1152 819.3H1177M1215 819.3H1228M1253 819.3H1266M1304 819.3H1316M1076 820.3H1088M1038 824.3H1050M1076 827.3H1088M1088 833.3H1101M1088 837.3H1101"/>
<path stroke="#7b7b7b" d="M1304 525.0H1316M1038 526.0H1050M1304 530.0H1316M1329 530.0H1342M1316 531.0H1329M1291 541.0H1316M1304 544.0H1316M1253 546.0H1266M1291 550.0H1304M1278 551.0H1291M1316 555.0H1329M1329 558.0H1342M1291 562.0H1304M1164 564.0H1177M1329 564.0H1342M1278 569.0H1291M1240 570.0H1253M1278 570.0H1291M1240 571.0H1253M1240 573.0H1253M1228 575.0H1253M1253 576.0H1278M1076 579.1H1088M1266 580.1H1278M1266 581.1H1278M1253 588.1H1278M1228 596.1H1240M1228 597.1H1240M1266 597.1H1278M1202 601.1H1215M1240 610.1H1253M1190 622.1H1202M1202 624.1H1215M1266 624.1H1278M1228 626.1H1240M1190 627.1H1202M1190 628.1H1202M1164 629.1H1177M1190 631.1H1202M1177 632.1H1190M1215 640.1H1266M1177 641.1H1190M1228 643.1H1240M1228 644.1H1240M1101 645.1H1126M1215 646.1H1228M1152 649.1H1164M1152 653.1H1164M1177 654.1H1215M1152 656.1H1164M1101 658.1H1114M1139 658.1H1152M1240 658.1H1266M1190 662.1H1215M1228 664.1H1240M1215 668.1H1228M1215 669.1H1228M1202 671.1H1215M1202 672.1H1215M1177 676.1H1202M1152 677.1H1164M1050 683.2H1076M1240 683.2H1253M1139 684.2H1152M1190 686.2H1202M1076 689.2H1126M1202 689.2H1215M1266 689.2H1278M1152 690.2H1164M1177 695.2H1190M1202 695.2H1215M1139 699.2H1152M1139 701.2H1152M1215 704.2H1228M1152 705.2H1164M1164 709.2H1190M1190 712.2H1202M1139 714.2H1152M1152 715.2H1164M1190 715.2H1202M1202 718.2H1215M1152 724.2H1164M1152 726.2H1164M1139 728.2H1152M1139 729.2H1152M1152 730.2H1164M1177 742.2H1190M1139 755.2H1152M1152 757.2H1177M1139 758.2H1164M1139 761.2H1152M1126 767.2H1139M1114 769.2H1126M1126 772.2H1139M1076 776.2H1088M1114 780.2H1126M1050 790.3H1063M1050 792.3H1076M1101 795.3H1114M1050 798.3H1063M1266 799.3H1278M1329 802.3H1342M1038 806.3H1050M1050 809.3H1063M1088 809.3H1101M1038 813.3H1050M1063 813.3H1076M1202 819.3H1215M1038 820.3H1050M1038 822.3H1050M1329 823.3H1342M1088 824.3H1101M1088 825.3H1101M1316 826.3H1329M1038 827.3H1050M1038 829.3H1050M1076 831.3H1088M1038 834.3H1050"/>
<path stroke="#737373" d="M1050 527.0H1063M1316 528.0H1342M1316 529.0H1342M1316 530.0H1329M1038 532.0H1050M1291 532.0H1304M1050 533.0H1063M1329 537.0H1342M1278 538.0H1291M1278 539.0H1291M1329 540.0H1342M1291 542.0H1304M1038 543.0H1050M1266 543.0H1278M1266 544.0H1278M1304 547.0H1316M1316 548.0H1329M1278 549.0H1291M1316 549.0H1329M1266 550.0H1291M1291 551.0H1304M1278 552.0H1291M1304 552.0H1316M1291 555.0H1316M1266 557.0H1278M1228 563.0H1240M1101 564.0H1139M1304 564.0H1316M1253 565.0H1266M1291 572.0H1304M1253 573.0H1278M1240 577.1H1253M1063 579.1H1076M1190 579.1H1202M1215 579.1H1240M1240 581.1H1253M1215 582.1H1228M1266 586.1H1278M1228 587.1H1240M1278 589.1H1291M1228 591.1H1240M1240 593.1H1253M1266 593.1H1278M1202 594.1H1215M1266 598.1H1278M1215 599.1H1228M1228 600.1H1240M1215 603.1H1253M1228 605.1H1253M1190 606.1H1202M1202 608.1H1215M1240 608.1H1253M1215 612.1H1228M1240 612.1H1253M1240 617.1H1253M1228 639.1H1240M1266 640.1H1278M1329 640.1H1342M1215 641.1H1228M1164 645.1H1177M1215 650.1H1228M1177 652.1H1215M1240 655.1H1253M1177 659.1H1190M1164 661.1H1177M1190 661.1H1202M1164 666.1H1177M1190 666.1H1202M1202 667.1H1215M1190 670.1H1202M1164 671.1H1177M1164 672.1H1177M1164 674.1H1177M1164 675.1H1177M1202 675.1H1215M1177 678.1H1190M1152 679.1H1164M1152 681.1H1164M1202 685.2H1215M1164 686.2H1177M1164 687.2H1190M1215 688.2H1228M1063 689.2H1076M1240 689.2H1253M1278 689.2H1291M1190 690.2H1202M1190 692.2H1202M1152 693.2H1164M1190 695.2H1202M1202 701.2H1215M1152 702.2H1164M1215 702.2H1228M1152 703.2H1164M1164 704.2H1177M1164 706.2H1177M1190 706.2H1202M1139 710.2H1152M1164 715.2H1190M1202 716.2H1215M1139 717.2H1152M1177 719.2H1190M1190 720.2H1202M1164 724.2H1190M1139 727.2H1177M1190 730.2H1202M1190 734.2H1202M1164 738.2H1177M1202 744.2H1215M1177 747.2H1190M1177 749.2H1190M1139 750.2H1152M1126 751.2H1139M1177 756.2H1190M1114 760.2H1139M1114 761.2H1126M1088 765.2H1101M1114 766.2H1139M1088 767.2H1101M1063 771.2H1076M1126 774.2H1139M1076 777.2H1088M1101 777.2H1114M1114 778.2H1126M1101 783.2H1114M1076 786.3H1088M1076 793.3H1088M1088 797.3H1101M1063 798.3H1076M1240 799.3H1253M1088 806.3H1101M1063 810.3H1076M1038 811.3H1050M1088 815.3H1101M1329 817.3H1342M1038 819.3H1050M1050 820.3H1076M1329 821.3H1342M1063 823.3H1076M1063 827.3H1076M1038 831.3H1050M1038 833.3H1050M1076 834.3H1088"/>
<path stroke="#6b6b6b" d="M1038 525.0H1050M1316 525.0H1329M1304 526.0H1316M1329 526.0H1342M1291 533.0H1304M1329 534.0H1342M1291 535.0H1304M1316 536.0H1329M1304 539.0H1316M1329 543.0H1342M1278 544.0H1304M1278 547.0H1291M1291 552.0H1304M1278 553.0H1291M1291 554.0H1304M1266 559.0H1278M1152 564.0H1164M1316 564.0H1329M1240 566.0H1253M1316 567.0H1329M1304 568.0H1316M1253 569.0H1278M1278 574.0H1291M1038 579.1H1063M1202 579.1H1215M1253 581.1H1266M1278 582.1H1291M1228 583.1H1240M1266 584.1H1278M1228 586.1H1240M1253 593.1H1266M1215 595.1H1228M1240 597.1H1266M1266 600.1H1278M1202 607.1H1215M1202 610.1H1215M1202 611.1H1215M1228 612.1H1240M1202 616.1H1215M1240 616.1H1253M1177 618.1H1190M1190 620.1H1202M1228 622.1H1240M1228 628.1H1240M1215 629.1H1228M1240 631.1H1253M1190 634.1H1202M1228 634.1H1240M1164 636.1H1177M1202 637.1H1215M1228 637.1H1240M1278 640.1H1304M1316 640.1H1329M1190 641.1H1202M1190 643.1H1202M1215 643.1H1228M1177 646.1H1190M1190 650.1H1215M1088 658.1H1101M1114 658.1H1139M1266 658.1H1278M1291 658.1H1304M1190 659.1H1215M1228 660.1H1240M1177 661.1H1190M1164 664.1H1177M1177 666.1H1190M1190 669.1H1215M1215 670.1H1228M1177 671.1H1202M1177 672.1H1202M1190 680.1H1202M1177 686.2H1190M1253 689.2H1266M1291 689.2H1304M1164 690.2H1190M1202 696.2H1215M1202 698.2H1215M1177 706.2H1190M1164 707.2H1177M1190 707.2H1202M1202 711.2H1215M1202 713.2H1215M1152 720.2H1164M1190 723.2H1202M1177 728.2H1190M1164 730.2H1190M1177 731.2H1190M1177 735.2H1190M1139 736.2H1152M1202 736.2H1215M1139 738.2H1164M1139 740.2H1152M1126 752.2H1139M1202 755.2H1215M1139 756.2H1152M1126 761.2H1139M1088 772.2H1101M1088 776.2H1101M1114 776.2H1126M1088 777.2H1101M1063 781.2H1076M1076 782.2H1088M1114 782.2H1126M1050 786.3H1063M1063 788.3H1076M1114 788.3H1126M1114 790.3H1126M1050 791.3H1063M1088 791.3H1101M1050 793.3H1076M1063 796.3H1076M1088 796.3H1101M1063 800.3H1076M1088 800.3H1101M1088 804.3H1101M1050 807.3H1063M1329 810.3H1342M1050 813.3H1063M1050 814.3H1088M1038 815.3H1050M1088 818.3H1101M1063 821.3H1076M1063 822.3H1076M1038 823.3H1063M1050 827.3H1063M1050 831.3H1076M1050 834.3H1076M1329 837.3H1342"/>
<path stroke="#636363" d="M1329 525.0H1342M1316 526.0H1329M1329 535.0H1342M1291 536.0H1304M1291 537.0H1304M1291 539.0H1304M1316 542.0H1329M1076 543.0H1088M1253 543.0H1266M1291 547.0H1304M1278 548.0H1291M1304 548.0H1316M1291 549.0H1316M1316 553.0H1329M1266 556.0H1278M1304 557.0H1316M1278 559.0H1291M1304 559.0H1316M1253 562.0H1266M1278 565.0H1291M1278 566.0H1291M1266 568.0H1278M1253 570.0H1278M1228 574.0H1240M1253 577.1H1278M1266 578.1H1278M1228 580.1H1240M1215 585.1H1228M1240 586.1H1266M1215 589.1H1228M1266 591.1H1278M1240 600.1H1266M1240 601.1H1253M1202 606.1H1215M1228 606.1H1240M1215 608.1H1240M1190 609.1H1202M1215 610.1H1240M1253 611.1H1266M1190 613.1H1202M1202 614.1H1215M1177 615.1H1190M1240 615.1H1253M1190 619.1H1202M1215 620.1H1228M1190 626.1H1202M1228 627.1H1240M1202 628.1H1215M1228 632.1H1240M1177 636.1H1202M1215 637.1H1228M1202 638.1H1215M1190 639.1H1202M1215 639.1H1228M1304 640.1H1316M1202 641.1H1215M1215 642.1H1228M1202 643.1H1215M1202 658.1H1215M1278 658.1H1291M1164 660.1H1177M1202 670.1H1215M1152 673.1H1164M1215 674.1H1228M1177 675.1H1202M1190 678.1H1202M1215 678.1H1228M1190 679.1H1202M1152 680.1H1164M1139 685.2H1152M1038 689.2H1063M1152 689.2H1164M1304 689.2H1342M1152 696.2H1164M1177 703.2H1190M1177 704.2H1190M1202 704.2H1215M1177 707.2H1190M1139 712.2H1152M1139 719.2H1152M1152 722.2H1164M1190 722.2H1202M1152 723.2H1164M1152 728.2H1164M1152 734.2H1164M1202 737.2H1215M1139 742.2H1152M1190 743.2H1202M1139 744.2H1152M1152 746.2H1164M1164 748.2H1177M1190 751.2H1202M1126 759.2H1139M1088 762.2H1101M1126 762.2H1139M1076 764.2H1088M1139 765.2H1152M1101 767.2H1126M1088 768.2H1101M1114 768.2H1126M1114 772.2H1126M1076 775.2H1088M1114 775.2H1126M1101 776.2H1114M1063 786.3H1076M1076 787.3H1101M1088 794.3H1101M1076 796.3H1088M1038 799.3H1050M1228 799.3H1240M1076 800.3H1088M1088 802.3H1101M1088 803.3H1101M1038 804.3H1050M1088 805.3H1101M1050 808.3H1076M1329 816.3H1342M1063 817.3H1076M1038 821.3H1050M1050 822.3H1063M1038 828.3H1050M1063 828.3H1076M1063 830.3H1076M1316 832.3H1329M1329 835.3H1342M1329 836.3H1342"/>
<path stroke="#5a5a5a" d="M1304 527.0H1316M1304 535.0H1329M1304 536.0H1316M1304 537.0H1329M1038 538.0H1050M1304 542.0H1316M1050 543.0H1076M1202 543.0H1215M1228 543.0H1253M1278 543.0H1291M1291 548.0H1304M1291 553.0H1316M1278 557.0H1291M1291 559.0H1304M1253 561.0H1266M1304 561.0H1316M1278 562.0H1291M1253 564.0H1266M1266 565.0H1278M1253 566.0H1278M1278 568.0H1304M1240 578.1H1253M1278 579.1H1291M1278 583.1H1291M1228 584.1H1240M1240 591.1H1266M1253 594.1H1266M1266 595.1H1278M1215 601.1H1228M1190 602.1H1202M1240 602.1H1253M1215 606.1H1228M1215 616.1H1240M1215 618.1H1228M1202 620.1H1215M1228 625.1H1240M1202 627.1H1228M1215 628.1H1228M1177 633.1H1190M1202 633.1H1215M1202 634.1H1228M1215 635.1H1228M1228 638.1H1240M1202 639.1H1215M1190 642.1H1202M1177 651.1H1190M1202 657.1H1215M1164 667.1H1177M1215 673.1H1228M1190 677.1H1202M1202 678.1H1215M1164 683.2H1177M1164 688.2H1177M1164 698.2H1177M1202 699.2H1215M1164 703.2H1177M1190 704.2H1202M1139 708.2H1152M1152 711.2H1164M1190 717.2H1202M1152 718.2H1164M1152 719.2H1177M1164 720.2H1190M1152 725.2H1164M1190 725.2H1202M1164 728.2H1177M1152 735.2H1177M1164 737.2H1177M1152 742.2H1177M1114 745.2H1126M1177 746.2H1190M1126 749.2H1139M1139 754.2H1152M1152 756.2H1177M1101 763.2H1114M1139 763.2H1152M1101 768.2H1114M1088 769.2H1114M1114 771.2H1126M1101 772.2H1114M1063 783.2H1076M1101 785.2H1114M1063 794.3H1076M1038 795.3H1050M1101 799.3H1126M1152 799.3H1164M1177 799.3H1190M1202 799.3H1215M1050 806.3H1063M1076 806.3H1088M1038 810.3H1063M1076 811.3H1088M1038 812.3H1050M1076 816.3H1088M1050 821.3H1063M1050 824.3H1063M1076 824.3H1088M1063 826.3H1076M1050 828.3H1063M1038 830.3H1050M1076 832.3H1088M1050 835.3H1063"/>
<path stroke="#525252" d="M1266 540.0H1278M1088 543.0H1114M1126 543.0H1152M1164 543.0H1177M1190 543.0H1202M1215 543.0H1228M1278 545.0H1291M1304 546.0H1316M1253 554.0H1266M1278 556.0H1304M1291 557.0H1304M1291 558.0H1304M1304 560.0H1316M1266 562.0H1278M1291 564.0H1304M1253 571.0H1266M1278 571.0H1291M1240 572.0H1253M1266 574.0H1278M1253 578.1H1266M1240 580.1H1266M1253 584.1H1266M1266 596.1H1278M1228 598.1H1240M1266 599.1H1278M1228 601.1H1240M1240 607.1H1253M1215 609.1H1228M1228 614.1H1240M1177 617.1H1190M1190 618.1H1215M1228 619.1H1240M1177 623.1H1190M1215 626.1H1228M1228 630.1H1240M1190 632.1H1202M1190 633.1H1202M1190 635.1H1202M1215 638.1H1228M1202 642.1H1215M1215 645.1H1228M1177 648.1H1190M1215 651.1H1228M1164 657.1H1177M1164 677.1H1177M1190 681.1H1202M1215 683.2H1228M1190 689.2H1202M1164 697.2H1177M1202 697.2H1215M1177 698.2H1202M1202 700.2H1215M1164 713.2H1177M1152 716.2H1164M1190 718.2H1202M1139 721.2H1152M1190 721.2H1202M1164 722.2H1190M1152 732.2H1164M1139 733.2H1152M1190 733.2H1202M1164 734.2H1190M1190 737.2H1202M1152 739.2H1164M1190 739.2H1202M1177 740.2H1190M1164 746.2H1177M1164 752.2H1177M1177 754.2H1190M1101 762.2H1114M1114 763.2H1139M1114 764.2H1126M1063 778.2H1076M1063 780.2H1076M1076 781.2H1101M1088 782.2H1114M1076 789.3H1088M1063 791.3H1088M1076 794.3H1088M1126 799.3H1152M1190 799.3H1202M1050 803.3H1063M1050 805.3H1063M1063 806.3H1076M1101 807.3H1114M1063 809.3H1088M1050 811.3H1063M1038 817.3H1063M1076 819.3H1088M1063 824.3H1076M1076 829.3H1088M1050 830.3H1063M1050 833.3H1063M1076 833.3H1088M1038 835.3H1050M1076 837.3H1088"/>
<path stroke="#4a4a4a" d="M1291 534.0H1304M1114 543.0H1126M1152 543.0H1164M1316 545.0H1329M1316 558.0H1329M1266 567.0H1278M1266 571.0H1278M1240 574.0H1266M1240 584.1H1253M1266 585.1H1278M1215 592.1H1228M1228 595.1H1240M1253 595.1H1266M1240 596.1H1253M1215 607.1H1228M1202 609.1H1215M1215 614.1H1228M1202 622.1H1215M1190 625.1H1202M1202 626.1H1215M1177 629.1H1190M1202 629.1H1215M1215 632.1H1228M1202 635.1H1215M1177 644.1H1190M1190 646.1H1215M1190 651.1H1215M1202 653.1H1215M1215 664.1H1228M1190 667.1H1202M1177 668.1H1190M1177 674.1H1215M1177 677.1H1190M1164 679.1H1190M1164 680.1H1190M1190 684.2H1202M1190 685.2H1202M1164 689.2H1177M1164 691.2H1177M1190 693.2H1202M1152 694.2H1164M1177 697.2H1202M1152 701.2H1164M1190 708.2H1202M1152 712.2H1164M1177 712.2H1190M1190 713.2H1202M1152 717.2H1164M1164 718.2H1190M1164 725.2H1190M1126 731.2H1139M1177 737.2H1190M1152 740.2H1164M1152 743.2H1164M1126 748.2H1139M1177 750.2H1190M1164 759.2H1177M1114 762.2H1126M1088 770.2H1101M1114 770.2H1126M1076 773.2H1088M1114 773.2H1126M1101 778.2H1114M1101 780.2H1114M1076 784.2H1088M1114 784.2H1126M1076 785.2H1088M1126 789.3H1139M1050 797.3H1063M1164 799.3H1177M1050 801.3H1063M1076 803.3H1088M1050 804.3H1063M1076 804.3H1088M1063 811.3H1076M1050 815.3H1063M1076 815.3H1088M1050 825.3H1063M1063 833.3H1076M1063 836.3H1076"/>
<path stroke="#424242" d="M1038 527.0H1050M1316 527.0H1329M1316 534.0H1329M1177 543.0H1190M1304 558.0H1316M1253 560.0H1266M1291 563.0H1304M1266 564.0H1291M1240 579.1H1253M1240 583.1H1253M1266 587.1H1278M1253 592.1H1266M1240 595.1H1253M1253 596.1H1266M1202 602.1H1215M1228 602.1H1240M1215 604.1H1228M1266 604.1H1278M1228 607.1H1240M1240 613.1H1253M1215 622.1H1228M1215 623.1H1228M1190 629.1H1202M1190 630.1H1202M1202 632.1H1215M1190 647.1H1202M1202 648.1H1215M1202 649.1H1215M1164 653.1H1177M1177 655.1H1190M1177 657.1H1202M1152 658.1H1164M1152 663.1H1164M1177 663.1H1190M1177 664.1H1190M1202 665.1H1215M1177 667.1H1190M1164 681.1H1177M1202 682.2H1215M1152 684.2H1164M1177 689.2H1190M1202 691.2H1215M1164 693.2H1177M1190 701.2H1202M1190 705.2H1202M1190 710.2H1202M1164 712.2H1177M1177 713.2H1190M1190 714.2H1202M1190 716.2H1202M1164 717.2H1190M1190 726.2H1202M1164 739.2H1190M1164 740.2H1177M1152 741.2H1164M1190 741.2H1202M1164 745.2H1177M1139 748.2H1164M1152 754.2H1177M1101 765.2H1114M1126 765.2H1139M1101 770.2H1114M1076 774.2H1088M1076 778.2H1101M1101 779.2H1114M1088 785.2H1101M1076 788.3H1088M1101 788.3H1114M1076 797.3H1088M1088 799.3H1101M1038 802.3H1050M1063 803.3H1076M1063 804.3H1076M1063 807.3H1076M1076 812.3H1088M1063 815.3H1076M1038 818.3H1050M1329 826.3H1342M1050 829.3H1063M1038 837.3H1050"/>
<path stroke="#3a3a3a" d="M1329 527.0H1342M1038 533.0H1050M1304 533.0H1316M1304 534.0H1316M1316 540.0H1329M1316 543.0H1329M1266 561.0H1278M1291 561.0H1304M1266 579.1H1278M1228 582.1H1240M1266 582.1H1278M1266 583.1H1278M1240 598.1H1266M1215 602.1H1228M1215 624.1H1228M1253 624.1H1266M1228 647.1H1240M1190 648.1H1202M1164 649.1H1177M1228 655.1H1240M1190 664.1H1215M1164 665.1H1177M1202 668.1H1215M1177 681.1H1190M1164 682.2H1177M1152 685.2H1164M1152 692.2H1164M1177 693.2H1190M1202 694.2H1215M1152 699.2H1164M1164 700.2H1177M1164 701.2H1190M1164 702.2H1177M1202 702.2H1215M1164 705.2H1177M1164 716.2H1190M1164 723.2H1190M1177 729.2H1190M1190 736.2H1202M1164 749.2H1177M1139 752.2H1164M1152 755.2H1164M1139 759.2H1152M1114 765.2H1126M1076 780.2H1101M1076 783.2H1101M1088 788.3H1101M1088 795.3H1101M1063 797.3H1076M1076 799.3H1088M1088 807.3H1101M1050 819.3H1076M1076 825.3H1088M1050 826.3H1063M1063 829.3H1076M1038 836.3H1050M1050 837.3H1076"/>
<path stroke="#313131" d="M1304 532.0H1316M1329 532.0H1342M1291 538.0H1304M1291 543.0H1304M1291 545.0H1316M1278 554.0H1291M1278 561.0H1291M1240 563.0H1253M1304 567.0H1316M1278 572.0H1291M1253 579.1H1266M1253 583.1H1266M1228 592.1H1253M1215 611.1H1228M1240 611.1H1253M1228 617.1H1240M1202 619.1H1215M1190 621.1H1202M1228 621.1H1240M1202 631.1H1215M1215 644.1H1228M1177 653.1H1202M1190 656.1H1202M1190 658.1H1202M1215 660.1H1228M1164 663.1H1177M1190 668.1H1202M1164 684.2H1190M1164 685.2H1190M1202 688.2H1215M1177 692.2H1190M1164 696.2H1177M1190 696.2H1202M1177 705.2H1190M1152 710.2H1164M1152 714.2H1164M1164 726.2H1177M1152 729.2H1164M1164 731.2H1177M1152 733.2H1164M1177 733.2H1190M1152 736.2H1164M1177 743.2H1190M1190 744.2H1202M1139 747.2H1152M1139 749.2H1152M1152 750.2H1177M1139 751.2H1152M1152 753.2H1164M1177 753.2H1190M1190 755.2H1202M1152 759.2H1164M1088 773.2H1114M1114 774.2H1126M1088 775.2H1114M1076 779.2H1088M1063 790.3H1076M1050 799.3H1063M1076 802.3H1088M1076 805.3H1088M1076 807.3H1088M1076 818.3H1088M1063 825.3H1076M1038 826.3H1050M1063 832.3H1076M1329 832.3H1342M1050 836.3H1063"/>
<path stroke="#292929" d="M1316 533.0H1342M1329 538.0H1342M1278 540.0H1291M1304 543.0H1316M1266 546.0H1278M1266 554.0H1278M1266 560.0H1278M1291 560.0H1304M1278 567.0H1304M1253 572.0H1266M1240 582.1H1266M1228 585.1H1240M1253 585.1H1266M1240 587.1H1253M1228 589.1H1240M1266 589.1H1278M1228 590.1H1240M1253 590.1H1266M1215 594.1H1228M1228 599.1H1240M1228 604.1H1240M1253 604.1H1266M1228 611.1H1240M1202 613.1H1215M1190 615.1H1202M1228 615.1H1240M1215 619.1H1228M1228 624.1H1253M1202 630.1H1228M1177 645.1H1190M1177 649.1H1202M1164 658.1H1190M1177 660.1H1190M1164 673.1H1177M1202 673.1H1215M1177 683.2H1190M1177 688.2H1190M1164 692.2H1177M1177 696.2H1190M1190 699.2H1202M1190 700.2H1202M1177 702.2H1202M1152 708.2H1164M1177 708.2H1190M1164 711.2H1177M1190 711.2H1202M1177 726.2H1190M1164 729.2H1177M1190 732.2H1202M1164 733.2H1177M1177 736.2H1190M1164 743.2H1177M1152 744.2H1164M1152 749.2H1164M1177 751.2H1190M1088 764.2H1114M1076 771.2H1088M1088 789.3H1101M1114 789.3H1126M1101 790.3H1114M1050 795.3H1063M1063 799.3H1076M1088 801.3H1101M1050 802.3H1076M1063 805.3H1076M1038 816.3H1050M1063 816.3H1076"/>
<path stroke="#212121" d="M1316 532.0H1329M1291 540.0H1316M1278 560.0H1291M1266 572.0H1278M1240 585.1H1253M1253 587.1H1266M1240 594.1H1253M1253 599.1H1266M1228 613.1H1240M1190 623.1H1215M1202 625.1H1228M1228 631.1H1240M1190 644.1H1202M1190 655.1H1202M1215 655.1H1228M1164 656.1H1177M1202 660.1H1215M1190 682.2H1202M1202 683.2H1215M1190 688.2H1202M1177 691.2H1202M1164 699.2H1177M1177 700.2H1190M1164 708.2H1177M1164 710.2H1190M1177 711.2H1190M1164 714.2H1190M1152 721.2H1164M1177 721.2H1190M1139 731.2H1164M1164 736.2H1177M1164 741.2H1190M1126 745.2H1139M1164 747.2H1177M1164 755.2H1190M1101 771.2H1114M1088 774.2H1101M1088 779.2H1101M1088 784.2H1114M1101 789.3H1114M1076 795.3H1088M1050 812.3H1076M1050 816.3H1063M1050 818.3H1076M1038 832.3H1063"/>
<path stroke="#191919" d="M1304 538.0H1329M1291 546.0H1304M1253 563.0H1266M1278 563.0H1291M1253 589.1H1266M1228 594.1H1240M1240 599.1H1253M1240 604.1H1253M1215 613.1H1228M1202 615.1H1228M1190 617.1H1202M1215 617.1H1228M1215 631.1H1228M1202 644.1H1215M1202 645.1H1215M1202 647.1H1228M1202 655.1H1215M1177 656.1H1190M1190 660.1H1202M1177 665.1H1202M1177 673.1H1202M1177 682.2H1190M1190 683.2H1202M1164 694.2H1177M1190 694.2H1202M1177 699.2H1190M1164 732.2H1177M1164 744.2H1190M1139 745.2H1164M1152 747.2H1164M1152 751.2H1177M1164 753.2H1177M1088 771.2H1101M1101 774.2H1114M1076 790.3H1101M1063 795.3H1076M1063 801.3H1076"/>
<path stroke="#101010" d="M1278 546.0H1291M1266 563.0H1278M1240 589.1H1253M1240 590.1H1253M1202 617.1H1215M1202 621.1H1228M1190 645.1H1202M1177 694.2H1190M1164 721.2H1177M1177 732.2H1190M1076 801.3H1088"/>
</g>
</g>
<line x1="147.8" y1="832.2" x2="770.2" y2="832.2" stroke="#000" stroke-width="1.6"/>
<line x1="139.3" y1="831.3" x2="147.8" y2="831.3" stroke="#000" stroke-width="1.6"/>
<line x1="139.3" y1="684.2199999999999" x2="147.8" y2="684.2199999999999" stroke="#000" stroke-width="1.6"/>
<line x1="139.3" y1="537.1399999999999" x2="147.8" y2="537.1399999999999" stroke="#000" stroke-width="1.6"/>
<line x1="139.3" y1="390.05999999999995" x2="147.8" y2="390.05999999999995" stroke="#000" stroke-width="1.6"/>
<line x1="139.3" y1="242.9799999999999" x2="147.8" y2="242.9799999999999" stroke="#000" stroke-width="1.6"/>
<line x1="139.3" y1="95.89999999999986" x2="147.8" y2="95.89999999999986" stroke="#000" stroke-width="1.6"/>
<line x1="160.75" y1="832.2" x2="160.75" y2="839.5" stroke="#000" stroke-width="1.6"/>
<line x1="409.5" y1="832.2" x2="409.5" y2="839.5" stroke="#000" stroke-width="1.6"/>
<line x1="658.25" y1="832.2" x2="658.25" y2="839.5" stroke="#000" stroke-width="1.6"/>
<line x1="1037.8" y1="375.2" x2="1341.5" y2="375.2" stroke="#000" stroke-width="1.6"/>
<line x1="1069.4" y1="375.2" x2="1069.4" y2="383.0" stroke="#000" stroke-width="1.6"/>
<line x1="1195.9" y1="375.2" x2="1195.9" y2="383.0" stroke="#000" stroke-width="1.6"/>
<line x1="1322.4" y1="375.2" x2="1322.4" y2="383.0" stroke="#000" stroke-width="1.6"/>
<line x1="1037.8" y1="837.7" x2="1341.5" y2="837.7" stroke="#000" stroke-width="1.6"/>
<line x1="1069.4" y1="837.7" x2="1069.4" y2="846.1" stroke="#000" stroke-width="1.6"/>
<line x1="1195.9" y1="837.7" x2="1195.9" y2="846.1" stroke="#000" stroke-width="1.6"/>
<line x1="1322.4" y1="837.7" x2="1322.4" y2="846.1" stroke="#000" stroke-width="1.6"/>
<rect x="783.4" y="60.8" width="12.5" height="231.9" fill="url(#cb)" stroke="#000" stroke-width="1.4"/>
<rect x="1366.8" y="60.7" width="12.2" height="232.1" fill="url(#cb2)" stroke="#000" stroke-width="1.4"/>
<g font-family="Liberation Sans, sans-serif">
<text x="0" y="0" transform="translate(1.36 48.44) scale(0.9221 1)" font-size="56.95" font-weight="bold" fill="#231f20">a</text>
<text x="0" y="0" transform="translate(335.89 45.60) scale(1.0402 1)" font-size="45.86" font-weight="normal" fill="#000">Locomotion</text>
<text x="0" y="0" transform="translate(50.99 111.82) scale(1.0720 1)" font-size="44.49" font-weight="normal" fill="#000">500</text>
<text x="0" y="0" transform="translate(51.82 258.92) scale(1.0605 1)" font-size="44.49" font-weight="normal" fill="#000">400</text>
<text x="0" y="0" transform="translate(51.09 406.02) scale(1.0706 1)" font-size="44.49" font-weight="normal" fill="#000">300</text>
<text x="0" y="0" transform="translate(50.49 553.02) scale(1.0789 1)" font-size="44.49" font-weight="normal" fill="#000">200</text>
<text x="0" y="0" transform="translate(49.18 700.12) scale(1.0969 1)" font-size="44.49" font-weight="normal" fill="#000">100</text>
<text x="0" y="0" transform="translate(105.23 847.22) scale(1.0203 1)" font-size="44.49" font-weight="normal" fill="#000">0</text>
<text x="0" y="0" transform="translate(148.13 880.67) scale(1.0203 1)" font-size="44.49" font-weight="normal" fill="#000">0</text>
<text x="0" y="0" transform="translate(382.56 880.67) scale(1.0877 1)" font-size="44.49" font-weight="normal" fill="#000">50</text>
<text x="0" y="0" transform="translate(617.07 880.67) scale(1.0853 1)" font-size="44.49" font-weight="normal" fill="#000">100</text>
<text x="0" y="0" transform="translate(217.04 931.20) scale(1.0702 1)" font-size="44.19" font-weight="normal" fill="#000">Treadmill Position (cm)</text>
<text x="0" y="0" transform="translate(31.90 636.30) rotate(-90) scale(1.0512 1)" font-size="44.00" font-weight="normal" fill="#000">Sorted Place Cells</text>
<text x="0" y="0" transform="translate(833.60 284.08) rotate(-90) scale(0.9860 1)" font-size="43.00" font-weight="normal" fill="#231f20">Normalized</text>
<text x="0" y="0" transform="translate(884.10 279.86) rotate(-90) scale(0.9812 1)" font-size="43.00" font-weight="normal" fill="#231f20">Firing Rate</text>
<text x="0" y="0" transform="translate(932.96 49.55) scale(1.0545 1)" font-size="56.65" font-weight="bold" fill="#231f20">b</text>
<text x="0" y="0" transform="translate(1121.22 47.90) scale(0.9203 1)" font-size="45.06" font-weight="normal" fill="#000">SPW-R</text>
<text x="0" y="0" transform="translate(1146.43 510.50) scale(0.9829 1)" font-size="44.33" font-weight="normal" fill="#000">DS2</text>
<text x="0" y="0" transform="translate(1342.91 54.08) scale(0.8947 1)" font-size="42.65" font-weight="normal" fill="#231f20">0.1</text>
<text x="0" y="0" transform="translate(1360.61 336.39) scale(1.0220 1)" font-size="42.37" font-weight="normal" fill="#231f20">0</text>
<text x="0" y="0" transform="translate(1416.10 281.17) rotate(-90) scale(0.9974 1)" font-size="43.60" font-weight="normal" fill="#231f20">Post. Prob.</text>
<text x="0" y="0" transform="translate(1011.80 366.64) rotate(-90) scale(1.0272 1)" font-size="45.93" font-weight="normal" fill="#000">Sorted Events</text>
<text x="0" y="0" transform="translate(1011.80 829.14) rotate(-90) scale(1.0258 1)" font-size="45.93" font-weight="normal" fill="#000">Sorted Events</text>
<text x="0" y="0" transform="translate(1026.48 423.97) scale(1.1513 1)" font-size="44.35" font-weight="normal" fill="#000">−50</text>
<text x="0" y="0" transform="translate(1183.20 423.97) scale(1.0377 1)" font-size="44.35" font-weight="normal" fill="#000">0</text>
<text x="0" y="0" transform="translate(1296.09 423.97) scale(1.0759 1)" font-size="44.35" font-weight="normal" fill="#000">50</text>
<text x="0" y="0" transform="translate(1026.48 886.87) scale(1.1476 1)" font-size="44.49" font-weight="normal" fill="#000">−50</text>
<text x="0" y="0" transform="translate(1183.20 886.87) scale(1.0344 1)" font-size="44.49" font-weight="normal" fill="#000">0</text>
<text x="0" y="0" transform="translate(1296.09 886.87) scale(1.0725 1)" font-size="44.49" font-weight="normal" fill="#000">50</text>
<text x="0" y="0" transform="translate(1040.85 936.50) scale(1.1187 1)" font-size="43.02" font-weight="normal" fill="#000">Distance (cm)</text>
</g>
</svg>
</body></html>
